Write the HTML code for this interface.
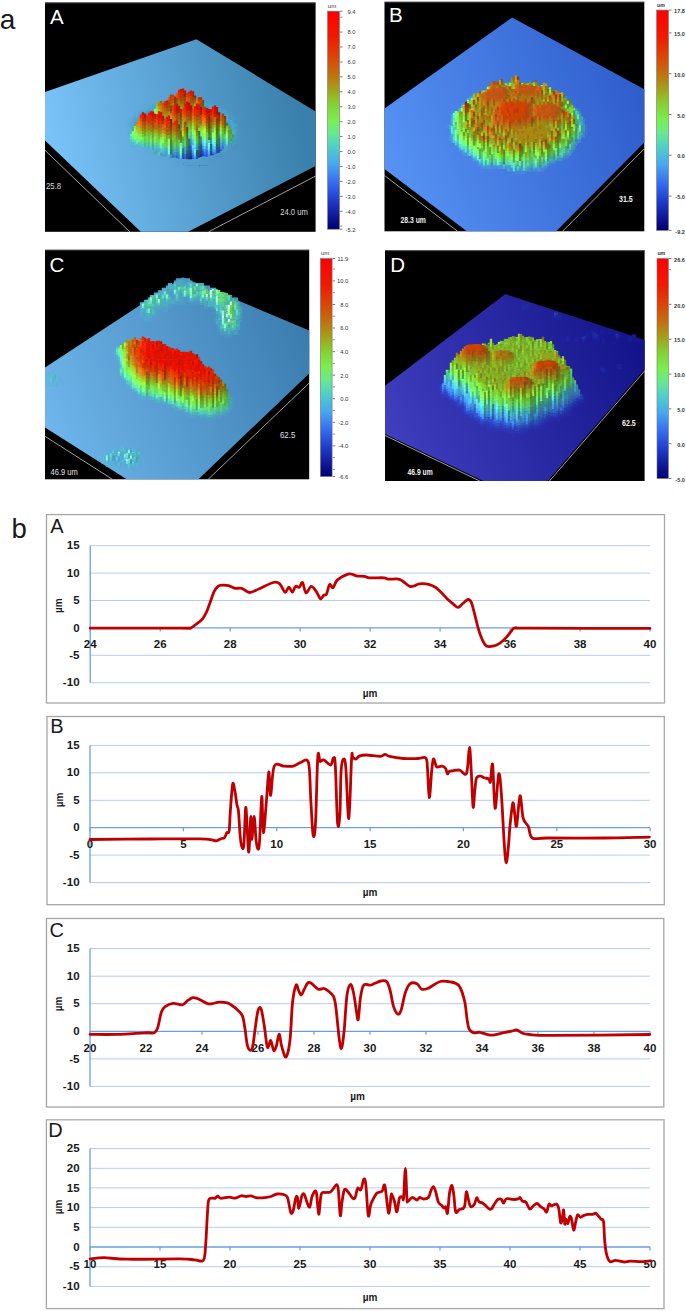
<!DOCTYPE html>
<html><head><meta charset="utf-8"><title>figure</title>
<style>
html,body{margin:0;padding:0;background:#fff;width:686px;height:1311px;overflow:hidden;}
svg{display:block;}
text{font-family:"Liberation Sans",sans-serif;}
</style></head><body>
<svg width="686" height="1311" viewBox="0 0 686 1311">
<defs><linearGradient id="cbg" x1="0" y1="0" x2="0" y2="1"><stop offset="0.00" stop-color="#ff0000"/><stop offset="0.12" stop-color="#f01a00"/><stop offset="0.22" stop-color="#d84a08"/><stop offset="0.29" stop-color="#c07010"/><stop offset="0.35" stop-color="#a89a18"/><stop offset="0.42" stop-color="#88cc30"/><stop offset="0.50" stop-color="#78f050"/><stop offset="0.56" stop-color="#68e890"/><stop offset="0.62" stop-color="#50d0c8"/><stop offset="0.70" stop-color="#48a8f0"/><stop offset="0.78" stop-color="#3870f0"/><stop offset="0.86" stop-color="#2040d0"/><stop offset="0.94" stop-color="#101898"/><stop offset="1.00" stop-color="#000070"/></linearGradient></defs>
<text x="-0.2" y="28.8" font-size="28" fill="#1a1a1a">a</text>
<text x="11.4" y="537.6" font-size="27.5" fill="#1a1a1a">b</text>
<linearGradient id="pgA" gradientUnits="userSpaceOnUse" x1="60" y1="170" x2="300" y2="120"><stop offset="0" stop-color="#78c2f8"/><stop offset="1" stop-color="#3a80ac"/></linearGradient>
<rect x="45.0" y="2.5" width="270.6" height="229.3" fill="#000"/>
<line x1="45.0" y1="2.9" x2="315.6" y2="2.9" stroke="#555" stroke-width="0.8"/>
<polygon points="45.0,92.0 196.4,39.3 315.6,111.4 315.6,165.9 188.2,231.8 140.8,231.8 45.0,140.5" fill="url(#pgA)"/>
<clipPath id="cA"><rect x="45.0" y="2.5" width="270.6" height="229.3"/></clipPath>
<g clip-path="url(#cA)"><g stroke-width="2.35" fill="none">
<path d="M171 97v2.7" stroke="#57a1d1"/>
<path d="M173 97v2.7" stroke="#57a1d0"/>
<path d="M175 97v2.5" stroke="#56a1cf"/>
<path d="M177 97v2.3" stroke="#55a1ce"/>
<path d="M179 97v2.5" stroke="#55a0cd"/>
<path d="M181 97v2.5" stroke="#559fce"/>
<path d="M183 97v2.5" stroke="#549fcd"/>
<path d="M185 97v2.5" stroke="#549ecc"/>
<path d="M187 97v2.6" stroke="#539dcc"/>
<path d="M191 97v2.7" stroke="#539ccb"/>
<path d="M193 97v2.7" stroke="#529cca"/>
<path d="M159 99.2v2.7" stroke="#5aa5d4"/>
<path d="M161 99.2v2.8" stroke="#5aa4d3"/>
<path d="M163 99.2v2.7" stroke="#59a4d3"/>
<path d="M165 99.2v2.9" stroke="#56a4d0"/>
<path d="M167 99.3v3.2" stroke="#54a5cf"/>
<path d="M169 99.2v3.5" stroke="#52a5ce"/>
<path d="M171 99.3v3.2" stroke="#53a6cf"/>
<path d="M173 99.3v3.3" stroke="#50a4cb"/>
<path d="M175 99.1v3.7" stroke="#51a7ce"/>
<path d="M177 98.9v3.4" stroke="#53a4cd"/>
<path d="M179 99.1v2.9" stroke="#55a1cd"/>
<path d="M181 99.1v3.4" stroke="#4da3c6"/>
<path d="M183 99.1v3.5" stroke="#4fa9cd"/>
<path d="M185 99.1v3.5" stroke="#4ca3c6"/>
<path d="M187 99.2v3.7" stroke="#4ea6cb"/>
<path d="M189 99.3v2.7" stroke="#52a1cb"/>
<path d="M191 99.3v2.3" stroke="#529dca"/>
<path d="M193 99.3v2.7" stroke="#519ec9"/>
<path d="M195 99.2v2.2" stroke="#50a9ca"/>
<path d="M197 99.3v2.3" stroke="#4ca0c2"/>
<path d="M199 99.3v2.4" stroke="#4fa8cb"/>
<path d="M201 99.2v2.2" stroke="#4ca0c2"/>
<path d="M203 99.2v2.9" stroke="#4f9cc7"/>
<path d="M205 99.2v2.7" stroke="#4f9ac7"/>
<path d="M155 101.4v2.2" stroke="#57abd2"/>
<path d="M157 101.4v2" stroke="#56a9cf"/>
<path d="M159 101.5v2.3" stroke="#59a5d3"/>
<path d="M161 101.6v3" stroke="#52a5cc"/>
<path d="M163 101.6v3.6" stroke="#52a6d0"/>
<path d="M165 101.8v3.7" stroke="#4ba2c9"/>
<path d="M167 102.1v3.8" stroke="#4ca3cf"/>
<path d="M169 102.3v3.3" stroke="#4ca5d1"/>
<path d="M171 102.1v3.6" stroke="#4ca5d0"/>
<path d="M173 102.2v3.9" stroke="#479eca"/>
<path d="M175 102.3v3.9" stroke="#49a3d3"/>
<path d="M177 101.9v2.4" stroke="#4ea4ce"/>
<path d="M179 101.6v2.5" stroke="#4fa4cc"/>
<path d="M181 102.2v2.3" stroke="#499ec7"/>
<path d="M183 102.2v2.2" stroke="#4ca7d2"/>
<path d="M185 102.2v2.2" stroke="#489ec8"/>
<path d="M187 102.4v3.4" stroke="#4ba9d9"/>
<path d="M189 101.6v2.3" stroke="#4fa1ca"/>
<path d="M191 101.2v2.7" stroke="#4ea1c8"/>
<path d="M193 101.6v2.5" stroke="#4da1c9"/>
<path d="M195 101v2.7" stroke="#4fa6ca"/>
<path d="M197 101.2v2.4" stroke="#4ca0c4"/>
<path d="M199 101.2v2.3" stroke="#4ea5ca"/>
<path d="M201 101v2.5" stroke="#4c9ec2"/>
<path d="M203 101.7v3.8" stroke="#4ba1ca"/>
<path d="M205 101.5v3.1" stroke="#4da8cc"/>
<path d="M207 101.5v2.7" stroke="#4e9bc5"/>
<path d="M209 101.5v2.6" stroke="#4e9dc7"/>
<path d="M211 101.4v2.4" stroke="#4e9ac5"/>
<path d="M213 101.4v2.7" stroke="#4e97c5"/>
<path d="M215 101.4v2.7" stroke="#4d96c4"/>
<path d="M177 103.9v2.4" stroke="#48a1d4"/>
<path d="M179 103.7v2.5" stroke="#48a0d2"/>
<path d="M181 104v2.3" stroke="#4599cb"/>
<path d="M183 104.1v2.2" stroke="#49a3d9"/>
<path d="M185 104.1v2.2" stroke="#4599cc"/>
<path d="M189 103.5v2.3" stroke="#48a2ce"/>
<path d="M191 103.5v2.7" stroke="#469ecd"/>
<path d="M193 103.6v2.5" stroke="#479ece"/>
<path d="M195 103.3v2.7" stroke="#4aa5d4"/>
<path d="M197 103.2v2.4" stroke="#469ec6"/>
<path d="M199 103.1v2.3" stroke="#4ca5cf"/>
<path d="M201 103.1v2.5" stroke="#489cc5"/>
<path d="M147 103.6v2.5" stroke="#5da8d7"/>
<path d="M149 103.6v2.4" stroke="#5ca7d7"/>
<path d="M151 103.7v1.9" stroke="#56afd1"/>
<path d="M153 103.6v2.6" stroke="#51a5c8"/>
<path d="M155 103.2v2.5" stroke="#56a9d1"/>
<path d="M157 103v2.7" stroke="#55a7ce"/>
<path d="M159 103.4v2.6" stroke="#54a6ce"/>
<path d="M161 104.2v2.3" stroke="#4ca2ca"/>
<path d="M163 104.8v3.7" stroke="#49a2d3"/>
<path d="M165 105.1v3.3" stroke="#489ed1"/>
<path d="M167 105.5v3" stroke="#479ed5"/>
<path d="M169 105.2v3.3" stroke="#48a1d8"/>
<path d="M171 105.2v3.2" stroke="#479fd4"/>
<path d="M173 105.6v2.7" stroke="#479dd3"/>
<path d="M175 105.8v2.7" stroke="#479dd7"/>
<path d="M177 105.9v1.7" stroke="#4caadf"/>
<path d="M179 105.8v1.2" stroke="#48a0ce"/>
<path d="M181 105.9v2.1" stroke="#469cd1"/>
<path d="M183 105.9v2.6" stroke="#479dd7"/>
<path d="M185 105.9v2.6" stroke="#479cd7"/>
<path d="M187 105.5v3" stroke="#48a1d9"/>
<path d="M189 105.4v3.1" stroke="#459bd1"/>
<path d="M191 105.8v2.7" stroke="#469cd6"/>
<path d="M193 105.7v2.5" stroke="#48a2db"/>
<path d="M195 105.6v2.6" stroke="#459ad0"/>
<path d="M197 105.3v3.2" stroke="#48a3da"/>
<path d="M199 105v3.4" stroke="#469dce"/>
<path d="M201 105.1v3.3" stroke="#469dd2"/>
<path d="M203 105.1v3.1" stroke="#48a3d5"/>
<path d="M205 104.2v3.2" stroke="#4da8d1"/>
<path d="M207 103.8v3.4" stroke="#4b9dc5"/>
<path d="M209 103.7v2.1" stroke="#4d9ec7"/>
<path d="M211 103.4v1.7" stroke="#4e9ec7"/>
<path d="M213 103.7v1.6" stroke="#4ca1c2"/>
<path d="M215 103.7v2.2" stroke="#4c9cc3"/>
<path d="M217 103.7v2.7" stroke="#4d96c4"/>
<path d="M219 103.6v2.7" stroke="#4c96c3"/>
<path d="M155 105.3v2.5" stroke="#4fa7d1"/>
<path d="M157 105.3v2.7" stroke="#4ba2cc"/>
<path d="M159 105.6v2.6" stroke="#4aa1cf"/>
<path d="M161 106.1v2.3" stroke="#479ccc"/>
<path d="M209 105.4v2.1" stroke="#4aa1cb"/>
<path d="M211 104.7v1.7" stroke="#4dabcc"/>
<path d="M143 105.8v2.7" stroke="#5ea9d9"/>
<path d="M145 105.8v3" stroke="#59a9d4"/>
<path d="M147 105.7v2.8" stroke="#5aacd6"/>
<path d="M149 105.7v3" stroke="#55a7cd"/>
<path d="M151 105.2v2.5" stroke="#55accf"/>
<path d="M153 105.9v2.2" stroke="#51a5ca"/>
<path d="M155 107.3v2.7" stroke="#489ecc"/>
<path d="M157 107.7v3" stroke="#499fd5"/>
<path d="M159 107.8v2.9" stroke="#489ed7"/>
<path d="M161 107.9v2.6" stroke="#49a0d9"/>
<path d="M163 108v2.5" stroke="#479cd5"/>
<path d="M165 108v2.8" stroke="#479dd9"/>
<path d="M167 108.1v2.7" stroke="#479cd8"/>
<path d="M169 108.2v2.6" stroke="#479dda"/>
<path d="M171 108v2.6" stroke="#48a0db"/>
<path d="M173 108v2.4" stroke="#48a0d7"/>
<path d="M175 108.1v1.6" stroke="#4aa5d9"/>
<path d="M177 107.1v1.8" stroke="#4eb4dc"/>
<path d="M179 106.6v1.6" stroke="#50a6cb"/>
<path d="M187 108.1v.9" stroke="#47a0cd"/>
<path d="M189 108.1v1.6" stroke="#479fd2"/>
<path d="M191 108.2v1.9" stroke="#469ed4"/>
<path d="M193 107.8v2.3" stroke="#48a2d7"/>
<path d="M195 107.8v2.5" stroke="#459bcf"/>
<path d="M197 108v2.3" stroke="#47a1d8"/>
<path d="M199 107.9v2.5" stroke="#459ad1"/>
<path d="M201 108.1v1.9" stroke="#49a6dc"/>
<path d="M203 107.8v2.2" stroke="#459ccd"/>
<path d="M205 107v3.5" stroke="#48a5d7"/>
<path d="M207 106.8v3.7" stroke="#459dca"/>
<path d="M209 107.2v3.6" stroke="#459dcf"/>
<path d="M211 106.1v2.4" stroke="#4dadd3"/>
<path d="M213 104.9v2.7" stroke="#4ca0c2"/>
<path d="M215 105.5v2.4" stroke="#4b9bc2"/>
<path d="M217 106v3.6" stroke="#4aa3c9"/>
<path d="M219 105.9v3.1" stroke="#4c9bc4"/>
<path d="M221 105.8v2.6" stroke="#4c99c4"/>
<path d="M223 105.8v2.5" stroke="#4b97c2"/>
<path d="M151 107.3v2.5" stroke="#50a9d1"/>
<path d="M153 107.6v2.2" stroke="#4da1ca"/>
<path d="M211 108v2.4" stroke="#4baadc"/>
<path d="M213 107.2v2.7" stroke="#48a1c8"/>
<path d="M215 107.5v2.4" stroke="#489bc4"/>
<path d="M139 108v2.7" stroke="#5faada"/>
<path d="M141 108.1v2.9" stroke="#5baad6"/>
<path d="M143 108.1v3.4" stroke="#55a9d1"/>
<path d="M145 108.4v3" stroke="#56aad4"/>
<path d="M147 108.1v2.1" stroke="#59a9d4"/>
<path d="M149 108.3v2.4" stroke="#4ea3c9"/>
<path d="M151 109.4v3.3" stroke="#4aa1d3"/>
<path d="M153 109.4v3.4" stroke="#49a3d6"/>
<path d="M155 109.7v3.2" stroke="#479dd1"/>
<path d="M157 110.3v2.6" stroke="#489ed8"/>
<path d="M159 110.3v2.4" stroke="#49a1da"/>
<path d="M161 110.1v2.5" stroke="#49a0d7"/>
<path d="M163 110.2v2.2" stroke="#49a2d9"/>
<path d="M165 110.4v1.9" stroke="#479dd4"/>
<path d="M167 110.4v2.1" stroke="#48a0d9"/>
<path d="M169 110.4v2" stroke="#48a1d9"/>
<path d="M171 110.2v1.7" stroke="#4aa5d9"/>
<path d="M199 110v1.4" stroke="#469fca"/>
<path d="M201 109.5v2.3" stroke="#4aaad7"/>
<path d="M203 109.5v2.5" stroke="#4399c5"/>
<path d="M205 110.1v2.6" stroke="#459dd4"/>
<path d="M207 110.1v3" stroke="#4499d2"/>
<path d="M209 110.3v2.7" stroke="#459bd7"/>
<path d="M211 110v2.3" stroke="#49a5db"/>
<path d="M213 109.5v2.1" stroke="#4aa3cf"/>
<path d="M215 109.4v2.8" stroke="#449ac6"/>
<path d="M217 109.1v3.6" stroke="#48a3d4"/>
<path d="M219 108.6v3.8" stroke="#48a3cd"/>
<path d="M221 108.1v3.8" stroke="#4aa2c9"/>
<path d="M223 107.9v3.4" stroke="#4a9ec4"/>
<path d="M225 108.1v2.8" stroke="#4b96c2"/>
<path d="M227 108v2.7" stroke="#4b95c1"/>
<path d="M147 109.8v2.1" stroke="#4da7cf"/>
<path d="M149 110.3v2.4" stroke="#489cca"/>
<path d="M139 110.3v2.9" stroke="#59aad4"/>
<path d="M141 110.6v3.4" stroke="#52a7cf"/>
<path d="M143 111.1v3.5" stroke="#4ca3ce"/>
<path d="M145 111.1v3.8" stroke="#4da7d6"/>
<path d="M147 111.5v3.5" stroke="#489dcd"/>
<path d="M149 112.3v2.8" stroke="#489ed7"/>
<path d="M151 112.3v2.9" stroke="#49a1da"/>
<path d="M153 112.4v2.6" stroke="#489fd7"/>
<path d="M155 112.5v2.1" stroke="#4aa4dc"/>
<path d="M157 112.5v1.5" stroke="#4ba6d8"/>
<path d="M159 112.3v1.3" stroke="#4ba8d6"/>
<path d="M161 112.3v1.5" stroke="#49a2d0"/>
<path d="M163 112v2.1" stroke="#4ba7d7"/>
<path d="M165 111.9v1.1" stroke="#4fafd8"/>
<path d="M201 111.4v2.8" stroke="#469cc6"/>
<path d="M203 111.7v3.3" stroke="#479dce"/>
<path d="M205 112.3v2.8" stroke="#4498cf"/>
<path d="M207 112.6v2.6" stroke="#459bd7"/>
<path d="M209 112.6v2.7" stroke="#459ad7"/>
<path d="M211 111.9v3" stroke="#49a6dd"/>
<path d="M213 111.2v3.4" stroke="#489fcc"/>
<path d="M215 111.8v3.2" stroke="#4296c7"/>
<path d="M217 112.3v2.8" stroke="#459cd6"/>
<path d="M219 111.9v2.5" stroke="#49a7da"/>
<path d="M221 111.5v2.7" stroke="#469dc8"/>
<path d="M223 110.9v3.5" stroke="#49a5cf"/>
<path d="M225 110.5v3" stroke="#4aa1c7"/>
<path d="M227 110.4v2.5" stroke="#4b95c2"/>
<path d="M135 112.5v2.8" stroke="#5dabd8"/>
<path d="M137 112.5v2.9" stroke="#5dacd9"/>
<path d="M139 112.8v2.9" stroke="#55a7d0"/>
<path d="M141 113.6v3" stroke="#4ca1cd"/>
<path d="M143 114.2v3" stroke="#499fd3"/>
<path d="M145 114.5v2.9" stroke="#489fd8"/>
<path d="M147 114.6v2.8" stroke="#489ed9"/>
<path d="M149 114.7v2.6" stroke="#499fda"/>
<path d="M151 114.8v2.2" stroke="#4aa3dc"/>
<path d="M153 114.6v1.4" stroke="#4dacdd"/>
<path d="M185 90.6v.7" stroke="#920"/>
<path d="M207 114.8v1.5" stroke="#469dd0"/>
<path d="M209 114.8v2.2" stroke="#4499d1"/>
<path d="M211 114.5v3" stroke="#469ed9"/>
<path d="M213 114.2v3.2" stroke="#459dd4"/>
<path d="M215 114.6v2.9" stroke="#4498d1"/>
<path d="M217 114.8v2.7" stroke="#459ad7"/>
<path d="M219 114v3.4" stroke="#48a4db"/>
<path d="M221 113.8v3.5" stroke="#4398ca"/>
<path d="M223 114v2.8" stroke="#48a5d8"/>
<path d="M225 113.1v3.4" stroke="#49a1cb"/>
<path d="M227 112.5v3.6" stroke="#4aa5c9"/>
<path d="M229 112.5v3M231 112.5v2.9" stroke="#4a97c1"/>
<path d="M233 112.4v2.7" stroke="#4a93c0"/>
<path d="M135 114.9v2.8" stroke="#57a9d2"/>
<path d="M137 115v3.3" stroke="#58acd7"/>
<path d="M139 115.3v3.3" stroke="#4fa4cd"/>
<path d="M141 116.2v3.1" stroke="#489dcf"/>
<path d="M143 116.8v2.8" stroke="#489ed8"/>
<path d="M145 117v2.7" stroke="#489eda"/>
<path d="M147 117v2.6" stroke="#489edb"/>
<path d="M149 117v2.5" stroke="#4aa1dc"/>
<path d="M151 116.6v1" stroke="#52b7e4"/>
<path d="M177 93.3v2.7" stroke="#f40"/>
<path d="M179 89.7v3.4" stroke="#e20"/>
<path d="M181 89.1v2.9" stroke="#d10"/>
<path d="M183 88.6v3.5" stroke="#c10"/>
<path d="M185 90.9v3.5" stroke="#a20"/>
<path d="M187 93.1v2.3" stroke="#d30"/>
<path d="M189 91.6v2.9" stroke="#e20"/>
<path d="M191 90.5v2.8" stroke="#d10"/>
<path d="M193 91.3v3.3" stroke="#b20"/>
<path d="M195 95.5v2.6" stroke="#830"/>
<path d="M209 116.6v2.2" stroke="#4398c9"/>
<path d="M211 117.1v2.5" stroke="#4499d4"/>
<path d="M213 117v2.4" stroke="#469fda"/>
<path d="M215 117v2.3" stroke="#4499d2"/>
<path d="M217 117.1v2.5" stroke="#459bd7"/>
<path d="M219 117v2.7" stroke="#459bd6"/>
<path d="M221 116.9v2.7" stroke="#449ad5"/>
<path d="M223 116.5v3.1" stroke="#46a0d8"/>
<path d="M225 116.1v3.3" stroke="#459dd0"/>
<path d="M227 115.7v2.6" stroke="#4bacd7"/>
<path d="M229 115.1v1.7" stroke="#4a9ec4"/>
<path d="M231 114.9v2" stroke="#499abf"/>
<path d="M233 114.7v2.8" stroke="#4a96c1"/>
<path d="M235 114.6v2.7" stroke="#4993bf"/>
<path d="M177 95.5v2.7" stroke="#e50"/>
<path d="M179 92.7v3.4" stroke="#d30"/>
<path d="M181 91.6v2.9" stroke="#d20"/>
<path d="M183 91.7v3.5" stroke="#c20"/>
<path d="M185 94v3.5" stroke="#920"/>
<path d="M187 95v2.3" stroke="#d40"/>
<path d="M131 116.8v2.3" stroke="#5dafd9"/>
<path d="M133 116.8v2.8" stroke="#59abd2"/>
<path d="M135 117.3v3.4" stroke="#50a5cd"/>
<path d="M137 117.8v3.4" stroke="#50a7d5"/>
<path d="M139 118.2v3.4" stroke="#489ece"/>
<path d="M141 118.9v3" stroke="#489ed6"/>
<path d="M143 119.2v2.5" stroke="#499fdb"/>
<path d="M145 119.3v2.1" stroke="#4aa2dd"/>
<path d="M147 119.3v2.1" stroke="#489fd7"/>
<path d="M149 119v2.5" stroke="#4aa2db"/>
<path d="M151 117.2v2" stroke="#54bae0"/>
<path d="M153 114.2v1.5" stroke="#6fc"/>
<path d="M155 108.7v2" stroke="#9f5"/>
<path d="M157 103.7v2.6" stroke="#aa2"/>
<path d="M159 101.2v2.3" stroke="#c81"/>
<path d="M161 101.1v2.3" stroke="#961"/>
<path d="M163 104.3v2.3" stroke="#771"/>
<path d="M165 105.6v2.8" stroke="#8b2"/>
<path d="M167 102.1v2.4" stroke="#da1"/>
<path d="M169 96.9v3.2" stroke="#e50"/>
<path d="M171 94.8v4" stroke="#c30"/>
<path d="M173 94.7v2.9" stroke="#d30"/>
<path d="M175 96.6v2.6" stroke="#930"/>
<path d="M177 97.8v2.6" stroke="#940"/>
<path d="M179 95.6v3.3" stroke="#c40"/>
<path d="M181 94.1v3.6M183 94.8v3.4" stroke="#b30"/>
<path d="M185 97v3.9" stroke="#940"/>
<path d="M187 96.9v3.5" stroke="#d51"/>
<path d="M189 94.2v3.6" stroke="#d30"/>
<path d="M191 92.9v3.7" stroke="#c20"/>
<path d="M193 94.2v3.4" stroke="#a20"/>
<path d="M195 97.7v2.4" stroke="#a40"/>
<path d="M197 99.5v1.2" stroke="#d61"/>
<path d="M203 100.3v.7" stroke="#840"/>
<path d="M207 114.5v.8" stroke="#386"/>
<path d="M209 118.5v2.3" stroke="#4397c2"/>
<path d="M211 119.1v2.7" stroke="#4499d3"/>
<path d="M213 119v2.9" stroke="#469dd9"/>
<path d="M215 118.9v2.9" stroke="#449ad3"/>
<path d="M217 119.2v2.6" stroke="#459bd6"/>
<path d="M219 119.2v2.6" stroke="#4499d4"/>
<path d="M221 119.3v2.6" stroke="#459bd7"/>
<path d="M223 119.2v2.4" stroke="#469dd7"/>
<path d="M225 119v2.5" stroke="#459bd3"/>
<path d="M227 117.9v3.2" stroke="#4baddc"/>
<path d="M229 116.4v2.2" stroke="#4a9ec3"/>
<path d="M231 116.6v2.1" stroke="#4899be"/>
<path d="M233 117.1v2.9" stroke="#499cc4"/>
<path d="M235 116.9v2.6" stroke="#4995c0"/>
<path d="M151 118.8v2" stroke="#53b7e4"/>
<path d="M153 115.3v1.5" stroke="#6fc"/>
<path d="M177 100v2.6" stroke="#951"/>
<path d="M179 98.5v3.3" stroke="#b51"/>
<path d="M181 97.3v3.6" stroke="#a40"/>
<path d="M183 97.8v3.4" stroke="#a41"/>
<path d="M185 100.6v3.9" stroke="#851"/>
<path d="M187 100.1v3.5" stroke="#c71"/>
<path d="M189 97.4v3.6" stroke="#c51"/>
<path d="M191 96.2v3.7" stroke="#b40"/>
<path d="M193 97.2v3.4" stroke="#940"/>
<path d="M195 99.6v2.4" stroke="#951"/>
<path d="M229 118.2v2.2" stroke="#4a9dc5"/>
<path d="M231 118.3v2.1" stroke="#4897c0"/>
<path d="M177 102.2v2.6" stroke="#861"/>
<path d="M179 101.4v3.3" stroke="#a71"/>
<path d="M181 100.4v3.6M183 100.8v3.4" stroke="#961"/>
<path d="M185 104.1v3.9" stroke="#771"/>
<path d="M187 103.2v3.5" stroke="#ba1"/>
<path d="M189 100.6v3.6" stroke="#b61"/>
<path d="M191 99.6v3.7" stroke="#a51"/>
<path d="M193 100.3v3.4" stroke="#951"/>
<path d="M195 101.6v2.4" stroke="#961"/>
<path d="M179 104.2v3.3" stroke="#992"/>
<path d="M181 103.6v3.6M183 103.8v3.4" stroke="#881"/>
<path d="M131 118.7v3.2" stroke="#5daed8"/>
<path d="M133 119.2v3.5" stroke="#54a7ce"/>
<path d="M135 120.4v3" stroke="#4ba1cf"/>
<path d="M137 120.8v3" stroke="#4ca2d7"/>
<path d="M139 121.2v2.3" stroke="#4ba4da"/>
<path d="M141 121.4v2.1" stroke="#489dd4"/>
<path d="M143 121.4v2.4" stroke="#4ba3de"/>
<path d="M145 121v2.6" stroke="#4ba3d8"/>
<path d="M147 121v3" stroke="#489dd4"/>
<path d="M149 121.2v1.7" stroke="#4eafe3"/>
<path d="M151 120.4v2.1" stroke="#4da7d0"/>
<path d="M153 116.5v2.3" stroke="#6ec"/>
<path d="M155 110.4v3.4" stroke="#8f5"/>
<path d="M157 105.9v3.4" stroke="#ac2"/>
<path d="M159 103.1v3.3" stroke="#a81"/>
<path d="M161 103.1v2.3" stroke="#a71"/>
<path d="M167 104.2v1" stroke="#c91"/>
<path d="M169 99.7v2.5" stroke="#b51"/>
<path d="M171 98.4v3.2" stroke="#b40"/>
<path d="M173 97.2v3.4" stroke="#d40"/>
<path d="M175 98.8v3.4" stroke="#830"/>
<path d="M177 104.4v2.7" stroke="#761"/>
<path d="M179 107.1v2.8" stroke="#682"/>
<path d="M181 106.8v3.5" stroke="#8b2"/>
<path d="M183 106.8v3.5" stroke="#692"/>
<path d="M185 107.6v3.7" stroke="#7a2"/>
<path d="M187 106.4v3.5" stroke="#9c2"/>
<path d="M189 103.8v3.8" stroke="#981"/>
<path d="M191 102.9v3.8" stroke="#971"/>
<path d="M193 103.3v3.6" stroke="#871"/>
<path d="M195 103.5v2.7" stroke="#b91"/>
<path d="M197 100.2v3.6" stroke="#e71"/>
<path d="M199 96.9v4" stroke="#c30"/>
<path d="M201 97v3.6" stroke="#b30"/>
<path d="M203 100.5v3.2" stroke="#840"/>
<path d="M205 106.8v3.3" stroke="#571"/>
<path d="M207 114.9v2.5" stroke="#485"/>
<path d="M209 120.4v2.8" stroke="#4295bf"/>
<path d="M211 121.4v2.7" stroke="#4499d4"/>
<path d="M213 121.5v2.6" stroke="#449ad7"/>
<path d="M215 121.5v2.7" stroke="#459bd8"/>
<path d="M217 121.4v2.8" stroke="#449ad6"/>
<path d="M219 121.4v2.7" stroke="#4499d6"/>
<path d="M221 121.5v2.6" stroke="#449ad7"/>
<path d="M223 121.2v2.8" stroke="#469dd7"/>
<path d="M225 121.2v2.2" stroke="#46a0d5"/>
<path d="M227 120.7v2.7" stroke="#469fd0"/>
<path d="M229 120v3.9" stroke="#46a0cf"/>
<path d="M231 120v2.6" stroke="#4aaad2"/>
<path d="M233 119.7v1.6" stroke="#4a9ec4"/>
<path d="M235 119.1v2.4" stroke="#4996bf"/>
<path d="M237 118.9v2.9" stroke="#4994bf"/>
<path d="M153 118.3v2.3" stroke="#5dd"/>
<path d="M155 113.4v3.4" stroke="#7f7"/>
<path d="M157 108.9v3.4" stroke="#9e4"/>
<path d="M159 106v3.3" stroke="#9a2"/>
<path d="M161 105v2.3" stroke="#a81"/>
<path d="M167 104.7v1" stroke="#c81"/>
<path d="M169 101.9v2.5" stroke="#b61"/>
<path d="M171 101.2v3.2" stroke="#a51"/>
<path d="M173 100.2v3.4" stroke="#c51"/>
<path d="M175 101.7v3.4" stroke="#841"/>
<path d="M177 106.7v2.7" stroke="#671"/>
<path d="M179 109.5v2.8" stroke="#592"/>
<path d="M181 109.9v3.5" stroke="#7c4"/>
<path d="M183 110v3.5" stroke="#6a3"/>
<path d="M185 110.9v3.7" stroke="#6b4"/>
<path d="M187 109.5v3.5" stroke="#8d4"/>
<path d="M189 107.2v3.8" stroke="#7a2"/>
<path d="M191 106.4v3.8" stroke="#8a2"/>
<path d="M193 106.6v3.6" stroke="#792"/>
<path d="M195 105.8v2.7" stroke="#ab2"/>
<path d="M197 103.5v3.6" stroke="#c81"/>
<path d="M199 100.5v4" stroke="#b51"/>
<path d="M201 100.3v3.6" stroke="#b41"/>
<path d="M203 103.4v3.2" stroke="#751"/>
<path d="M205 109.8v3.3" stroke="#582"/>
<path d="M207 117v2.5" stroke="#386"/>
<path d="M153 120.2v2.3" stroke="#59c3e6"/>
<path d="M155 116.4v3.4" stroke="#6fb"/>
<path d="M157 111.9v3.4" stroke="#8f5"/>
<path d="M159 108.9v3.3" stroke="#8c3"/>
<path d="M161 106.9v2.3" stroke="#992"/>
<path d="M169 104v2.5M171 104v3.2" stroke="#a71"/>
<path d="M173 103.2v3.4" stroke="#b71"/>
<path d="M175 104.7v3.4" stroke="#751"/>
<path d="M177 109v2.7" stroke="#582"/>
<path d="M179 112v2.8" stroke="#5a3"/>
<path d="M181 113v3.5" stroke="#6d5"/>
<path d="M183 113.1v3.5" stroke="#5b5"/>
<path d="M185 114.1v3.7" stroke="#5b6"/>
<path d="M187 112.7v3.5" stroke="#7e6"/>
<path d="M189 110.6v3.8" stroke="#7c4"/>
<path d="M191 109.8v3.8" stroke="#7c3"/>
<path d="M193 109.8v3.6" stroke="#6a3"/>
<path d="M195 108.1v2.7" stroke="#9c3"/>
<path d="M179 114.4v2.8" stroke="#5a5"/>
<path d="M181 116.1v3.5" stroke="#5c9"/>
<path d="M183 116.2v3.5" stroke="#4a7"/>
<path d="M185 117.4v3.7" stroke="#4b9"/>
<path d="M187 115.8v3.5" stroke="#6e9"/>
<path d="M189 114v3.8" stroke="#6c6"/>
<path d="M191 113.2v3.8" stroke="#6d5"/>
<path d="M193 113v3.6" stroke="#6b4"/>
<path d="M195 110.4v2.7" stroke="#8e4"/>
<path d="M127 121.3v2.7" stroke="#63addf"/>
<path d="M129 121.2v2.9" stroke="#61addd"/>
<path d="M131 121.5v3.1" stroke="#56a9d1"/>
<path d="M133 122.3v2.8" stroke="#55a9d6"/>
<path d="M135 123v2.4" stroke="#4ba1d0"/>
<path d="M137 123.4v2.6" stroke="#499fd6"/>
<path d="M139 123v3.3" stroke="#4aa4dc"/>
<path d="M141 123.1v3.2" stroke="#479bd3"/>
<path d="M143 123.4v3" stroke="#49a1dd"/>
<path d="M145 123.2v3.1" stroke="#489ed7"/>
<path d="M147 123.6v2.8" stroke="#489dd9"/>
<path d="M149 122.5v2.1" stroke="#4daedf"/>
<path d="M151 122.1v2.3" stroke="#4ba1cb"/>
<path d="M153 122.1v2.1" stroke="#50aeda"/>
<path d="M155 119.4v2.8" stroke="#5dc"/>
<path d="M157 115v2" stroke="#8f7"/>
<path d="M173 106.1v2" stroke="#861"/>
<path d="M175 107.7v3.1" stroke="#661"/>
<path d="M177 111.3v3.2" stroke="#6a3"/>
<path d="M179 116.8v2.8" stroke="#496"/>
<path d="M181 119.2v3.2" stroke="#5dc"/>
<path d="M183 119.4v3.2" stroke="#499"/>
<path d="M185 120.6v3" stroke="#51a7cc"/>
<path d="M187 119v3.6" stroke="#5cb"/>
<path d="M189 117.5v3" stroke="#5c9"/>
<path d="M191 116.7v3.3M193 116.3v3.3" stroke="#5c8"/>
<path d="M195 112.6v3.2" stroke="#8f5"/>
<path d="M197 106.7v3.4" stroke="#aa2"/>
<path d="M199 104v3.3" stroke="#b71"/>
<path d="M201 103.5v3.4" stroke="#851"/>
<path d="M203 106.2v3.4" stroke="#761"/>
<path d="M205 112.7v3.1" stroke="#593"/>
<path d="M207 119.2v2.4" stroke="#398"/>
<path d="M209 122.8v3.5" stroke="#4297c9"/>
<path d="M211 123.7v2.7" stroke="#459ad6"/>
<path d="M213 123.8v2.6" stroke="#449ad7"/>
<path d="M215 123.8v2.5" stroke="#459bd9"/>
<path d="M217 123.8v1.7" stroke="#48a4dd"/>
<path d="M219 123.8v1.8" stroke="#4297cc"/>
<path d="M221 123.7v2.7" stroke="#449ad7"/>
<path d="M223 123.6v2.8" stroke="#449bd7"/>
<path d="M225 123v3.4" stroke="#46a0d8"/>
<path d="M227 123v3.3" stroke="#4397cd"/>
<path d="M229 123.5v2.5" stroke="#469fd8"/>
<path d="M231 122.2v1.9" stroke="#4aa8d3"/>
<path d="M233 120.9v2.1" stroke="#4a9cc3"/>
<path d="M235 121.1v2.9" stroke="#4995bf"/>
<path d="M237 121.4v2.6" stroke="#4994c0"/>
<path d="M239 121.3v2.7" stroke="#4992bf"/>
<path d="M149 124.2v2.1" stroke="#4ca9e4"/>
<path d="M151 124v2.3" stroke="#469acd"/>
<path d="M153 123.8v2.1" stroke="#4daade"/>
<path d="M155 121.8v2.8" stroke="#56c0df"/>
<path d="M157 116.6v2" stroke="#8f8"/>
<path d="M173 107.7v2" stroke="#771"/>
<path d="M175 110.4v3.1" stroke="#572"/>
<path d="M177 114.1v3.2" stroke="#6b4"/>
<path d="M179 119.2v2.8" stroke="#387"/>
<path d="M181 122v3.2" stroke="#52b5d9"/>
<path d="M183 122.2v3.2" stroke="#4092b0"/>
<path d="M185 123.2v3" stroke="#49a5d5"/>
<path d="M187 122.2v3.6" stroke="#4daed4"/>
<path d="M189 120.1v3" stroke="#4caebd"/>
<path d="M191 119.6v3.3" stroke="#4bb6b7"/>
<path d="M193 119.2v3.3" stroke="#4cb9ae"/>
<path d="M195 115.4v3.2" stroke="#7f7"/>
<path d="M197 109.7v3.4" stroke="#8c3"/>
<path d="M199 106.9v3.3" stroke="#a91"/>
<path d="M201 106.5v3.4" stroke="#771"/>
<path d="M203 109.3v3.4" stroke="#682"/>
<path d="M205 115.4v3.1" stroke="#494"/>
<path d="M207 121.2v2.4" stroke="#3c90a0"/>
<path d="M231 123.7v1.9" stroke="#49a4d5"/>
<path d="M233 122.6v2.1" stroke="#4aa5ca"/>
<path d="M173 109.3v2" stroke="#771"/>
<path d="M175 113.1v3.1" stroke="#582"/>
<path d="M177 116.9v3.2" stroke="#5b6"/>
<path d="M179 121.5v2.8" stroke="#388"/>
<path d="M189 122.7v3" stroke="#4aa3c9"/>
<path d="M191 122.5v3.3" stroke="#4aa3ca"/>
<path d="M193 122.2v3.3" stroke="#4aa4c6"/>
<path d="M195 118.2v3.2" stroke="#6fb"/>
<path d="M197 112.7v3.4" stroke="#8e4"/>
<path d="M199 109.8v3.3" stroke="#8b3"/>
<path d="M201 109.5v3.4" stroke="#682"/>
<path d="M203 112.3v3.4" stroke="#593"/>
<path d="M205 118.1v3.1" stroke="#496"/>
<path d="M207 123.2v2.4" stroke="#3e8aae"/>
<path d="M175 115.9v3.1" stroke="#494"/>
<path d="M177 119.6v3.2" stroke="#4a8"/>
<path d="M195 120.9v3.2" stroke="#5dd"/>
<path d="M197 115.7v3.4" stroke="#7e6"/>
<path d="M199 112.7v3.3" stroke="#7d4"/>
<path d="M201 112.6v3.4" stroke="#6a3"/>
<path d="M203 115.4v3.4" stroke="#5a4"/>
<path d="M205 120.7v3.1" stroke="#388"/>
<path d="M197 118.7v3.4" stroke="#6da"/>
<path d="M199 115.6v3.3" stroke="#7e5"/>
<path d="M201 115.6v3.4" stroke="#5a4"/>
<path d="M203 118.4v3.4" stroke="#496"/>
<path d="M127 123.5v2.7" stroke="#62aede"/>
<path d="M129 123.6v2.7" stroke="#60addc"/>
<path d="M131 124.2v2.6" stroke="#56a9d2"/>
<path d="M133 124.7v2.4" stroke="#57abd8"/>
<path d="M135 124.9v2.8" stroke="#499ecc"/>
<path d="M137 125.6v2.9" stroke="#489dd6"/>
<path d="M139 125.9v2.1" stroke="#4ba5df"/>
<path d="M141 126v2" stroke="#479cd4"/>
<path d="M143 126v2.6" stroke="#489edc"/>
<path d="M145 126v2.3" stroke="#49a0dc"/>
<path d="M147 126v2.4" stroke="#479dd8"/>
<path d="M149 125.9v2.6" stroke="#489fdc"/>
<path d="M151 125.8v2.6" stroke="#499fdb"/>
<path d="M153 125.5v1.5" stroke="#50b2e4"/>
<path d="M155 124.2v1.2" stroke="#54b7d6"/>
<path d="M157 118.3v2" stroke="#8f8"/>
<path d="M159 111.5v1.7" stroke="#ac2"/>
<path d="M161 106.3v2.6" stroke="#d71"/>
<path d="M163 102.7v2.7" stroke="#d40"/>
<path d="M165 101v2.1" stroke="#e30"/>
<path d="M167 100.5v2.7" stroke="#b20"/>
<path d="M169 102.3v2.5" stroke="#b30"/>
<path d="M171 105.2v2" stroke="#840"/>
<path d="M173 111v1.7" stroke="#671"/>
<path d="M177 122.4v.7" stroke="#4b9"/>
<path d="M179 123.9v1" stroke="#48a0b8"/>
<path d="M181 124.8v1.5" stroke="#4da8cd"/>
<path d="M183 125v2" stroke="#469fc7"/>
<path d="M185 125.8v1" stroke="#4aa7d6"/>
<path d="M191 125.5v.9" stroke="#4ba6d0"/>
<path d="M193 125.1v1.9" stroke="#49a0cc"/>
<path d="M195 123.7v2.4" stroke="#4ea7ce"/>
<path d="M197 121.7v3.6" stroke="#4bbac2"/>
<path d="M199 118.5v3.6" stroke="#6e9"/>
<path d="M201 118.6v3.6" stroke="#4a7"/>
<path d="M203 121.5v3.7" stroke="#47abb4"/>
<path d="M205 123.4v2.8" stroke="#4499ba"/>
<path d="M207 125.3v3.7" stroke="#4197d1"/>
<path d="M209 125.8v3.1" stroke="#4298d8"/>
<path d="M211 125.9v2.8" stroke="#449cdd"/>
<path d="M213 126v2.7" stroke="#4398d7"/>
<path d="M215 125.9v2.9" stroke="#449ada"/>
<path d="M217 125v2.1" stroke="#47a4d9"/>
<path d="M219 125.1v2" stroke="#4297c9"/>
<path d="M221 126v2.7" stroke="#4499d8"/>
<path d="M223 126v2.7" stroke="#4499d9"/>
<path d="M225 126v2.7" stroke="#449ad8"/>
<path d="M227 125.9v2.2" stroke="#46a0db"/>
<path d="M229 125.6v2.4" stroke="#459cd1"/>
<path d="M231 125.2v2.9" stroke="#469fd3"/>
<path d="M233 124.4v2.9" stroke="#4aa7d2"/>
<path d="M235 123.6v2.1" stroke="#4ba5c6"/>
<path d="M237 123.6v1.8" stroke="#479dbc"/>
<path d="M239 123.5v2.6" stroke="#4993bf"/>
<path d="M171 106.8v2" stroke="#841"/>
<path d="M173 112.2v1.7" stroke="#671"/>
<path d="M195 125.7v2.4" stroke="#4aa6d6"/>
<path d="M197 124.9v3.6" stroke="#49a7d3"/>
<path d="M199 121.7v3.6" stroke="#5cc"/>
<path d="M201 121.7v3.6" stroke="#499"/>
<path d="M203 124.8v3.7" stroke="#449bc4"/>
<path d="M205 125.9v2.8" stroke="#3e8fbf"/>
<path d="M217 126.7v2.1" stroke="#46a0e0"/>
<path d="M219 126.7v2" stroke="#4093cd"/>
<path d="M199 124.9v3.6" stroke="#4cb1dd"/>
<path d="M201 124.9v3.6" stroke="#3e8eb1"/>
<path d="M127 125.8v2.3" stroke="#62aede"/>
<path d="M129 125.9v2.2" stroke="#60addc"/>
<path d="M131 126.4v2.1" stroke="#59acd5"/>
<path d="M133 126.7v2.8" stroke="#4ca3cc"/>
<path d="M135 127.4v3" stroke="#499fd1"/>
<path d="M137 128.1v2.4" stroke="#489ed8"/>
<path d="M139 127.6v3.2" stroke="#4ba4de"/>
<path d="M141 127.6v2.9" stroke="#489fd5"/>
<path d="M143 128.1v2.3" stroke="#489ed8"/>
<path d="M145 127.9v2.9" stroke="#49a0dc"/>
<path d="M147 128v2.8" stroke="#479cd8"/>
<path d="M149 128.1v2.5" stroke="#49a0dd"/>
<path d="M151 128v2.6" stroke="#489ed8"/>
<path d="M153 126.6v3.4" stroke="#50b5e5"/>
<path d="M155 125v4.1" stroke="#56acd2"/>
<path d="M157 119.9v2.4" stroke="#8f9"/>
<path d="M159 112.8v3" stroke="#ad3"/>
<path d="M161 108.5v3.8" stroke="#c81"/>
<path d="M163 104.9v4.1" stroke="#d51"/>
<path d="M165 102.8v3.2" stroke="#c30"/>
<path d="M167 102.8v3.1" stroke="#b30"/>
<path d="M169 104.4v3.9" stroke="#b40"/>
<path d="M171 108.4v3" stroke="#741"/>
<path d="M173 113.5v1.5" stroke="#792"/>
<path d="M205 128.3v1.4" stroke="#4197cc"/>
<path d="M207 128.5v2.5M209 128.5v2.9" stroke="#49d"/>
<path d="M211 128.3v2.9" stroke="#429ae0"/>
<path d="M213 128.3v2.7" stroke="#4399d9"/>
<path d="M215 128.4v2.6" stroke="#4398d9"/>
<path d="M217 128.4v2.6" stroke="#4398da"/>
<path d="M219 128.4v2.7" stroke="#4398d9"/>
<path d="M221 128.3v2" stroke="#47a2e1"/>
<path d="M223 128.3v1.5" stroke="#449cd3"/>
<path d="M225 128.3v1.3" stroke="#47a4da"/>
<path d="M227 127.7v2.3" stroke="#439bce"/>
<path d="M229 127.6v3.3" stroke="#4299d2"/>
<path d="M231 127.8v2.8" stroke="#469fd8"/>
<path d="M233 126.9v2.8" stroke="#4aa6d4"/>
<path d="M235 125.3v2.1" stroke="#4aa4c5"/>
<path d="M237 125v2" stroke="#489fbd"/>
<path d="M239 125.8v2.4" stroke="#4993bf"/>
<path d="M157 121.9v2.4" stroke="#7fb"/>
<path d="M159 115.4v3" stroke="#9e4"/>
<path d="M161 111.9v3.8" stroke="#ba2"/>
<path d="M163 108.6v4.1" stroke="#b71"/>
<path d="M165 105.5v3.2" stroke="#c40"/>
<path d="M167 105.5v3.1" stroke="#a40"/>
<path d="M169 107.8v3.9" stroke="#a51"/>
<path d="M171 111v3" stroke="#751"/>
<path d="M173 114.6v1.5" stroke="#792"/>
<path d="M235 127v2.1" stroke="#4a9cc5"/>
<path d="M237 126.6v2" stroke="#4899bf"/>
<path d="M157 124v2.4" stroke="#6fc"/>
<path d="M159 118v3" stroke="#8f5"/>
<path d="M165 108.3v3.2" stroke="#b61"/>
<path d="M167 108.3v3.1" stroke="#a51"/>
<path d="M127 127.7v2.7" stroke="#62afde"/>
<path d="M129 127.7v2.7" stroke="#61addd"/>
<path d="M131 128v2.3" stroke="#61addc"/>
<path d="M133 129.1v2.3" stroke="#499dc3"/>
<path d="M135 129.9v2.8" stroke="#4aa1d8"/>
<path d="M137 130.1v2.7" stroke="#499fd8"/>
<path d="M139 130.4v2.5" stroke="#489eda"/>
<path d="M141 130.1v2.9" stroke="#4aa1dd"/>
<path d="M143 130.1v2.9" stroke="#489dd7"/>
<path d="M145 130.4v2.1" stroke="#4aa4df"/>
<path d="M147 130.4v2.1" stroke="#479cd5"/>
<path d="M149 130.2v2.8" stroke="#489fdc"/>
<path d="M151 130.2v1.8" stroke="#4ca9e0"/>
<path d="M153 129.7v2.3" stroke="#49a3d2"/>
<path d="M155 128.7v4" stroke="#4ca8d7"/>
<path d="M157 126v3.1" stroke="#5dc"/>
<path d="M159 120.6v3.5" stroke="#7f6"/>
<path d="M161 115.3v3.5" stroke="#9c3"/>
<path d="M163 112.3v3.8" stroke="#981"/>
<path d="M165 111v3.7M167 111v3.2" stroke="#a71"/>
<path d="M169 111.3v3.1M171 113.6v1" stroke="#a81"/>
<path d="M223 129.4v2.8" stroke="#469ac9"/>
<path d="M225 129.1v3.3" stroke="#48a1d1"/>
<path d="M227 129.6v3.4" stroke="#3c8ec1"/>
<path d="M229 130.5v3" stroke="#4298df"/>
<path d="M231 130.1v2.5" stroke="#47a6e3"/>
<path d="M233 129.3v2" stroke="#4aa9d3"/>
<path d="M235 128.7v1.3" stroke="#4a9fc5"/>
<path d="M237 128.2v1.9" stroke="#499cc0"/>
<path d="M239 127.7v2.8" stroke="#4994bf"/>
<path d="M157 128.7v3.1" stroke="#55bae0"/>
<path d="M159 123.7v3.5" stroke="#6fa"/>
<path d="M161 118.4v3.5" stroke="#8e4"/>
<path d="M163 115.7v3.8" stroke="#8b2"/>
<path d="M165 114.3v3.7" stroke="#8a2"/>
<path d="M167 113.8v3.2" stroke="#991"/>
<path d="M169 114v3.1" stroke="#992"/>
<path d="M171 114.2v1" stroke="#a81"/>
<path d="M159 126.8v3.5" stroke="#5dd"/>
<path d="M161 121.6v3.5" stroke="#7e6"/>
<path d="M163 119.1v3.8" stroke="#7c4"/>
<path d="M165 117.6v3.7" stroke="#7c3"/>
<path d="M167 116.5v3.2" stroke="#7a2"/>
<path d="M169 116.8v3.1" stroke="#8b2"/>
<path d="M161 124.7v3.5" stroke="#6e9"/>
<path d="M163 122.5v3.8" stroke="#6d6"/>
<path d="M165 120.8v3.7" stroke="#7d4"/>
<path d="M167 119.3v3.2" stroke="#7c3"/>
<path d="M129 130v2.9" stroke="#5dadd9"/>
<path d="M131 130v1.9" stroke="#56bfd6"/>
<path d="M133 131v1.3" stroke="#499dba"/>
<path d="M135 132.3v2.1" stroke="#499fd3"/>
<path d="M137 132.4v2.5" stroke="#4aa1da"/>
<path d="M139 132.5v2.5" stroke="#499fd9"/>
<path d="M141 132.6v2.3" stroke="#49a0db"/>
<path d="M143 132.6v2.3" stroke="#499fda"/>
<path d="M145 132.1v2.9" stroke="#4ba4dd"/>
<path d="M147 132.1v2.7" stroke="#489ed4"/>
<path d="M149 132.6v2.1" stroke="#489fd9"/>
<path d="M151 131.6v3.3" stroke="#4ba9de"/>
<path d="M153 131.5v3.5" stroke="#489ccd"/>
<path d="M155 132.2v2.8" stroke="#4aa1da"/>
<path d="M157 131.4v3.6" stroke="#4ba6da"/>
<path d="M159 129.9v2.7" stroke="#53afd4"/>
<path d="M161 127.8v3.7" stroke="#4cb"/>
<path d="M163 125.9v3.2" stroke="#5c9"/>
<path d="M165 124.1v3.2" stroke="#7e8"/>
<path d="M167 122v2.7" stroke="#8f5"/>
<path d="M169 119.5v1.3" stroke="#9d3"/>
<path d="M175 104.6v.9" stroke="#f10"/>
<path d="M177 103.7v.8" stroke="#c10"/>
<path d="M191 105.5v.7" stroke="#a10"/>
<path d="M227 132.6v.5" stroke="#398aaf"/>
<path d="M229 133.1v2.8" stroke="#49d"/>
<path d="M231 132.3v3.5" stroke="#4ae"/>
<path d="M233 130.9v3.3" stroke="#4bb3dd"/>
<path d="M235 129.6v2.6" stroke="#4ba5c5"/>
<path d="M237 129.6v2.5" stroke="#4799b9"/>
<path d="M239 130.1v2.6" stroke="#4994c0"/>
<path d="M159 132.2v2.7" stroke="#4daadc"/>
<path d="M161 131.1v3.7" stroke="#4facd5"/>
<path d="M163 128.7v3.2" stroke="#4dbac0"/>
<path d="M165 126.9v3.2" stroke="#6da"/>
<path d="M167 124.3v2.7" stroke="#8f7"/>
<path d="M163 131.5v3.2" stroke="#4da9d1"/>
<path d="M165 129.7v3.2" stroke="#5cc"/>
<path d="M129 132.5v2.5" stroke="#5eadd9"/>
<path d="M131 131.5v2.1" stroke="#54bcd2"/>
<path d="M133 131.8v2" stroke="#4ca6be"/>
<path d="M135 134v1.4" stroke="#4da7d0"/>
<path d="M159 134.5v1.7" stroke="#49a1d3"/>
<path d="M161 134.4v1.6" stroke="#4eaada"/>
<path d="M163 134.3v1.9" stroke="#489ecd"/>
<path d="M165 132.5v2.3" stroke="#53b9dd"/>
<path d="M167 126.6v3.4" stroke="#8f9"/>
<path d="M169 120.3v3.1" stroke="#ae3"/>
<path d="M171 113.5v3" stroke="#e71"/>
<path d="M173 107.6v3" stroke="#f30"/>
<path d="M175 105v3.6" stroke="#f10"/>
<path d="M177 104.1v2.2" stroke="#c10"/>
<path d="M179 105.5v2.6" stroke="#b10"/>
<path d="M181 108.9v2.6" stroke="#920"/>
<path d="M183 108.8v2.9" stroke="#f30"/>
<path d="M185 104v3.5" stroke="#f10"/>
<path d="M187 101.6v3.4" stroke="#e00"/>
<path d="M189 102.5v2.9" stroke="#c00"/>
<path d="M191 105.8v2.3" stroke="#a10"/>
<path d="M193 108.8v.6" stroke="#e20"/>
<path d="M195 106.5v.5" stroke="#f10"/>
<path d="M197 103.5v2.8" stroke="#e10"/>
<path d="M199 104.3v1.2" stroke="#d10"/>
<path d="M231 135.4v1.2" stroke="#49d"/>
<path d="M233 133.8v2.8" stroke="#49acdd"/>
<path d="M235 131.8v4" stroke="#4ba7ca"/>
<path d="M237 131.7v3.4" stroke="#489bbd"/>
<path d="M239 132.3v2.6" stroke="#4993bf"/>
<path d="M131 133.2v2.1" stroke="#5eb1dc"/>
<path d="M133 133.4v2" stroke="#59a8d2"/>
<path d="M165 134.3v2.3" stroke="#51b4e4"/>
<path d="M167 129.7v3.4" stroke="#7fc"/>
<path d="M169 123v3.1" stroke="#9f4"/>
<path d="M171 116.1v3" stroke="#d91"/>
<path d="M173 110.2v3" stroke="#f40"/>
<path d="M177 105.9v2.2" stroke="#c10"/>
<path d="M179 107.7v2.6" stroke="#b10"/>
<path d="M181 111.1v2.6" stroke="#930"/>
<path d="M183 111.3v2.9" stroke="#e40"/>
<path d="M185 107v3.5" stroke="#f20"/>
<path d="M187 104.6v3.4" stroke="#d10"/>
<path d="M189 105v2.9" stroke="#c10"/>
<path d="M191 107.7v2.3" stroke="#a10"/>
<path d="M129 134.6v2" stroke="#5eb0da"/>
<path d="M167 132.7v2.3" stroke="#5cc"/>
<path d="M169 125.7v3.5" stroke="#8f5"/>
<path d="M171 118.6v4" stroke="#ba2"/>
<path d="M173 112.8v3.6" stroke="#d51"/>
<path d="M175 108.2v3.5" stroke="#d20"/>
<path d="M177 107.7v3.5" stroke="#b10"/>
<path d="M179 109.8v3.6" stroke="#b20"/>
<path d="M181 113.3v4" stroke="#830"/>
<path d="M183 113.9v3.9" stroke="#d61"/>
<path d="M185 110.1v3.2" stroke="#e30"/>
<path d="M187 107.6v3.6M189 107.6v3.6" stroke="#c10"/>
<path d="M191 109.6v3.4" stroke="#a20"/>
<path d="M193 109v4" stroke="#f30"/>
<path d="M195 106.6v3.4" stroke="#e10"/>
<path d="M197 105.8v4.1M199 105.1v3" stroke="#d10"/>
<path d="M201 106.8v3.2" stroke="#a10"/>
<path d="M203 108.8v2.1" stroke="#f20"/>
<path d="M205 108.6v.6" stroke="#f10"/>
<path d="M207 108v.7" stroke="#d10"/>
<path d="M209 109v1.3" stroke="#c10"/>
<path d="M211 109.2v.8M213 106.5v.8" stroke="#f10"/>
<path d="M219 112.1v.7" stroke="#820"/>
<path d="M235 135.4v2.2" stroke="#49a2c9"/>
<path d="M237 134.7v2.6" stroke="#4997c1"/>
<path d="M239 134.6v2.5" stroke="#4993c0"/>
<path d="M167 134.6v2.3" stroke="#55bad3"/>
<path d="M169 128.8v3.5" stroke="#8f8"/>
<path d="M171 122.3v4" stroke="#ad3"/>
<path d="M173 115.9v3.6" stroke="#c71"/>
<path d="M175 111.3v3.5" stroke="#d30"/>
<path d="M177 110.8v3.5" stroke="#a20"/>
<path d="M179 113v3.6" stroke="#b40"/>
<path d="M181 116.9v4" stroke="#751"/>
<path d="M183 117.4v3.9" stroke="#b81"/>
<path d="M185 112.9v3.2" stroke="#d40"/>
<path d="M187 110.7v3.6" stroke="#c30"/>
<path d="M189 110.8v3.6" stroke="#b30"/>
<path d="M191 112.6v3.4" stroke="#a30"/>
<path d="M193 112.7v4" stroke="#e50"/>
<path d="M195 109.6v3.4" stroke="#e20"/>
<path d="M197 109.5v4.1" stroke="#d20"/>
<path d="M199 107.7v3" stroke="#d10"/>
<path d="M201 109.5v3.2" stroke="#a10"/>
<path d="M203 110.5v2.1" stroke="#f20"/>
<path d="M169 131.9v3.5" stroke="#6fc"/>
<path d="M171 125.9v4" stroke="#9f5"/>
<path d="M173 119.1v3.6" stroke="#b91"/>
<path d="M175 114.4v3.5" stroke="#c51"/>
<path d="M177 113.9v3.5" stroke="#a40"/>
<path d="M179 116.2v3.6" stroke="#a51"/>
<path d="M181 120.4v4" stroke="#661"/>
<path d="M183 120.8v3.9" stroke="#aa2"/>
<path d="M185 115.8v3.2" stroke="#c61"/>
<path d="M187 113.9v3.6" stroke="#b40"/>
<path d="M189 114v3.6" stroke="#a40"/>
<path d="M191 115.6v3.4" stroke="#941"/>
<path d="M193 116.3v4" stroke="#d71"/>
<path d="M195 112.5v3.4" stroke="#d30"/>
<path d="M199 110.3v3" stroke="#c20"/>
<path d="M201 112.3v3.2" stroke="#920"/>
<path d="M203 112.1v2.1" stroke="#e30"/>
<path d="M173 122.2v3.6" stroke="#9b2"/>
<path d="M175 117.5v3.5" stroke="#b71"/>
<path d="M177 117v3.5" stroke="#951"/>
<path d="M179 119.4v3.6" stroke="#971"/>
<path d="M185 118.6v3.2" stroke="#b81"/>
<path d="M187 117.1v3.6" stroke="#a61"/>
<path d="M189 117.3v3.6" stroke="#951"/>
<path d="M191 118.5v3.4" stroke="#861"/>
<path d="M175 120.6v3.5" stroke="#991"/>
<path d="M177 120.1v3.5" stroke="#871"/>
<path d="M129 136.2v2.5" stroke="#5eb3d9"/>
<path d="M131 134.1v2.4" stroke="#6eb"/>
<path d="M133 131.2v1.2M171 129.5v3.6" stroke="#7f7"/>
<path d="M173 125.4v2.9" stroke="#692"/>
<path d="M175 123.7v3.8" stroke="#7b2"/>
<path d="M177 123.2v3.9M179 122.6v3.7" stroke="#792"/>
<path d="M181 124v3.7" stroke="#682"/>
<path d="M183 124.3v4.2" stroke="#8c3"/>
<path d="M185 121.4v3.8" stroke="#992"/>
<path d="M187 120.3v3.9" stroke="#871"/>
<path d="M189 120.5v3.5" stroke="#981"/>
<path d="M191 121.5v4" stroke="#881"/>
<path d="M193 119.9v3.4" stroke="#c91"/>
<path d="M195 115.5v3.6" stroke="#c51"/>
<path d="M197 113.2v4.1M199 112.9v4.1" stroke="#b30"/>
<path d="M201 115.1v3" stroke="#b40"/>
<path d="M203 113.8v3.7" stroke="#f40"/>
<path d="M205 108.9v3.7" stroke="#f10"/>
<path d="M207 108.3v3.4" stroke="#c10"/>
<path d="M209 109.9v3.6" stroke="#b10"/>
<path d="M211 109.5v3.5" stroke="#d10"/>
<path d="M213 106.9v4.2" stroke="#f10"/>
<path d="M215 105.6v4.2" stroke="#d00"/>
<path d="M217 106.9v4.2" stroke="#b10"/>
<path d="M219 112.4v3.6" stroke="#820"/>
<path d="M221 115.4v3.2" stroke="#e51"/>
<path d="M223 113.6v2.7" stroke="#c30"/>
<path d="M225 115.9v3.3" stroke="#830"/>
<path d="M227 123.2v1.7" stroke="#661"/>
<path d="M235 137.2v1.3" stroke="#479ebd"/>
<path d="M237 137v2.4" stroke="#4a98c1"/>
<path d="M171 132.7v3.6" stroke="#7fa"/>
<path d="M173 127.9v2.9" stroke="#5a3"/>
<path d="M175 127.1v3.8" stroke="#7c4"/>
<path d="M177 126.7v3.9M179 125.8v3.7" stroke="#6a3"/>
<path d="M181 127.3v3.7" stroke="#593"/>
<path d="M183 128.1v4.2" stroke="#7e4"/>
<path d="M185 124.8v3.8" stroke="#7b3"/>
<path d="M187 123.7v3.9" stroke="#792"/>
<path d="M189 123.5v3.5" stroke="#8a2"/>
<path d="M191 125.1v4" stroke="#7a3"/>
<path d="M193 122.9v3.4" stroke="#ac2"/>
<path d="M195 118.7v3.6" stroke="#b71"/>
<path d="M197 116.9v4.1M199 116.6v4.1M201 117.7v3" stroke="#a51"/>
<path d="M203 117.1v3.7" stroke="#e61"/>
<path d="M205 112.2v3.7" stroke="#e20"/>
<path d="M207 111.3v3.4" stroke="#c10"/>
<path d="M209 113.2v3.6" stroke="#a20"/>
<path d="M211 112.6v3.5" stroke="#c20"/>
<path d="M213 110.7v4.2" stroke="#e20"/>
<path d="M215 109.4v4.2" stroke="#c10"/>
<path d="M217 110.7v4.2" stroke="#a10"/>
<path d="M219 115.6v3.6" stroke="#830"/>
<path d="M221 118.1v3.2" stroke="#d61"/>
<path d="M223 116v2.7" stroke="#b40"/>
<path d="M225 118.8v3.3" stroke="#841"/>
<path d="M227 124.5v1.7" stroke="#671"/>
<path d="M173 130.5v2.9" stroke="#5a4"/>
<path d="M175 130.5v3.8" stroke="#6d6"/>
<path d="M177 130.1v3.9" stroke="#5b5"/>
<path d="M179 129.1v3.7" stroke="#6b4"/>
<path d="M181 130.6v3.7" stroke="#4a5"/>
<path d="M183 132v4.2" stroke="#6d8"/>
<path d="M185 128.2v3.8" stroke="#7d4"/>
<path d="M187 127.2v3.9" stroke="#6b3"/>
<path d="M189 126.6v3.5" stroke="#7c3"/>
<path d="M191 128.7v4" stroke="#6c4"/>
<path d="M193 125.9v3.4" stroke="#9e3"/>
<path d="M195 121.9v3.6" stroke="#a91"/>
<path d="M197 120.6v4.1M199 120.3v4.1" stroke="#971"/>
<path d="M201 120.3v3" stroke="#961"/>
<path d="M211 115.7v3.5" stroke="#b40"/>
<path d="M213 114.5v4.2" stroke="#d40"/>
<path d="M215 113.2v4.2" stroke="#b20"/>
<path d="M217 114.5v4.2" stroke="#a30"/>
<path d="M219 118.7v3.6" stroke="#740"/>
<path d="M173 133v2.9" stroke="#4a6"/>
<path d="M175 133.9v3.8" stroke="#5c9"/>
<path d="M177 133.6v3.9" stroke="#4a8"/>
<path d="M179 132.4v3.7" stroke="#5b7"/>
<path d="M181 133.9v3.7" stroke="#497"/>
<path d="M183 135.8v4.2" stroke="#4bc"/>
<path d="M185 131.6v3.8" stroke="#6c7"/>
<path d="M187 130.7v3.9" stroke="#5b5"/>
<path d="M189 129.6v3.5" stroke="#6d5"/>
<path d="M191 132.3v4" stroke="#5b7"/>
<path d="M193 128.9v3.4" stroke="#8f5"/>
<path d="M195 125v3.6" stroke="#8b2"/>
<path d="M197 124.3v4.1M199 124v4.1" stroke="#892"/>
<path d="M201 122.9v3" stroke="#881"/>
<path d="M173 135.6v2.9" stroke="#498"/>
<path d="M175 137.4v3.8" stroke="#48acc7"/>
<path d="M177 137.1v3.9" stroke="#459cb5"/>
<path d="M179 135.6v3.7" stroke="#43a5a9"/>
<path d="M181 137.2v3.7" stroke="#39879e"/>
<path d="M183 139.6v4.2" stroke="#49e"/>
<path d="M185 134.9v3.8" stroke="#4ba"/>
<path d="M187 134.1v3.9" stroke="#4a8"/>
<path d="M189 132.7v3.5" stroke="#6d8"/>
<path d="M179 138.9v3.7" stroke="#38b"/>
<path d="M181 140.5v3.7" stroke="#36a"/>
<path d="M185 138.3v3.8" stroke="#4ac"/>
<path d="M187 137.6v3.9" stroke="#459abb"/>
<path d="M189 135.7v3.5" stroke="#4cb"/>
<path d="M129 138.3v2.9" stroke="#5db2d9"/>
<path d="M131 136.1v2.2" stroke="#5db"/>
<path d="M133 132v2.7" stroke="#8f7"/>
<path d="M135 126.1v2.9" stroke="#ad3"/>
<path d="M137 122v2.5" stroke="#b81"/>
<path d="M139 118.8v2.5" stroke="#f61"/>
<path d="M145 113.4v1.4" stroke="#b10"/>
<path d="M177 140.5v2.6" stroke="#479dca"/>
<path d="M179 142.2v2.6" stroke="#37b"/>
<path d="M181 143.8v2.4" stroke="#36b"/>
<path d="M183 143.4v3.6" stroke="#37d"/>
<path d="M185 141.7v3.5" stroke="#37c"/>
<path d="M187 141.1v3.4" stroke="#38c"/>
<path d="M189 138.8v3.4" stroke="#4bd"/>
<path d="M191 135.9v3.8" stroke="#4ba"/>
<path d="M193 131.8v4" stroke="#7f8"/>
<path d="M195 128.2v3.9" stroke="#7c3"/>
<path d="M197 128v4.4" stroke="#6b3"/>
<path d="M199 127.7v3.6" stroke="#8d4"/>
<path d="M201 125.5v3.2" stroke="#9b2"/>
<path d="M203 120.4v3.6" stroke="#d81"/>
<path d="M205 115.5v2.9" stroke="#f40"/>
<path d="M207 114.3v3.3" stroke="#c20"/>
<path d="M209 116.4v2.6" stroke="#820"/>
<path d="M211 118.8v3.5" stroke="#941"/>
<path d="M213 118.4v3.9" stroke="#b51"/>
<path d="M215 117v3" stroke="#e51"/>
<path d="M217 118.4v2.6" stroke="#830"/>
<path d="M219 121.9v3.5" stroke="#751"/>
<path d="M221 120.9v3.7" stroke="#c81"/>
<path d="M223 118.3v3.7" stroke="#a51"/>
<path d="M225 121.8v3.5" stroke="#751"/>
<path d="M227 125.8v2.1" stroke="#9b2"/>
<path d="M229 126.8v1.8" stroke="#792"/>
<path d="M231 129.3v2.5" stroke="#593"/>
<path d="M233 134.6v2.2" stroke="#496"/>
<path d="M235 138.1v2.9" stroke="#479db8"/>
<path d="M237 139v2.4" stroke="#4a94c0"/>
<path d="M131 138v2.2" stroke="#57d8ca"/>
<path d="M133 134.3v2.7" stroke="#7f8"/>
<path d="M135 128.6v2.9" stroke="#9f4"/>
<path d="M137 124.1v2.5" stroke="#b91"/>
<path d="M181 145.8v2.4" stroke="#35b"/>
<path d="M183 146.7v3.6" stroke="#36d"/>
<path d="M185 144.8v3.5M187 144.1v3.4" stroke="#36c"/>
<path d="M189 141.8v3.4" stroke="#49e"/>
<path d="M191 139.3v3.8" stroke="#49c"/>
<path d="M193 135.5v4" stroke="#6ec"/>
<path d="M195 131.7v3.9" stroke="#6d6"/>
<path d="M197 132v4.4" stroke="#6c5"/>
<path d="M199 130.9v3.6" stroke="#7f5"/>
<path d="M201 128.3v3.2" stroke="#8d3"/>
<path d="M203 123.6v3.6" stroke="#ba2"/>
<path d="M205 118v2.9" stroke="#f61"/>
<path d="M207 117.2v3.3" stroke="#b30"/>
<path d="M209 118.6v2.6" stroke="#830"/>
<path d="M211 122v3.5" stroke="#861"/>
<path d="M213 121.9v3.9" stroke="#a71"/>
<path d="M215 119.6v3" stroke="#d61"/>
<path d="M217 120.6v2.6" stroke="#741"/>
<path d="M219 125v3.5" stroke="#671"/>
<path d="M221 124.2v3.7" stroke="#bb2"/>
<path d="M223 121.6v3.7" stroke="#961"/>
<path d="M225 124.9v3.5" stroke="#661"/>
<path d="M227 127.5v2.1" stroke="#9c3"/>
<path d="M229 128.2v1.8" stroke="#7a2"/>
<path d="M231 131.5v2.5" stroke="#593"/>
<path d="M233 136.4v2.2" stroke="#497"/>
<path d="M185 147.9v3.5M187 147.1v3.4" stroke="#24b"/>
<path d="M189 144.7v3.4" stroke="#37e"/>
<path d="M191 142.7v3.8" stroke="#38d"/>
<path d="M193 139.1v4" stroke="#5ce"/>
<path d="M195 135.2v3.9" stroke="#5c9"/>
<path d="M197 135.9v4.4" stroke="#4b9"/>
<path d="M199 134.2v3.6" stroke="#6e8"/>
<path d="M201 131v3.2" stroke="#7e4"/>
<path d="M203 126.8v3.6" stroke="#9d3"/>
<path d="M205 120.5v2.9" stroke="#e71"/>
<path d="M209 120.7v2.6" stroke="#740"/>
<path d="M211 125.1v3.5" stroke="#771"/>
<path d="M213 125.4v3.9" stroke="#8a2"/>
<path d="M215 122.2v3" stroke="#c81"/>
<path d="M217 122.8v2.6" stroke="#751"/>
<path d="M219 128.2v3.5" stroke="#582"/>
<path d="M221 127.5v3.7" stroke="#9e3"/>
<path d="M223 124.9v3.7" stroke="#881"/>
<path d="M225 128v3.5" stroke="#582"/>
<path d="M227 129.1v2.1" stroke="#8d3"/>
<path d="M187 150.1v3.4" stroke="#13a"/>
<path d="M189 147.7v3.4" stroke="#25d"/>
<path d="M191 146v3.8" stroke="#35c"/>
<path d="M193 142.7v4" stroke="#4af"/>
<path d="M195 138.7v3.9" stroke="#49b5c8"/>
<path d="M197 139.9v4.4" stroke="#429bbe"/>
<path d="M199 137.4v3.6" stroke="#5dc"/>
<path d="M201 133.8v3.2" stroke="#7e7"/>
<path d="M203 130v3.6" stroke="#9f4"/>
<path d="M205 122.9v2.9" stroke="#d91"/>
<path d="M209 122.9v2.6" stroke="#741"/>
<path d="M211 128.2v3.5" stroke="#692"/>
<path d="M213 129v3.9" stroke="#7c3"/>
<path d="M215 124.9v3" stroke="#ba2"/>
<path d="M217 125v2.6" stroke="#661"/>
<path d="M219 131.3v3.5" stroke="#593"/>
<path d="M221 130.9v3.7" stroke="#8f5"/>
<path d="M223 128.2v3.7" stroke="#7a2"/>
<path d="M225 131.1v3.5" stroke="#593"/>
<path d="M227 130.8v2.1" stroke="#8e4"/>
<path d="M189 150.7v3.4" stroke="#23b"/>
<path d="M191 149.4v3.8" stroke="#24b"/>
<path d="M193 146.3v4" stroke="#37f"/>
<path d="M195 142.2v3.9" stroke="#49d"/>
<path d="M129 140.8v2.8" stroke="#61afdd"/>
<path d="M131 139.8v3.5" stroke="#56bbd0"/>
<path d="M133 136.5v3.1" stroke="#6ea"/>
<path d="M135 131.1v3.3" stroke="#8f4"/>
<path d="M137 126.2v3.5" stroke="#ab2"/>
<path d="M139 120.9v3.5" stroke="#e71"/>
<path d="M141 114.5v3.9" stroke="#f20"/>
<path d="M143 112.2v3.6" stroke="#c10"/>
<path d="M145 114.4v3" stroke="#b10"/>
<path d="M147 115.3v3.3" stroke="#e20"/>
<path d="M149 112.8v2.5" stroke="#f10"/>
<path d="M151 111.2v2.7" stroke="#d10"/>
<path d="M153 111.5v3.8" stroke="#c10"/>
<path d="M155 113.7v3.2" stroke="#b10"/>
<path d="M157 114.1v3.5" stroke="#f20"/>
<path d="M159 111.3v2.3" stroke="#e10"/>
<path d="M161 112.1v1.2" stroke="#d10"/>
<path d="M191 152.7v2.5" stroke="#23b"/>
<path d="M201 136.6v2.3" stroke="#486"/>
<path d="M203 133.2v3.7" stroke="#7f6"/>
<path d="M205 125.4v3.3" stroke="#cc2"/>
<path d="M207 120.1v3.5" stroke="#a41"/>
<path d="M209 125.1v3.4" stroke="#551"/>
<path d="M211 131.4v3.6" stroke="#593"/>
<path d="M213 132.5v2.4" stroke="#9f5"/>
<path d="M215 127.5v2.2" stroke="#bd2"/>
<path d="M217 127.3v2.2" stroke="#561"/>
<path d="M219 134.4v2.3" stroke="#484"/>
<path d="M221 134.2v3.4" stroke="#6e7"/>
<path d="M223 131.6v3.9" stroke="#6b4"/>
<path d="M225 134.2v2.8" stroke="#6c6"/>
<path d="M227 132.5v3.9" stroke="#9f6"/>
<path d="M229 129.7v3.2" stroke="#692"/>
<path d="M231 133.6v2.9" stroke="#5a4"/>
<path d="M233 138.2v2.6" stroke="#4a8"/>
<path d="M235 140.6v3" stroke="#4a98c0"/>
<path d="M133 139.2v3.1" stroke="#5db"/>
<path d="M135 134v3.3" stroke="#8f6"/>
<path d="M137 129.3v3.5" stroke="#9d3"/>
<path d="M139 124v3.5" stroke="#c91"/>
<path d="M141 117.9v3.9" stroke="#f40"/>
<path d="M143 115.3v3.6" stroke="#c20"/>
<path d="M145 116.9v3" stroke="#a20"/>
<path d="M147 118.2v3.3" stroke="#d30"/>
<path d="M149 114.9v2.5" stroke="#e20"/>
<path d="M151 113.5v2.7" stroke="#d10"/>
<path d="M153 114.9v3.8" stroke="#c10"/>
<path d="M155 116.4v3.2" stroke="#b20"/>
<path d="M159 113.2v2.3" stroke="#e10"/>
<path d="M161 112.9v1.2" stroke="#d10"/>
<path d="M201 138.5v2.3" stroke="#387"/>
<path d="M203 136.5v3.7" stroke="#6ea"/>
<path d="M205 128.3v3.3" stroke="#bf3"/>
<path d="M207 123.2v3.5" stroke="#961"/>
<path d="M209 128v3.4" stroke="#561"/>
<path d="M211 134.5v3.6" stroke="#494"/>
<path d="M213 134.5v2.4" stroke="#8f7"/>
<path d="M215 129.3v2.2" stroke="#bd3"/>
<path d="M217 129.1v2.2" stroke="#561"/>
<path d="M219 136.3v2.3" stroke="#484"/>
<path d="M221 137.2v3.4" stroke="#5da"/>
<path d="M223 135.1v3.9" stroke="#5b6"/>
<path d="M225 136.7v2.8" stroke="#5c8"/>
<path d="M227 136v3.9" stroke="#8f9"/>
<path d="M229 132.4v3.2" stroke="#5a3"/>
<path d="M231 136.1v2.9" stroke="#5a6"/>
<path d="M233 140.4v2.6" stroke="#3e9e9e"/>
<path d="M135 136.8v3.3" stroke="#7f9"/>
<path d="M137 132.4v3.5" stroke="#8f4"/>
<path d="M139 127.2v3.5" stroke="#bb2"/>
<path d="M141 121.4v3.9" stroke="#e61"/>
<path d="M143 118.5v3.6" stroke="#b30"/>
<path d="M145 119.5v3" stroke="#a30"/>
<path d="M149 117.1v2.5" stroke="#e20"/>
<path d="M151 115.8v2.7" stroke="#d20"/>
<path d="M201 140.5v2.3" stroke="#387"/>
<path d="M203 139.8v3.7" stroke="#5dd"/>
<path d="M205 131.3v3.3" stroke="#af5"/>
<path d="M207 126.4v3.5" stroke="#881"/>
<path d="M209 131v3.4" stroke="#472"/>
<path d="M211 137.7v3.6" stroke="#386"/>
<path d="M213 136.4v2.4" stroke="#8fa"/>
<path d="M219 138.2v2.3" stroke="#375"/>
<path d="M221 140.2v3.4" stroke="#4dc5ce"/>
<path d="M223 138.7v3.9" stroke="#45ad9d"/>
<path d="M225 139.1v2.8" stroke="#4bb9a7"/>
<path d="M229 135.2v3.2" stroke="#5a4"/>
<path d="M231 138.6v2.9" stroke="#497"/>
<path d="M201 142.4v2.3" stroke="#378"/>
<path d="M203 143.1v3.7" stroke="#5bf"/>
<path d="M205 134.2v3.3" stroke="#9f6"/>
<path d="M207 129.5v3.5" stroke="#7a2"/>
<path d="M209 134v3.4" stroke="#483"/>
<path d="M211 140.8v3.6" stroke="#378"/>
<path d="M213 138.4v2.4" stroke="#7fc"/>
<path d="M219 140.1v2.3" stroke="#376"/>
<path d="M221 143.3v3.4" stroke="#4ae"/>
<path d="M223 142.2v3.9" stroke="#3f95ba"/>
<path d="M225 141.5v2.8" stroke="#45a9bd"/>
<path d="M203 146.3v3.7" stroke="#49f"/>
<path d="M205 137.1v3.3" stroke="#8fa"/>
<path d="M209 136.9v3.4" stroke="#374"/>
<path d="M211 144v3.6" stroke="#369"/>
<path d="M213 140.3v2.4" stroke="#6fe"/>
<path d="M221 146.3v3.4" stroke="#48e"/>
<path d="M223 145.7v3.9" stroke="#37c"/>
<path d="M225 143.9v2.8" stroke="#49c"/>
<path d="M211 147.1v3.6" stroke="#259"/>
<path d="M213 142.3v2.4" stroke="#6ef"/>
<path d="M131 142.9v2.9" stroke="#60afdc"/>
<path d="M133 141.9v3.7" stroke="#55bacf"/>
<path d="M135 139.7v2.9" stroke="#5da"/>
<path d="M137 135.6v3.2" stroke="#7f6"/>
<path d="M139 130.3v3.4" stroke="#9c3"/>
<path d="M141 124.9v3.4" stroke="#c81"/>
<path d="M143 121.7v3.5" stroke="#b51"/>
<path d="M145 122v3.9" stroke="#a41"/>
<path d="M147 121.2v4" stroke="#c51"/>
<path d="M149 119.2v4.1M151 118.1v3.9" stroke="#c30"/>
<path d="M153 118.2v3.6" stroke="#b20"/>
<path d="M155 119.2v3.8" stroke="#c30"/>
<path d="M157 117.2v3.3" stroke="#f20"/>
<path d="M159 115.1v3.5" stroke="#c10"/>
<path d="M161 113.7v4" stroke="#d10"/>
<path d="M163 115.7v3.2" stroke="#b10"/>
<path d="M165 118.5v1.3" stroke="#f30"/>
<path d="M193 145.2v3.5" stroke="#6df"/>
<path d="M195 130.4v2.4" stroke="#be3"/>
<path d="M197 124.7v2.5" stroke="#a61"/>
<path d="M199 131v2.5" stroke="#561"/>
<path d="M201 144.3v2.6" stroke="#267"/>
<path d="M203 149.6v2.5" stroke="#36c"/>
<path d="M205 140.1v3.3" stroke="#6fe"/>
<path d="M207 132.6v3.9" stroke="#7c3"/>
<path d="M209 139.9v1" stroke="#6d9"/>
<path d="M213 144.2v2.3" stroke="#5df"/>
<path d="M215 131v4.1" stroke="#9f4"/>
<path d="M217 130.9v3.7" stroke="#472"/>
<path d="M219 142v2.9" stroke="#377"/>
<path d="M221 149.3v4" stroke="#36d"/>
<path d="M223 149.3v1.3" stroke="#48f"/>
<path d="M225 146.3v.6" stroke="#5bf"/>
<path d="M227 139.5v2.4" stroke="#6fb"/>
<path d="M229 138v2.7" stroke="#5a6"/>
<path d="M231 141.2v2.5" stroke="#47afa9"/>
<path d="M233 142.6v3.2" stroke="#499cbf"/>
<path d="M135 142.2v2.9" stroke="#53cac8"/>
<path d="M137 138.3v3.2" stroke="#7e8"/>
<path d="M139 133.3v3.4" stroke="#8e4"/>
<path d="M141 127.9v3.4" stroke="#aa2"/>
<path d="M143 124.7v3.5" stroke="#a61"/>
<path d="M145 125.5v3.9" stroke="#961"/>
<path d="M147 124.7v4" stroke="#b71"/>
<path d="M149 122.9v4.1" stroke="#b51"/>
<path d="M151 121.6v3.9" stroke="#c40"/>
<path d="M153 121.4v3.6" stroke="#a40"/>
<path d="M155 122.5v3.8" stroke="#c51"/>
<path d="M157 120.1v3.3" stroke="#e40"/>
<path d="M159 118.2v3.5" stroke="#c20"/>
<path d="M161 117.3v4" stroke="#d20"/>
<path d="M163 118.5v3.2" stroke="#a20"/>
<path d="M165 119.4v1.3" stroke="#f20"/>
<path d="M195 132.4v2.4" stroke="#af4"/>
<path d="M197 126.8v2.5" stroke="#a61"/>
<path d="M199 133.1v2.5" stroke="#472"/>
<path d="M201 146.5v2.6" stroke="#258"/>
<path d="M203 151.7v2.5" stroke="#25c"/>
<path d="M205 143v3.3" stroke="#6ef"/>
<path d="M207 136.1v3.9" stroke="#6c6"/>
<path d="M209 140.5v1" stroke="#5da"/>
<path d="M213 146.2v2.3" stroke="#5cf"/>
<path d="M215 134.8v4.1" stroke="#9f6"/>
<path d="M217 134.1v3.7" stroke="#482"/>
<path d="M219 144.5v2.9" stroke="#368"/>
<path d="M221 152.9v4" stroke="#24c"/>
<path d="M223 150.2v1.3" stroke="#48f"/>
<path d="M227 141.6v2.4" stroke="#6ec"/>
<path d="M229 140.4v2.7" stroke="#4a8"/>
<path d="M231 143.3v2.5" stroke="#489eba"/>
<path d="M137 141.1v3.2" stroke="#6eb"/>
<path d="M139 136.3v3.4" stroke="#7f5"/>
<path d="M141 130.9v3.4" stroke="#9c3"/>
<path d="M143 127.8v3.5" stroke="#981"/>
<path d="M145 129v3.9" stroke="#881"/>
<path d="M147 128.3v4" stroke="#991"/>
<path d="M149 126.5v4.1" stroke="#a71"/>
<path d="M151 125v3.9" stroke="#b61"/>
<path d="M153 124.6v3.6" stroke="#951"/>
<path d="M155 125.9v3.8" stroke="#b61"/>
<path d="M157 123.1v3.3" stroke="#d51"/>
<path d="M159 121.3v3.5" stroke="#b30"/>
<path d="M161 120.9v4" stroke="#c40"/>
<path d="M163 121.2v3.2" stroke="#a30"/>
<path d="M203 153.9v2.5" stroke="#24b"/>
<path d="M205 145.9v3.3" stroke="#5cf"/>
<path d="M207 139.5v3.9" stroke="#5c9"/>
<path d="M209 141.2v1" stroke="#5da"/>
<path d="M213 148.1v2.3" stroke="#5af"/>
<path d="M215 138.5v4.1" stroke="#7fa"/>
<path d="M217 137.4v3.7" stroke="#484"/>
<path d="M219 146.9v2.9" stroke="#258"/>
<path d="M227 143.6v2.4" stroke="#56d4e2"/>
<path d="M229 142.7v2.7" stroke="#3f9ea0"/>
<path d="M139 139.3v3.4" stroke="#6e9"/>
<path d="M141 133.9v3.4" stroke="#8e4"/>
<path d="M143 130.9v3.5" stroke="#8a2"/>
<path d="M145 132.4v3.9" stroke="#6a2"/>
<path d="M147 131.9v4" stroke="#8b3"/>
<path d="M149 130.2v4.1" stroke="#8a2"/>
<path d="M151 128.5v3.9" stroke="#981"/>
<path d="M153 127.8v3.6" stroke="#871"/>
<path d="M203 156v2.5" stroke="#13a"/>
<path d="M205 148.8v3.3" stroke="#49f"/>
<path d="M207 143v3.9" stroke="#46aac1"/>
<path d="M209 141.8v1" stroke="#5da"/>
<path d="M213 150.1v2.3" stroke="#49f"/>
<path d="M215 142.2v4.1" stroke="#6ef"/>
<path d="M217 140.7v3.7" stroke="#376"/>
<path d="M219 149.4v2.9" stroke="#248"/>
<path d="M141 136.9v3.4" stroke="#7f6"/>
<path d="M143 134v3.5" stroke="#7c3"/>
<path d="M205 151.7v3.3" stroke="#37f"/>
<path d="M207 146.5v3.9" stroke="#48d"/>
<path d="M209 142.4v1" stroke="#5da"/>
<path d="M213 152v2.3" stroke="#47f"/>
<path d="M215 145.9v4.1" stroke="#5cf"/>
<path d="M217 144v3.7" stroke="#267"/>
<path d="M219 151.9v2.9" stroke="#238"/>
<path d="M205 154.7v3.3" stroke="#25f"/>
<path d="M207 150v3.9" stroke="#36d"/>
<path d="M217 147.2v3.7" stroke="#258"/>
<path d="M219 154.3v2.9" stroke="#127"/>
<path d="M133 145.2v2.8" stroke="#61aedd"/>
<path d="M135 144.8v3.2" stroke="#5db0d8"/>
<path d="M137 143.8v2.3" stroke="#54bbc9"/>
<path d="M139 142.2v3.1" stroke="#5ca"/>
<path d="M141 139.9v3" stroke="#6d8"/>
<path d="M143 137.1v3.8" stroke="#7e5"/>
<path d="M145 135.9v4.2" stroke="#6c4"/>
<path d="M147 135.5v4" stroke="#7d4"/>
<path d="M149 133.8v3.5" stroke="#7b3"/>
<path d="M151 132v3.8" stroke="#8b3"/>
<path d="M153 131v3.7" stroke="#792"/>
<path d="M155 129.3v3.9" stroke="#a91"/>
<path d="M157 126v4.1" stroke="#b61"/>
<path d="M159 124.4v4.1" stroke="#a51"/>
<path d="M161 124.5v3.6" stroke="#b51"/>
<path d="M163 124v3.5" stroke="#d51"/>
<path d="M165 120.3v2.9" stroke="#f30"/>
<path d="M167 116.7v3.1M169 115.4v3.4" stroke="#d10"/>
<path d="M171 118.9v3" stroke="#910"/>
<path d="M173 122.5v3" stroke="#d40"/>
<path d="M175 120.7v2.7" stroke="#d30"/>
<path d="M177 120.2v2.9" stroke="#c20"/>
<path d="M179 124.2v2.3" stroke="#830"/>
<path d="M181 130.6v2.5" stroke="#661"/>
<path d="M183 128.2v3.2" stroke="#da1"/>
<path d="M185 121.7v3.4" stroke="#c30"/>
<path d="M187 127v3.3" stroke="#641"/>
<path d="M189 138.8v3.4" stroke="#374"/>
<path d="M191 150.1v2.8" stroke="#258"/>
<path d="M193 148.2v2.8" stroke="#5bf"/>
<path d="M195 134.5v3.5" stroke="#9f4"/>
<path d="M197 128.9v3.9" stroke="#871"/>
<path d="M199 135.2v3.9" stroke="#472"/>
<path d="M201 148.7v2.7" stroke="#258"/>
<path d="M203 158.1v2.8" stroke="#128"/>
<path d="M205 157.6v3.3" stroke="#13b"/>
<path d="M207 153.5v3.7" stroke="#35e"/>
<path d="M209 143v3.2" stroke="#6ff"/>
<path d="M211 143.9v2.8" stroke="#266"/>
<path d="M213 154v2.6" stroke="#24a"/>
<path d="M215 149.6v3.4" stroke="#49f"/>
<path d="M217 150.5v2.7" stroke="#259"/>
<path d="M219 156.8v1.8" stroke="#24c"/>
<path d="M223 151.1v.9" stroke="#5af"/>
<path d="M225 146.5v2.5" stroke="#4b9cc7"/>
<path d="M227 145.6v3.1" stroke="#4ca1c9"/>
<path d="M229 145v3.2" stroke="#4b99c2"/>
<path d="M137 145.7v2.3" stroke="#5bb2d6"/>
<path d="M139 144.9v3.1" stroke="#54b9cd"/>
<path d="M141 142.5v3" stroke="#5ca"/>
<path d="M143 140.5v3.8" stroke="#6d8"/>
<path d="M145 139.6v4.2" stroke="#5c6"/>
<path d="M147 139.1v4" stroke="#6d6"/>
<path d="M149 137v3.5" stroke="#6c4"/>
<path d="M151 135.3v3.8" stroke="#8d4"/>
<path d="M153 134.3v3.7" stroke="#6a3"/>
<path d="M155 132.8v3.9" stroke="#8c3"/>
<path d="M157 129.6v4.1" stroke="#a91"/>
<path d="M159 128.1v4.1" stroke="#971"/>
<path d="M161 127.7v3.6" stroke="#a71"/>
<path d="M163 127v3.5" stroke="#c71"/>
<path d="M165 122.8v2.9" stroke="#f40"/>
<path d="M167 119.4v3.1" stroke="#d20"/>
<path d="M169 118.4v3.4" stroke="#d10"/>
<path d="M171 121.5v3" stroke="#820"/>
<path d="M173 125.1v3" stroke="#d51"/>
<path d="M175 123v2.7" stroke="#d30"/>
<path d="M177 122.7v2.9" stroke="#b30"/>
<path d="M179 126.1v2.3" stroke="#830"/>
<path d="M181 132.8v2.5" stroke="#661"/>
<path d="M183 131v3.2" stroke="#cc2"/>
<path d="M185 124.6v3.4" stroke="#b51"/>
<path d="M187 129.8v3.3" stroke="#551"/>
<path d="M189 141.8v3.4" stroke="#375"/>
<path d="M191 152.5v2.8" stroke="#248"/>
<path d="M193 150.6v2.8" stroke="#49f"/>
<path d="M195 137.6v3.5" stroke="#8f6"/>
<path d="M197 132.4v3.9" stroke="#792"/>
<path d="M199 138.7v3.9" stroke="#484"/>
<path d="M201 151.1v2.7" stroke="#248"/>
<path d="M203 160.5v2.8" stroke="#117"/>
<path d="M205 160.5v3.3" stroke="#12a"/>
<path d="M207 156.7v3.7" stroke="#24d"/>
<path d="M209 145.8v3.2" stroke="#6ff"/>
<path d="M211 146.3v2.8" stroke="#267"/>
<path d="M213 156.1v2.6" stroke="#139"/>
<path d="M215 152.6v3.4" stroke="#37f"/>
<path d="M217 152.8v2.7" stroke="#249"/>
<path d="M141 145v3" stroke="#53bbcc"/>
<path d="M143 143.9v3.8" stroke="#5cb"/>
<path d="M145 143.4v4.2" stroke="#4b9"/>
<path d="M147 142.7v4" stroke="#5ca"/>
<path d="M149 140.1v3.5" stroke="#5c6"/>
<path d="M151 138.7v3.8" stroke="#7e6"/>
<path d="M153 137.6v3.7" stroke="#6b4"/>
<path d="M155 136.3v3.9" stroke="#8e4"/>
<path d="M157 133.3v4.1" stroke="#8c3"/>
<path d="M159 131.8v4.1" stroke="#892"/>
<path d="M161 130.9v3.6" stroke="#991"/>
<path d="M163 130.1v3.5" stroke="#b91"/>
<path d="M165 125.3v2.9" stroke="#e61"/>
<path d="M167 122.2v3.1" stroke="#c30"/>
<path d="M169 121.4v3.4" stroke="#d30"/>
<path d="M171 124.1v3" stroke="#830"/>
<path d="M183 133.7v3.2" stroke="#ae3"/>
<path d="M185 127.6v3.4" stroke="#b61"/>
<path d="M187 132.7v3.3" stroke="#561"/>
<path d="M189 144.8v3.4" stroke="#267"/>
<path d="M191 154.9v2.8" stroke="#138"/>
<path d="M193 152.9v2.8" stroke="#47f"/>
<path d="M195 140.7v3.5" stroke="#7fa"/>
<path d="M197 135.9v3.9" stroke="#6b3"/>
<path d="M199 142.2v3.9" stroke="#376"/>
<path d="M201 153.4v2.7" stroke="#238"/>
<path d="M213 158.3v2.6" stroke="#128"/>
<path d="M215 155.6v3.4" stroke="#25e"/>
<path d="M217 155.1v2.7" stroke="#238"/>
<path d="M149 143.3v3.5" stroke="#5b9"/>
<path d="M151 142v3.8" stroke="#6d9"/>
<path d="M153 140.9v3.7" stroke="#5b6"/>
<path d="M155 139.8v3.9" stroke="#7e7"/>
<path d="M157 136.9v4.1" stroke="#7d4"/>
<path d="M159 135.5v4.1" stroke="#7b3"/>
<path d="M161 134.1v3.6" stroke="#8b2"/>
<path d="M185 130.5v3.4" stroke="#981"/>
<path d="M187 135.6v3.3" stroke="#472"/>
<path d="M189 147.8v3.4" stroke="#267"/>
<path d="M191 157.3v2.8" stroke="#127"/>
<path d="M193 155.3v2.8" stroke="#36f"/>
<path d="M195 143.8v3.5" stroke="#6ee"/>
<path d="M197 139.4v3.9" stroke="#5b6"/>
<path d="M199 145.7v3.9" stroke="#267"/>
<path d="M201 155.8v2.7" stroke="#137"/>
<path d="M215 158.6v3.4" stroke="#23c"/>
<path d="M217 157.5v2.7" stroke="#128"/>
<path d="M193 157.7v2.8" stroke="#24f"/>
<path d="M195 147v3.5" stroke="#5cf"/>
<path d="M197 142.9v3.9" stroke="#4a9"/>
<path d="M199 149.2v3.9" stroke="#258"/>
<path d="M201 158.1v2.7" stroke="#127"/>
<path d="M195 150.1v3.5" stroke="#5af"/>
<path d="M197 146.4v3.9" stroke="#3f97b6"/>
<path d="M199 152.8v3.9" stroke="#248"/>
<path d="M195 153.2v3.5" stroke="#47f"/>
<path d="M197 149.9v3.9" stroke="#37b"/>
<path d="M143 147.3v2.9" stroke="#5daed8"/>
<path d="M145 147.2v3.1" stroke="#5cabd6"/>
<path d="M147 146.4v2.3" stroke="#53bacb"/>
<path d="M149 146.4v2.2" stroke="#4eaebf"/>
<path d="M151 145.4v2.8" stroke="#5cb"/>
<path d="M153 144.2v3.9" stroke="#4a9"/>
<path d="M155 143.4v3.1" stroke="#5d9"/>
<path d="M157 140.6v3.2" stroke="#6d6"/>
<path d="M159 139.1v3.4" stroke="#6d4"/>
<path d="M161 137.3v3.1" stroke="#8e4"/>
<path d="M163 133.1v3.7" stroke="#ac2"/>
<path d="M165 127.8v3.4" stroke="#c61"/>
<path d="M167 124.9v3.9M169 124.4v4" stroke="#b40"/>
<path d="M171 126.8v3.5" stroke="#840"/>
<path d="M173 127.6v3.6" stroke="#b61"/>
<path d="M175 125.4v3.7" stroke="#c51"/>
<path d="M177 125.2v3.7" stroke="#a40"/>
<path d="M179 128v3.4" stroke="#851"/>
<path d="M181 134.9v3.1" stroke="#572"/>
<path d="M183 136.5v2.7" stroke="#6a3"/>
<path d="M185 133.5v3.8" stroke="#8a2"/>
<path d="M187 138.4v4.2" stroke="#483"/>
<path d="M189 150.8v2.7" stroke="#259"/>
<path d="M191 159.8v3.8" stroke="#128"/>
<path d="M193 160v1.9" stroke="#23d"/>
<path d="M199 156.3v3.6" stroke="#138"/>
<path d="M201 160.5v2.8" stroke="#129"/>
<path d="M203 162.9v3.2" stroke="#117"/>
<path d="M205 163.4v2.5" stroke="#119"/>
<path d="M207 160v2.3" stroke="#23d"/>
<path d="M209 148.6v2.4" stroke="#5df"/>
<path d="M211 148.7v2.6" stroke="#268"/>
<path d="M213 160.5v1.4" stroke="#128"/>
<path d="M225 148.7v2" stroke="#4b9ec7"/>
<path d="M227 148.3v2.1" stroke="#4ca0c7"/>
<path d="M229 147.8v2.5" stroke="#4c96c3"/>
<path d="M147 148.2v2.3" stroke="#5baed7"/>
<path d="M149 148.2v2.2" stroke="#59a9d2"/>
<path d="M151 147.8v2.8" stroke="#56b6d5"/>
<path d="M153 147.7v3.9" stroke="#50a4c5"/>
<path d="M155 146.1v3.1" stroke="#4ecbc3"/>
<path d="M157 143.4v3.2" stroke="#5c8"/>
<path d="M159 142.2v3.4" stroke="#6d7"/>
<path d="M161 140v3.1" stroke="#7f5"/>
<path d="M163 136.5v3.7" stroke="#9e4"/>
<path d="M165 130.8v3.4" stroke="#b81"/>
<path d="M167 128.4v3.9M169 128v4" stroke="#a51"/>
<path d="M171 129.9v3.5" stroke="#851"/>
<path d="M173 130.8v3.6" stroke="#a81"/>
<path d="M175 128.7v3.7" stroke="#b61"/>
<path d="M177 128.4v3.7" stroke="#951"/>
<path d="M179 131v3.4" stroke="#761"/>
<path d="M181 137.6v3.1" stroke="#582"/>
<path d="M183 138.8v2.7" stroke="#5a3"/>
<path d="M185 136.9v3.8" stroke="#7b3"/>
<path d="M187 142.2v4.2" stroke="#385"/>
<path d="M189 153v2.7" stroke="#249"/>
<path d="M199 159.4v3.6" stroke="#127"/>
<path d="M201 162.8v2.8" stroke="#118"/>
<path d="M209 150.5v2.4" stroke="#5bf"/>
<path d="M211 150.9v2.6" stroke="#258"/>
<path d="M213 161.5v1.4" stroke="#128"/>
<path d="M155 148.8v3.1" stroke="#54b0d8"/>
<path d="M157 146.2v3.2" stroke="#4dbab8"/>
<path d="M159 145.2v3.4" stroke="#5ca"/>
<path d="M161 142.7v3.1" stroke="#7f8"/>
<path d="M163 139.8v3.7" stroke="#8f5"/>
<path d="M165 133.8v3.4" stroke="#ab2"/>
<path d="M167 131.9v3.9M169 131.6v4" stroke="#971"/>
<path d="M171 133v3.5" stroke="#771"/>
<path d="M173 134v3.6" stroke="#9a2"/>
<path d="M175 132v3.7" stroke="#a81"/>
<path d="M177 131.7v3.7" stroke="#871"/>
<path d="M179 134v3.4" stroke="#771"/>
<path d="M181 140.3v3.1" stroke="#493"/>
<path d="M183 141.1v2.7" stroke="#5b4"/>
<path d="M185 140.3v3.8" stroke="#6c5"/>
<path d="M187 146.1v4.2" stroke="#377"/>
<path d="M189 155.3v2.7" stroke="#248"/>
<path d="M209 152.5v2.4" stroke="#5af"/>
<path d="M211 153.1v2.6" stroke="#248"/>
<path d="M157 149v3.2" stroke="#4fa9ce"/>
<path d="M159 148.3v3.4" stroke="#50adcd"/>
<path d="M161 145.4v3.1" stroke="#6eb"/>
<path d="M165 136.8v3.4" stroke="#8d3"/>
<path d="M167 135.4v3.9" stroke="#7a2"/>
<path d="M169 135.1v4" stroke="#8a2"/>
<path d="M171 136.2v3.5" stroke="#682"/>
<path d="M173 137.2v3.6" stroke="#7c3"/>
<path d="M175 135.3v3.7" stroke="#8b2"/>
<path d="M177 134.9v3.7" stroke="#782"/>
<path d="M179 137v3.4" stroke="#692"/>
<path d="M183 143.4v2.7" stroke="#5a6"/>
<path d="M185 143.7v3.8" stroke="#5c8"/>
<path d="M187 149.9v4.2" stroke="#268"/>
<path d="M189 157.6v2.7" stroke="#138"/>
<path d="M209 154.5v2.4" stroke="#48f"/>
<path d="M211 155.3v2.6" stroke="#238"/>
<path d="M183 145.6v2.7" stroke="#4a8"/>
<path d="M185 147.2v3.8" stroke="#49acbc"/>
<path d="M187 153.7v4.2" stroke="#248"/>
<path d="M189 159.8v2.7" stroke="#127"/>
<path d="M209 156.5v2.4" stroke="#37f"/>
<path d="M211 157.4v2.6" stroke="#137"/>
<path d="M183 147.9v2.7" stroke="#399"/>
<path d="M185 150.6v3.8" stroke="#49c"/>
<path d="M209 158.4v2.4" stroke="#36f"/>
<path d="M211 159.6v2.6" stroke="#127"/>
<path d="M147 150.1v2.4" stroke="#5daad8"/>
<path d="M149 150v2.1" stroke="#5cadd8"/>
<path d="M151 150.3v.8" stroke="#54b2cd"/>
<path d="M155 151.6v.9" stroke="#4ea2c8"/>
<path d="M157 151.8v2.4" stroke="#4ea3d4"/>
<path d="M159 151.3v2.7" stroke="#50abda"/>
<path d="M161 148v2.3" stroke="#5cc"/>
<path d="M163 143.2v3.2" stroke="#6d7"/>
<path d="M165 139.7v3.3" stroke="#7c4"/>
<path d="M167 138.9v3.4" stroke="#6b3"/>
<path d="M169 138.7v2.5" stroke="#9f4"/>
<path d="M171 139.3v2.5" stroke="#482"/>
<path d="M173 140.4v3.6" stroke="#6b3"/>
<path d="M175 138.7v3.7" stroke="#7b3"/>
<path d="M177 138.2v3.9" stroke="#6a3"/>
<path d="M179 139.9v4" stroke="#6c4"/>
<path d="M181 143v1.6" stroke="#8f7"/>
<path d="M185 154v2.6" stroke="#37b"/>
<path d="M187 157.5v2.7" stroke="#249"/>
<path d="M189 162.1v2.7" stroke="#23b"/>
<path d="M191 163.2v1.2" stroke="#129"/>
<path d="M193 161.5v1.6" stroke="#24d"/>
<path d="M195 149.4v2.7" stroke="#6ff"/>
<path d="M197 149.9v2.5" stroke="#267"/>
<path d="M199 162.6v2.6" stroke="#127"/>
<path d="M201 165.2v1.6" stroke="#119"/>
<path d="M207 161.9v2.2" stroke="#23c"/>
<path d="M209 160.4v1.1" stroke="#24d"/>
<path d="M221 151.4v1.4" stroke="#4aa2ca"/>
<path d="M223 151.1v1.5" stroke="#4ba6cc"/>
<path d="M225 150.3v2.2" stroke="#4c9cc5"/>
<path d="M227 150v2.5" stroke="#4d97c4"/>
<path d="M161 149.9v2.3" stroke="#54bdd7"/>
<path d="M163 145.9v3.2" stroke="#5d9"/>
<path d="M165 142.7v3.3" stroke="#6d5"/>
<path d="M167 141.9v3.4" stroke="#6c4"/>
<path d="M169 140.8v2.5" stroke="#9f5"/>
<path d="M171 141.4v2.5" stroke="#483"/>
<path d="M173 143.6v3.6" stroke="#5b6"/>
<path d="M175 142v3.7" stroke="#6c5"/>
<path d="M177 141.7v3.9" stroke="#5b4"/>
<path d="M179 143.5v4" stroke="#5c6"/>
<path d="M181 144.2v1.6" stroke="#8f8"/>
<path d="M185 156.2v2.6" stroke="#36b"/>
<path d="M187 159.9v2.7" stroke="#138"/>
<path d="M193 162.7v1.6" stroke="#24d"/>
<path d="M195 151.7v2.7" stroke="#6ef"/>
<path d="M197 152v2.5" stroke="#257"/>
<path d="M207 163.7v2.2" stroke="#13b"/>
<path d="M209 161.1v1.1" stroke="#25d"/>
<path d="M161 151.8v2.3" stroke="#54b3de"/>
<path d="M163 148.7v3.2" stroke="#4ec5c4"/>
<path d="M165 145.6v3.3" stroke="#5c8"/>
<path d="M167 145v3.4" stroke="#5c7"/>
<path d="M169 142.9v2.5" stroke="#8f6"/>
<path d="M171 143.5v2.5" stroke="#483"/>
<path d="M173 146.8v3.6" stroke="#4a8"/>
<path d="M175 145.3v3.7" stroke="#5c8"/>
<path d="M177 145.1v3.9" stroke="#5a7"/>
<path d="M179 147v4" stroke="#4b9"/>
<path d="M181 145.4v1.6" stroke="#7f9"/>
<path d="M185 158.5v2.6" stroke="#25b"/>
<path d="M187 162.2v2.7" stroke="#128"/>
<path d="M195 154v2.7" stroke="#5cf"/>
<path d="M197 154.1v2.5" stroke="#257"/>
<path d="M163 151.4v3.2" stroke="#4fafd7"/>
<path d="M165 148.6v3.3" stroke="#4cbbb9"/>
<path d="M167 148v3.4" stroke="#49b2a4"/>
<path d="M169 144.9v2.5" stroke="#8f8"/>
<path d="M171 145.5v2.5" stroke="#484"/>
<path d="M173 150.1v3.6" stroke="#4097ad"/>
<path d="M175 148.6v3.7" stroke="#49afb8"/>
<path d="M177 148.6v3.9" stroke="#429da7"/>
<path d="M179 150.6v4" stroke="#41a0bf"/>
<path d="M181 146.6v1.6" stroke="#7fa"/>
<path d="M165 151.5v3.3" stroke="#4ba7cf"/>
<path d="M167 151.1v3.4" stroke="#48a0c1"/>
<path d="M173 153.3v3.6" stroke="#37b"/>
<path d="M175 152v3.7" stroke="#49c"/>
<path d="M177 152.1v3.9" stroke="#38b"/>
<path d="M179 154.2v4" stroke="#38c"/>
<path d="M175 155.3v3.7" stroke="#37c"/>
<path d="M177 155.5v3.9" stroke="#36b"/>
<path d="M147 152.2v2.4" stroke="#60aadb"/>
<path d="M149 151.7v2.7" stroke="#5cadd7"/>
<path d="M151 150.7v2" stroke="#54b5ca"/>
<path d="M153 150.2v2.4" stroke="#53b3c5"/>
<path d="M155 152.1v2.8" stroke="#4fa4c4"/>
<path d="M157 153.8v.8" stroke="#52acd5"/>
<path d="M163 154.2v1.9" stroke="#499fcd"/>
<path d="M165 154.5v2.7" stroke="#469cd4"/>
<path d="M167 154.1v3.3" stroke="#49a3dd"/>
<path d="M169 147v2.7" stroke="#8fb"/>
<path d="M171 147.6v2.6" stroke="#385"/>
<path d="M173 156.5v2.6" stroke="#37b"/>
<path d="M175 158.6v1.1" stroke="#37d"/>
<path d="M177 159v1.7" stroke="#36c"/>
<path d="M179 157.7v2.6" stroke="#37e"/>
<path d="M181 147.9v2.6" stroke="#7fc"/>
<path d="M183 148.4v2.7" stroke="#376"/>
<path d="M185 160.7v2.3" stroke="#24a"/>
<path d="M187 164.5v1.2" stroke="#13a"/>
<path d="M189 164.3v1.6M191 164v2" stroke="#23b"/>
<path d="M193 163.8v2.9" stroke="#13a"/>
<path d="M195 156.3v2.8" stroke="#4af"/>
<path d="M197 156.2v2.5" stroke="#259"/>
<path d="M217 153.6v1.3" stroke="#4ba9cf"/>
<path d="M219 152.8v1.9" stroke="#4d9ec7"/>
<path d="M221 152.4v2.2" stroke="#4d9cc6"/>
<path d="M223 152.2v2.5" stroke="#4e98c5"/>
<path d="M151 152.3v2" stroke="#5aaed4"/>
<path d="M153 152.2v2.4" stroke="#59abd2"/>
<path d="M169 149.3v2.7" stroke="#7fd"/>
<path d="M171 149.8v2.6" stroke="#376"/>
<path d="M179 159.9v2.6" stroke="#36e"/>
<path d="M181 150.1v2.6" stroke="#6fe"/>
<path d="M183 150.7v2.7" stroke="#377"/>
<path d="M185 162.6v2.3" stroke="#239"/>
<path d="M195 158.7v2.8" stroke="#48f"/>
<path d="M197 158.3v2.5" stroke="#249"/>
<path d="M169 151.6v2.7" stroke="#6ff"/>
<path d="M171 152v2.6" stroke="#377"/>
<path d="M181 152.3v2.6" stroke="#6ef"/>
<path d="M183 153v2.7" stroke="#267"/>
<path d="M195 161.1v2.8" stroke="#36f"/>
<path d="M197 160.3v2.5" stroke="#249"/>
<path d="M181 154.5v2.6" stroke="#5df"/>
<path d="M183 155.2v2.7" stroke="#258"/>
<path d="M195 163.5v2.8" stroke="#25f"/>
<path d="M197 162.4v2.5" stroke="#238"/>
<path d="M181 156.7v2.6" stroke="#5bf"/>
<path d="M183 157.5v2.7" stroke="#258"/>
<path d="M181 158.9v2.6" stroke="#49f"/>
<path d="M183 159.8v2.7" stroke="#248"/>
<path d="M149 154v2.8" stroke="#5eabd9"/>
<path d="M151 154v2.8" stroke="#5daad8"/>
<path d="M155 154.4v2.4M157 154.2v2.6" stroke="#5ca9d7"/>
<path d="M159 152.4v2.2" stroke="#53cec7"/>
<path d="M161 153v1.9" stroke="#42a4a6"/>
<path d="M163 155.7v1.3" stroke="#4da6ca"/>
<path d="M169 153.9v1.7" stroke="#51c8d8"/>
<path d="M171 154.2v2.2" stroke="#3a8ea1"/>
<path d="M203 156.6v.6" stroke="#5ce"/>
<path d="M205 156.5v.7" stroke="#38a"/>
<path d="M209 155.7v1.4" stroke="#4da2cb"/>
<path d="M211 155.6v1.4" stroke="#4da2ca"/>
<path d="M213 155.2v1.7" stroke="#4da3ca"/>
<path d="M215 154.6v2.2" stroke="#4f9cc7"/>
<path d="M217 154.4v2.4" stroke="#4f9ac7"/>
<path d="M219 154.3v2.5" stroke="#4f98c6"/>
<path d="M221 154.2v2.6" stroke="#4f97c6"/>
<path d="M223 154.2v2.6" stroke="#4e96c5"/>
<path d="M159 154.2v2.2" stroke="#56bcd2"/>
<path d="M161 154.5v1.9" stroke="#4ca3ba"/>
<path d="M169 155.2v1.7" stroke="#58b1d7"/>
<path d="M171 156v2.2" stroke="#408eaf"/>
<path d="M159 156v3" stroke="#59abd4"/>
<path d="M161 156v3" stroke="#58a9d1"/>
<path d="M163 156.6v2.4" stroke="#5ba7d5"/>
<path d="M165 156.8v2.3" stroke="#5aa7d5"/>
<path d="M167 156.3v2.7" stroke="#5aa8d4"/>
<path d="M169 156.6v2.5" stroke="#56a6d0"/>
<path d="M171 157.9v1.2" stroke="#4ea7cb"/>
<path d="M173 157.9v1.2" stroke="#50acd2"/>
<path d="M175 157.5v1.7" stroke="#53a7cf"/>
<path d="M177 158.3v.9" stroke="#4aa5ca"/>
<path d="M199 157.7v1.6" stroke="#4eadd2"/>
<path d="M201 157v2.1" stroke="#50a0ca"/>
<path d="M203 156.9v2.3" stroke="#51a2cb"/>
<path d="M205 156.8v2.3" stroke="#509fc9"/>
<path d="M207 157v2.1" stroke="#509fca"/>
<path d="M209 156.7v2.3" stroke="#519cc9"/>
<path d="M211 156.6v2.4" stroke="#519bc9"/>
<path d="M213 156.5v2.5" stroke="#5199c8"/>
<path d="M215 156.4v2.6" stroke="#5099c8"/>
<path d="M217 156.4v2.6" stroke="#5098c7"/>
<path d="M219 156.4v2.6" stroke="#4f97c6"/>
<path d="M221 156.4v2.6" stroke="#4f96c6"/>
<path d="M173 158.7v2.5" stroke="#5aa4d3"/>
<path d="M175 158.8v2.4" stroke="#59a4d3"/>
<path d="M177 158.8v2.4" stroke="#59a3d2"/>
<path d="M179 159v2.2M181 159.2v2M183 159v2.2" stroke="#56a4d0"/>
<path d="M185 159v2.2" stroke="#55a3ce"/>
<path d="M187 159.2v2" stroke="#55a3cf"/>
<path d="M189 159.2v2M191 159.2v2" stroke="#54a2ce"/>
<path d="M193 159.1v2.1" stroke="#54a1cd"/>
<path d="M195 159.1v2.1" stroke="#53a1cd"/>
<path d="M197 159v2.2" stroke="#53a0cc"/>
<path d="M199 158.9v2.3" stroke="#539fcc"/>
<path d="M201 158.8v2.4" stroke="#539dcc"/>
<path d="M203 158.7v2.5" stroke="#539ccb"/>
<path d="M205 158.7v2.5" stroke="#539bcb"/>
<path d="M207 158.6v2.6" stroke="#529bca"/>
<path d="M209 158.6v2.6" stroke="#529aca"/>
<path d="M211 158.6v2.6" stroke="#5299c9"/>
<path d="M213 158.6v2.6" stroke="#5199c8"/>
<path d="M215 158.6v2.6" stroke="#5198c8"/>
<path d="M217 158.6v2.6" stroke="#5098c7"/>
<path d="M219 158.6v2.6" stroke="#5097c7"/>
<path d="M179 160.8v2.6" stroke="#59a2d3"/>
<path d="M181 160.8v2.6" stroke="#59a1d2"/>
<path d="M183 160.8v2.6" stroke="#58a1d2"/>
<path d="M185 160.8v2.6" stroke="#58a0d1"/>
<path d="M187 160.8v2.6" stroke="#57a0d0"/>
<path d="M189 160.8v2.6" stroke="#579fd0"/>
<path d="M191 160.8v2.6" stroke="#579fcf"/>
<path d="M193 160.8v2.6" stroke="#569ecf"/>
<path d="M195 160.8v2.6" stroke="#569ece"/>
<path d="M197 160.8v2.6M199 160.8v2.6" stroke="#559dcd"/>
<path d="M201 160.8v2.6" stroke="#549ccc"/>
<path d="M203 160.8v2.6" stroke="#549bcc"/>
<path d="M205 160.8v2.6" stroke="#539bcb"/>
<path d="M207 160.8v2.6" stroke="#539aca"/>
<path d="M209 160.8v2.6" stroke="#529aca"/>
<path d="M211 160.8v2.6" stroke="#5299c9"/>
<path d="M213 160.8v2.6" stroke="#5199c9"/>
<path d="M215 160.8v2.6" stroke="#5198c8"/>
<path d="M217 160.8v2.6" stroke="#5098c7"/>
<path d="M185 163v2.6M187 163v2.6" stroke="#58a0d1"/>
<path d="M189 163v2.6" stroke="#579fd0"/>
<path d="M191 163v2.6" stroke="#579fcf"/>
<path d="M193 163v2.6" stroke="#569ecf"/>
<path d="M195 163v2.6" stroke="#569ece"/>
<path d="M197 163v2.6" stroke="#559dce"/>
<path d="M199 163v2.6" stroke="#559dcd"/>
<path d="M201 163v2.6" stroke="#549ccc"/>
<path d="M203 163v2.6" stroke="#549bcc"/>
<path d="M205 163v2.6" stroke="#539bcb"/>
<path d="M207 163v2.6" stroke="#539acb"/>
<path d="M209 163v2.6" stroke="#529aca"/>
<path d="M215 163v2.6" stroke="#5198c8"/>
<path d="M187 165.2v2.6" stroke="#58a0d1"/>
<path d="M189 165.2v2.6M191 165.2v2.6" stroke="#579fd0"/>
<path d="M193 165.2v2.6" stroke="#569ecf"/>
<path d="M195 165.2v2.6" stroke="#569ece"/>
<path d="M201 165.2v2.6M203 165.2v2.6" stroke="#549ccc"/>
<path d="M205 165.2v2.6M207 165.2v2.6" stroke="#539bcb"/>
<path d="M209 165.2v2.6" stroke="#529aca"/>
<path d="M195 167.4v2.6" stroke="#569ece"/>
</g></g>
<line x1="45.0" y1="150.3" x2="129.8" y2="231.8" stroke="#c8c8c8" stroke-width="0.8"/>
<line x1="208.6" y1="231.8" x2="315.6" y2="176.0" stroke="#c8c8c8" stroke-width="0.8"/>
<text x="46.0" y="189.2" font-size="8.2" font-weight="normal" fill="#d8d8d8" textLength="15.2" lengthAdjust="spacingAndGlyphs">25.8</text>
<text x="280.3" y="215.3" font-size="8.2" font-weight="normal" fill="#d8d8d8" textLength="27.5" lengthAdjust="spacingAndGlyphs">24.0 um</text>
<text x="50.0" y="23.6" font-size="20.5" fill="#fff">A</text>
<rect x="327.6" y="11.2" width="11.9" height="218.0" fill="url(#cbg)" stroke="#777" stroke-width="0.6"/>
<text x="327.8" y="7.8" font-size="6.0" font-weight="normal" fill="#333">um</text>
<line x1="340.1" y1="11.2" x2="342.5" y2="11.2" stroke="#666" stroke-width="0.9"/>
<text x="355.6" y="13.5" font-size="5.8" font-weight="normal" fill="#333" text-anchor="end">9.4</text>
<line x1="340.1" y1="32.1" x2="342.5" y2="32.1" stroke="#666" stroke-width="0.9"/>
<text x="355.6" y="34.4" font-size="5.8" font-weight="normal" fill="#333" text-anchor="end">8.0</text>
<line x1="340.1" y1="47.0" x2="342.5" y2="47.0" stroke="#666" stroke-width="0.9"/>
<text x="355.6" y="49.3" font-size="5.8" font-weight="normal" fill="#333" text-anchor="end">7.0</text>
<line x1="340.1" y1="62.0" x2="342.5" y2="62.0" stroke="#666" stroke-width="0.9"/>
<text x="355.6" y="64.3" font-size="5.8" font-weight="normal" fill="#333" text-anchor="end">6.0</text>
<line x1="340.1" y1="76.9" x2="342.5" y2="76.9" stroke="#666" stroke-width="0.9"/>
<text x="355.6" y="79.2" font-size="5.8" font-weight="normal" fill="#333" text-anchor="end">5.0</text>
<line x1="340.1" y1="91.8" x2="342.5" y2="91.8" stroke="#666" stroke-width="0.9"/>
<text x="355.6" y="94.1" font-size="5.8" font-weight="normal" fill="#333" text-anchor="end">4.0</text>
<line x1="340.1" y1="106.8" x2="342.5" y2="106.8" stroke="#666" stroke-width="0.9"/>
<text x="355.6" y="109.1" font-size="5.8" font-weight="normal" fill="#333" text-anchor="end">3.0</text>
<line x1="340.1" y1="121.7" x2="342.5" y2="121.7" stroke="#666" stroke-width="0.9"/>
<text x="355.6" y="124.0" font-size="5.8" font-weight="normal" fill="#333" text-anchor="end">2.0</text>
<line x1="340.1" y1="136.6" x2="342.5" y2="136.6" stroke="#666" stroke-width="0.9"/>
<text x="355.6" y="138.9" font-size="5.8" font-weight="normal" fill="#333" text-anchor="end">1.0</text>
<line x1="340.1" y1="151.6" x2="342.5" y2="151.6" stroke="#666" stroke-width="0.9"/>
<text x="355.6" y="153.9" font-size="5.8" font-weight="normal" fill="#333" text-anchor="end">0.0</text>
<line x1="340.1" y1="166.5" x2="342.5" y2="166.5" stroke="#666" stroke-width="0.9"/>
<text x="355.6" y="168.8" font-size="5.8" font-weight="normal" fill="#333" text-anchor="end">-1.0</text>
<line x1="340.1" y1="181.4" x2="342.5" y2="181.4" stroke="#666" stroke-width="0.9"/>
<text x="355.6" y="183.7" font-size="5.8" font-weight="normal" fill="#333" text-anchor="end">-2.0</text>
<line x1="340.1" y1="196.4" x2="342.5" y2="196.4" stroke="#666" stroke-width="0.9"/>
<text x="355.6" y="198.7" font-size="5.8" font-weight="normal" fill="#333" text-anchor="end">-3.0</text>
<line x1="340.1" y1="211.3" x2="342.5" y2="211.3" stroke="#666" stroke-width="0.9"/>
<text x="355.6" y="213.6" font-size="5.8" font-weight="normal" fill="#333" text-anchor="end">-4.0</text>
<line x1="340.1" y1="229.2" x2="342.5" y2="229.2" stroke="#666" stroke-width="0.9"/>
<text x="355.6" y="231.5" font-size="5.8" font-weight="normal" fill="#333" text-anchor="end">-5.2</text>
<line x1="340.3" y1="17.2" x2="342.3" y2="17.2" stroke="#555" stroke-width="0.7"/>
<line x1="340.3" y1="226.2" x2="342.3" y2="226.2" stroke="#555" stroke-width="0.7"/>
<linearGradient id="pgB" gradientUnits="userSpaceOnUse" x1="385" y1="185" x2="644" y2="95"><stop offset="0" stop-color="#5794f5"/><stop offset="1" stop-color="#2f5dcc"/></linearGradient>
<rect x="384.5" y="1.8" width="259.8" height="229.5" fill="#000"/>
<line x1="384.5" y1="2.2" x2="644.3" y2="2.2" stroke="#555" stroke-width="0.8"/>
<polygon points="384.5,108.6 512.1,17.5 644.3,89.2 644.3,142.6 556.2,231.3 466.8,231.3 384.5,169.0" fill="url(#pgB)"/>
<clipPath id="cB"><rect x="384.5" y="1.8" width="259.8" height="229.5"/></clipPath>
<g clip-path="url(#cB)"><g stroke-width="2.35" fill="none">
<path d="M502 82.8v2.8" stroke="#4386dd"/>
<path d="M504 82.8v2.5" stroke="#4387db"/>
<path d="M506 82.8v2.3" stroke="#4697d8"/>
<path d="M508 82.8v2" stroke="#469ed5"/>
<path d="M510 82.8v1.5" stroke="#4cbbd2"/>
<path d="M512 82.8v1.5" stroke="#48b2c8"/>
<path d="M514 82.8v2.2" stroke="#449ace"/>
<path d="M516 82.8v2.7" stroke="#4184d8"/>
<path d="M524 82.8v2.7" stroke="#407fda"/>
<path d="M526 82.8v2.5" stroke="#428bd8"/>
<path d="M528 82.8v2.6" stroke="#4188d5"/>
<path d="M496 85.4v2.8" stroke="#4381de"/>
<path d="M498 85.4v2.8" stroke="#4380dd"/>
<path d="M500 85.4v2.8" stroke="#4382dd"/>
<path d="M502 85.2v2.2" stroke="#4ec0dc"/>
<path d="M504 84.9v2.3" stroke="#46abc2"/>
<path d="M534 85.3v1.1" stroke="#4aa"/>
<path d="M536 85.4v2.7" stroke="#3f7ed7"/>
<path d="M542 85.4v2.6" stroke="#4085d7"/>
<path d="M544 85.4v2.5" stroke="#3f83d5"/>
<path d="M546 85.4v2.8" stroke="#3d79d7"/>
<path d="M488 88v2.2" stroke="#4bb0dd"/>
<path d="M490 87.9v2.1" stroke="#46a2cb"/>
<path d="M492 87.9v2.7" stroke="#4488db"/>
<path d="M494 88v.9" stroke="#5de"/>
<path d="M496 87.8v.8" stroke="#4aa"/>
<path d="M498 87.8v1.5" stroke="#5cd"/>
<path d="M500 87.8v1.3" stroke="#4bb"/>
<path d="M502 86.9v1.5" stroke="#6ed"/>
<path d="M504 86.8v.9" stroke="#4b9"/>
<path d="M510 82.8v1.9" stroke="#9f6"/>
<path d="M526 84.1v1.9" stroke="#495"/>
<path d="M528 84.8v.5" stroke="#8f9"/>
<path d="M544 87.5v.8" stroke="#4aa"/>
<path d="M546 87.8v2" stroke="#44a2c5"/>
<path d="M548 87.9v1.9" stroke="#4ab4d5"/>
<path d="M550 87.9v2.2" stroke="#429ec1"/>
<path d="M478 90.6v2.7" stroke="#478ddf"/>
<path d="M480 90.6v2.6" stroke="#468bdc"/>
<path d="M482 90.6v2.5" stroke="#4796dd"/>
<path d="M484 90.6v2.3" stroke="#4693d8"/>
<path d="M486 90.5v1.4" stroke="#5dd"/>
<path d="M488 89.8v1.7" stroke="#5cb"/>
<path d="M490 89.6v1.2" stroke="#5dc"/>
<path d="M506 83.5v1.3" stroke="#9f5"/>
<path d="M508 83.3v1.8" stroke="#593"/>
<path d="M510 84.3v1.1" stroke="#9f5"/>
<path d="M512 77.6v2.2" stroke="#a81"/>
<path d="M514 76.9v2.6" stroke="#861"/>
<path d="M516 75.5v2.9" stroke="#e81"/>
<path d="M518 76.5v1.9" stroke="#741"/>
<path d="M520 83.4v1" stroke="#592"/>
<path d="M522 82.9v1.9" stroke="#9f4"/>
<path d="M524 82.1v2.4M530 81.4v2.3" stroke="#692"/>
<path d="M532 82.9v2.5" stroke="#6a3"/>
<path d="M540 86.6v.5" stroke="#7e6"/>
<path d="M554 90.6v2.3" stroke="#408cd2"/>
<path d="M556 90.6v2.7" stroke="#3e7ed4"/>
<path d="M506 84.5v1.3" stroke="#9f5"/>
<path d="M508 84.7v1.8" stroke="#593"/>
<path d="M512 79.4v2.2" stroke="#992"/>
<path d="M514 79.1v2.6" stroke="#871"/>
<path d="M516 78v2.9" stroke="#e91"/>
<path d="M518 78v1.9" stroke="#741"/>
<path d="M530 83.3v2.3" stroke="#6a3"/>
<path d="M532 85v2.5" stroke="#5b4"/>
<path d="M512 81.2v2.2" stroke="#8a2"/>
<path d="M514 81.4v2.6" stroke="#792"/>
<path d="M530 85.3v2.3" stroke="#5a3"/>
<path d="M532 87.2v2.5" stroke="#5b6"/>
<path d="M512 82.9v2.2" stroke="#8b3"/>
<path d="M514 83.6v2.6" stroke="#6a3"/>
<path d="M474 93.1v2.5" stroke="#499ede"/>
<path d="M476 93.1v2.4" stroke="#4696d4"/>
<path d="M478 92.9v2.4" stroke="#4caddc"/>
<path d="M480 92.8v1.1" stroke="#5dc"/>
<path d="M482 92.7v1.2" stroke="#4bb"/>
<path d="M484 92.5v2.3" stroke="#49afcb"/>
<path d="M486 91.5v2.1" stroke="#6ec"/>
<path d="M500 79.9v1.9" stroke="#c91"/>
<path d="M502 79v2.4" stroke="#851"/>
<path d="M504 84.2v2.1" stroke="#682"/>
<path d="M508 86.2v1" stroke="#592"/>
<path d="M510 84.9v2" stroke="#af4"/>
<path d="M516 80.5v1.4" stroke="#da1"/>
<path d="M518 79.4v.7" stroke="#a51"/>
<path d="M522 84.4v2.5" stroke="#9e3"/>
<path d="M524 84.1v1.1" stroke="#8a2"/>
<path d="M526 84.3v1" stroke="#7b2"/>
<path d="M528 83.5v1" stroke="#ac3"/>
<path d="M534 82.4v1.7" stroke="#ac2"/>
<path d="M536 79.8v2.5" stroke="#861"/>
<path d="M538 84.9v2.9" stroke="#692"/>
<path d="M540 86.7v3.1" stroke="#6c4"/>
<path d="M542 85v2.6" stroke="#9f4"/>
<path d="M544 82.4v2.6" stroke="#8a2"/>
<path d="M546 83.5v2" stroke="#7a2"/>
<path d="M548 87.9v2.5" stroke="#594"/>
<path d="M550 88.7v2.1" stroke="#7f9"/>
<path d="M552 89.7v1.2" stroke="#5a6"/>
<path d="M560 93.2v2.7" stroke="#3d7cd5"/>
<path d="M562 93.2v2.6" stroke="#3e80d6"/>
<path d="M564 93.2v2.7" stroke="#3d7ed3"/>
<path d="M500 81.5v1.9" stroke="#ca1"/>
<path d="M502 81.1v2.4" stroke="#761"/>
<path d="M516 81.5v1.4" stroke="#d91"/>
<path d="M518 79.7v.7" stroke="#a51"/>
<path d="M526 84.9v1" stroke="#8a2"/>
<path d="M528 84.1v1" stroke="#ab2"/>
<path d="M534 83.7v1.7" stroke="#ad3"/>
<path d="M536 81.9v2.5" stroke="#881"/>
<path d="M542 87.2v2.6" stroke="#8f5"/>
<path d="M544 84.6v2.6M546 85.1v2" stroke="#7b3"/>
<path d="M550 90.5v2.1" stroke="#7fa"/>
<path d="M552 90.5v1.2" stroke="#5a6"/>
<path d="M500 83v1.9" stroke="#bb2"/>
<path d="M502 83.1v2.4" stroke="#771"/>
<path d="M534 85v1.7" stroke="#9e3"/>
<path d="M536 84v2.5" stroke="#792"/>
<path d="M544 86.8v2.6" stroke="#7c4"/>
<path d="M546 86.6v2" stroke="#7b3"/>
<path d="M534 86.3v1.7" stroke="#9f4"/>
<path d="M536 86.2v2.5" stroke="#6a3"/>
<path d="M470 95.7v2.7" stroke="#4895df"/>
<path d="M472 95.7v2.4" stroke="#4793da"/>
<path d="M474 95.2v3" stroke="#499dda"/>
<path d="M476 95.1v3.2" stroke="#4798d4"/>
<path d="M478 94.9v1.6" stroke="#5ed"/>
<path d="M488 86.7v2" stroke="#af4"/>
<path d="M490 83.5v1.7" stroke="#971"/>
<path d="M498 82.2v2.1" stroke="#851"/>
<path d="M500 84.6v2.1" stroke="#881"/>
<path d="M502 85.2v2.2" stroke="#992"/>
<path d="M506 85.3v.8" stroke="#a91"/>
<path d="M512 84.1v3" stroke="#9a2"/>
<path d="M514 84.1v3" stroke="#ba2"/>
<path d="M516 82.5v3" stroke="#c81"/>
<path d="M518 80v2.7" stroke="#d61"/>
<path d="M520 82.8v1.3" stroke="#751"/>
<path d="M528 84.7v.7" stroke="#ca2"/>
<path d="M530 84.3v.5" stroke="#861"/>
<path d="M548 90v1.3" stroke="#6c4"/>
<path d="M554 92.4v.7" stroke="#6c6"/>
<path d="M556 90.8v1.6" stroke="#7e7"/>
<path d="M558 91.7v1.3" stroke="#5b6"/>
<path d="M562 95.4v.5" stroke="#4a9"/>
<path d="M564 95.5v2.4" stroke="#408dcf"/>
<path d="M566 95.8v2.6" stroke="#3f89ce"/>
<path d="M488 88.3v2" stroke="#af4"/>
<path d="M490 84.8v1.7" stroke="#871"/>
<path d="M512 86.7v3" stroke="#8b2"/>
<path d="M518 82.3v2.7" stroke="#c71"/>
<path d="M520 83.7v1.3" stroke="#851"/>
<path d="M548 90.9v1.3" stroke="#6b4"/>
<path d="M556 92v1.6" stroke="#7e7"/>
<path d="M558 92.5v1.3" stroke="#5b6"/>
<path d="M556 93.1v1.6" stroke="#6e8"/>
<path d="M558 93.4v1.3" stroke="#5b6"/>
<path d="M468 98.3v2.2" stroke="#4db4dc"/>
<path d="M470 98v2.5" stroke="#47a8cb"/>
<path d="M472 97.7v2.5" stroke="#50cad6"/>
<path d="M474 97.9v1.1" stroke="#5cc"/>
<path d="M480 93.1v3.2" stroke="#8f7"/>
<path d="M482 91.6v2.7M484 90.4v2.5" stroke="#8e4"/>
<path d="M486 91v1.2" stroke="#6a3"/>
<path d="M488 90v.8" stroke="#ae3"/>
<path d="M490 86.1v1.9" stroke="#c91"/>
<path d="M492 83.2v2.2" stroke="#d61"/>
<path d="M494 81.3v3.4" stroke="#b40"/>
<path d="M496 81.8v3" stroke="#b51"/>
<path d="M498 83.9v1.2" stroke="#a51"/>
<path d="M504 86v1.6" stroke="#b81"/>
<path d="M506 85.7v2.4" stroke="#971"/>
<path d="M508 84.4v2.3" stroke="#e81"/>
<path d="M510 86.4v.6" stroke="#751"/>
<path d="M512 89.3v.5" stroke="#9b2"/>
<path d="M514 86.7v2.7" stroke="#bb2"/>
<path d="M516 85v2.3" stroke="#b71"/>
<path d="M518 84.6v1.8" stroke="#c61"/>
<path d="M520 84.6v1.3M522 84.4v1.4M524 84.2v1.6" stroke="#b61"/>
<path d="M526 84.8v1.1" stroke="#a61"/>
<path d="M528 85v1" stroke="#c71"/>
<path d="M530 84.3v1.6" stroke="#b61"/>
<path d="M532 84.7v1.4" stroke="#a61"/>
<path d="M542 86.2v2.2" stroke="#981"/>
<path d="M544 83.7v3.4" stroke="#d81"/>
<path d="M550 87.2v3.3" stroke="#bd3"/>
<path d="M552 88.6v2.6" stroke="#582"/>
<path d="M560 92.9v2.9" stroke="#6b5"/>
<path d="M562 95.5v3" stroke="#497"/>
<path d="M564 97.5v2.4" stroke="#4bbdca"/>
<path d="M566 97.9v2.5" stroke="#409eb4"/>
<path d="M492 85v2.2" stroke="#c71"/>
<path d="M494 84.3v3.4" stroke="#a61"/>
<path d="M496 84.4v3" stroke="#b61"/>
<path d="M498 84.8v1.2" stroke="#a51"/>
<path d="M542 88v2.2" stroke="#881"/>
<path d="M544 86.7v3.4" stroke="#ca2"/>
<path d="M550 90.1v3.3" stroke="#af4"/>
<path d="M552 90.8v2.6" stroke="#582"/>
<path d="M466 100.9v2.1" stroke="#4fc3de"/>
<path d="M470 100.1v.6" stroke="#498"/>
<path d="M472 99.8v2.3" stroke="#5dd"/>
<path d="M490 87.6v1.7" stroke="#c81"/>
<path d="M492 86.7v1.9M494 87.3v1.1" stroke="#b61"/>
<path d="M496 86.9v1.4" stroke="#c61"/>
<path d="M498 85.6v2.7" stroke="#d61"/>
<path d="M500 85v3.1M502 86.2v1.9" stroke="#b51"/>
<path d="M504 87.2v1.4M506 87.6v1.7" stroke="#a61"/>
<path d="M508 86.3v2.2" stroke="#c71"/>
<path d="M510 86.6v2.2" stroke="#951"/>
<path d="M516 87v2.8" stroke="#c71"/>
<path d="M518 85.9v2.8" stroke="#c61"/>
<path d="M520 85.5v2.7M522 85.5v2.8" stroke="#b51"/>
<path d="M524 85.4v2.8" stroke="#c51"/>
<path d="M526 85.5v2.5" stroke="#b51"/>
<path d="M528 85.6v2.4M530 85.5v2.3" stroke="#c51"/>
<path d="M532 85.7v2.3M534 85.9v2.7M536 86.1v2.7" stroke="#b51"/>
<path d="M538 85.3v2.9" stroke="#d61"/>
<path d="M540 86.4v1.2" stroke="#941"/>
<path d="M542 89.9v.9" stroke="#761"/>
<path d="M544 89.8v3" stroke="#bb2"/>
<path d="M546 86.1v2.3" stroke="#a61"/>
<path d="M548 89.1v2" stroke="#661"/>
<path d="M550 92.9v1.8" stroke="#8d3"/>
<path d="M552 93v.5" stroke="#9e4"/>
<path d="M556 91.1v2.6" stroke="#582"/>
<path d="M558 94.1v2.1" stroke="#7d4"/>
<path d="M564 99.4v1.6" stroke="#4b9"/>
<path d="M566 100v3.2" stroke="#3f9db0"/>
<path d="M568 100.9v2.9" stroke="#3b75d5"/>
<path d="M508 88.2v2.2" stroke="#b71"/>
<path d="M510 88.4v2.2" stroke="#961"/>
<path d="M546 87.9v2.3" stroke="#971"/>
<path d="M548 90.6v2" stroke="#671"/>
<path d="M550 94.3v1.8" stroke="#8d4"/>
<path d="M552 93.2v.5" stroke="#9d3"/>
<path d="M556 93.3v2.6" stroke="#582"/>
<path d="M558 95.8v2.1" stroke="#7e4"/>
<path d="M546 89.8v2.3" stroke="#981"/>
<path d="M548 92.2v2" stroke="#682"/>
<path d="M546 91.7v2.3" stroke="#892"/>
<path d="M548 93.8v2" stroke="#582"/>
<path d="M462 103.6v2.6" stroke="#4993e0"/>
<path d="M464 103.5v2.2" stroke="#4aa2da"/>
<path d="M466 102.6v1.8" stroke="#4dbecf"/>
<path d="M468 99.9v2.1" stroke="#7fb"/>
<path d="M470 100.3v1.2" stroke="#5a6"/>
<path d="M480 90.8v2.2" stroke="#861"/>
<path d="M482 92.3v1.1" stroke="#aa2"/>
<path d="M486 90.4v1.7" stroke="#d81"/>
<path d="M488 89.2v1.8" stroke="#b61"/>
<path d="M490 88.9v1.8" stroke="#c61"/>
<path d="M492 88.2v2.3" stroke="#c51"/>
<path d="M494 88v2.6" stroke="#b51"/>
<path d="M496 88v2.5M498 87.9v2.3M500 87.7v2.5M502 87.7v2.7" stroke="#c51"/>
<path d="M504 88.1v2.8M506 89v2.8" stroke="#a51"/>
<path d="M508 90v2.5" stroke="#961"/>
<path d="M510 90.3v1.5" stroke="#c71"/>
<path d="M512 89.1v1.7" stroke="#a61"/>
<path d="M514 89.1v1.8M516 89.3v2.2" stroke="#b61"/>
<path d="M518 88.4v3.1" stroke="#c61"/>
<path d="M520 87.8v3.1" stroke="#c51"/>
<path d="M522 87.9v2.9" stroke="#b51"/>
<path d="M524 87.7v2.7" stroke="#c51"/>
<path d="M526 87.6v2.9" stroke="#b51"/>
<path d="M528 87.6v3" stroke="#c51"/>
<path d="M530 87.4v3.1M532 87.6v3.1M534 88.1v3" stroke="#b51"/>
<path d="M536 88.4v3.2" stroke="#b61"/>
<path d="M538 87.7v3.3" stroke="#d61"/>
<path d="M540 87.2v2.6" stroke="#c51"/>
<path d="M542 90.4v2.7" stroke="#751"/>
<path d="M544 92.3v3" stroke="#bb2"/>
<path d="M546 93.6v.6" stroke="#771"/>
<path d="M560 92.9v1" stroke="#bb2"/>
<path d="M570 103.5v.6" stroke="#4aa"/>
<path d="M572 103.6v2.7" stroke="#3c7cd3"/>
<path d="M466 104v1.8" stroke="#4aa4d9"/>
<path d="M468 101.6v2.1" stroke="#7fc"/>
<path d="M480 92.6v2.2" stroke="#771"/>
<path d="M482 93v1.1" stroke="#ba1"/>
<path d="M512 90.4v1.7" stroke="#a61"/>
<path d="M514 90.5v1.8" stroke="#b61"/>
<path d="M560 93.5v1" stroke="#bb2"/>
<path d="M458 106.2v2.9" stroke="#4988e4"/>
<path d="M460 106.1v2.9" stroke="#4887e3"/>
<path d="M462 105.8v2.5" stroke="#50bfe0"/>
<path d="M464 105.3v2.7" stroke="#48afc6"/>
<path d="M466 105.5v.8" stroke="#5ed"/>
<path d="M470 101.1v2.5" stroke="#6c5"/>
<path d="M472 98.6v2.1" stroke="#9f5"/>
<path d="M474 94.5v3" stroke="#ab2"/>
<path d="M476 93.5v3.3" stroke="#981"/>
<path d="M478 93.4v2.2" stroke="#ca1"/>
<path d="M482 93.8v.5" stroke="#c81"/>
<path d="M484 92.2v1.7" stroke="#b61"/>
<path d="M486 91.7v1.6" stroke="#c61"/>
<path d="M488 90.6v2.8M490 90.3v2.7M492 90.1v2.7" stroke="#c51"/>
<path d="M494 90.2v2.7" stroke="#b51"/>
<path d="M496 90.1v2.9M498 89.8v3.2" stroke="#c51"/>
<path d="M500 89.8v3.4" stroke="#b51"/>
<path d="M502 89.9v3.3" stroke="#c51"/>
<path d="M504 90.5v2.9M506 91.3v2.9" stroke="#a51"/>
<path d="M508 92.1v3" stroke="#a61"/>
<path d="M510 91.4v2.6M512 91.7v2" stroke="#b61"/>
<path d="M514 91.9v1.3" stroke="#d71"/>
<path d="M516 91.1v2.8" stroke="#a51"/>
<path d="M518 91.1v2.8" stroke="#d61"/>
<path d="M520 90.5v3.1M522 90.3v3.8M524 90.1v4M526 90.1v4M528 90.2v4M530 90.1v4.2M532 90.3v3.8M534 90.7v3.2" stroke="#b51"/>
<path d="M536 91.2v2.3" stroke="#c61"/>
<path d="M538 90.6v2.1" stroke="#a51"/>
<path d="M540 89.4v3" stroke="#d51"/>
<path d="M542 92.7v1.1" stroke="#851"/>
<path d="M544 95v.7" stroke="#a91"/>
<path d="M546 93.8v2.1" stroke="#871"/>
<path d="M548 94.4v2.3" stroke="#992"/>
<path d="M550 94.8v2.8" stroke="#aa2"/>
<path d="M552 92.3v2.3" stroke="#e81"/>
<path d="M554 90.9v2.2" stroke="#841"/>
<path d="M556 91v3.3" stroke="#b71"/>
<path d="M558 91.1v2" stroke="#c61"/>
<path d="M560 94v.8" stroke="#751"/>
<path d="M562 92.2v2.1" stroke="#d91"/>
<path d="M564 94.7v1.4" stroke="#661"/>
<path d="M572 105.9v1.2" stroke="#4aa"/>
<path d="M574 106.1v2.5" stroke="#3f8dcb"/>
<path d="M472 100.3v2.1" stroke="#9f5"/>
<path d="M474 97.1v3" stroke="#9c3"/>
<path d="M476 96.5v3.3" stroke="#8a2"/>
<path d="M478 95.2v2.2" stroke="#bb2"/>
<path d="M510 93.6v2.6" stroke="#a71"/>
<path d="M512 93.2v2" stroke="#b71"/>
<path d="M538 92.3v2.1" stroke="#a51"/>
<path d="M540 92.1v3" stroke="#c61"/>
<path d="M542 93.4v1.1" stroke="#851"/>
<path d="M546 95.5v2.1" stroke="#881"/>
<path d="M548 96.3v2.3" stroke="#892"/>
<path d="M554 92.7v2.2" stroke="#851"/>
<path d="M556 93.9v3.3" stroke="#a81"/>
<path d="M558 92.8v2" stroke="#c71"/>
<path d="M562 93.9v2.1" stroke="#ca1"/>
<path d="M564 95.7v1.4" stroke="#671"/>
<path d="M562 95.6v2.1" stroke="#bb2"/>
<path d="M564 96.7v1.4" stroke="#671"/>
<path d="M458 108.6v2.8" stroke="#4990e2"/>
<path d="M460 108.6v2.1" stroke="#4cb3d7"/>
<path d="M468 103.3v1" stroke="#5b3"/>
<path d="M470 103.2v1.2" stroke="#8f5"/>
<path d="M474 99.7v.5" stroke="#9c2"/>
<path d="M480 94v3.7" stroke="#c71"/>
<path d="M482 93.8v3.1" stroke="#b61"/>
<path d="M484 93.6v3" stroke="#c61"/>
<path d="M486 92.9v2.9" stroke="#c51"/>
<path d="M488 92.9v2.6" stroke="#b51"/>
<path d="M490 92.7v3" stroke="#c51"/>
<path d="M492 92.4v3.3M494 92.5v3.2M496 92.6v3.1" stroke="#b51"/>
<path d="M498 92.6v3.2" stroke="#c51"/>
<path d="M500 92.8v2.8M502 92.8v2.9M504 93v3.2M506 93.8v2.1" stroke="#b51"/>
<path d="M508 94.7v2.3" stroke="#951"/>
<path d="M510 95.8v2.6" stroke="#971"/>
<path d="M512 94.8v2.6" stroke="#b71"/>
<path d="M514 92.8v4" stroke="#b61"/>
<path d="M516 93.6v2.5" stroke="#c61"/>
<path d="M518 93.5v2.4" stroke="#a61"/>
<path d="M520 93.2v3.3" stroke="#a51"/>
<path d="M522 93.7v2.9M524 93.6v2.7" stroke="#b61"/>
<path d="M526 93.7v2.6M528 93.8v3.1M530 93.9v3.1" stroke="#a61"/>
<path d="M532 93.7v3" stroke="#b61"/>
<path d="M534 93.5v3.1" stroke="#a61"/>
<path d="M536 93.1v3.3" stroke="#b61"/>
<path d="M538 94v2.6" stroke="#961"/>
<path d="M540 94.7v2.4" stroke="#a71"/>
<path d="M542 94.2v3.3" stroke="#961"/>
<path d="M544 95.3v2.4" stroke="#a81"/>
<path d="M546 97.2v2" stroke="#871"/>
<path d="M552 94.2v2" stroke="#d71"/>
<path d="M554 94.5v.9" stroke="#a61"/>
<path d="M558 94.4v1.1" stroke="#e71"/>
<path d="M560 94.5v2.4" stroke="#751"/>
<path d="M562 97.4v2.1" stroke="#9a2"/>
<path d="M564 97.7v3.2" stroke="#892"/>
<path d="M566 100.2v4" stroke="#592"/>
<path d="M568 100.7v2.3" stroke="#af4"/>
<path d="M574 108.2v.7" stroke="#5dc"/>
<path d="M576 108.6v.9" stroke="#4aa"/>
<path d="M578 108.6v2.7" stroke="#3d80d2"/>
<path d="M580 108.7v2.8" stroke="#3a75d4"/>
<path d="M512 96.9v2.6M514 96.4v4" stroke="#a81"/>
<path d="M516 95.7v2.5" stroke="#b71"/>
<path d="M518 95.5v2.4" stroke="#a61"/>
<path d="M520 96v3.3" stroke="#971"/>
<path d="M522 96.2v2.9M524 95.9v2.7M526 95.9v2.6" stroke="#a71"/>
<path d="M528 96.5v3.1" stroke="#971"/>
<path d="M530 96.6v3.1M532 96.2v3" stroke="#a81"/>
<path d="M534 96.2v3.1" stroke="#971"/>
<path d="M536 96v3.3" stroke="#a81"/>
<path d="M538 96.2v2.6" stroke="#961"/>
<path d="M540 96.7v2.4" stroke="#a81"/>
<path d="M542 97.1v3.3" stroke="#871"/>
<path d="M544 97.3v2.4" stroke="#a81"/>
<path d="M552 95.8v2" stroke="#c81"/>
<path d="M554 95v.9" stroke="#b51"/>
<path d="M560 96.5v2.4" stroke="#751"/>
<path d="M562 99.1v2.1" stroke="#9b2"/>
<path d="M454 111.4v2.5" stroke="#4b9ee0"/>
<path d="M456 111.3v2.1" stroke="#4a9ddb"/>
<path d="M458 111v2" stroke="#4ebed5"/>
<path d="M460 110.3v2.5" stroke="#4dbecc"/>
<path d="M462 107.9v2.4" stroke="#6fb"/>
<path d="M464 105v1" stroke="#9f5"/>
<path d="M466 102.4v1.3" stroke="#6a2"/>
<path d="M468 103.9v1.9" stroke="#6a3"/>
<path d="M470 104v1.6" stroke="#8f5"/>
<path d="M474 99.8v.5" stroke="#761"/>
<path d="M476 97.6v2.7" stroke="#da1"/>
<path d="M478 97v2.2" stroke="#851"/>
<path d="M480 97.3v2.6" stroke="#c81"/>
<path d="M482 96.6v2.2" stroke="#b71"/>
<path d="M484 96.2v3.4" stroke="#b61"/>
<path d="M486 95.4v3.5" stroke="#c61"/>
<path d="M488 95.1v3.3" stroke="#b51"/>
<path d="M490 95.2v3.1" stroke="#c51"/>
<path d="M492 95.3v3.1" stroke="#b51"/>
<path d="M494 95.4v3.1" stroke="#c51"/>
<path d="M496 95.4v3" stroke="#b51"/>
<path d="M498 95.4v2.9" stroke="#c51"/>
<path d="M500 95.2v3.1M502 95.3v3.2M504 95.8v2.9M506 95.6v2.1" stroke="#b51"/>
<path d="M508 96.6v1.5" stroke="#a61"/>
<path d="M510 98v2" stroke="#961"/>
<path d="M512 99.1v.7" stroke="#b81"/>
<path d="M516 97.8v1.5" stroke="#c81"/>
<path d="M518 97.5v1.8" stroke="#961"/>
<path d="M520 98.9v1.2" stroke="#b81"/>
<path d="M522 98.7v.5M524 98.1v.5" stroke="#b71"/>
<path d="M526 98.2v1.9" stroke="#961"/>
<path d="M528 99.1v1.5" stroke="#a81"/>
<path d="M534 98.8v1" stroke="#961"/>
<path d="M536 98.9v3.3" stroke="#981"/>
<path d="M538 98.4v2.4" stroke="#a81"/>
<path d="M540 98.7v2.4" stroke="#981"/>
<path d="M542 99.9v3.4" stroke="#892"/>
<path d="M544 99.3v2.5" stroke="#ca2"/>
<path d="M546 98.8v3.3" stroke="#771"/>
<path d="M548 96.8v2.4" stroke="#d81"/>
<path d="M550 95.6v2.5" stroke="#951"/>
<path d="M552 97.4v2.4" stroke="#a71"/>
<path d="M554 95.5v2.7" stroke="#e71"/>
<path d="M556 94.6v2.7" stroke="#840"/>
<path d="M558 95.2v2.7" stroke="#d61"/>
<path d="M560 98.4v1.3" stroke="#761"/>
<path d="M562 100.8v1.2" stroke="#892"/>
<path d="M564 100.5v2.9" stroke="#792"/>
<path d="M566 103.9v1.1" stroke="#6b3"/>
<path d="M568 102.6v1.1" stroke="#9f4"/>
<path d="M570 99v3" stroke="#771"/>
<path d="M572 104.4v2.5" stroke="#593"/>
<path d="M574 108.5v2.9" stroke="#6eb"/>
<path d="M576 109.1v2.1" stroke="#4a8"/>
<path d="M578 110.9v1.8" stroke="#4aa"/>
<path d="M580 111.1v2.9" stroke="#3c7fd1"/>
<path d="M462 109.9v2.4" stroke="#6ec"/>
<path d="M464 105.6v1" stroke="#9f5"/>
<path d="M466 103.3v1.3" stroke="#7a2"/>
<path d="M468 105.4v1.9" stroke="#6a3"/>
<path d="M470 105.2v1.6" stroke="#9f5"/>
<path d="M474 99.9v.5" stroke="#751"/>
<path d="M476 99.9v2.7" stroke="#cb2"/>
<path d="M478 98.9v2.2" stroke="#851"/>
<path d="M480 99.6v2.6" stroke="#b91"/>
<path d="M482 98.3v2.2" stroke="#b71"/>
<path d="M506 97.3v2.1" stroke="#a51"/>
<path d="M508 97.7v1.5" stroke="#a61"/>
<path d="M516 98.9v1.5" stroke="#c81"/>
<path d="M518 98.9v1.8" stroke="#961"/>
<path d="M538 100.5v2.4" stroke="#991"/>
<path d="M540 100.7v2.4" stroke="#881"/>
<path d="M548 98.8v2.4" stroke="#ca1"/>
<path d="M550 97.7v2.5" stroke="#961"/>
<path d="M552 99.4v2.4" stroke="#a81"/>
<path d="M554 97.8v2.7" stroke="#d81"/>
<path d="M556 96.9v2.7" stroke="#841"/>
<path d="M558 97.5v2.7" stroke="#c81"/>
<path d="M560 99.3v1.3" stroke="#851"/>
<path d="M562 101.6v1.2" stroke="#892"/>
<path d="M564 103v2.9" stroke="#692"/>
<path d="M566 104.5v1.1" stroke="#7b3"/>
<path d="M568 103.3v1.1" stroke="#ae3"/>
<path d="M570 101.6v3" stroke="#682"/>
<path d="M572 106.4v2.5" stroke="#494"/>
<path d="M548 100.8v2.4" stroke="#bb2"/>
<path d="M550 99.7v2.5" stroke="#871"/>
<path d="M556 99.2v2.7" stroke="#761"/>
<path d="M558 99.8v2.7" stroke="#ba1"/>
<path d="M570 104.2v3" stroke="#593"/>
<path d="M572 108.5v2.5" stroke="#495"/>
<path d="M452 113.9v2.5" stroke="#4ba1e0"/>
<path d="M464 106.2v1.5" stroke="#8f4"/>
<path d="M466 104.2v2.5" stroke="#692"/>
<path d="M468 106.8v.7" stroke="#9f5"/>
<path d="M472 100.4v1.9" stroke="#da1"/>
<path d="M474 100v1.6" stroke="#851"/>
<path d="M476 102.2v1.2" stroke="#aa2"/>
<path d="M478 100.7v2.1" stroke="#971"/>
<path d="M480 101.8v2.3" stroke="#ba1"/>
<path d="M482 100.1v3" stroke="#b71"/>
<path d="M484 99.2v3.1" stroke="#c71"/>
<path d="M486 98.5v2.6" stroke="#c61"/>
<path d="M488 98v3.6" stroke="#a51"/>
<path d="M490 97.9v2.4" stroke="#b51"/>
<path d="M492 98v1.9" stroke="#c61"/>
<path d="M494 98v3.3" stroke="#a51"/>
<path d="M496 98v4.3" stroke="#b61"/>
<path d="M498 97.9v2.4M500 97.9v2.4" stroke="#b51"/>
<path d="M502 98.2v3.3" stroke="#c61"/>
<path d="M504 98.2v1.9" stroke="#a51"/>
<path d="M506 99v2" stroke="#a61"/>
<path d="M508 98.9v3.3" stroke="#c71"/>
<path d="M510 99.6v2.3" stroke="#951"/>
<path d="M512 99.4v2.3" stroke="#d71"/>
<path d="M514 98.6v2.6" stroke="#a51"/>
<path d="M516 100v.5" stroke="#c61"/>
<path d="M518 100.2v.6" stroke="#a61"/>
<path d="M520 99.7v2.5M522 98.7v3.6M524 98.3v3.8" stroke="#b61"/>
<path d="M526 99.7v2.3" stroke="#951"/>
<path d="M528 100.2v1.5" stroke="#c71"/>
<path d="M530 97.7v2.3" stroke="#c61"/>
<path d="M532 97v3.4" stroke="#940"/>
<path d="M534 99.4v2.7" stroke="#961"/>
<path d="M536 101.8v2.7" stroke="#981"/>
<path d="M538 102.5v.9" stroke="#b91"/>
<path d="M540 102.8v.9" stroke="#871"/>
<path d="M544 101.4v1M546 101.7v.7" stroke="#a81"/>
<path d="M550 101.8v.8" stroke="#c91"/>
<path d="M552 101.4v1.9" stroke="#871"/>
<path d="M554 100.1v2.4" stroke="#c81"/>
<path d="M556 101.5v1.1" stroke="#871"/>
<path d="M560 100.1v.5" stroke="#b61"/>
<path d="M562 102.4v1.8" stroke="#761"/>
<path d="M564 105.6v3.2" stroke="#6a3"/>
<path d="M566 105.2v2.9" stroke="#9f4"/>
<path d="M568 103.9v2.9" stroke="#692"/>
<path d="M570 106.8v1.5" stroke="#7d4"/>
<path d="M576 110.8v2.6" stroke="#5c9"/>
<path d="M578 112.3v2.8" stroke="#4ba"/>
<path d="M580 113.6v2.4" stroke="#409fb8"/>
<path d="M464 107.2v1.5" stroke="#8f5"/>
<path d="M466 106.3v2.5" stroke="#5a3"/>
<path d="M468 107.1v.7" stroke="#9f4"/>
<path d="M472 101.9v1.9" stroke="#cb2"/>
<path d="M474 101.2v1.6" stroke="#761"/>
<path d="M476 103v1.2" stroke="#aa2"/>
<path d="M478 102.4v2.1" stroke="#881"/>
<path d="M490 99.9v2.4" stroke="#b61"/>
<path d="M492 99.5v1.9" stroke="#c61"/>
<path d="M498 99.9v2.4" stroke="#b61"/>
<path d="M500 99.9v2.4" stroke="#a61"/>
<path d="M504 99.8v1.9" stroke="#a51"/>
<path d="M506 100.6v2" stroke="#a61"/>
<path d="M530 99.6v2.3" stroke="#c61"/>
<path d="M532 100v3.4" stroke="#951"/>
<path d="M534 101.7v2.7" stroke="#861"/>
<path d="M544 102v1" stroke="#a71"/>
<path d="M546 102v.7" stroke="#b71"/>
<path d="M554 102.1v2.4" stroke="#b91"/>
<path d="M556 102.2v1.1" stroke="#861"/>
<path d="M568 106.4v2.9" stroke="#593"/>
<path d="M570 107.8v1.5" stroke="#7d4"/>
<path d="M576 113v2.6" stroke="#4cb"/>
<path d="M464 108.3v1.5" stroke="#8f5"/>
<path d="M466 108.3v2.5" stroke="#5a3"/>
<path d="M472 103.3v1.9" stroke="#bc2"/>
<path d="M474 102.4v1.6" stroke="#761"/>
<path d="M476 103.9v1.2" stroke="#aa2"/>
<path d="M478 104.1v2.1" stroke="#882"/>
<path d="M464 109.4v1.5" stroke="#8f5"/>
<path d="M466 110.4v2.5" stroke="#5a5"/>
<path d="M472 104.8v1.9" stroke="#bd3"/>
<path d="M474 103.6v1.6" stroke="#771"/>
<path d="M452 116v3.1" stroke="#4da5e2"/>
<path d="M454 113.1v2.9" stroke="#6fb"/>
<path d="M456 111.1v2.7" stroke="#7f7"/>
<path d="M460 111.1v1.8" stroke="#7e6"/>
<path d="M462 108v2.8" stroke="#9f4"/>
<path d="M464 110.5v2.3" stroke="#593"/>
<path d="M470 104.3v2.2" stroke="#771"/>
<path d="M472 106.3v1.7" stroke="#9b2"/>
<path d="M474 104.8v1" stroke="#ca2"/>
<path d="M478 105.8v.9" stroke="#992"/>
<path d="M480 103.7v3.6" stroke="#b91"/>
<path d="M482 102.8v4" stroke="#a71"/>
<path d="M484 101.9v4.1" stroke="#c81"/>
<path d="M486 100.7v4" stroke="#c61"/>
<path d="M488 101.1v2.5" stroke="#951"/>
<path d="M490 101.9v2.9" stroke="#a71"/>
<path d="M492 101v3.1" stroke="#c71"/>
<path d="M494 100.9v2.8" stroke="#a51"/>
<path d="M496 101.9v3.7" stroke="#b71"/>
<path d="M498 101.9v2.7" stroke="#c71"/>
<path d="M500 101.9v1.4M502 101.1v2.1" stroke="#c61"/>
<path d="M504 101.3v1.7" stroke="#b51"/>
<path d="M506 102.2v.5" stroke="#b61"/>
<path d="M508 101.8v.9" stroke="#c61"/>
<path d="M512 101.2v.9" stroke="#b51"/>
<path d="M514 100.8v1.7M516 100.1v2.3" stroke="#c51"/>
<path d="M518 100.5v2" stroke="#b41"/>
<path d="M520 101.8v.5" stroke="#b51"/>
<path d="M522 102v.5" stroke="#c61"/>
<path d="M524 101.6v.9" stroke="#c51"/>
<path d="M526 101.6v1.6" stroke="#b51"/>
<path d="M528 101.4v1.9" stroke="#c61"/>
<path d="M530 101.5v2.2" stroke="#a51"/>
<path d="M532 103v2.1" stroke="#961"/>
<path d="M534 103.9v1.1" stroke="#b81"/>
<path d="M536 104.1v1.1" stroke="#a71"/>
<path d="M538 103v2.5" stroke="#c81"/>
<path d="M540 103.3v1.9" stroke="#961"/>
<path d="M542 103v2" stroke="#c81"/>
<path d="M544 102.6v2.3" stroke="#961"/>
<path d="M546 102.3v1.9" stroke="#d71"/>
<path d="M548 101.8v1.8" stroke="#a51"/>
<path d="M550 102.2v2" stroke="#b61"/>
<path d="M552 102.9v1.7" stroke="#961"/>
<path d="M554 104.1v.6" stroke="#b81"/>
<path d="M556 102.9v2.6" stroke="#a71"/>
<path d="M558 101.3v4" stroke="#c71"/>
<path d="M560 100.2v2.9" stroke="#a51"/>
<path d="M562 103.8v1.8" stroke="#761"/>
<path d="M566 107.7v1.2" stroke="#9d3"/>
<path d="M568 108.9v.5" stroke="#692"/>
<path d="M570 108.9v1.7" stroke="#7c4"/>
<path d="M572 105.3v3.8" stroke="#8b2"/>
<path d="M574 110.2v1.8" stroke="#5a3"/>
<path d="M576 115.3v1.1" stroke="#4a9"/>
<path d="M578 114.7v2" stroke="#6ec"/>
<path d="M582 116.6v1.8" stroke="#4ab"/>
<path d="M454 115.6v2.9" stroke="#5ed"/>
<path d="M456 113.4v2.7" stroke="#7f9"/>
<path d="M460 112.5v1.8" stroke="#6e6"/>
<path d="M462 110.5v2.8" stroke="#9f5"/>
<path d="M470 106.2v2.2" stroke="#671"/>
<path d="M472 107.7v1.7" stroke="#9c3"/>
<path d="M488 103.2v2.5" stroke="#851"/>
<path d="M490 104.4v2.9" stroke="#981"/>
<path d="M492 103.7v3.1" stroke="#b81"/>
<path d="M494 103.3v2.8M560 102.8v2.9" stroke="#961"/>
<path d="M562 105.2v1.8" stroke="#761"/>
<path d="M570 110.2v1.7M572 108.7v3.8" stroke="#7d4"/>
<path d="M574 111.6v1.8" stroke="#594"/>
<path d="M570 111.5v1.7" stroke="#7d4"/>
<path d="M572 112.1v3.8" stroke="#6d7"/>
<path d="M574 113v1.8" stroke="#495"/>
<path d="M452 118.7v2.8" stroke="#4da7e1"/>
<path d="M454 118.2v1.8" stroke="#5dc"/>
<path d="M456 115.7v1.7" stroke="#7fa"/>
<path d="M458 112.4v1.6" stroke="#9f5"/>
<path d="M468 103.2v2.1" stroke="#840"/>
<path d="M470 108v2.6" stroke="#682"/>
<path d="M472 109v2.3" stroke="#ae3"/>
<path d="M474 105.4v2.9" stroke="#b91"/>
<path d="M476 104.2v3.7" stroke="#961"/>
<path d="M478 106.2v2.6" stroke="#981"/>
<path d="M480 106.9v2.7" stroke="#aa1"/>
<path d="M482 106.4v1.2" stroke="#b81"/>
<path d="M484 105.6v1.5" stroke="#971"/>
<path d="M486 104.3v2.8" stroke="#b71"/>
<path d="M488 105.4v1.6" stroke="#961"/>
<path d="M490 106.9v.7M492 106.3v1.8M494 105.7v3" stroke="#a81"/>
<path d="M496 105.2v3" stroke="#b81"/>
<path d="M498 104.1v2.9" stroke="#c71"/>
<path d="M500 102.9v3" stroke="#c61"/>
<path d="M502 102.7v2.4" stroke="#c51"/>
<path d="M504 102.6v1.6" stroke="#d51"/>
<path d="M506 102.3v1.5M508 102.3v2" stroke="#c40"/>
<path d="M510 101.5v2.4" stroke="#d40"/>
<path d="M512 101.8v2.1" stroke="#b40"/>
<path d="M514 102.1v1.9" stroke="#d40"/>
<path d="M516 102v1.7M518 102v1.8M520 101.9v2.2M522 102v2M524 102.2v1.8" stroke="#c40"/>
<path d="M526 102.8v1.2" stroke="#b40"/>
<path d="M528 102.9v1.9" stroke="#c51"/>
<path d="M530 103.3v3.3" stroke="#951"/>
<path d="M532 104.7v3.6" stroke="#961"/>
<path d="M534 104.7v3" stroke="#c71"/>
<path d="M536 104.8v1.6" stroke="#a61"/>
<path d="M538 105.1v1.3" stroke="#b61"/>
<path d="M540 104.8v1.4" stroke="#c61"/>
<path d="M542 104.6v1.3M544 104.5v1.4" stroke="#b61"/>
<path d="M546 103.8v2" stroke="#c61"/>
<path d="M548 103.2v2.6M550 103.8v1.8" stroke="#b51"/>
<path d="M552 104.3v1.5" stroke="#b61"/>
<path d="M554 104.3v1.9" stroke="#b51"/>
<path d="M556 105.1v1.6" stroke="#a61"/>
<path d="M558 105v2.4" stroke="#b71"/>
<path d="M560 105.3v3.2" stroke="#961"/>
<path d="M562 106.6v3.1" stroke="#981"/>
<path d="M564 107.7v2.9" stroke="#882"/>
<path d="M566 108.6v2.2" stroke="#792"/>
<path d="M568 109v2" stroke="#8c3"/>
<path d="M570 112.8v.8" stroke="#593"/>
<path d="M576 116v2.1" stroke="#4a7"/>
<path d="M578 116.3v1.8" stroke="#6eb"/>
<path d="M580 115.4v3" stroke="#4a7"/>
<path d="M582 117.9v2" stroke="#4aa"/>
<path d="M584 119.2v2.6" stroke="#3d83d0"/>
<path d="M456 117v1.7" stroke="#7fa"/>
<path d="M458 113.6v1.6" stroke="#9f5"/>
<path d="M468 104.9v2.1" stroke="#741"/>
<path d="M470 110.2v2.6" stroke="#692"/>
<path d="M472 110.9v2.3" stroke="#9f4"/>
<path d="M474 107.9v2.9" stroke="#ba2"/>
<path d="M476 107.5v3.7" stroke="#881"/>
<path d="M478 108.5v2.6" stroke="#892"/>
<path d="M484 106.7v1.5" stroke="#961"/>
<path d="M486 106.7v2.8" stroke="#b81"/>
<path d="M488 106.6v1.6" stroke="#961"/>
<path d="M566 110.3v2.2" stroke="#7a2"/>
<path d="M568 110.6v2" stroke="#8c3"/>
<path d="M578 117.7v1.8" stroke="#6eb"/>
<path d="M580 118v3" stroke="#4a9"/>
<path d="M582 119.5v2" stroke="#3f95bc"/>
<path d="M468 106.5v2.1" stroke="#751"/>
<path d="M470 112.4v2.6" stroke="#593"/>
<path d="M452 121.1v3.2" stroke="#4ca6e0"/>
<path d="M454 119.5v3.4" stroke="#6ec"/>
<path d="M458 114.7v1" stroke="#8f5"/>
<path d="M460 111.2v3.7" stroke="#7a2"/>
<path d="M462 111.4v3" stroke="#6a2"/>
<path d="M464 105.9v3.1" stroke="#e81"/>
<path d="M466 101.3v3.4" stroke="#920"/>
<path d="M468 108.2v1.8" stroke="#751"/>
<path d="M474 110.4v2.2" stroke="#ab2"/>
<path d="M476 110.8v1.8" stroke="#9a2"/>
<path d="M478 110.7v1.5" stroke="#aa2"/>
<path d="M480 109.3v1.3" stroke="#c91"/>
<path d="M482 107.2v2" stroke="#a61"/>
<path d="M484 107.8v3.1" stroke="#861"/>
<path d="M486 109.1v1.5" stroke="#ca2"/>
<path d="M488 107.9v1.7" stroke="#961"/>
<path d="M490 107.2v2.7" stroke="#b71"/>
<path d="M492 107.7v2.4" stroke="#971"/>
<path d="M494 108.4v3.1" stroke="#b81"/>
<path d="M496 107.8v1" stroke="#d71"/>
<path d="M498 106.6v1.3" stroke="#b51"/>
<path d="M500 105.5v2.6" stroke="#d61"/>
<path d="M502 104.8v2.5" stroke="#d51"/>
<path d="M504 103.8v2.9" stroke="#d40"/>
<path d="M506 103.5v2.6M508 103.9v2.2" stroke="#c40"/>
<path d="M510 103.6v2.6" stroke="#d40"/>
<path d="M512 103.4v2.7" stroke="#c30"/>
<path d="M514 103.6v2.6M516 103.4v2.9M518 103.5v2.6M520 103.7v2.4M522 103.6v2.7M524 103.6v3.2M526 103.7v3.6" stroke="#c40"/>
<path d="M528 104.4v3.3" stroke="#b40"/>
<path d="M530 106.2v2.2" stroke="#a51"/>
<path d="M532 107.8v1.1" stroke="#a61"/>
<path d="M534 107.2v2" stroke="#c71"/>
<path d="M536 106v2.9" stroke="#c61"/>
<path d="M538 106.1v2.4" stroke="#b51"/>
<path d="M540 105.8v2.5" stroke="#c61"/>
<path d="M542 105.5v2.7" stroke="#b51"/>
<path d="M544 105.5v2.8" stroke="#c51"/>
<path d="M546 105.5v2.7" stroke="#b51"/>
<path d="M548 105.4v2.5M550 105.3v2.5" stroke="#c51"/>
<path d="M552 105.4v2.8M554 105.8v2.7M556 106.3v2.2" stroke="#b51"/>
<path d="M558 107v1.6" stroke="#a51"/>
<path d="M564 110.2v2.2" stroke="#671"/>
<path d="M566 112.1v2.7" stroke="#6a2"/>
<path d="M568 112.2v2.3" stroke="#ae3"/>
<path d="M570 113.2v1.3" stroke="#582"/>
<path d="M572 113.1v2.4" stroke="#9f4"/>
<path d="M574 113.9v3.5" stroke="#593"/>
<path d="M576 117.7v2.4" stroke="#5a7"/>
<path d="M578 119.1v2.6" stroke="#4b9"/>
<path d="M580 120.6v2.9" stroke="#46afc1"/>
<path d="M582 121.1v2.5" stroke="#44a5c5"/>
<path d="M584 121.4v3" stroke="#3c81cd"/>
<path d="M458 115.3v1" stroke="#9f4"/>
<path d="M460 114.5v3.7M462 114v3" stroke="#6b3"/>
<path d="M464 108.6v3.1" stroke="#da2"/>
<path d="M466 104.2v3.4" stroke="#930"/>
<path d="M468 109.6v1.8" stroke="#761"/>
<path d="M474 112.2v2.2" stroke="#9c2"/>
<path d="M482 108.9v2" stroke="#961"/>
<path d="M484 110.5v3.1" stroke="#771"/>
<path d="M486 110.2v1.5" stroke="#ca2"/>
<path d="M488 109.2v1.7" stroke="#961"/>
<path d="M490 109.5v2.7" stroke="#a81"/>
<path d="M492 109.7v2.4" stroke="#971"/>
<path d="M564 112v2.2" stroke="#682"/>
<path d="M566 114.4v2.7" stroke="#6a3"/>
<path d="M576 119.7v2.4" stroke="#4a7"/>
<path d="M578 121.2v2.6" stroke="#4aa"/>
<path d="M462 116.6v3" stroke="#6b4"/>
<path d="M464 111.3v3.1" stroke="#bd2"/>
<path d="M466 107.2v3.4" stroke="#841"/>
<path d="M468 111.1v1.8" stroke="#661"/>
<path d="M448 124.4v2.8" stroke="#4b8be5"/>
<path d="M450 124.3v2.4" stroke="#4b9edf"/>
<path d="M452 123.9v2.5" stroke="#4b9fdd"/>
<path d="M454 122.5v1.2" stroke="#6fc"/>
<path d="M456 118.1v1.7" stroke="#8f6"/>
<path d="M458 115.9v2" stroke="#8e4"/>
<path d="M466 110.2v2.9" stroke="#751"/>
<path d="M468 112.5v3.6" stroke="#9a2"/>
<path d="M470 108.8v3.5" stroke="#e81"/>
<path d="M476 112.2v2.5" stroke="#aa2"/>
<path d="M478 111.8v2.9" stroke="#981"/>
<path d="M480 110.2v2.7" stroke="#b81"/>
<path d="M482 110.5v2.8" stroke="#861"/>
<path d="M484 113.2v1.9" stroke="#9a2"/>
<path d="M486 111.3v2.3" stroke="#a91"/>
<path d="M488 110.5v2.7" stroke="#971"/>
<path d="M490 111.7v1.4" stroke="#b91"/>
<path d="M492 111.7v1.7" stroke="#971"/>
<path d="M494 111v1.1" stroke="#d91"/>
<path d="M496 108.4v1.5" stroke="#d61"/>
<path d="M498 107.5v3" stroke="#a40"/>
<path d="M500 107.8v2.6" stroke="#d51"/>
<path d="M502 106.9v2.4M504 106.2v2.7" stroke="#d40"/>
<path d="M506 105.7v3.1M508 105.6v3.3M510 105.8v3.1M512 105.8v3M514 105.8v3M516 105.8v3M518 105.7v3.1M520 105.7v3.3M522 106v2.9M524 106.4v2.4" stroke="#c40"/>
<path d="M526 106.9v2.6" stroke="#b40"/>
<path d="M528 107.3v3.1" stroke="#b41"/>
<path d="M530 107.9v3.4M532 108.6v2.2" stroke="#a51"/>
<path d="M534 108.8v1.9M536 108.5v2.8" stroke="#c61"/>
<path d="M538 108.1v2.9M540 107.9v2.6" stroke="#c51"/>
<path d="M542 107.8v2.6M544 107.9v2.7" stroke="#b51"/>
<path d="M546 107.8v2.9M548 107.5v3.1M550 107.4v3.1" stroke="#c51"/>
<path d="M552 107.7v2.9M554 108.1v2.8M556 108.1v3.1" stroke="#b51"/>
<path d="M558 108.2v3.8M560 108.1v2.8" stroke="#a51"/>
<path d="M562 109.2v3.1" stroke="#851"/>
<path d="M564 113.7v.8" stroke="#782"/>
<path d="M572 115.1v2.8" stroke="#8d4"/>
<path d="M574 117v1.7" stroke="#5a3"/>
<path d="M578 123.4v.5" stroke="#4a9"/>
<path d="M580 123.1v2.5" stroke="#4dc2ca"/>
<path d="M582 123.2v2.6" stroke="#44acb7"/>
<path d="M584 124v2.6" stroke="#3f91c6"/>
<path d="M586 124.3v2.8" stroke="#3b76d3"/>
<path d="M456 119.4v1.7" stroke="#7f7"/>
<path d="M458 117.5v2" stroke="#8e4"/>
<path d="M466 112.6v2.9" stroke="#661"/>
<path d="M468 115.6v3.6" stroke="#7c3"/>
<path d="M470 111.9v3.5" stroke="#cb2"/>
<path d="M480 112.5v2.7" stroke="#ba1"/>
<path d="M482 112.9v2.8" stroke="#771"/>
<path d="M486 113.2v2.3" stroke="#aa2"/>
<path d="M488 112.8v2.7" stroke="#981"/>
<path d="M532 110.4v2.2" stroke="#a61"/>
<path d="M534 110.3v1.9" stroke="#c61"/>
<path d="M560 110.5v2.8" stroke="#a61"/>
<path d="M562 111.9v3.1" stroke="#861"/>
<path d="M564 114.2v.8" stroke="#781"/>
<path d="M572 117.6v2.8" stroke="#8e4"/>
<path d="M574 118.3v1.7" stroke="#5a3"/>
<path d="M456 120.7v1.7" stroke="#7f7"/>
<path d="M458 119v2" stroke="#8f5"/>
<path d="M448 126.8v3.2" stroke="#4b8be5"/>
<path d="M450 126.3v3.5" stroke="#4b9edf"/>
<path d="M452 126v1.8" stroke="#5ed"/>
<path d="M454 123.3v1.9" stroke="#7fa"/>
<path d="M456 122.1v3.2" stroke="#5b6"/>
<path d="M458 120.6v2.8" stroke="#8f7"/>
<path d="M460 117.7v4" stroke="#7c3"/>
<path d="M462 117.4v2.9" stroke="#7b3"/>
<path d="M464 113.9v3.3" stroke="#cc2"/>
<path d="M466 115.1v2.4" stroke="#671"/>
<path d="M468 118.8v2.7" stroke="#8e4"/>
<path d="M470 115.1v2" stroke="#bc2"/>
<path d="M472 110.1v3.3" stroke="#d61"/>
<path d="M474 111.6v2.7" stroke="#851"/>
<path d="M476 114.4v2.1" stroke="#991"/>
<path d="M478 114.3v2.5" stroke="#881"/>
<path d="M480 114.7v1" stroke="#ca2"/>
<path d="M484 114.7v.6" stroke="#971"/>
<path d="M486 115.1v2.6" stroke="#881"/>
<path d="M488 115.2v1.2" stroke="#ca2"/>
<path d="M490 112.8v1.9M492 113v1.7" stroke="#a71"/>
<path d="M494 111.8v2.1" stroke="#c71"/>
<path d="M496 109.5v3.2" stroke="#c51"/>
<path d="M498 110.1v2.2" stroke="#b51"/>
<path d="M500 109.9v2.5" stroke="#e51"/>
<path d="M502 108.9v2.6" stroke="#c40"/>
<path d="M504 108.5v2.9" stroke="#d40"/>
<path d="M506 108.4v2.5" stroke="#c40"/>
<path d="M508 108.5v2.6" stroke="#c30"/>
<path d="M510 108.4v2.8M512 108.4v2.5" stroke="#d40"/>
<path d="M514 108.4v2.4M516 108.4v2.3" stroke="#d30"/>
<path d="M518 108.4v2.7" stroke="#c30"/>
<path d="M520 108.6v2.8" stroke="#c40"/>
<path d="M522 108.5v2.9" stroke="#d40"/>
<path d="M524 108.4v3" stroke="#c40"/>
<path d="M526 109.1v2.9M528 110v2.8" stroke="#b40"/>
<path d="M530 110.9v3" stroke="#a51"/>
<path d="M532 112.2v3.4" stroke="#961"/>
<path d="M534 111.9v3.7" stroke="#c71"/>
<path d="M536 110.9v3.3" stroke="#c61"/>
<path d="M538 110.6v3M540 110v3.5M542 109.9v3.4" stroke="#c51"/>
<path d="M544 110.2v3" stroke="#b51"/>
<path d="M546 110.2v2.9M548 110.2v2.7M550 110.1v2.8" stroke="#c51"/>
<path d="M552 110.2v2.9M554 110.4v2.8" stroke="#b51"/>
<path d="M556 110.8v3M558 111.6v3" stroke="#a51"/>
<path d="M560 113v2.3" stroke="#961"/>
<path d="M568 111v1.6" stroke="#e71"/>
<path d="M570 113.5v2.7" stroke="#761"/>
<path d="M572 120v2.6" stroke="#6b4"/>
<path d="M574 119.7v2.5" stroke="#8f5"/>
<path d="M576 120.7v2" stroke="#5a4"/>
<path d="M578 123.5v2.5" stroke="#4a7"/>
<path d="M580 125.2v.9" stroke="#6fc"/>
<path d="M582 125.4v.5" stroke="#4a8"/>
<path d="M584 126.1v2.9" stroke="#3f96bd"/>
<path d="M586 126.8v3.1" stroke="#3b76d3"/>
<path d="M458 123v2.8" stroke="#7f9"/>
<path d="M460 121.3v4" stroke="#6d5"/>
<path d="M462 119.9v2.9" stroke="#6c4"/>
<path d="M464 116.8v3.3" stroke="#ae3"/>
<path d="M466 117.1v2.4" stroke="#582"/>
<path d="M470 116.7v2" stroke="#bc2"/>
<path d="M472 113v3.3" stroke="#c81"/>
<path d="M474 113.9v2.7" stroke="#751"/>
<path d="M476 116.1v2.1" stroke="#992"/>
<path d="M478 116.4v2.5" stroke="#892"/>
<path d="M480 115.3v1" stroke="#ca1"/>
<path d="M490 114.2v1.9M492 114.3v1.7" stroke="#a71"/>
<path d="M494 113.4v2.1" stroke="#c81"/>
<path d="M496 112.2v3.2" stroke="#b61"/>
<path d="M498 111.9v2.2" stroke="#b51"/>
<path d="M568 112.2v1.6" stroke="#e71"/>
<path d="M570 115.8v2.7" stroke="#661"/>
<path d="M572 122.2v2.6" stroke="#5b5"/>
<path d="M574 121.8v2.5" stroke="#8f6"/>
<path d="M576 122.3v2" stroke="#5a4"/>
<path d="M578 125.6v2.5" stroke="#498"/>
<path d="M462 122.4v2.9" stroke="#6c6"/>
<path d="M464 119.7v3.3" stroke="#9f5"/>
<path d="M466 119.1v2.4" stroke="#582"/>
<path d="M450 129.4v3.2" stroke="#4b8be5"/>
<path d="M452 127.4v2.2" stroke="#6ed"/>
<path d="M454 124.8v3.1M456 124.8v2.8" stroke="#6d8"/>
<path d="M464 122.6v1.7" stroke="#9f5"/>
<path d="M466 121.1v.7" stroke="#8d3"/>
<path d="M470 118.3v2" stroke="#bb2"/>
<path d="M472 115.9v2" stroke="#b81"/>
<path d="M474 116.2v2.1" stroke="#871"/>
<path d="M480 115.9v1.5" stroke="#c91"/>
<path d="M482 112.8v3.8" stroke="#a51"/>
<path d="M484 114.9v2.2" stroke="#a61"/>
<path d="M488 116v.7" stroke="#c71"/>
<path d="M490 115.7v2.7" stroke="#861"/>
<path d="M492 115.6v2.5" stroke="#d91"/>
<path d="M498 113.7v2" stroke="#c61"/>
<path d="M500 112.1v3.4" stroke="#d51"/>
<path d="M502 111.2v3.6M504 111v3.4" stroke="#c40"/>
<path d="M506 110.6v3.6" stroke="#d40"/>
<path d="M508 110.7v3" stroke="#c30"/>
<path d="M510 110.8v2.9" stroke="#c40"/>
<path d="M512 110.5v3.2" stroke="#d40"/>
<path d="M514 110.4v3.2M516 110.3v3.4M518 110.7v3.1" stroke="#c30"/>
<path d="M520 111.1v2.7M522 110.9v2.9M524 111v3.2" stroke="#c40"/>
<path d="M526 111.6v3.1" stroke="#b40"/>
<path d="M528 112.4v3.2" stroke="#b41"/>
<path d="M530 113.5v3" stroke="#a51"/>
<path d="M532 115.1v2.2" stroke="#961"/>
<path d="M534 115.2v1.6" stroke="#c71"/>
<path d="M536 113.7v2.3" stroke="#c61"/>
<path d="M538 113.2v2.9M540 113.1v3.2" stroke="#b51"/>
<path d="M542 112.9v3.3M544 112.8v2.8" stroke="#c51"/>
<path d="M546 112.8v3" stroke="#b51"/>
<path d="M548 112.5v3.7" stroke="#c51"/>
<path d="M550 112.5v3.8M552 112.7v3.7M554 112.8v3.8" stroke="#b51"/>
<path d="M556 113.4v3.6" stroke="#a51"/>
<path d="M558 114.3v3.4" stroke="#a61"/>
<path d="M560 114.9v2.4" stroke="#961"/>
<path d="M562 113.3v3.6" stroke="#d71"/>
<path d="M564 111.6v3.3" stroke="#a40"/>
<path d="M566 112.1v3.3" stroke="#b51"/>
<path d="M568 113.3v2.3" stroke="#d61"/>
<path d="M576 123.9v2.3" stroke="#494"/>
<path d="M578 127.6v3" stroke="#4ba"/>
<path d="M580 125.7v1.9" stroke="#7fb"/>
<path d="M582 125.5v2.5" stroke="#496"/>
<path d="M584 128.7v3.6" stroke="#4199c4"/>
<path d="M586 129.5v2.9" stroke="#3b76d3"/>
<path d="M452 129.2v2.2" stroke="#5ee"/>
<path d="M454 127.6v3.1" stroke="#5ca"/>
<path d="M456 127.3v2.8" stroke="#5c9"/>
<path d="M464 123.9v1.7" stroke="#9f5"/>
<path d="M466 121.4v.7" stroke="#8c3"/>
<path d="M472 117.5v2" stroke="#a91"/>
<path d="M474 117.9v2.1" stroke="#871"/>
<path d="M480 117v1.5" stroke="#c91"/>
<path d="M482 116.1v3.8M484 116.7v2.2" stroke="#971"/>
<path d="M560 116.9v2.4" stroke="#871"/>
<path d="M562 116.6v3.6" stroke="#b91"/>
<path d="M564 114.5v3.3" stroke="#951"/>
<path d="M566 115v3.3" stroke="#a71"/>
<path d="M568 115.3v2.3" stroke="#d71"/>
<path d="M576 125.8v2.3" stroke="#495"/>
<path d="M580 127.3v1.9" stroke="#7fb"/>
<path d="M582 127.6v2.5" stroke="#497"/>
<path d="M564 117.4v3.3" stroke="#871"/>
<path d="M566 117.9v3.3" stroke="#981"/>
<path d="M452 131v3.5" stroke="#5dd"/>
<path d="M454 130.3v2.6" stroke="#5db"/>
<path d="M456 129.7v.6" stroke="#7fa"/>
<path d="M458 124.7v1.9" stroke="#8f5"/>
<path d="M460 120.6v3.2" stroke="#9b2"/>
<path d="M462 123.5v1.2" stroke="#7b3"/>
<path d="M466 121.7v.9" stroke="#ac2"/>
<path d="M468 120.1v3" stroke="#671"/>
<path d="M470 119.9v2.2" stroke="#cc2"/>
<path d="M474 119.7v.6" stroke="#861"/>
<path d="M476 117.5v2.9" stroke="#c91"/>
<path d="M478 116.1v3.5" stroke="#951"/>
<path d="M480 118.1v1.8" stroke="#a81"/>
<path d="M484 118.5v1.3" stroke="#971"/>
<path d="M486 116.5v3.5" stroke="#b71"/>
<path d="M488 116.3v3.5" stroke="#a61"/>
<path d="M490 118v2.6" stroke="#971"/>
<path d="M492 117.7v2.1" stroke="#c91"/>
<path d="M494 114.7v2.9" stroke="#d61"/>
<path d="M496 114.3v2.8" stroke="#a40"/>
<path d="M498 115.3v1.9M500 115.1v2.4" stroke="#c51"/>
<path d="M502 114.4v2.5" stroke="#d50"/>
<path d="M504 114v2.4M506 113.8v2.7" stroke="#c40"/>
<path d="M508 113.3v3" stroke="#d40"/>
<path d="M510 113.3v3" stroke="#c30"/>
<path d="M512 113.3v3.1" stroke="#d40"/>
<path d="M514 113.1v3.4M516 113.3v3M518 113.4v2.8M520 113.3v3.1M522 113.5v3.2M524 113.8v2.9" stroke="#c40"/>
<path d="M526 114.3v2.9" stroke="#b40"/>
<path d="M528 115.2v2.9" stroke="#a41"/>
<path d="M530 116.1v2.5" stroke="#b51"/>
<path d="M532 116.9v.8" stroke="#c61"/>
<path d="M534 116.4v1.5M536 115.7v3" stroke="#a51"/>
<path d="M538 115.7v2.6" stroke="#c61"/>
<path d="M540 115.9v2.5" stroke="#a51"/>
<path d="M542 115.8v2.8" stroke="#c61"/>
<path d="M544 115.2v2.9M546 115.4v2.6" stroke="#b51"/>
<path d="M548 115.8v2.5" stroke="#a51"/>
<path d="M550 115.9v2" stroke="#c61"/>
<path d="M552 116v2.8" stroke="#b51"/>
<path d="M554 116.2v2.2" stroke="#a51"/>
<path d="M556 116.6v2.6" stroke="#a61"/>
<path d="M558 117.2v1.7" stroke="#b71"/>
<path d="M560 119v1.6" stroke="#861"/>
<path d="M562 119.8v2.3" stroke="#a91"/>
<path d="M564 120.4v3.2" stroke="#781"/>
<path d="M566 120.8v3.6" stroke="#9b2"/>
<path d="M568 117.2v2.7" stroke="#961"/>
<path d="M570 117.6v3.1" stroke="#861"/>
<path d="M572 116.5v3" stroke="#d81"/>
<path d="M574 118.7v1.8" stroke="#761"/>
<path d="M578 130.2v1.8" stroke="#5ca"/>
<path d="M580 128.8v1.9" stroke="#6ea"/>
<path d="M582 129.6v2.1" stroke="#498"/>
<path d="M584 131.8v3" stroke="#3d7fd2"/>
<path d="M586 132v3.2" stroke="#3b76d3"/>
<path d="M458 126.3v1.9" stroke="#8f6"/>
<path d="M460 123.4v3.2" stroke="#8d4"/>
<path d="M462 124.2v1.2" stroke="#7b3"/>
<path d="M468 122.7v3" stroke="#682"/>
<path d="M470 121.7v2.2" stroke="#bd2"/>
<path d="M476 120v2.9" stroke="#ba2"/>
<path d="M478 119.2v3.5" stroke="#971"/>
<path d="M480 119.5v1.8" stroke="#a81"/>
<path d="M484 119.4v1.3" stroke="#961"/>
<path d="M486 119.6v3.5" stroke="#a91"/>
<path d="M488 119.5v3.5" stroke="#981"/>
<path d="M490 120.2v2.6" stroke="#881"/>
<path d="M492 119.5v2.1" stroke="#c91"/>
<path d="M494 117.2v2.9" stroke="#c71"/>
<path d="M496 116.8v2.8" stroke="#a51"/>
<path d="M498 116.7v1.9" stroke="#c61"/>
<path d="M534 117.6v1.5" stroke="#a51"/>
<path d="M536 118.2v3" stroke="#a61"/>
<path d="M538 117.8v2.6" stroke="#c71"/>
<path d="M540 118v2.5" stroke="#951"/>
<path d="M542 118.3v2.8" stroke="#b71"/>
<path d="M544 117.7v2.9" stroke="#b61"/>
<path d="M546 117.6v2.6M548 117.9v2.5" stroke="#a61"/>
<path d="M550 117.5v2" stroke="#c61"/>
<path d="M554 118v2.2" stroke="#a61"/>
<path d="M556 118.8v2.6" stroke="#a71"/>
<path d="M558 118.5v1.7" stroke="#b71"/>
<path d="M568 119.5v2.7" stroke="#881"/>
<path d="M570 120.3v3.1" stroke="#781"/>
<path d="M572 119.1v3" stroke="#cb2"/>
<path d="M574 120.1v1.8" stroke="#761"/>
<path d="M580 130.3v1.9" stroke="#6ea"/>
<path d="M582 131.3v2.1" stroke="#398"/>
<path d="M458 127.8v1.9" stroke="#8f7"/>
<path d="M460 126.2v3.2" stroke="#7e5"/>
<path d="M568 121.8v2.7" stroke="#792"/>
<path d="M570 123v3.1" stroke="#692"/>
<path d="M572 121.6v3" stroke="#ad3"/>
<path d="M574 121.4v1.8" stroke="#671"/>
<path d="M568 124.1v2.7" stroke="#7b3"/>
<path d="M570 125.6v3.1" stroke="#5a3"/>
<path d="M572 124.2v3" stroke="#9f4"/>
<path d="M574 122.8v1.8" stroke="#672"/>
<path d="M450 134.7v2.8" stroke="#4b92e4"/>
<path d="M452 134.1v2.9" stroke="#4da7de"/>
<path d="M454 132.5v2.4" stroke="#5dc"/>
<path d="M456 129.9v3.1" stroke="#7f9"/>
<path d="M458 129.4v1.7" stroke="#7e7"/>
<path d="M462 125v2.2" stroke="#7b3"/>
<path d="M464 122.3v3.3" stroke="#ab2"/>
<path d="M466 122.2v1.7" stroke="#cb2"/>
<path d="M470 123.6v.7" stroke="#cc2"/>
<path d="M472 118.3v2.1" stroke="#a51"/>
<path d="M474 119.9v2.6" stroke="#851"/>
<path d="M476 122.4v1.8" stroke="#a91"/>
<path d="M478 122.3v1.6M480 120.9v2.8" stroke="#981"/>
<path d="M482 118.7v3.9" stroke="#c71"/>
<path d="M484 120.3v2.8" stroke="#861"/>
<path d="M486 122.7v3.6" stroke="#9a2"/>
<path d="M488 122.6v3.9" stroke="#892"/>
<path d="M490 122.5v3.2" stroke="#aa2"/>
<path d="M492 121.2v3" stroke="#b91"/>
<path d="M494 119.7v2.2" stroke="#d71"/>
<path d="M496 119.2v1.9" stroke="#a51"/>
<path d="M498 118.2v3.4" stroke="#d61"/>
<path d="M500 117.1v4.1" stroke="#b51"/>
<path d="M502 116.5v3.7" stroke="#e51"/>
<path d="M504 116v3.7" stroke="#b40"/>
<path d="M506 116.1v4.1M508 115.9v4M510 115.9v3.8M512 116v3.6M514 116.1v3.7M516 116v3.9M518 115.7v4" stroke="#c40"/>
<path d="M520 116v3.8" stroke="#b40"/>
<path d="M522 116.2v3.4" stroke="#d40"/>
<path d="M524 116.3v3.5M526 116.8v4.1" stroke="#b40"/>
<path d="M528 117.7v2.9" stroke="#b51"/>
<path d="M530 118.2v1.4" stroke="#d51"/>
<path d="M532 117.3v2.4" stroke="#a40"/>
<path d="M534 118.7v2.8" stroke="#951"/>
<path d="M536 120.8v3.6" stroke="#971"/>
<path d="M538 120v2.9" stroke="#b81"/>
<path d="M540 120.1v2.7" stroke="#971"/>
<path d="M542 120.7v2.2" stroke="#a81"/>
<path d="M544 120.1v2.7M546 119.8v3" stroke="#a71"/>
<path d="M548 120v3.1" stroke="#971"/>
<path d="M550 119.1v2.7" stroke="#b71"/>
<path d="M552 118.4v2.4" stroke="#c61"/>
<path d="M554 119.8v2.6" stroke="#851"/>
<path d="M556 121v1.5" stroke="#c91"/>
<path d="M558 119.9v1.7" stroke="#961"/>
<path d="M560 120.2v2.6" stroke="#861"/>
<path d="M562 121.7v2.8" stroke="#991"/>
<path d="M564 123.2v3" stroke="#682"/>
<path d="M566 123.9v2.6" stroke="#ad3"/>
<path d="M572 126.8v.5" stroke="#592"/>
<path d="M574 124.2v2.8" stroke="#9d3"/>
<path d="M576 126.7v2.7" stroke="#593"/>
<path d="M578 131.6v2.4" stroke="#5ca"/>
<path d="M580 131.8v2.6" stroke="#4b9"/>
<path d="M582 133v2.5" stroke="#4aa"/>
<path d="M584 134.4v3.4" stroke="#3d7ed2"/>
<path d="M454 134.5v2.4" stroke="#50cbd3"/>
<path d="M456 132.6v3.1" stroke="#6fb"/>
<path d="M458 130.7v1.7" stroke="#7e7"/>
<path d="M462 126.8v2.2" stroke="#7c3"/>
<path d="M464 125.2v3.3" stroke="#8d3"/>
<path d="M466 123.5v1.7" stroke="#cb2"/>
<path d="M472 120v2.1" stroke="#a51"/>
<path d="M474 122.1v2.6" stroke="#761"/>
<path d="M480 123.2v2.8" stroke="#991"/>
<path d="M482 122.2v3.9" stroke="#ba2"/>
<path d="M484 122.8v2.8" stroke="#771"/>
<path d="M532 119.3v2.4" stroke="#941"/>
<path d="M534 121v2.8" stroke="#961"/>
<path d="M538 122.5v2.9" stroke="#a91"/>
<path d="M540 122.4v2.7" stroke="#981"/>
<path d="M542 122.5v2.2" stroke="#a81"/>
<path d="M544 122.4v2.7M546 122.4v3" stroke="#981"/>
<path d="M548 122.7v3.1" stroke="#881"/>
<path d="M550 121.4v2.7" stroke="#a81"/>
<path d="M552 120.4v2.4" stroke="#b71"/>
<path d="M554 122.1v2.6" stroke="#861"/>
<path d="M556 122.1v1.5" stroke="#c91"/>
<path d="M558 121.1v1.7" stroke="#961"/>
<path d="M560 122.4v2.6" stroke="#871"/>
<path d="M562 124.2v2.8" stroke="#9a2"/>
<path d="M564 125.8v3" stroke="#682"/>
<path d="M566 126.1v2.6" stroke="#9e3"/>
<path d="M572 126.9v.5" stroke="#682"/>
<path d="M574 126.6v2.8" stroke="#8e4"/>
<path d="M576 129v2.7" stroke="#494"/>
<path d="M578 133.6v2.4" stroke="#5cb"/>
<path d="M580 134v2.6" stroke="#4aa"/>
<path d="M582 135.1v2.5" stroke="#3e91bc"/>
<path d="M462 128.5v2.2" stroke="#7c4"/>
<path d="M464 128.1v3.3" stroke="#8f5"/>
<path d="M550 123.7v2.7" stroke="#aa2"/>
<path d="M552 122.3v2.4" stroke="#b81"/>
<path d="M558 122.4v1.7" stroke="#861"/>
<path d="M560 124.6v2.6" stroke="#782"/>
<path d="M574 129v2.8" stroke="#8f5"/>
<path d="M576 131.3v2.7" stroke="#495"/>
<path d="M450 137.1v3.3" stroke="#4b91e4"/>
<path d="M452 136.6v3.3" stroke="#4c9ee0"/>
<path d="M454 136.5v1.7" stroke="#5dd"/>
<path d="M458 132v1.7" stroke="#7e7"/>
<path d="M460 128.8v3.5" stroke="#8e4"/>
<path d="M462 130.3v2.6" stroke="#5a3"/>
<path d="M466 124.7v1.9" stroke="#aa2"/>
<path d="M468 124.2v2.3" stroke="#871"/>
<path d="M470 123.9v2" stroke="#ca2"/>
<path d="M472 121.7v2.9" stroke="#851"/>
<path d="M474 124.3v3.7" stroke="#881"/>
<path d="M476 123.8v2.2" stroke="#b91"/>
<path d="M478 123.5v1.7" stroke="#971"/>
<path d="M486 125.8v1.4" stroke="#881"/>
<path d="M488 126.1v2.9" stroke="#8a2"/>
<path d="M490 125.2v2.2" stroke="#aa2"/>
<path d="M492 123.8v1.8" stroke="#b91"/>
<path d="M494 121.6v2.4" stroke="#c71"/>
<path d="M496 120.7v2.2" stroke="#c61"/>
<path d="M498 121.2v1.9" stroke="#a51"/>
<path d="M500 120.9v2.8" stroke="#b61"/>
<path d="M502 119.8v3" stroke="#d61"/>
<path d="M504 119.3v3" stroke="#b40"/>
<path d="M506 119.7v2.7" stroke="#b51"/>
<path d="M508 119.5v2.1" stroke="#d51"/>
<path d="M510 119.3v3" stroke="#c40"/>
<path d="M512 119.2v2.3" stroke="#b40"/>
<path d="M514 119.5v2.6" stroke="#b41"/>
<path d="M516 119.5v2.5" stroke="#c51"/>
<path d="M518 119.3v2.7" stroke="#b40"/>
<path d="M520 119.5v3.2" stroke="#a41"/>
<path d="M522 119.2v3.8M524 119.5v3.5" stroke="#b51"/>
<path d="M526 120.5v3" stroke="#a51"/>
<path d="M528 120.2v3.6" stroke="#b61"/>
<path d="M530 119.2v4" stroke="#b51"/>
<path d="M532 121.3v3" stroke="#851"/>
<path d="M534 123.4v3.4" stroke="#a81"/>
<path d="M536 124v2.8" stroke="#971"/>
<path d="M538 125v1.3" stroke="#a91"/>
<path d="M540 124.7v1.3" stroke="#a81"/>
<path d="M542 124.4v2.5M544 124.7v3.2" stroke="#981"/>
<path d="M546 125v3M548 125.5v2.4M550 125.9v2.4" stroke="#992"/>
<path d="M552 124.3v2.5" stroke="#aa2"/>
<path d="M554 124.3v2.9" stroke="#771"/>
<path d="M556 123.3v2.4" stroke="#ca1"/>
<path d="M558 123.6v1.8" stroke="#871"/>
<path d="M560 126.9v1.6" stroke="#682"/>
<path d="M562 126.6v3.1" stroke="#8b3"/>
<path d="M564 128.4v2.5" stroke="#693"/>
<path d="M566 128.2v1.5" stroke="#af3"/>
<path d="M568 122.4v2.2" stroke="#961"/>
<path d="M570 120.8v3.9" stroke="#851"/>
<path d="M572 127v1.9" stroke="#692"/>
<path d="M576 133.7v2.1" stroke="#496"/>
<path d="M578 135.7v3.8" stroke="#4dc5c8"/>
<path d="M580 136.2v3.7" stroke="#40a3af"/>
<path d="M458 133.3v1.7" stroke="#7e7"/>
<path d="M460 131.9v3.5" stroke="#7f6"/>
<path d="M462 132.5v2.6" stroke="#5a4"/>
<path d="M466 126.2v1.9" stroke="#ab2"/>
<path d="M468 126.1v2.3" stroke="#782"/>
<path d="M470 125.5v2" stroke="#cb2"/>
<path d="M472 124.2v2.9" stroke="#861"/>
<path d="M476 125.6v2.2" stroke="#ba2"/>
<path d="M478 124.9v1.7" stroke="#971"/>
<path d="M490 127v2.2" stroke="#9b2"/>
<path d="M492 125.3v1.8" stroke="#ba1"/>
<path d="M494 123.6v2.4" stroke="#b71"/>
<path d="M496 122.5v2.2" stroke="#c61"/>
<path d="M498 122.7v1.9" stroke="#a51"/>
<path d="M500 123.2v2.8" stroke="#b71"/>
<path d="M502 122.4v3" stroke="#c71"/>
<path d="M504 121.9v3" stroke="#a51"/>
<path d="M506 122v2.7" stroke="#b61"/>
<path d="M508 121.2v2.1" stroke="#d51"/>
<path d="M512 121.1v2.3" stroke="#b41"/>
<path d="M514 121.6v2.6M516 121.6v2.5M518 121.6v2.7" stroke="#b51"/>
<path d="M520 122.2v3.2" stroke="#a51"/>
<path d="M522 122.6v3.8M524 122.6v3.5" stroke="#a61"/>
<path d="M526 123.1v3" stroke="#961"/>
<path d="M528 123.4v3.6M530 122.8v4" stroke="#a71"/>
<path d="M532 123.9v3" stroke="#861"/>
<path d="M552 126.4v2.5" stroke="#aa2"/>
<path d="M554 126.8v2.9" stroke="#782"/>
<path d="M556 125.3v2.4" stroke="#bb2"/>
<path d="M558 125v1.8" stroke="#871"/>
<path d="M560 128.1v1.6" stroke="#682"/>
<path d="M562 129.3v3.1" stroke="#7c3"/>
<path d="M564 130.5v2.5" stroke="#5a3"/>
<path d="M568 124.3v2.2" stroke="#871"/>
<path d="M570 124.3v3.9" stroke="#771"/>
<path d="M572 128.5v1.9" stroke="#6a3"/>
<path d="M466 127.7v1.9" stroke="#9b2"/>
<path d="M468 128v2.3" stroke="#792"/>
<path d="M556 127.3v2.4" stroke="#ac2"/>
<path d="M558 126.4v1.8" stroke="#771"/>
<path d="M568 126.1v2.2" stroke="#881"/>
<path d="M570 127.9v3.9" stroke="#692"/>
<path d="M572 129.9v1.9" stroke="#6a3"/>
<path d="M568 128v2.2" stroke="#792"/>
<path d="M570 131.4v3.9" stroke="#5a3"/>
<path d="M572 131.4v1.9" stroke="#6b3"/>
<path d="M452 139.5v3.5" stroke="#4b9be1"/>
<path d="M454 137.7v2.8" stroke="#5dc"/>
<path d="M456 134.9v3.3" stroke="#7f9"/>
<path d="M458 134.6v2.7" stroke="#5b6"/>
<path d="M460 135.1v.8" stroke="#8f7"/>
<path d="M464 130.5v1.1" stroke="#9f4"/>
<path d="M466 129.1v2" stroke="#682"/>
<path d="M468 130v1.8" stroke="#9d3"/>
<path d="M470 127.1v3.8" stroke="#992"/>
<path d="M472 126.8v4.1" stroke="#892"/>
<path d="M474 127.6v1.4" stroke="#bb2"/>
<path d="M478 126.2v1.2" stroke="#b81"/>
<path d="M480 123.3v2.2" stroke="#b61"/>
<path d="M482 122.4v3.3" stroke="#941"/>
<path d="M484 124.6v3" stroke="#b71"/>
<path d="M492 126.7v1.5" stroke="#c91"/>
<path d="M494 125.6v1.8" stroke="#861"/>
<path d="M496 124.3v3.2" stroke="#d81"/>
<path d="M498 124.2v3.1" stroke="#851"/>
<path d="M500 125.6v1.6" stroke="#c91"/>
<path d="M502 124.9v1.8" stroke="#961"/>
<path d="M504 124.5v2.9" stroke="#a71"/>
<path d="M506 124.4v2.7" stroke="#b71"/>
<path d="M508 122.9v2.7" stroke="#d61"/>
<path d="M510 121.9v3.4" stroke="#a40"/>
<path d="M512 122.9v3.3" stroke="#b51"/>
<path d="M514 123.8v2.5" stroke="#b61"/>
<path d="M516 123.8v2.8M518 124v2.9" stroke="#a61"/>
<path d="M520 125v4.1M522 125.9v3.4" stroke="#971"/>
<path d="M524 125.7v3.7" stroke="#b81"/>
<path d="M526 125.8v3.5" stroke="#971"/>
<path d="M528 126.6v2.6M530 126.5v2.6M532 126.6v2.4M534 126.4v2.4" stroke="#a81"/>
<path d="M536 126.3v2.8" stroke="#981"/>
<path d="M538 125.9v3.3" stroke="#a81"/>
<path d="M540 125.6v3.7" stroke="#971"/>
<path d="M542 126.5v3M544 127.5v2.3" stroke="#981"/>
<path d="M546 127.5v2.5" stroke="#991"/>
<path d="M548 127.5v3.3" stroke="#881"/>
<path d="M550 127.9v3.8" stroke="#892"/>
<path d="M552 128.4v2.9" stroke="#9a2"/>
<path d="M558 127.8v4" stroke="#ab2"/>
<path d="M560 129.4v3" stroke="#682"/>
<path d="M566 129.4v1" stroke="#ad3"/>
<path d="M568 129.8v.7" stroke="#682"/>
<path d="M572 132.9v1.9" stroke="#6b4"/>
<path d="M574 130.8v4" stroke="#6b3"/>
<path d="M576 135.3v2.6" stroke="#496"/>
<path d="M578 139.1v3.7" stroke="#408bd0"/>
<path d="M580 139.5v3.4" stroke="#3e85cf"/>
<path d="M454 140.1v2.8" stroke="#50bfe0"/>
<path d="M456 137.7v3.3" stroke="#6fc"/>
<path d="M458 136.8v2.7" stroke="#5b7"/>
<path d="M464 131.3v1.1" stroke="#ae3"/>
<path d="M466 130.7v2" stroke="#692"/>
<path d="M468 131.4v1.8" stroke="#9d3"/>
<path d="M470 130.4v3.8M472 130.5v4.1" stroke="#7b3"/>
<path d="M474 128.7v1.4" stroke="#cb2"/>
<path d="M480 125.2v2.2" stroke="#b61"/>
<path d="M482 125.3v3.3" stroke="#861"/>
<path d="M484 127.2v3" stroke="#a91"/>
<path d="M494 127.1v1.8" stroke="#861"/>
<path d="M496 127.1v3.2" stroke="#ca1"/>
<path d="M498 126.9v3.1" stroke="#861"/>
<path d="M500 126.8v1.6" stroke="#c91"/>
<path d="M502 126.3v1.8" stroke="#961"/>
<path d="M504 127v2.9M506 126.6v2.7" stroke="#a81"/>
<path d="M508 125.3v2.7" stroke="#c71"/>
<path d="M510 124.9v3.4" stroke="#951"/>
<path d="M512 125.8v3.3M514 125.9v2.5M516 126.2v2.8M518 126.4v2.9" stroke="#a71"/>
<path d="M566 130v1" stroke="#bc2"/>
<path d="M568 130.1v.7" stroke="#671"/>
<path d="M572 134.4v1.9" stroke="#5b4"/>
<path d="M574 134.4v4" stroke="#5c6"/>
<path d="M576 137.5v2.6" stroke="#497"/>
<path d="M480 127v2.2" stroke="#a71"/>
<path d="M482 128.3v3.3" stroke="#771"/>
<path d="M572 135.9v1.9" stroke="#5b5"/>
<path d="M574 138v4" stroke="#4b9"/>
<path d="M576 139.6v2.6" stroke="#388"/>
<path d="M456 140.6v2.6" stroke="#5dd"/>
<path d="M458 139.1v3.2" stroke="#5ca"/>
<path d="M460 135.5v2.5" stroke="#8f6"/>
<path d="M462 131.6v2.2" stroke="#ae3"/>
<path d="M464 132v2.3" stroke="#692"/>
<path d="M466 132.3v2.4" stroke="#8d3"/>
<path d="M468 132.8v2.1" stroke="#6a2"/>
<path d="M470 133.8v2.1" stroke="#7c3"/>
<path d="M474 129.7v1.3" stroke="#cb2"/>
<path d="M476 126.3v2.2" stroke="#d71"/>
<path d="M478 127.1v1.7" stroke="#851"/>
<path d="M480 128.9v2.3" stroke="#871"/>
<path d="M482 131.2v2.2" stroke="#9a2"/>
<path d="M484 129.8v1.9" stroke="#aa2"/>
<path d="M486 126.6v2.2" stroke="#e81"/>
<path d="M488 125.7v1.7" stroke="#b41"/>
<path d="M492 127.8v1" stroke="#a61"/>
<path d="M494 128.5v2.3" stroke="#761"/>
<path d="M496 129.9v2.7" stroke="#ba2"/>
<path d="M498 129.7v2.9" stroke="#871"/>
<path d="M500 128v2.9" stroke="#c91"/>
<path d="M502 127.7v3.1" stroke="#861"/>
<path d="M504 129.6v.7" stroke="#ca2"/>
<path d="M506 128.9v.7" stroke="#861"/>
<path d="M508 127.6v2.1" stroke="#c81"/>
<path d="M510 128v3.7" stroke="#861"/>
<path d="M512 128.7v3.3" stroke="#b91"/>
<path d="M514 128v1.9M516 128.5v1.6" stroke="#a71"/>
<path d="M518 128.9v2.4M520 128.7v2.8M522 129v2.2M524 128.9v2.6M526 128.9v3M528 128.7v3.2M530 128.7v3.2M532 128.5v3.1" stroke="#a81"/>
<path d="M534 128.4v2.8" stroke="#a71"/>
<path d="M536 128.7v2.9" stroke="#971"/>
<path d="M538 128.8v3.1" stroke="#a81"/>
<path d="M540 128.9v3" stroke="#981"/>
<path d="M542 129.1v2.8" stroke="#a81"/>
<path d="M544 129.4v2.4M546 129.6v2.6" stroke="#981"/>
<path d="M548 130.4v1.8" stroke="#991"/>
<path d="M554 127.5v2.8" stroke="#c91"/>
<path d="M556 128.6v1.7" stroke="#861"/>
<path d="M560 132v2.4" stroke="#682"/>
<path d="M562 130.8v2.4" stroke="#9b2"/>
<path d="M564 129.2v2.4" stroke="#aa2"/>
<path d="M566 130.5v2.3" stroke="#671"/>
<path d="M568 130.5v2" stroke="#bd2"/>
<path d="M570 131.8v2" stroke="#582"/>
<path d="M572 137.4v2" stroke="#495"/>
<path d="M574 141.6v2.4" stroke="#4aa"/>
<path d="M576 141.8v3.7" stroke="#4091ca"/>
<path d="M456 142.8v2.6" stroke="#52c6e6"/>
<path d="M458 141.9v3.2" stroke="#49b6c2"/>
<path d="M460 137.6v2.5" stroke="#8f9"/>
<path d="M462 133.4v2.2" stroke="#9f4"/>
<path d="M464 134v2.3" stroke="#692"/>
<path d="M466 134.3v2.4" stroke="#8d3"/>
<path d="M468 134.5v2.1" stroke="#6a3"/>
<path d="M470 135.5v2.1" stroke="#7c4"/>
<path d="M474 130.6v1.3" stroke="#ca2"/>
<path d="M476 128v2.2" stroke="#c71"/>
<path d="M478 128.4v1.7" stroke="#851"/>
<path d="M480 130.8v2.3" stroke="#781"/>
<path d="M484 131.3v1.9" stroke="#aa2"/>
<path d="M486 128.4v2.2" stroke="#e81"/>
<path d="M492 128.4v1" stroke="#a61"/>
<path d="M494 130.5v2.3" stroke="#761"/>
<path d="M500 130.5v2.9" stroke="#bb2"/>
<path d="M502 130.4v3.1" stroke="#771"/>
<path d="M504 129.9v.7" stroke="#d91"/>
<path d="M506 129.1v.7" stroke="#951"/>
<path d="M508 129.3v2.1" stroke="#c91"/>
<path d="M514 129.5v1.9M516 129.8v1.6" stroke="#a71"/>
<path d="M554 129.8v2.8" stroke="#ca1"/>
<path d="M556 129.9v1.7" stroke="#861"/>
<path d="M562 132.8v2.4" stroke="#8c3"/>
<path d="M564 131.2v2.4" stroke="#9b2"/>
<path d="M566 132.4v2.3" stroke="#682"/>
<path d="M568 132v2" stroke="#ae3"/>
<path d="M570 133.4v2" stroke="#582"/>
<path d="M572 139v2" stroke="#496"/>
<path d="M460 139.7v2.5" stroke="#7fb"/>
<path d="M462 135.2v2.2" stroke="#9f5"/>
<path d="M478 129.7v1.7" stroke="#751"/>
<path d="M480 132.7v2.3" stroke="#792"/>
<path d="M562 134.8v2.4" stroke="#8d4"/>
<path d="M564 133.2v2.4" stroke="#8d3"/>
<path d="M566 134.3v2.3" stroke="#592"/>
<path d="M568 133.6v2" stroke="#af4"/>
<path d="M570 135v2" stroke="#582"/>
<path d="M572 140.6v2" stroke="#497"/>
<path d="M460 141.8v2.5" stroke="#6fd"/>
<path d="M462 137v2.2" stroke="#9f5"/>
<path d="M562 136.8v2.4" stroke="#7e5"/>
<path d="M564 135.1v2.4" stroke="#8d4"/>
<path d="M566 136.2v2.3" stroke="#593"/>
<path d="M568 135.2v2" stroke="#9f4"/>
<path d="M458 144.7v3.4" stroke="#4b9ae0"/>
<path d="M460 143.9v3" stroke="#5dd"/>
<path d="M462 138.8v2.1" stroke="#8f7"/>
<path d="M464 135.9v2" stroke="#7c3"/>
<path d="M466 136.3v2" stroke="#9e4"/>
<path d="M468 136.2v2.5" stroke="#592"/>
<path d="M470 137.2v1" stroke="#9f5"/>
<path d="M472 133.6v.7" stroke="#bb2"/>
<path d="M474 131.5v2.2" stroke="#871"/>
<path d="M476 129.8v2.3" stroke="#961"/>
<path d="M478 131v2.4" stroke="#871"/>
<path d="M480 134.6v3.1" stroke="#7a2"/>
<path d="M482 133v2.4" stroke="#bd2"/>
<path d="M484 132.8v2.4" stroke="#771"/>
<path d="M486 130.1v2.5" stroke="#d91"/>
<path d="M488 127v3.5" stroke="#a41"/>
<path d="M490 127.2v2.8" stroke="#d61"/>
<path d="M492 129v1.5" stroke="#a51"/>
<path d="M496 132.2v1.4" stroke="#a91"/>
<path d="M498 132.2v1.6" stroke="#881"/>
<path d="M500 132.9v1.9M502 133v2.5" stroke="#892"/>
<path d="M504 130.1v2.6" stroke="#d91"/>
<path d="M506 129.4v1.7" stroke="#a61"/>
<path d="M508 131.1v1.3" stroke="#971"/>
<path d="M510 131.3v2.5" stroke="#871"/>
<path d="M512 131.6v3.4" stroke="#ba2"/>
<path d="M514 131v3.7" stroke="#871"/>
<path d="M516 131v2.3" stroke="#b81"/>
<path d="M518 131v2" stroke="#971"/>
<path d="M520 131.2v2.9" stroke="#b81"/>
<path d="M522 130.8v3M524 131.2v2.9" stroke="#a71"/>
<path d="M526 131.5v2.5M528 131.5v2.6M530 131.5v2.9M532 131.2v3.1" stroke="#a81"/>
<path d="M534 130.8v3.5" stroke="#a71"/>
<path d="M536 131.2v2.9M538 131.5v2.5M540 131.6v2.6M542 131.5v2.8M544 131.3v3.4" stroke="#a81"/>
<path d="M546 131.9v3.1" stroke="#981"/>
<path d="M548 131.8v3.3" stroke="#a91"/>
<path d="M550 130.3v2.7" stroke="#a71"/>
<path d="M552 130.9v3.1" stroke="#761"/>
<path d="M554 132.2v2.8" stroke="#aa2"/>
<path d="M556 131.2v2.2" stroke="#b91"/>
<path d="M558 130.6v.6" stroke="#d71"/>
<path d="M564 137.1v1.3" stroke="#9f4"/>
<path d="M568 136.7v1.1" stroke="#7d4"/>
<path d="M570 136.7v2.3" stroke="#593"/>
<path d="M572 142.2v2.7" stroke="#5b8"/>
<path d="M574 143.6v3.6" stroke="#499"/>
<path d="M462 140.5v2.1" stroke="#8f9"/>
<path d="M464 137.5v2" stroke="#7c4"/>
<path d="M468 138.2v2.5" stroke="#593"/>
<path d="M470 137.9v1" stroke="#9f4"/>
<path d="M472 133.9v.7" stroke="#ba2"/>
<path d="M474 133.3v2.2" stroke="#881"/>
<path d="M476 131.7v2.3" stroke="#871"/>
<path d="M478 133v2.4" stroke="#781"/>
<path d="M480 137.3v3.1" stroke="#6b3"/>
<path d="M482 135v2.4" stroke="#bd3"/>
<path d="M486 132.2v2.5" stroke="#ca2"/>
<path d="M488 130.1v3.5" stroke="#961"/>
<path d="M490 129.6v2.8" stroke="#d71"/>
<path d="M492 130.1v1.5" stroke="#a51"/>
<path d="M496 133.2v1.4" stroke="#a91"/>
<path d="M498 133.4v1.6" stroke="#881"/>
<path d="M500 134.4v1.9" stroke="#892"/>
<path d="M502 135.1v2.5" stroke="#792"/>
<path d="M504 132.3v2.6" stroke="#cb2"/>
<path d="M506 130.7v1.7" stroke="#a61"/>
<path d="M508 132v1.3" stroke="#961"/>
<path d="M510 133.5v2.5" stroke="#881"/>
<path d="M516 132.9v2.3" stroke="#a91"/>
<path d="M518 132.6v2" stroke="#971"/>
<path d="M550 132.6v2.7" stroke="#a81"/>
<path d="M552 133.7v3.1" stroke="#771"/>
<path d="M554 134.5v2.8" stroke="#9b2"/>
<path d="M556 133v2.2" stroke="#ba1"/>
<path d="M564 137.9v1.3" stroke="#9f4"/>
<path d="M568 137.5v1.1" stroke="#7d4"/>
<path d="M570 138.6v2.3" stroke="#5a3"/>
<path d="M462 142.2v2.1" stroke="#8fa"/>
<path d="M464 139v2" stroke="#7d4"/>
<path d="M476 133.6v2.3" stroke="#782"/>
<path d="M478 134.9v2.4" stroke="#692"/>
<path d="M486 134.3v2.5" stroke="#bc2"/>
<path d="M488 133.2v3.5" stroke="#881"/>
<path d="M490 132v2.8" stroke="#c91"/>
<path d="M504 134.6v2.6" stroke="#bc2"/>
<path d="M506 132v1.7" stroke="#a71"/>
<path d="M568 138.2v1.1" stroke="#7d4"/>
<path d="M570 140.4v2.3" stroke="#494"/>
<path d="M476 135.4v2.3" stroke="#792"/>
<path d="M478 136.9v2.4" stroke="#6a3"/>
<path d="M568 138.9v1.1" stroke="#7d4"/>
<path d="M570 142.3v2.3" stroke="#496"/>
<path d="M476 137.3v2.3M478 138.8v2.4" stroke="#6a3"/>
<path d="M460 146.5v2.2" stroke="#5cd"/>
<path d="M462 143.8v3.4" stroke="#6eb"/>
<path d="M464 140.6v3.3" stroke="#7f6"/>
<path d="M466 137.9v3.2" stroke="#9f4"/>
<path d="M468 140.3v2.9" stroke="#593"/>
<path d="M470 138.5v3" stroke="#9f5"/>
<path d="M472 134.1v2.7" stroke="#a91"/>
<path d="M474 135v2.7" stroke="#771"/>
<path d="M476 139.2v1.6" stroke="#693"/>
<path d="M482 137v1.1" stroke="#ad3"/>
<path d="M484 134.7v2.2" stroke="#771"/>
<path d="M486 136.4v2" stroke="#8a2"/>
<path d="M488 136.3v1.8" stroke="#9b2"/>
<path d="M490 134.5v2.4" stroke="#a91"/>
<path d="M492 131.2v3.9" stroke="#c71"/>
<path d="M494 131.9v2.2" stroke="#a61"/>
<path d="M496 134.2v1.7" stroke="#761"/>
<path d="M498 134.7v2.2" stroke="#aa2"/>
<path d="M500 135.9v1.3" stroke="#981"/>
<path d="M502 137.2v.5" stroke="#892"/>
<path d="M506 133.3v1.4" stroke="#b81"/>
<path d="M508 132.9v2.8" stroke="#861"/>
<path d="M510 135.6v2.7" stroke="#992"/>
<path d="M512 134.7v2" stroke="#a91"/>
<path d="M514 134.4v2.2" stroke="#981"/>
<path d="M516 134.7v3.1" stroke="#a91"/>
<path d="M518 134.2v2.7M520 133.7v3.2M522 133.4v3.5M524 133.6v3M526 133.6v2.9" stroke="#a81"/>
<path d="M528 133.7v2.6" stroke="#a71"/>
<path d="M530 134.1v2.4M532 133.9v2.7M534 133.9v2.9M536 133.7v3.1" stroke="#a81"/>
<path d="M538 133.6v3.3" stroke="#a71"/>
<path d="M540 133.7v3.2" stroke="#a81"/>
<path d="M542 133.9v3.2" stroke="#971"/>
<path d="M544 134.4v2.8" stroke="#a81"/>
<path d="M546 134.6v3.4" stroke="#881"/>
<path d="M548 134.6v3.3" stroke="#aa2"/>
<path d="M554 136.9v2.3" stroke="#792"/>
<path d="M556 134.8v1.9" stroke="#cb2"/>
<path d="M558 130.8v2.1" stroke="#841"/>
<path d="M560 133v2.5" stroke="#861"/>
<path d="M562 138.2v1.6" stroke="#8c3"/>
<path d="M564 138.8v1.8" stroke="#693"/>
<path d="M566 136.5v2.8" stroke="#8b3"/>
<path d="M568 139.6v2.7" stroke="#593"/>
<path d="M570 144.1v3.2" stroke="#5da"/>
<path d="M572 144.6v3" stroke="#4a8"/>
<path d="M574 146.8v2.1" stroke="#419dbd"/>
<path d="M460 148.3v2.2" stroke="#4daae2"/>
<path d="M462 146.9v3.4" stroke="#5dd"/>
<path d="M464 143.5v3.3" stroke="#6f9"/>
<path d="M466 140.7v3.2" stroke="#8f5"/>
<path d="M468 142.8v2.9" stroke="#594"/>
<path d="M470 141.1v3" stroke="#9f5"/>
<path d="M472 136.4v2.7" stroke="#9a2"/>
<path d="M474 137.3v2.7" stroke="#682"/>
<path d="M476 140.4v1.6" stroke="#693"/>
<path d="M482 137.7v1.1" stroke="#bd3"/>
<path d="M484 136.5v2.2" stroke="#781"/>
<path d="M486 138.1v2" stroke="#7a2"/>
<path d="M488 137.7v1.8" stroke="#9b2"/>
<path d="M490 136.5v2.4" stroke="#9a2"/>
<path d="M492 134.7v3.9" stroke="#ba2"/>
<path d="M494 133.7v2.2" stroke="#a61"/>
<path d="M496 135.5v1.7" stroke="#761"/>
<path d="M498 136.5v2.2" stroke="#aa2"/>
<path d="M506 134.4v1.4" stroke="#b81"/>
<path d="M508 135.3v2.8" stroke="#771"/>
<path d="M512 136.3v2" stroke="#aa2"/>
<path d="M514 136.2v2.2" stroke="#881"/>
<path d="M554 138.8v2.3" stroke="#6a2"/>
<path d="M556 136.2v1.9" stroke="#cc2"/>
<path d="M558 132.5v2.1" stroke="#851"/>
<path d="M560 135.1v2.5" stroke="#771"/>
<path d="M564 140.2v1.8" stroke="#693"/>
<path d="M566 138.9v2.8" stroke="#7c3"/>
<path d="M568 141.9v2.7" stroke="#494"/>
<path d="M570 146.9v3.2" stroke="#5cc"/>
<path d="M572 147.2v3" stroke="#49a"/>
<path d="M574 148.5v2.1" stroke="#3e87ca"/>
<path d="M464 146.3v3.3" stroke="#5dc"/>
<path d="M466 143.5v3.2" stroke="#7f8"/>
<path d="M558 134.2v2.1" stroke="#751"/>
<path d="M560 137.1v2.5" stroke="#682"/>
<path d="M566 141.3v2.8" stroke="#7d4"/>
<path d="M568 144.1v2.7" stroke="#496"/>
<path d="M558 135.9v2.1" stroke="#761"/>
<path d="M560 139.2v2.5" stroke="#692"/>
<path d="M566 143.7v2.8" stroke="#6d7"/>
<path d="M568 146.4v2.7" stroke="#387"/>
<path d="M558 137.6v2.1" stroke="#671"/>
<path d="M560 141.2v2.5" stroke="#6a3"/>
<path d="M462 149.9v3.5" stroke="#4a97e0"/>
<path d="M464 149.2v3.7" stroke="#4dafda"/>
<path d="M466 146.3v2.5" stroke="#6ea"/>
<path d="M468 145.3v2.7" stroke="#5b7"/>
<path d="M470 143.6v3.1" stroke="#8f7"/>
<path d="M472 138.7v2.8" stroke="#9c3"/>
<path d="M474 139.6v2.3" stroke="#692"/>
<path d="M476 141.6v2.7" stroke="#7d4"/>
<path d="M478 135v2.8" stroke="#d91"/>
<path d="M480 133.8v2.3" stroke="#a61"/>
<path d="M490 138.5v.9" stroke="#871"/>
<path d="M492 138.2v1.7" stroke="#9a2"/>
<path d="M494 135.4v1.7" stroke="#d91"/>
<path d="M500 136.8v1.1" stroke="#871"/>
<path d="M502 137.3v1.3" stroke="#a91"/>
<path d="M504 135.7v1.2" stroke="#c81"/>
<path d="M506 135.4v2.8" stroke="#751"/>
<path d="M508 137.8v2.4" stroke="#9a2"/>
<path d="M510 137.9v.8" stroke="#ca2"/>
<path d="M512 137.8v.5" stroke="#871"/>
<path d="M514 138v2.6" stroke="#992"/>
<path d="M516 137.4v3" stroke="#aa2"/>
<path d="M518 136.5v3.5" stroke="#a81"/>
<path d="M520 136.5v3.4" stroke="#981"/>
<path d="M522 136.5v3.2M524 136.3v3.2M526 136.1v3" stroke="#a81"/>
<path d="M528 136v3.3" stroke="#971"/>
<path d="M530 136.1v3.3M532 136.2v2.7M534 136.3v2.7M536 136.4v2.9" stroke="#a81"/>
<path d="M538 136.5v3.2" stroke="#981"/>
<path d="M540 136.5v3.3" stroke="#a81"/>
<path d="M542 136.8v1.8" stroke="#b81"/>
<path d="M544 136.8v1.7" stroke="#a71"/>
<path d="M546 137.5v1.7M548 137.5v1.9" stroke="#981"/>
<path d="M550 134.9v3.5" stroke="#c91"/>
<path d="M552 135.8v2.2" stroke="#861"/>
<path d="M558 139.2v2" stroke="#672"/>
<path d="M560 143.3v1.9" stroke="#8f5"/>
<path d="M562 139.5v3" stroke="#7a2"/>
<path d="M564 141.6v2.2" stroke="#6b3"/>
<path d="M566 146v3" stroke="#4a6"/>
<path d="M568 148.7v2.7" stroke="#4aa"/>
<path d="M570 149.7v2.9" stroke="#429bc4"/>
<path d="M572 149.9v3.5" stroke="#3f84d3"/>
<path d="M466 148.4v2.5" stroke="#5ec"/>
<path d="M468 147.6v2.7" stroke="#5b8"/>
<path d="M470 146.4v3.1" stroke="#8fa"/>
<path d="M472 141.1v2.8" stroke="#9e4"/>
<path d="M474 141.6v2.3" stroke="#692"/>
<path d="M476 143.9v2.7" stroke="#7d4"/>
<path d="M478 137.4v2.8" stroke="#bc2"/>
<path d="M480 135.7v2.3" stroke="#971"/>
<path d="M492 139.6v1.7" stroke="#9a2"/>
<path d="M494 136.8v1.7" stroke="#d91"/>
<path d="M500 137.5v1.1" stroke="#861"/>
<path d="M502 138.2v1.3" stroke="#a91"/>
<path d="M504 136.6v1.2" stroke="#d81"/>
<path d="M506 137.8v2.8" stroke="#761"/>
<path d="M508 139.8v2.4" stroke="#9b2"/>
<path d="M548 139v1.9" stroke="#891"/>
<path d="M550 138v3.5" stroke="#bb2"/>
<path d="M552 137.5v2.2" stroke="#871"/>
<path d="M558 140.8v2" stroke="#572"/>
<path d="M560 144.8v1.9" stroke="#7f6"/>
<path d="M562 142v3" stroke="#6b3"/>
<path d="M564 143.4v2.2" stroke="#6c4"/>
<path d="M466 150.4v2.5" stroke="#55dae1"/>
<path d="M468 149.9v2.7" stroke="#42aca9"/>
<path d="M472 143.5v2.8" stroke="#8f5"/>
<path d="M474 143.5v2.3" stroke="#5a3"/>
<path d="M478 139.8v2.8" stroke="#ae3"/>
<path d="M480 137.6v2.3" stroke="#881"/>
<path d="M560 146.2v1.9" stroke="#7f7"/>
<path d="M562 144.6v3M564 145.2v2.2" stroke="#6c5"/>
<path d="M478 142.3v2.8" stroke="#9f4"/>
<path d="M480 139.5v2.3" stroke="#892"/>
<path d="M562 147.1v3" stroke="#5c7"/>
<path d="M564 147v2.2" stroke="#5b6"/>
<path d="M478 144.7v2.8" stroke="#8f6"/>
<path d="M480 141.3v2.3" stroke="#7a2"/>
<path d="M464 152.5v3.5" stroke="#4a97e1"/>
<path d="M466 152.5v3.5" stroke="#4893db"/>
<path d="M468 152.2v3.7" stroke="#4ba9dd"/>
<path d="M470 149.1v2.5" stroke="#6eb"/>
<path d="M472 145.9v3.5" stroke="#7e6"/>
<path d="M474 145.4v2.7M476 146.2v2.1" stroke="#8f5"/>
<path d="M478 147.2v2.1" stroke="#5a4"/>
<path d="M480 143.2v3.3" stroke="#9f4"/>
<path d="M482 136v2.8" stroke="#b61"/>
<path d="M484 135.8v3.3" stroke="#841"/>
<path d="M486 136.1v3.7" stroke="#d81"/>
<path d="M488 135.9v3.7" stroke="#851"/>
<path d="M490 139v2.6" stroke="#a91"/>
<path d="M492 140.9v1.6" stroke="#9a2"/>
<path d="M494 138.1v2.1" stroke="#a81"/>
<path d="M496 135.2v3.5" stroke="#951"/>
<path d="M498 135.9v3" stroke="#d71"/>
<path d="M500 138.2v1.3" stroke="#861"/>
<path d="M502 139.1v1.7" stroke="#871"/>
<path d="M504 137.4v2.9" stroke="#b71"/>
<path d="M506 140.1v2.3" stroke="#771"/>
<path d="M508 141.8v1.7" stroke="#ac2"/>
<path d="M510 138.3v2.1" stroke="#c91"/>
<path d="M512 137.9v2.5" stroke="#861"/>
<path d="M514 140.2v2.4" stroke="#a91"/>
<path d="M516 140v1.9" stroke="#a81"/>
<path d="M518 139.7v2.8" stroke="#981"/>
<path d="M520 139.5v2.8" stroke="#a91"/>
<path d="M522 139.3v2.5" stroke="#a81"/>
<path d="M524 139.1v2" stroke="#971"/>
<path d="M526 138.7v2.5" stroke="#a81"/>
<path d="M528 138.8v4" stroke="#981"/>
<path d="M530 138.9v3.7M532 138.5v3.9" stroke="#a81"/>
<path d="M534 138.6v3.8" stroke="#981"/>
<path d="M536 138.9v2.6" stroke="#871"/>
<path d="M538 139.3v3.2" stroke="#981"/>
<path d="M540 139.4v1.8" stroke="#ca2"/>
<path d="M542 138.1v1.7" stroke="#a71"/>
<path d="M544 138.1v2.4" stroke="#971"/>
<path d="M546 138.8v3.1" stroke="#871"/>
<path d="M548 140.5v3.1" stroke="#892"/>
<path d="M550 141.1v2.3" stroke="#8a2"/>
<path d="M552 139.3v3" stroke="#881"/>
<path d="M554 136.8v3.7" stroke="#c81"/>
<path d="M556 136.4v3.3" stroke="#951"/>
<path d="M558 142.4v3.1" stroke="#582"/>
<path d="M560 147.7v3.1" stroke="#5c7"/>
<path d="M562 149.7v1.7" stroke="#5c9"/>
<path d="M564 148.8v1.8" stroke="#5d8"/>
<path d="M566 148.7v2.5" stroke="#5a7"/>
<path d="M568 150.9v2.5" stroke="#4ba"/>
<path d="M570 152.1v3.7" stroke="#4198c4"/>
<path d="M470 151.2v2.5" stroke="#5ed"/>
<path d="M472 149v3.5" stroke="#6d9"/>
<path d="M474 147.7v2.7" stroke="#7f7"/>
<path d="M480 146.1v3.3" stroke="#9f5"/>
<path d="M482 138.4v2.8" stroke="#a81"/>
<path d="M484 138.7v3.3" stroke="#761"/>
<path d="M486 139.4v3.7" stroke="#bb2"/>
<path d="M488 139.2v3.7" stroke="#761"/>
<path d="M490 141.2v2.6" stroke="#9b2"/>
<path d="M492 142.2v1.6" stroke="#9a2"/>
<path d="M494 139.7v2.1" stroke="#a91"/>
<path d="M496 138.3v3.5" stroke="#871"/>
<path d="M498 138.5v3" stroke="#c91"/>
<path d="M500 139.1v1.3" stroke="#851"/>
<path d="M502 140.4v1.7" stroke="#871"/>
<path d="M504 139.9v2.9" stroke="#a91"/>
<path d="M506 142.1v2.3" stroke="#782"/>
<path d="M510 140v2.1" stroke="#ca1"/>
<path d="M512 140.1v2.5" stroke="#761"/>
<path d="M524 140.7v2" stroke="#981"/>
<path d="M526 140.8v2.5" stroke="#a91"/>
<path d="M536 141.1v2.6" stroke="#881"/>
<path d="M538 142v3.2" stroke="#892"/>
<path d="M540 140.8v1.8" stroke="#ba2"/>
<path d="M542 139.5v1.7" stroke="#a71"/>
<path d="M544 140v2.4" stroke="#971"/>
<path d="M546 141.5v3.1" stroke="#781"/>
<path d="M548 143.1v3.1M550 142.9v2.3" stroke="#7a2"/>
<path d="M552 141.9v3" stroke="#792"/>
<path d="M554 140.1v3.7" stroke="#ab2"/>
<path d="M556 139.3v3.3" stroke="#871"/>
<path d="M558 145v3.1" stroke="#593"/>
<path d="M560 150.4v3.1" stroke="#5b8"/>
<path d="M562 150.9v1.7M564 150.3v1.8" stroke="#5c9"/>
<path d="M566 150.8v2.5" stroke="#4a8"/>
<path d="M568 153v2.5" stroke="#4199c3"/>
<path d="M470 153.4v2.5" stroke="#54d2e8"/>
<path d="M472 152.1v3.5" stroke="#5cc"/>
<path d="M474 149.9v2.7" stroke="#7fa"/>
<path d="M482 140.8v2.8" stroke="#9a2"/>
<path d="M484 141.6v3.3" stroke="#682"/>
<path d="M486 142.7v3.7" stroke="#9e3"/>
<path d="M488 142.4v3.7" stroke="#682"/>
<path d="M490 143.4v2.6" stroke="#8d3"/>
<path d="M494 141.4v2.1" stroke="#9a2"/>
<path d="M496 141.4v3.5" stroke="#782"/>
<path d="M498 141.1v3" stroke="#bb2"/>
<path d="M502 141.7v1.7" stroke="#881"/>
<path d="M504 142.4v2.9" stroke="#9b2"/>
<path d="M550 144.8v2.3" stroke="#7b3"/>
<path d="M552 144.6v3" stroke="#6a3"/>
<path d="M554 143.4v3.7" stroke="#9e4"/>
<path d="M556 142.2v3.3" stroke="#792"/>
<path d="M558 147.7v3.1" stroke="#494"/>
<path d="M564 151.7v1.8" stroke="#5ca"/>
<path d="M566 152.9v2.5" stroke="#3e9ea2"/>
<path d="M482 143.1v2.8" stroke="#8b3"/>
<path d="M484 144.5v3.3" stroke="#592"/>
<path d="M486 146v3.7" stroke="#8f5"/>
<path d="M488 145.7v3.7" stroke="#593"/>
<path d="M490 145.5v2.6" stroke="#8e4"/>
<path d="M494 143.1v2.1" stroke="#9b2"/>
<path d="M496 144.4v3.5" stroke="#6a3"/>
<path d="M552 147.2v3" stroke="#6b4"/>
<path d="M554 146.6v3.7" stroke="#8f5"/>
<path d="M556 145.1v3.3" stroke="#6a3"/>
<path d="M482 145.5v2.8" stroke="#7d4"/>
<path d="M484 147.4v3.3" stroke="#5a4"/>
<path d="M472 155.2v3.3" stroke="#4a93e1"/>
<path d="M474 152.2v2.9" stroke="#6fc"/>
<path d="M476 147.8v3.1M478 148.9v.9" stroke="#8f5"/>
<path d="M482 147.9v2.4" stroke="#6b3"/>
<path d="M484 150.3v1.8" stroke="#6d6"/>
<path d="M486 149.3v.7" stroke="#8f5"/>
<path d="M492 143.4v2.8" stroke="#ac2"/>
<path d="M494 144.8v1.2" stroke="#792"/>
<path d="M498 143.7v1.4" stroke="#ac2"/>
<path d="M500 139.9v3.7" stroke="#a71"/>
<path d="M502 143v3.2" stroke="#671"/>
<path d="M504 145v2" stroke="#ae3"/>
<path d="M506 144v2" stroke="#792"/>
<path d="M508 143.1v2.7" stroke="#ab2"/>
<path d="M510 141.7v2.3" stroke="#b91"/>
<path d="M512 142.2v2.4" stroke="#771"/>
<path d="M514 142.2v2.2" stroke="#bb2"/>
<path d="M516 141.6v2.1" stroke="#871"/>
<path d="M518 142v2.9" stroke="#881"/>
<path d="M520 141.9v2.7" stroke="#aa2"/>
<path d="M522 141.4v2.7" stroke="#981"/>
<path d="M524 142.2v3" stroke="#881"/>
<path d="M526 142.8v1.8" stroke="#bb2"/>
<path d="M528 142.4v1.6" stroke="#871"/>
<path d="M530 142.2v2.8" stroke="#991"/>
<path d="M532 142.1v2" stroke="#ba2"/>
<path d="M534 142.1v2.5" stroke="#771"/>
<path d="M536 143.3v2" stroke="#ab2"/>
<path d="M538 144.8v1" stroke="#792"/>
<path d="M540 142.3v2.7" stroke="#bb2"/>
<path d="M542 140.8v4" stroke="#761"/>
<path d="M544 142v.7" stroke="#da2"/>
<path d="M554 149.9v1.7" stroke="#5b5"/>
<path d="M556 148v3.7" stroke="#7e5"/>
<path d="M558 150.3v3.2" stroke="#495"/>
<path d="M560 153.1v2.6" stroke="#5cb"/>
<path d="M562 152.2v3.1" stroke="#5da"/>
<path d="M564 153.2v2.8" stroke="#4a9"/>
<path d="M566 155v3.5" stroke="#4083d6"/>
<path d="M568 155.1v3.4" stroke="#3f81d5"/>
<path d="M474 154.7v2.9" stroke="#5ee"/>
<path d="M476 150.5v3.1" stroke="#7f8"/>
<path d="M478 149.4v.9" stroke="#8f5"/>
<path d="M482 149.9v2.4" stroke="#5b4"/>
<path d="M492 145.8v2.8" stroke="#9d3"/>
<path d="M494 145.6v1.2" stroke="#792"/>
<path d="M498 144.7v1.4" stroke="#bb2"/>
<path d="M500 143.2v3.7" stroke="#992"/>
<path d="M502 145.8v3.2" stroke="#582"/>
<path d="M504 146.5v2" stroke="#9e3"/>
<path d="M506 145.5v2" stroke="#792"/>
<path d="M508 145.4v2.7" stroke="#9c3"/>
<path d="M510 143.7v2.3" stroke="#aa2"/>
<path d="M512 144.2v2.4" stroke="#781"/>
<path d="M514 144v2.2" stroke="#bb2"/>
<path d="M516 143.3v2.1" stroke="#871"/>
<path d="M518 144.5v2.9" stroke="#892"/>
<path d="M520 144.2v2.7" stroke="#ab2"/>
<path d="M522 143.7v2.7" stroke="#881"/>
<path d="M524 144.8v3" stroke="#792"/>
<path d="M526 144.2v1.8" stroke="#bb2"/>
<path d="M528 143.6v1.6" stroke="#871"/>
<path d="M530 144.6v2.8" stroke="#8a2"/>
<path d="M532 143.7v2" stroke="#ba2"/>
<path d="M534 144.1v2.5" stroke="#771"/>
<path d="M536 144.9v2" stroke="#ab2"/>
<path d="M540 144.6v2.7" stroke="#ac2"/>
<path d="M542 144.4v4" stroke="#682"/>
<path d="M544 142.3v.7" stroke="#d91"/>
<path d="M554 151.2v1.7" stroke="#5b5"/>
<path d="M556 151.4v3.7" stroke="#6e8"/>
<path d="M558 153.1v3.2" stroke="#497"/>
<path d="M560 155.4v2.6" stroke="#47a8cc"/>
<path d="M562 154.9v3.1" stroke="#4dc7c8"/>
<path d="M564 155.5v2.8" stroke="#3c99a4"/>
<path d="M476 153.1v3.1" stroke="#6ea"/>
<path d="M478 149.9v.9" stroke="#8f5"/>
<path d="M474 157.1v2.2" stroke="#4ebbd8"/>
<path d="M476 155.8v2.8" stroke="#5cb"/>
<path d="M478 150.4v2.9" stroke="#8f6"/>
<path d="M480 148.4v3.1" stroke="#6a3"/>
<path d="M482 151.9v3.2" stroke="#6c6"/>
<path d="M484 151.7v2.5" stroke="#7f6"/>
<path d="M486 149.6v3" stroke="#9f4"/>
<path d="M488 146.6v2.3" stroke="#7a2"/>
<path d="M490 147.2v3" stroke="#692"/>
<path d="M492 148.3v3.4" stroke="#8e4"/>
<path d="M494 146.5v2.9" stroke="#8b2"/>
<path d="M496 145.2v2.9" stroke="#ab2"/>
<path d="M498 145.7v2.9" stroke="#682"/>
<path d="M500 146.6v2.1" stroke="#ad3"/>
<path d="M502 148.6v1.1" stroke="#692"/>
<path d="M504 148.1v1.8" stroke="#ae3"/>
<path d="M506 147.1v1.6" stroke="#792"/>
<path d="M512 146.1v.8" stroke="#771"/>
<path d="M514 145.8v2.3" stroke="#ab2"/>
<path d="M516 145v2.4" stroke="#992"/>
<path d="M522 146v.8" stroke="#661"/>
<path d="M524 147.4v3.7" stroke="#6a2"/>
<path d="M526 145.6v4.3" stroke="#ad3"/>
<path d="M528 144.8v3" stroke="#891"/>
<path d="M530 147v3.6" stroke="#792"/>
<path d="M532 145.3v2.4" stroke="#ab2"/>
<path d="M534 146.2v2.9" stroke="#672"/>
<path d="M536 146.5v3.5" stroke="#9d3"/>
<path d="M538 145.4v2.6" stroke="#9a2"/>
<path d="M540 146.9v1.1" stroke="#ab2"/>
<path d="M542 147.9v1.5" stroke="#682"/>
<path d="M544 142.6v2.7" stroke="#d91"/>
<path d="M546 139.8v2.8" stroke="#940"/>
<path d="M548 143.4v2.7" stroke="#761"/>
<path d="M550 144.8v3.8" stroke="#771"/>
<path d="M552 148v3.2" stroke="#6a3"/>
<path d="M554 152.5v2.8" stroke="#4a5"/>
<path d="M556 154.7v3.3" stroke="#5ca"/>
<path d="M558 156v2.8" stroke="#4a9"/>
<path d="M560 157.6v3.6" stroke="#438fd7"/>
<path d="M562 157.6v3.6" stroke="#418ad2"/>
<path d="M564 157.9v3.2" stroke="#3e79d8"/>
<path d="M474 159v2.2" stroke="#4b9ce2"/>
<path d="M476 158.2v2.8" stroke="#4bacd6"/>
<path d="M478 152.9v2.9" stroke="#8f9"/>
<path d="M480 151v3.1" stroke="#5b4"/>
<path d="M482 154.7v3.2" stroke="#5c8"/>
<path d="M484 153.8v2.5" stroke="#7f8"/>
<path d="M488 148.5v2.3" stroke="#7b3"/>
<path d="M490 149.8v3" stroke="#5a3"/>
<path d="M492 151.3v3.4" stroke="#8f5"/>
<path d="M494 148.9v2.9" stroke="#7c3"/>
<path d="M496 147.7v2.9" stroke="#9d3"/>
<path d="M498 148.1v2.9" stroke="#692"/>
<path d="M500 148.3v2.1" stroke="#9e3"/>
<path d="M514 147.7v2.3" stroke="#9b2"/>
<path d="M516 147v2.4" stroke="#8a2"/>
<path d="M522 146.4v.8" stroke="#761"/>
<path d="M524 150.8v3.7" stroke="#6a3"/>
<path d="M526 149.5v4.3" stroke="#9f4"/>
<path d="M528 147.4v3" stroke="#8a2"/>
<path d="M532 147.4v2.4" stroke="#9c3"/>
<path d="M534 148.8v2.9" stroke="#582"/>
<path d="M536 149.5v3.5" stroke="#9f4"/>
<path d="M538 147.6v2.6" stroke="#8c3"/>
<path d="M544 144.9v2.7" stroke="#cb2"/>
<path d="M546 142.2v2.8" stroke="#851"/>
<path d="M548 145.8v2.7" stroke="#671"/>
<path d="M550 148.2v3.8" stroke="#692"/>
<path d="M552 150.8v3.2" stroke="#5b4"/>
<path d="M554 154.9v2.8" stroke="#497"/>
<path d="M556 157.6v3.3" stroke="#4ab9cb"/>
<path d="M558 158.4v2.8" stroke="#3c94ab"/>
<path d="M478 155.4v2.9" stroke="#7fc"/>
<path d="M480 153.7v3.1" stroke="#5b6"/>
<path d="M488 150.4v2.3" stroke="#7b3"/>
<path d="M490 152.3v3" stroke="#5a4"/>
<path d="M494 151.4v2.9" stroke="#7d4"/>
<path d="M496 150.2v2.9" stroke="#8e4"/>
<path d="M498 150.6v2.9" stroke="#593"/>
<path d="M500 150v2.1" stroke="#9f4"/>
<path d="M532 149.4v2.4" stroke="#9d3"/>
<path d="M534 151.3v2.9" stroke="#593"/>
<path d="M536 152.6v3.5" stroke="#8f6"/>
<path d="M538 149.9v2.6" stroke="#8d3"/>
<path d="M544 147.2v2.7" stroke="#bd3"/>
<path d="M546 144.6v2.8" stroke="#861"/>
<path d="M548 148.1v2.7" stroke="#582"/>
<path d="M550 151.6v3.8" stroke="#5a4"/>
<path d="M552 153.5v3.2" stroke="#5b6"/>
<path d="M554 157.4v2.8" stroke="#398"/>
<path d="M478 157.9v2.9" stroke="#6ee"/>
<path d="M480 156.4v3.1" stroke="#4a8"/>
<path d="M544 149.5v2.7" stroke="#af4"/>
<path d="M546 147v2.8" stroke="#781"/>
<path d="M548 150.4v2.7" stroke="#592"/>
<path d="M550 155v3.8" stroke="#4a7"/>
<path d="M552 156.3v3.2" stroke="#4a8"/>
<path d="M476 160.6v3.2" stroke="#498ae3"/>
<path d="M478 160.4v3.2" stroke="#498ae2"/>
<path d="M480 159v3.7" stroke="#5dd"/>
<path d="M482 157.5v2.7" stroke="#5c9"/>
<path d="M484 155.9v2.9" stroke="#7fa"/>
<path d="M486 152.2v3" stroke="#8e4"/>
<path d="M488 152.3v2.5" stroke="#6c4"/>
<path d="M490 154.9v1.7" stroke="#7e5"/>
<path d="M492 154.3v2.3" stroke="#5b5"/>
<path d="M494 153.8v3.5" stroke="#6d6"/>
<path d="M496 152.7v3.6" stroke="#7f5"/>
<path d="M498 153.1v1.7" stroke="#8e4"/>
<path d="M504 149.5v1.5" stroke="#682"/>
<path d="M506 148.3v3.1" stroke="#9b2"/>
<path d="M508 145.3v3.2" stroke="#c91"/>
<path d="M510 143.3v3" stroke="#b61"/>
<path d="M512 146.5v1.7" stroke="#971"/>
<path d="M514 149.6v1.4" stroke="#782"/>
<path d="M516 149v2" stroke="#9b2"/>
<path d="M520 143.4v1.5" stroke="#840"/>
<path d="M522 146.8v2.4" stroke="#761"/>
<path d="M528 150v1.8" stroke="#7b2"/>
<path d="M530 150.2v3.1" stroke="#692"/>
<path d="M532 151.4v3.3" stroke="#7c3"/>
<path d="M534 153.8v2" stroke="#6b4"/>
<path d="M536 155.7v1.8" stroke="#5b6"/>
<path d="M538 152.1v3.4" stroke="#9f5"/>
<path d="M540 147.6v3.3" stroke="#9a2"/>
<path d="M542 149.1v3" stroke="#682"/>
<path d="M544 151.8v3" stroke="#6a3"/>
<path d="M546 149.4v4.2" stroke="#9e3"/>
<path d="M548 152.7v3.2" stroke="#593"/>
<path d="M550 158.4v2.8" stroke="#4ba"/>
<path d="M552 159.1v2.5" stroke="#47acc4"/>
<path d="M554 159.8v3.9" stroke="#4298c5"/>
<path d="M556 160.6v3.2" stroke="#3f7cd9"/>
<path d="M482 159.7v2.7" stroke="#4bb"/>
<path d="M484 158.4v2.9" stroke="#6fb"/>
<path d="M486 154.8v3" stroke="#7f6"/>
<path d="M488 154.4v2.5" stroke="#6c4"/>
<path d="M492 156.2v2.3" stroke="#5b5"/>
<path d="M494 156.9v3.5" stroke="#6d8"/>
<path d="M496 155.9v3.6" stroke="#7e7"/>
<path d="M498 154.3v1.7" stroke="#8e4"/>
<path d="M504 150.6v1.5" stroke="#582"/>
<path d="M506 151v3.1" stroke="#8d3"/>
<path d="M508 148.1v3.2" stroke="#bc2"/>
<path d="M510 145.9v3" stroke="#a81"/>
<path d="M512 147.9v1.7" stroke="#981"/>
<path d="M516 150.7v2" stroke="#9b2"/>
<path d="M520 144.5v1.5" stroke="#841"/>
<path d="M522 148.7v2.4" stroke="#671"/>
<path d="M528 151.4v1.8" stroke="#7b2"/>
<path d="M530 152.9v3.1" stroke="#6a3"/>
<path d="M532 154.4v3.3" stroke="#6d4"/>
<path d="M534 155.4v2" stroke="#6b4"/>
<path d="M536 157.1v1.8" stroke="#5b6"/>
<path d="M538 155.2v3.4" stroke="#8f7"/>
<path d="M540 150.5v3.3" stroke="#8c3"/>
<path d="M542 151.7v3" stroke="#592"/>
<path d="M544 154.4v3" stroke="#5b4"/>
<path d="M546 153.2v4.2" stroke="#8f5"/>
<path d="M548 155.5v3.2" stroke="#495"/>
<path d="M550 160.8v2.8" stroke="#429bc4"/>
<path d="M552 161.1v2.5" stroke="#428fd2"/>
<path d="M486 157.4v3" stroke="#6e9"/>
<path d="M488 156.5v2.5" stroke="#6c6"/>
<path d="M504 151.7v1.5" stroke="#582"/>
<path d="M506 153.7v3.1" stroke="#7e5"/>
<path d="M508 150.8v3.2" stroke="#9e3"/>
<path d="M510 148.5v3" stroke="#992"/>
<path d="M512 149.2v1.7" stroke="#881"/>
<path d="M520 145.6v1.5" stroke="#741"/>
<path d="M522 150.7v2.4" stroke="#582"/>
<path d="M540 153.4v3.3" stroke="#7d4"/>
<path d="M542 154.3v3" stroke="#5a3"/>
<path d="M544 157v3" stroke="#5a6"/>
<path d="M546 157v4.2" stroke="#7fa"/>
<path d="M548 158.4v3.2" stroke="#496"/>
<path d="M504 152.8v1.5" stroke="#582"/>
<path d="M506 156.4v3.1" stroke="#7e7"/>
<path d="M508 153.6v3.2" stroke="#8f5"/>
<path d="M510 151.1v3" stroke="#8b3"/>
<path d="M520 146.8v1.5" stroke="#751"/>
<path d="M522 152.6v2.4" stroke="#592"/>
<path d="M520 147.9v1.5" stroke="#751"/>
<path d="M522 154.6v2.4" stroke="#593"/>
<path d="M478 163.2v3.2" stroke="#4989e3"/>
<path d="M480 162.3v2.2" stroke="#4cb3d7"/>
<path d="M482 162v2.2" stroke="#48abca"/>
<path d="M484 161v2.4" stroke="#5ec"/>
<path d="M486 160v2.9" stroke="#4b9"/>
<path d="M488 158.6v2.6" stroke="#6f9"/>
<path d="M490 156.2v3.5" stroke="#6d5"/>
<path d="M492 158.1v2.9" stroke="#5a6"/>
<path d="M494 160v3.1" stroke="#5da"/>
<path d="M496 159.1v3.6" stroke="#5c9"/>
<path d="M498 155.6v2.9" stroke="#8f5"/>
<path d="M500 150.6v3.3" stroke="#9b2"/>
<path d="M502 148v3.9" stroke="#971"/>
<path d="M504 153.9v2.5" stroke="#592"/>
<path d="M506 159.1v2.9" stroke="#6d9"/>
<path d="M508 156.4v3.3" stroke="#6d6"/>
<path d="M510 153.7v3.3" stroke="#8d4"/>
<path d="M512 150.5v3.7" stroke="#9c2"/>
<path d="M514 150.5v3.5" stroke="#682"/>
<path d="M516 152.3v3.2" stroke="#8d3"/>
<path d="M518 146.2v2.8" stroke="#d71"/>
<path d="M520 149v2.4" stroke="#761"/>
<path d="M522 156.6v2.5" stroke="#6c5"/>
<path d="M524 154v3.3" stroke="#8d4"/>
<path d="M526 152.1v3.2" stroke="#7a2"/>
<path d="M528 152.8v2.9" stroke="#7b3"/>
<path d="M530 155.6v3.3" stroke="#5b4"/>
<path d="M532 157.3v3.4" stroke="#5b6"/>
<path d="M534 157v4" stroke="#6d7"/>
<path d="M536 158.5v1.6" stroke="#7e8"/>
<path d="M538 158.2v.8" stroke="#7f7"/>
<path d="M540 156.3v2.5" stroke="#5a4"/>
<path d="M542 156.9v3" stroke="#6d6"/>
<path d="M544 159.7v2.7" stroke="#4a8"/>
<path d="M546 160.8v2.4" stroke="#5cb"/>
<path d="M548 161.2v2.7" stroke="#4a9"/>
<path d="M550 163.1v3.2" stroke="#407cda"/>
<path d="M480 164.1v2.2" stroke="#4a98e0"/>
<path d="M482 163.8v2.2" stroke="#4894d9"/>
<path d="M484 162.9v2.4" stroke="#5dd"/>
<path d="M486 162.5v2.9" stroke="#4aa"/>
<path d="M488 160.9v2.6" stroke="#6eb"/>
<path d="M490 159.2v3.5" stroke="#5c8"/>
<path d="M492 160.6v2.9" stroke="#4a8"/>
<path d="M494 162.7v3.1" stroke="#5cc"/>
<path d="M496 162.2v3.6" stroke="#4bb"/>
<path d="M498 158.1v2.9" stroke="#7f8"/>
<path d="M500 153.5v3.3" stroke="#8d3"/>
<path d="M502 151.4v3.9" stroke="#7a2"/>
<path d="M504 156v2.5" stroke="#593"/>
<path d="M506 161.5v2.9" stroke="#5db"/>
<path d="M508 159.3v3.3" stroke="#6d8"/>
<path d="M510 156.6v3.3" stroke="#7e6"/>
<path d="M512 153.8v3.7" stroke="#8e4"/>
<path d="M514 153.6v3.5" stroke="#693"/>
<path d="M516 155.1v3.2" stroke="#8e4"/>
<path d="M518 148.7v2.8" stroke="#b91"/>
<path d="M520 151v2.4" stroke="#671"/>
<path d="M522 158.7v2.5" stroke="#6c6"/>
<path d="M524 156.9v3.3" stroke="#7e6"/>
<path d="M526 154.9v3.2" stroke="#6b3"/>
<path d="M528 155.3v2.9" stroke="#7c4"/>
<path d="M530 158.6v3.3" stroke="#5b6"/>
<path d="M532 160.3v3.4" stroke="#5b8"/>
<path d="M534 160.6v4" stroke="#5ca"/>
<path d="M536 159.7v1.6" stroke="#7e8"/>
<path d="M538 158.6v.8" stroke="#7f6"/>
<path d="M540 158.4v2.5" stroke="#5a5"/>
<path d="M542 159.6v3" stroke="#5c8"/>
<path d="M544 161.9v2.7" stroke="#4a8"/>
<path d="M546 162.8v2.4" stroke="#4bbcc8"/>
<path d="M548 163.6v2.7" stroke="#3d95af"/>
<path d="M488 163.1v2.6" stroke="#5dd"/>
<path d="M490 162.3v3.5" stroke="#4bb"/>
<path d="M492 163.1v2.9" stroke="#399"/>
<path d="M498 160.5v2.9" stroke="#6fb"/>
<path d="M500 156.4v3.3" stroke="#7e5"/>
<path d="M502 154.9v3.9" stroke="#6c3"/>
<path d="M504 158.1v2.5" stroke="#494"/>
<path d="M508 162.1v3.3" stroke="#5cb"/>
<path d="M510 159.5v3.3" stroke="#6e9"/>
<path d="M512 157.1v3.7" stroke="#7f6"/>
<path d="M514 156.7v3.5" stroke="#5a4"/>
<path d="M516 157.9v3.2" stroke="#7f6"/>
<path d="M518 151.1v2.8" stroke="#ac2"/>
<path d="M520 153v2.4" stroke="#582"/>
<path d="M524 159.8v3.3" stroke="#6e9"/>
<path d="M526 157.7v3.2" stroke="#6c5"/>
<path d="M528 157.7v2.9" stroke="#6d5"/>
<path d="M540 160.6v2.5" stroke="#4a7"/>
<path d="M542 162.2v3" stroke="#4ba"/>
<path d="M498 163v2.9" stroke="#5ee"/>
<path d="M500 159.3v3.3" stroke="#6e8"/>
<path d="M502 158.3v3.9" stroke="#5c6"/>
<path d="M504 160.2v2.5" stroke="#496"/>
<path d="M510 162.3v3.3" stroke="#5dc"/>
<path d="M512 160.4v3.7" stroke="#6ea"/>
<path d="M514 159.7v3.5" stroke="#5a6"/>
<path d="M518 153.6v2.8" stroke="#9e3"/>
<path d="M520 155v2.4" stroke="#582"/>
<path d="M526 160.5v3.2" stroke="#5b8"/>
<path d="M528 160.2v2.9" stroke="#5c8"/>
<path d="M500 162.2v3.3" stroke="#5cb"/>
<path d="M502 161.8v3.9" stroke="#4ba"/>
<path d="M504 162.3v2.5" stroke="#387"/>
<path d="M518 156v2.8" stroke="#8f5"/>
<path d="M520 157v2.4" stroke="#593"/>
<path d="M518 158.4v2.8" stroke="#8f7"/>
<path d="M520 159.1v2.4" stroke="#494"/>
<path d="M482 165.7v3.3" stroke="#498de1"/>
<path d="M484 164.9v2.2" stroke="#4bacd6"/>
<path d="M486 165v2.2" stroke="#46a0ca"/>
<path d="M488 165.3v3.6" stroke="#4897dc"/>
<path d="M490 165.4v3.5" stroke="#4793d8"/>
<path d="M492 165.6v3.3" stroke="#478ae0"/>
<path d="M494 165.4v3.5" stroke="#4890dd"/>
<path d="M496 165.4v3.4" stroke="#468edb"/>
<path d="M498 165.4v3.5" stroke="#478fdd"/>
<path d="M500 165.1v3.8" stroke="#4797d9"/>
<path d="M502 165.2v3.7" stroke="#4693d6"/>
<path d="M504 164.5v2.5" stroke="#5cc"/>
<path d="M506 164v2.7" stroke="#4ba"/>
<path d="M508 165v3.3" stroke="#48a1d6"/>
<path d="M510 165.2v2.6" stroke="#479fd2"/>
<path d="M512 163.7v2.4" stroke="#5dc"/>
<path d="M514 162.8v1.8" stroke="#6eb"/>
<path d="M516 160.7v2" stroke="#6d7"/>
<path d="M518 160.9v2.3" stroke="#5b7"/>
<path d="M520 161.1v2.2" stroke="#6e9"/>
<path d="M522 160.9v2.7" stroke="#5a6"/>
<path d="M524 162.7v2" stroke="#6eb"/>
<path d="M526 163.4v1.7" stroke="#5b8"/>
<path d="M528 162.6v2.2" stroke="#5da"/>
<path d="M530 161.5v3.5" stroke="#5b8"/>
<path d="M532 163.2v2.9" stroke="#4a9"/>
<path d="M534 164.3v3.7" stroke="#4bb6d0"/>
<path d="M536 160.9v2.6" stroke="#7f9"/>
<path d="M538 158.9v3.4" stroke="#6c5"/>
<path d="M540 162.7v2.9" stroke="#498"/>
<path d="M542 164.9v3.5" stroke="#47a2d3"/>
<path d="M544 164.2v2.4" stroke="#49b7c5"/>
<path d="M546 164.9v2.2" stroke="#42a1b8"/>
<path d="M484 166.7v2.2" stroke="#4994e0"/>
<path d="M486 166.8v2.2" stroke="#478ed9"/>
<path d="M504 166.5v2.5" stroke="#4aa5df"/>
<path d="M506 166.3v2.7" stroke="#4495cd"/>
<path d="M512 165.7v2.4" stroke="#51cbd6"/>
<path d="M514 164.2v1.8" stroke="#6eb"/>
<path d="M516 162.3v2" stroke="#6d8"/>
<path d="M518 162.8v2.3" stroke="#5b8"/>
<path d="M520 162.9v2.2" stroke="#6ea"/>
<path d="M522 163.1v2.7" stroke="#4a8"/>
<path d="M524 164.3v2" stroke="#6eb"/>
<path d="M528 164.5v2.2" stroke="#5db"/>
<path d="M530 164.7v3.5" stroke="#4aa"/>
<path d="M532 165.7v2.9" stroke="#41a1b5"/>
<path d="M536 163.2v2.6" stroke="#6eb"/>
<path d="M538 161.9v3.4" stroke="#5b7"/>
<path d="M540 165.2v2.9" stroke="#399"/>
<path d="M544 166.2v2.4" stroke="#4497d3"/>
<path d="M546 166.7v2.2" stroke="#408bcb"/>
<path d="M516 164v2" stroke="#5c9"/>
<path d="M518 164.7v2.3" stroke="#4a9"/>
<path d="M520 164.7v2.2" stroke="#5db"/>
<path d="M522 165.4v2.7" stroke="#499"/>
<path d="M536 165.4v2.6" stroke="#5dd"/>
<path d="M538 164.9v3.4" stroke="#4aa"/>
<path d="M508 167.9v3.7" stroke="#49a1dc"/>
<path d="M510 167.5v4.1" stroke="#469ad2"/>
<path d="M512 167.7v3.8" stroke="#4692d9"/>
<path d="M514 165.6v3.1" stroke="#5ec"/>
<path d="M516 165.6v3" stroke="#4a9"/>
<path d="M518 166.6v2.5" stroke="#5dc"/>
<path d="M520 166.5v2.6" stroke="#4aa"/>
<path d="M522 167.7v3.5" stroke="#4693d9"/>
<path d="M524 165.9v2.9" stroke="#5dc"/>
<path d="M526 164.6v3.6" stroke="#5b9"/>
<path d="M528 166.3v2.8" stroke="#4aa"/>
<path d="M530 167.8v3.8" stroke="#4494d0"/>
<path d="M532 168.2v3.3" stroke="#4381dc"/>
<path d="M534 167.6v2.2" stroke="#49a8d5"/>
<path d="M536 167.6v2.2" stroke="#439bc7"/>
<path d="M538 167.9v3.7" stroke="#4597d8"/>
<path d="M540 167.7v3.9" stroke="#4391d2"/>
<path d="M542 168v3.6" stroke="#4285d9"/>
<path d="M544 168.2v3.4" stroke="#4284d8"/>
<path d="M514 168.3v3.1" stroke="#5dd"/>
<path d="M516 168.2v3" stroke="#49a"/>
<path d="M518 168.6v2.5" stroke="#4db7da"/>
<path d="M520 168.7v2.6" stroke="#4198bc"/>
<path d="M524 168.3v2.9" stroke="#52d1dc"/>
<path d="M526 167.9v3.6" stroke="#43aab2"/>
<path d="M528 168.7v2.8" stroke="#4296c3"/>
<path d="M534 169.4v2.2" stroke="#458edc"/>
<path d="M536 169.4v2.2" stroke="#4287d4"/>
<path d="M516 170.9v3.3" stroke="#4586de"/>
<path d="M518 170.7v3.5" stroke="#4486dd"/>
<path d="M520 170.9v3.3" stroke="#4484dc"/>
<path d="M522 170.8v3.4" stroke="#458bdd"/>
<path d="M524 170.8v3.4" stroke="#4488d9"/>
</g></g>
<line x1="384.5" y1="175.5" x2="457.6" y2="231.3" stroke="#c8c8c8" stroke-width="0.8"/>
<line x1="562.6" y1="231.3" x2="644.3" y2="148.7" stroke="#c8c8c8" stroke-width="0.8"/>
<text x="400.6" y="223.0" font-size="8.6" font-weight="bold" fill="#f0f0f0" textLength="25.2" lengthAdjust="spacingAndGlyphs">28.3 um</text>
<text x="619.0" y="202.3" font-size="8.6" font-weight="bold" fill="#f0f0f0" textLength="13.8" lengthAdjust="spacingAndGlyphs">31.5</text>
<text x="389.0" y="21.9" font-size="20.5" fill="#fff">B</text>
<rect x="656.6" y="10.1" width="11.9" height="220.3" fill="url(#cbg)" stroke="#777" stroke-width="0.6"/>
<text x="657.0" y="7.0" font-size="5.2" font-weight="bold" fill="#333">um</text>
<line x1="669.1" y1="10.1" x2="671.5" y2="10.1" stroke="#666" stroke-width="0.9"/>
<text x="684.8" y="13.2" font-size="5.5" font-weight="bold" fill="#333" text-anchor="end">17.8</text>
<line x1="669.1" y1="32.9" x2="671.5" y2="32.9" stroke="#666" stroke-width="0.9"/>
<text x="684.8" y="36.0" font-size="5.5" font-weight="bold" fill="#333" text-anchor="end">15.0</text>
<line x1="669.1" y1="73.7" x2="671.5" y2="73.7" stroke="#666" stroke-width="0.9"/>
<text x="684.8" y="76.8" font-size="5.5" font-weight="bold" fill="#333" text-anchor="end">10.0</text>
<line x1="669.1" y1="114.5" x2="671.5" y2="114.5" stroke="#666" stroke-width="0.9"/>
<text x="684.8" y="117.6" font-size="5.5" font-weight="bold" fill="#333" text-anchor="end">5.0</text>
<line x1="669.1" y1="155.3" x2="671.5" y2="155.3" stroke="#666" stroke-width="0.9"/>
<text x="684.8" y="158.4" font-size="5.5" font-weight="bold" fill="#333" text-anchor="end">0.0</text>
<line x1="669.1" y1="196.1" x2="671.5" y2="196.1" stroke="#666" stroke-width="0.9"/>
<text x="684.8" y="199.2" font-size="5.5" font-weight="bold" fill="#333" text-anchor="end">-5.0</text>
<line x1="669.1" y1="230.4" x2="671.5" y2="230.4" stroke="#666" stroke-width="0.9"/>
<text x="684.8" y="233.5" font-size="5.5" font-weight="bold" fill="#333" text-anchor="end">-9.2</text>
<linearGradient id="pgC" gradientUnits="userSpaceOnUse" x1="45" y1="430" x2="309" y2="330"><stop offset="0" stop-color="#6eb6ec"/><stop offset="1" stop-color="#3b7cae"/></linearGradient>
<rect x="45.0" y="249.8" width="264.2" height="229.5" fill="#000"/>
<line x1="45.0" y1="250.2" x2="309.2" y2="250.2" stroke="#555" stroke-width="0.8"/>
<polygon points="45.0,367.6 182.7,277.2 309.2,330.5 309.2,373.5 198.4,479.3 126.7,479.3 45.0,427.6" fill="url(#pgC)"/>
<clipPath id="cC"><rect x="45.0" y="249.8" width="264.2" height="229.5"/></clipPath>
<g clip-path="url(#cC)"><g stroke-width="2.35" fill="none">
<path d="M177 278.2v2.5" stroke="#4d9ac6"/>
<path d="M179 278.2v2.4" stroke="#4c99c4"/>
<path d="M181 278.2v2.5" stroke="#4d99c5"/>
<path d="M183 278.1v2.5" stroke="#4c98c4"/>
<path d="M185 278.2v2.5" stroke="#4c97c4"/>
<path d="M187 278.2v2.3" stroke="#4c99c4"/>
<path d="M189 278.2v2.4" stroke="#4b98c3"/>
<path d="M175 280.6v2.3" stroke="#4e9ec7"/>
<path d="M177 280.3v2.4" stroke="#4d9ec6"/>
<path d="M179 280.2v2" stroke="#4eb0c6"/>
<path d="M181 280.2v1.9" stroke="#4cacc1"/>
<path d="M183 280.2v2.2" stroke="#4ca3c3"/>
<path d="M185 280.3v2.5" stroke="#4ba0c2"/>
<path d="M187 280.1v3.1" stroke="#4c9ac4"/>
<path d="M189 280.2v2.4" stroke="#4ca2c3"/>
<path d="M191 280.5v2.2" stroke="#4a9ec1"/>
<path d="M169 283v2.3" stroke="#50a5ca"/>
<path d="M171 283v2.2" stroke="#4da0c5"/>
<path d="M175 282.5v2.6" stroke="#54b3ce"/>
<path d="M177 282.3v2.1" stroke="#4daac2"/>
<path d="M179 281.9v2.7" stroke="#4fb2c2"/>
<path d="M181 281.8v3.3" stroke="#4aa8bb"/>
<path d="M183 282v3.3" stroke="#4da5c4"/>
<path d="M185 282.4v2.6" stroke="#4ba1c1"/>
<path d="M187 282.8v2.1" stroke="#4da3c4"/>
<path d="M189 282.3v2.2" stroke="#51b6c8"/>
<path d="M191 282.4v1.7" stroke="#4cb3bc"/>
<path d="M193 282.8v1.6" stroke="#4aafbe"/>
<path d="M195 282.8v2" stroke="#4ba0c2"/>
<path d="M197 282.9v1.4" stroke="#4fb6c7"/>
<path d="M199 283v1.7" stroke="#48a9bd"/>
<path d="M201 283v2" stroke="#4da8c7"/>
<path d="M203 283v2.2" stroke="#489fbf"/>
<path d="M167 285.4v2.5" stroke="#4f9cc8"/>
<path d="M169 284.9v2.4" stroke="#54afce"/>
<path d="M171 284.8v1.9" stroke="#4db3c1"/>
<path d="M173 285.2v1.5" stroke="#4cafc0"/>
<path d="M175 284.6v1.9" stroke="#5fd0d5"/>
<path d="M177 284v2.9" stroke="#4bb0b4"/>
<path d="M179 284.2v3.5" stroke="#4ca7c1"/>
<path d="M181 284.7v2.5" stroke="#4dabc3"/>
<path d="M183 284.9v2.2" stroke="#4ca9c1"/>
<path d="M185 284.6v2.4" stroke="#50b4c7"/>
<path d="M187 284.4v2.4" stroke="#4cacbd"/>
<path d="M189 284.1v3.2" stroke="#4dafc0"/>
<path d="M191 283.6v2.9" stroke="#61dac8"/>
<path d="M193 283.9v2.4" stroke="#4bb5a8"/>
<path d="M195 284.4v2.7" stroke="#4ba4c0"/>
<path d="M197 284v2.2" stroke="#7fd"/>
<path d="M199 284.3v1.9" stroke="#4b9"/>
<path d="M201 284.6v2.5" stroke="#4daac3"/>
<path d="M203 284.8v1.9" stroke="#4bb3bc"/>
<path d="M205 285.4v1.5" stroke="#48abbc"/>
<path d="M207 285.4v2.3" stroke="#4996c0"/>
<path d="M209 285.4v2.6" stroke="#4993c0"/>
<path d="M163 287.8v2.1" stroke="#54b3d0"/>
<path d="M165 287.8v1.5" stroke="#4daac5"/>
<path d="M167 287.5v2" stroke="#4fa8c7"/>
<path d="M169 286.9v2.7" stroke="#4faac6"/>
<path d="M171 286.3v3.2" stroke="#51b9c2"/>
<path d="M173 286.3v3.5" stroke="#4bacb9"/>
<path d="M175 286.2v3.9" stroke="#50bdc5"/>
<path d="M177 286.5v3.4" stroke="#49adb8"/>
<path d="M179 287.3v1.3" stroke="#7fe"/>
<path d="M181 286.8v.5" stroke="#5da"/>
<path d="M183 286.6v1.5" stroke="#5ba"/>
<path d="M185 286.6v1.8" stroke="#5ed8c4"/>
<path d="M187 286.5v2.5" stroke="#49b4aa"/>
<path d="M189 286.9v2.3" stroke="#55c6c9"/>
<path d="M191 286.1v2.3" stroke="#5ed6c0"/>
<path d="M193 286v2.7" stroke="#4db9a7"/>
<path d="M195 286.7v.9" stroke="#7fd"/>
<path d="M197 285.8v1.6" stroke="#5c9"/>
<path d="M199 285.8v2.6" stroke="#5b9"/>
<path d="M201 286.6v1.2" stroke="#5db"/>
<path d="M203 286.2v.8" stroke="#6eb"/>
<path d="M205 286.5v1.7" stroke="#4a9"/>
<path d="M207 287.3v2.7" stroke="#499cbe"/>
<path d="M209 287.6v2.7" stroke="#4993bf"/>
<path d="M211 287.8v2.2" stroke="#4a9bc2"/>
<path d="M213 287.8v1.6" stroke="#4dafc6"/>
<path d="M215 287.8v2" stroke="#47a2bc"/>
<path d="M159 290.2v2.6" stroke="#519bca"/>
<path d="M161 290.2v2" stroke="#50a9cb"/>
<path d="M163 289.5v2.6" stroke="#51b1ca"/>
<path d="M165 288.9v3.1" stroke="#4faec2"/>
<path d="M167 289.1v2.9" stroke="#4da7c1"/>
<path d="M169 289.2v3.1" stroke="#4ea3c4"/>
<path d="M171 289.1v3.5" stroke="#4da7c4"/>
<path d="M173 289.4v3.2" stroke="#4ca4c2"/>
<path d="M175 289.7v1.4" stroke="#7fe"/>
<path d="M177 289.6v.5" stroke="#5ca"/>
<path d="M179 288.1v1.6" stroke="#6eb"/>
<path d="M181 286.9v2.7" stroke="#5c9"/>
<path d="M183 287.7v2.2" stroke="#5ca"/>
<path d="M185 288v3.1" stroke="#59d0b6"/>
<path d="M187 288.6v2.4" stroke="#4dbaa7"/>
<path d="M189 288.7v2" stroke="#60d5c5"/>
<path d="M191 288v1.1" stroke="#8fc"/>
<path d="M195 287.2v1.8" stroke="#6da"/>
<path d="M197 287v2.4" stroke="#5b8"/>
<path d="M199 288v2.3" stroke="#4eb7ad"/>
<path d="M201 287.5v2.8" stroke="#5ca"/>
<path d="M203 286.6v3" stroke="#6da"/>
<path d="M205 287.8v2.1" stroke="#5b9"/>
<path d="M207 289.6v2.2" stroke="#48a7ba"/>
<path d="M209 289.9v2.3" stroke="#499cc0"/>
<path d="M211 289.6v2.9" stroke="#499ac0"/>
<path d="M213 289v1.8" stroke="#aff"/>
<path d="M219 290.2v1.3" stroke="#4aa"/>
<path d="M179 289.4v1.6" stroke="#61d9c3"/>
<path d="M181 289.2v2.7" stroke="#4cb8ac"/>
<path d="M183 289.6v2.2" stroke="#4eb3b7"/>
<path d="M195 288.6v1.8" stroke="#6da"/>
<path d="M197 289v2.4" stroke="#4b9"/>
<path d="M199 289.9v2.3" stroke="#4aabb8"/>
<path d="M201 289.9v2.8" stroke="#4cb0c1"/>
<path d="M203 289.3v3" stroke="#53c9bf"/>
<path d="M205 289.5v2.1" stroke="#4ab3a6"/>
<path d="M155 292.6v2.2" stroke="#53adcf"/>
<path d="M157 292.6v2" stroke="#4ea5c6"/>
<path d="M159 292.4v2" stroke="#55b6d1"/>
<path d="M161 291.8v2.6" stroke="#4eacc3"/>
<path d="M163 291.7v3.3" stroke="#4ea5c4"/>
<path d="M165 291.6v2.2" stroke="#70f0e5"/>
<path d="M167 291.6v2.3" stroke="#46b0aa"/>
<path d="M169 292v3.2M171 292.2v2.8" stroke="#4e9dc7"/>
<path d="M173 292.2v2.8" stroke="#4e9cc6"/>
<path d="M175 290.7v2.4" stroke="#7fd"/>
<path d="M177 289.7v2.4" stroke="#5ca"/>
<path d="M179 290.6v3.1" stroke="#4db8aa"/>
<path d="M181 291.5v3.2" stroke="#4aa4bc"/>
<path d="M183 291.4v3.3" stroke="#55bcce"/>
<path d="M185 290.7v1.9" stroke="#8fd"/>
<path d="M187 290.5v1.2M189 290.4v2.1" stroke="#5c9"/>
<path d="M191 288.8v3.3" stroke="#9fc"/>
<path d="M193 288.3v4.3" stroke="#5b7"/>
<path d="M195 290v2.4" stroke="#5b9"/>
<path d="M197 291v1.7" stroke="#56c2c3"/>
<path d="M199 291.7v.8" stroke="#5ca"/>
<path d="M213 290.4v1" stroke="#5c9"/>
<path d="M215 288.8v2.9" stroke="#5c8"/>
<path d="M217 289.5v1.2" stroke="#bff"/>
<path d="M225 292.6v1.2" stroke="#4aa"/>
<path d="M175 292.6v2.4" stroke="#65d4e3"/>
<path d="M177 291.7v2.4" stroke="#50bdb7"/>
<path d="M195 292v2.4" stroke="#47aea9"/>
<path d="M197 292.3v1.7" stroke="#59d1c5"/>
<path d="M213 291v1" stroke="#5d9"/>
<path d="M215 291.3v2.9" stroke="#4dbda8"/>
<path d="M217 290.3v1.2" stroke="#bfe"/>
<path d="M151 295v2.3" stroke="#52a7cd"/>
<path d="M153 295v1.5" stroke="#51b2cb"/>
<path d="M155 294.4v1.7" stroke="#56bccc"/>
<path d="M157 294.2v.9" stroke="#5db"/>
<path d="M159 294.1v1.2" stroke="#5ca"/>
<path d="M161 294v2.6" stroke="#4ca8bd"/>
<path d="M163 294.5v1.6" stroke="#5dd7d6"/>
<path d="M165 293.4v2.1" stroke="#61dec2"/>
<path d="M167 293.5v1.7" stroke="#5ca"/>
<path d="M169 294.8v1.1" stroke="#4ba"/>
<path d="M171 294.6v2.7" stroke="#4f9ec7"/>
<path d="M173 294.6v2.7" stroke="#4e9cc5"/>
<path d="M175 294.6v2.6" stroke="#4fa1c8"/>
<path d="M177 293.7v2.7" stroke="#60ced5"/>
<path d="M179 293.4v3" stroke="#4cafb3"/>
<path d="M181 294.3v3" stroke="#4aa1be"/>
<path d="M183 294.3v3.2" stroke="#50aaca"/>
<path d="M185 292.2v2.7" stroke="#7fc"/>
<path d="M187 291.3v3.1" stroke="#5c8"/>
<path d="M189 292v2.7" stroke="#5c9"/>
<path d="M191 291.7v2.3" stroke="#8fb"/>
<path d="M193 292.2v3.1" stroke="#5b8"/>
<path d="M195 294v1.3" stroke="#5ca"/>
<path d="M197 293.5v1.9" stroke="#5cb"/>
<path d="M199 292.1v2.4" stroke="#5c9"/>
<path d="M201 291.4v2.8" stroke="#5d9"/>
<path d="M203 291.1v2.3" stroke="#7ea"/>
<path d="M205 289.5v2.9" stroke="#7e7"/>
<path d="M207 289.6v2.6" stroke="#6c6"/>
<path d="M209 291.2v2.2" stroke="#5b7"/>
<path d="M211 290v2.5" stroke="#dfe"/>
<path d="M213 291.6v1.9" stroke="#5a6"/>
<path d="M215 293.8v1.3" stroke="#5ca"/>
<path d="M217 291.1v2.1" stroke="#7fa"/>
<path d="M219 290.1v2M221 291.9v.5" stroke="#6e8"/>
<path d="M223 292v1.3" stroke="#5b8"/>
<path d="M225 293.4v.6" stroke="#6db"/>
<path d="M231 295v1.8" stroke="#46a6b9"/>
<path d="M185 294.5v2.7" stroke="#6ae5e4"/>
<path d="M187 294v3.1" stroke="#4ab5ae"/>
<path d="M189 294.3v2.7" stroke="#4cb1ba"/>
<path d="M191 293.5v2.3" stroke="#7fc"/>
<path d="M199 294.1v2.4" stroke="#4fb9b5"/>
<path d="M201 293.8v2.8" stroke="#52c7b4"/>
<path d="M203 293v2.3" stroke="#6eb"/>
<path d="M205 292v2.9" stroke="#6e9"/>
<path d="M207 291.8v2.6" stroke="#6c8"/>
<path d="M209 292.9v2.2" stroke="#5b8"/>
<path d="M211 292.2v2.5" stroke="#cff"/>
<path d="M217 292.8v2.1" stroke="#7fb"/>
<path d="M219 291.7v2" stroke="#6e9"/>
<path d="M223 292.9v1.3" stroke="#5b7"/>
<path d="M225 293.6v.6" stroke="#6ea"/>
<path d="M217 294.5v2.1" stroke="#63d8cf"/>
<path d="M219 293.3v2" stroke="#6da"/>
<path d="M149 297.4v2.3" stroke="#52a6cd"/>
<path d="M151 296.9v1.3" stroke="#7fe"/>
<path d="M153 296.1v1.2" stroke="#5ca"/>
<path d="M155 295.7v2.8" stroke="#4cbaab"/>
<path d="M157 294.7v3.8" stroke="#8fd"/>
<path d="M159 294.8v3.9" stroke="#4a9"/>
<path d="M161 296.2v3.3" stroke="#4eadc4"/>
<path d="M163 295.7v3.2" stroke="#62dcd1"/>
<path d="M165 295.1v3.9" stroke="#4dbaab"/>
<path d="M167 294.8v3.6" stroke="#7fd"/>
<path d="M169 295.5v2.5" stroke="#4b9"/>
<path d="M171 296.9v2.2" stroke="#4caac1"/>
<path d="M173 296.9v2.9" stroke="#4e9dc5"/>
<path d="M175 296.8v3" stroke="#4fa1c8"/>
<path d="M177 296v2.9" stroke="#5bc8cf"/>
<path d="M179 295.9v2.8" stroke="#4caeb5"/>
<path d="M181 296.8v2.3" stroke="#4ca2c2"/>
<path d="M183 297.1v2.5" stroke="#4c9fc3"/>
<path d="M185 296.8v3.3" stroke="#4d9dc5"/>
<path d="M187 296.7v3.3" stroke="#4c9dc4"/>
<path d="M189 296.6v2.9" stroke="#4ea3c6"/>
<path d="M191 295.4v3.3" stroke="#7fd"/>
<path d="M193 294.9v3.4" stroke="#5c9"/>
<path d="M195 294.8v2.3" stroke="#5ca"/>
<path d="M197 295v2.4" stroke="#5ba"/>
<path d="M199 296.1v3.2" stroke="#4ba9bd"/>
<path d="M201 296.2v2.5" stroke="#54c1c6"/>
<path d="M203 294.9v3.1" stroke="#7fc"/>
<path d="M205 294.4v3.6" stroke="#5b9"/>
<path d="M207 294v3.2" stroke="#afe"/>
<path d="M209 294.7v2.7" stroke="#4a7"/>
<path d="M211 294.3v2.1" stroke="#bff"/>
<path d="M213 293.1v2.2" stroke="#6c7"/>
<path d="M215 294.7v2.7" stroke="#5b8"/>
<path d="M221 292.1v3.3" stroke="#6d7"/>
<path d="M223 293.8v1.1" stroke="#6c7"/>
<path d="M225 293.8v.6" stroke="#afb"/>
<path d="M227 292.9v3" stroke="#5b6"/>
<path d="M229 294.8v1" stroke="#7ea"/>
<path d="M231 296.4v.7" stroke="#4a8"/>
<path d="M233 297.4v1.7" stroke="#4cacc6"/>
<path d="M235 297.4v1.3" stroke="#48a7be"/>
<path d="M237 297.4v2.1" stroke="#469dbb"/>
<path d="M195 296.8v2.3" stroke="#4db1b9"/>
<path d="M197 297.1v2.4" stroke="#49aab9"/>
<path d="M211 296v2.1" stroke="#bff"/>
<path d="M213 294.8v2.2" stroke="#5c8"/>
<path d="M145 299.8v2.4" stroke="#53a3cd"/>
<path d="M147 299.8v1.3" stroke="#5ccfd8"/>
<path d="M149 299.3v.9" stroke="#56c8c5"/>
<path d="M151 297.8v2" stroke="#8fd"/>
<path d="M153 296.9v2.7" stroke="#5c9"/>
<path d="M155 298.1v2.5" stroke="#4bb4a2"/>
<path d="M157 298.2v2.6" stroke="#66dfd1"/>
<path d="M159 298.4v1" stroke="#5ca"/>
<path d="M161 299.1v.7" stroke="#4ba"/>
<path d="M163 298.5v2.7" stroke="#52b3c4"/>
<path d="M165 298.6v3" stroke="#4ca8bd"/>
<path d="M167 298v2.2" stroke="#5dd9cc"/>
<path d="M169 297.6v2.1" stroke="#51c4ae"/>
<path d="M171 298.6v2.6" stroke="#4caabc"/>
<path d="M173 299.4v2" stroke="#4da7c4"/>
<path d="M175 299.4v2.2" stroke="#4ea9c5"/>
<path d="M177 298.5v3.3" stroke="#4fb3c5"/>
<path d="M179 298.4v3.6" stroke="#4bacbe"/>
<path d="M181 298.7v3.2" stroke="#4da4c3"/>
<path d="M183 299.2v2.8" stroke="#4c9fc2"/>
<path d="M185 299.7v2.5" stroke="#4d98c5"/>
<path d="M187 299.6v2.8" stroke="#4d97c5"/>
<path d="M189 299.1v3.1" stroke="#4da1c5"/>
<path d="M191 298.3v3.8" stroke="#4fb7c5"/>
<path d="M193 297.9v4.2" stroke="#4bb1bc"/>
<path d="M195 298.7v3.6" stroke="#49a7bb"/>
<path d="M197 299.1v3.1" stroke="#4c9fc4"/>
<path d="M199 298.9v3.3" stroke="#4b9dc2"/>
<path d="M201 298.3v3.2" stroke="#5fcfd4"/>
<path d="M203 297.6v2.1" stroke="#4eb8ac"/>
<path d="M205 297.6v2.2" stroke="#50bdb3"/>
<path d="M207 296.8v2.6" stroke="#6da"/>
<path d="M209 297v2.5" stroke="#5b9"/>
<path d="M211 297.7v3.4" stroke="#57cdbe"/>
<path d="M213 296.6v2.5M215 296.9v2.4" stroke="#5c9"/>
<path d="M217 295.8v2.6" stroke="#afd"/>
<path d="M219 294.2v3" stroke="#6d6"/>
<path d="M221 295v2.3M223 294.4v3" stroke="#6d7"/>
<path d="M225 294v3.8" stroke="#6c6"/>
<path d="M227 295.6v2.8" stroke="#5c8"/>
<path d="M229 295.5v2.9" stroke="#6d9"/>
<path d="M231 296.7v2.6" stroke="#4a8"/>
<path d="M233 298.7v2.6" stroke="#51b5c6"/>
<path d="M235 298.3v3.3" stroke="#47a5b5"/>
<path d="M237 299.1v3.2" stroke="#459cb9"/>
<path d="M167 299.8v2.2" stroke="#56bcd0"/>
<path d="M169 299.3v2.1" stroke="#4eb0bd"/>
<path d="M203 299.3v2.1" stroke="#4bafb6"/>
<path d="M205 299.4v2.2" stroke="#4cacbd"/>
<path d="M207 299v2.6" stroke="#54c6c0"/>
<path d="M209 299.1v2.5" stroke="#49b0ad"/>
<path d="M213 298.7v2.5" stroke="#50c0b4"/>
<path d="M215 298.9v2.4" stroke="#4bb5ac"/>
<path d="M217 298v2.6" stroke="#aff"/>
<path d="M219 296.8v3" stroke="#5c8"/>
<path d="M221 296.9v2.3" stroke="#6d8"/>
<path d="M223 297.1v3" stroke="#5c8"/>
<path d="M225 297.4v3.8" stroke="#5c9"/>
<path d="M227 298v2.8" stroke="#5b9"/>
<path d="M229 298v2.9" stroke="#5da"/>
<path d="M231 298.9v2.6" stroke="#4a9"/>
<path d="M141 302.2v2.6" stroke="#549fce"/>
<path d="M143 302.2v1.7" stroke="#56bad2"/>
<path d="M145 301.8v2.1" stroke="#4eaec4"/>
<path d="M147 300.6v2.3" stroke="#54c6c7"/>
<path d="M149 299.8v2.2" stroke="#5ed2c0"/>
<path d="M151 299.3v2.5" stroke="#8fc"/>
<path d="M153 299.2v3" stroke="#5b8"/>
<path d="M155 300.1v3.9" stroke="#4ab4ab"/>
<path d="M157 300.4v3.8" stroke="#53bfc6"/>
<path d="M159 299v4" stroke="#9fd"/>
<path d="M161 299.4v3.2" stroke="#4b8"/>
<path d="M163 300.8v2.8" stroke="#4fb0c0"/>
<path d="M165 301.2v2.6" stroke="#4dabc0"/>
<path d="M167 301.6v2" stroke="#4fadc6"/>
<path d="M169 301.1v3.2" stroke="#4dacc2"/>
<path d="M171 300.9v4.1" stroke="#4ca9c2"/>
<path d="M173 301v3.8" stroke="#4ea9c6"/>
<path d="M175 301.1v3.5" stroke="#4da5c2"/>
<path d="M177 301.5v3.3" stroke="#4d9ec5"/>
<path d="M179 301.6v3.3" stroke="#4e9cc6"/>
<path d="M181 301.6v3.3" stroke="#4d9dc6"/>
<path d="M183 301.6v3.3" stroke="#4d9cc5"/>
<path d="M185 301.9v2.9" stroke="#4d98c5"/>
<path d="M189 301.8v3" stroke="#4d97c4"/>
<path d="M191 301.7v3.1" stroke="#4c98c4"/>
<path d="M193 301.7v3" stroke="#4c97c3"/>
<path d="M195 301.8v3" stroke="#4c96c3"/>
<path d="M197 301.9v3" stroke="#4b95c3"/>
<path d="M199 301.8v3.1" stroke="#4b95c2"/>
<path d="M201 301.1v2.1" stroke="#4fb4c8"/>
<path d="M203 301v2.1" stroke="#49a9bc"/>
<path d="M205 301.3v3" stroke="#4fa9c7"/>
<path d="M207 301.2v3" stroke="#49a0bd"/>
<path d="M209 301.2v2.7" stroke="#51b6c9"/>
<path d="M211 300.8v2.4" stroke="#50b8bc"/>
<path d="M213 300.9v2.1" stroke="#4eb7b5"/>
<path d="M215 300.9v2.7" stroke="#4bb2b6"/>
<path d="M217 300.1v2.3" stroke="#9ff"/>
<path d="M219 299.3v.9" stroke="#7f9"/>
<path d="M221 298.8v.7" stroke="#6e8"/>
<path d="M227 300.4v2.5" stroke="#5ba"/>
<path d="M229 300.5v4" stroke="#47adb4"/>
<path d="M231 301.1v2.7" stroke="#53bfc9"/>
<path d="M233 300.9v1.5" stroke="#6ec"/>
<path d="M235 301.1v1" stroke="#5ba"/>
<path d="M237 301.9v.9" stroke="#4bb8b9"/>
<path d="M239 302v1.9" stroke="#46a6b9"/>
<path d="M147 302.5v2.3" stroke="#53adcd"/>
<path d="M149 301.7v2.2" stroke="#5acacb"/>
<path d="M201 302.8v2.1" stroke="#4da0c6"/>
<path d="M203 302.7v2.1" stroke="#4a9bc0"/>
<path d="M141 304.4v2" stroke="#53a8cc"/>
<path d="M143 303.5v1.6" stroke="#8ff"/>
<path d="M149 303.5v.8" stroke="#7fd"/>
<path d="M151 301.5v2.7" stroke="#6ea"/>
<path d="M153 301.8v2.6" stroke="#5b8"/>
<path d="M155 303.6v1.8" stroke="#4ab5ad"/>
<path d="M157 303.9v2.2" stroke="#52b1c9"/>
<path d="M159 302.5v2" stroke="#5db"/>
<path d="M161 302.2v2.5" stroke="#4b9"/>
<path d="M163 303.2v4" stroke="#4dabc2"/>
<path d="M165 303.4v3.8" stroke="#4ea8c5"/>
<path d="M167 303.2v3.6" stroke="#4fadc6"/>
<path d="M169 303.9v3.1" stroke="#4ba3bf"/>
<path d="M171 304.5v2.6" stroke="#509ac8"/>
<path d="M173 304.4v2.8" stroke="#4f9ac7"/>
<path d="M175 304.2v3.1" stroke="#4f99c7"/>
<path d="M205 303.8v3.2" stroke="#4da6c6"/>
<path d="M207 303.7v3.3" stroke="#499fbe"/>
<path d="M209 303.5v3.7" stroke="#4eafc7"/>
<path d="M211 302.8v4.2" stroke="#4cb3c0"/>
<path d="M213 302.5v4.2" stroke="#4cb6ba"/>
<path d="M215 303.2v2.8" stroke="#4cb6b9"/>
<path d="M217 302.1v1.9" stroke="#7fc"/>
<path d="M219 299.8v3.2" stroke="#6d8"/>
<path d="M221 299.1v3.5M223 298.6v3.6" stroke="#6d7"/>
<path d="M225 299.7v3" stroke="#5c7"/>
<path d="M227 302.5v2.9" stroke="#4b9"/>
<path d="M229 304.1v1" stroke="#4ebfbb"/>
<path d="M235 301.8v2.4" stroke="#5c9"/>
<path d="M237 302.4v2.7" stroke="#50c0a3"/>
<path d="M239 303.5v2.9" stroke="#43a1ae"/>
<path d="M159 304.1v2" stroke="#56c2c7"/>
<path d="M161 304.3v2.5" stroke="#49abb7"/>
<path d="M217 303.6v1.9" stroke="#73f6d6"/>
<path d="M219 302.6v3.2" stroke="#5ca"/>
<path d="M221 302.2v3.5M223 301.8v3.6" stroke="#5c9"/>
<path d="M225 302.4v3" stroke="#5b8"/>
<path d="M141 306v3.1" stroke="#53a9cb"/>
<path d="M143 304.7v2" stroke="#7fd"/>
<path d="M145 303v3.1" stroke="#5c8"/>
<path d="M147 303.3v3.1M149 303.9v2.8M151 303.7v3" stroke="#5c9"/>
<path d="M153 304v2.7" stroke="#5ca"/>
<path d="M155 305v2.1" stroke="#4cb9aa"/>
<path d="M157 305.7v3.5" stroke="#4fabc4"/>
<path d="M159 305.7v3.7" stroke="#4ea9c4"/>
<path d="M161 306.3v3.3" stroke="#4ea2c6"/>
<path d="M163 306.7v2.8" stroke="#519bca"/>
<path d="M165 306.8v2.5" stroke="#509ec9"/>
<path d="M167 306.5v2.9" stroke="#4fa1c8"/>
<path d="M169 306.5v3" stroke="#4e9fc6"/>
<path d="M171 306.7v2.9" stroke="#509ac8"/>
<path d="M173 306.8v2.9" stroke="#4f99c7"/>
<path d="M205 306.6v3" stroke="#4b96c2"/>
<path d="M207 306.7v3" stroke="#4a95c1"/>
<path d="M211 306.6v3" stroke="#4a99c2"/>
<path d="M213 306.3v3.3" stroke="#4998c0"/>
<path d="M215 305.6v2.1" stroke="#52bfc7"/>
<path d="M217 305.2v1.8" stroke="#54c1be"/>
<path d="M219 305.4v2.3" stroke="#4ebab1"/>
<path d="M221 305.2v2.6" stroke="#55c7ba"/>
<path d="M223 305v2.2" stroke="#56cbad"/>
<path d="M225 305v2.4" stroke="#52c4a8"/>
<path d="M227 305v1.7" stroke="#6eb"/>
<path d="M229 304.7v.8" stroke="#6d9"/>
<path d="M231 301.8v2" stroke="#cfc"/>
<path d="M233 301.2v2.6" stroke="#5b5"/>
<path d="M235 303.8v2.4" stroke="#6d9"/>
<path d="M237 304.6v2.2" stroke="#5b9"/>
<path d="M239 306v2.1" stroke="#47a8b3"/>
<path d="M241 306.8v2" stroke="#46a1bb"/>
<path d="M143 306.4v2" stroke="#72efe2"/>
<path d="M145 305.7v3.1" stroke="#4ebcae"/>
<path d="M147 306v3.1" stroke="#4db6b7"/>
<path d="M149 306.2v2.8" stroke="#4fb5bc"/>
<path d="M151 306.4v3" stroke="#4db0bf"/>
<path d="M153 306.4v2.7" stroke="#4fb5c1"/>
<path d="M155 306.7v2.1" stroke="#4cadba"/>
<path d="M215 307.3v2.1" stroke="#4da8c7"/>
<path d="M217 306.6v1.8" stroke="#54c6c1"/>
<path d="M231 303.3v2" stroke="#cfd"/>
<path d="M233 303.4v2.6" stroke="#5b6"/>
<path d="M141 308.7v3.1" stroke="#53a8cd"/>
<path d="M143 308v3.7" stroke="#51b7c9"/>
<path d="M145 308.4v3.4" stroke="#4caabf"/>
<path d="M147 308.7v2.5" stroke="#5bbfd7"/>
<path d="M153 308.7v2" stroke="#4fb5c5"/>
<path d="M155 308.4v2.9" stroke="#4fa6c5"/>
<path d="M157 308.8v2.9" stroke="#50a2c8"/>
<path d="M159 309v2.9" stroke="#519cc9"/>
<path d="M163 309.2v2.9" stroke="#519cca"/>
<path d="M165 308.9v3.2" stroke="#509ec9"/>
<path d="M167 309v3.1" stroke="#509dc8"/>
<path d="M213 309.2v2.8" stroke="#4a93c1"/>
<path d="M215 309.1v2.8" stroke="#4993c0"/>
<path d="M217 308v3.3" stroke="#66dde0"/>
<path d="M219 307.4v3.6" stroke="#4bb5b0"/>
<path d="M221 307.4v3.3" stroke="#58cbc2"/>
<path d="M223 306.8v2.3" stroke="#4fbda3"/>
<path d="M225 306.9v2.5" stroke="#50c2ac"/>
<path d="M227 306.3v2.8" stroke="#6da"/>
<path d="M229 305.1v1.4" stroke="#fff"/>
<path d="M231 304.9v.5" stroke="#6c5"/>
<path d="M233 305.6v2" stroke="#5b7"/>
<path d="M235 305.8v2.6" stroke="#6ea"/>
<path d="M237 306.5v1.9" stroke="#5c9"/>
<path d="M239 307.7v3" stroke="#48b0ab"/>
<path d="M241 308.5v3.4" stroke="#46a0b9"/>
<path d="M223 308.7v2.3" stroke="#4aafb1"/>
<path d="M225 309.1v2.5" stroke="#49a5bc"/>
<path d="M227 308.6v2.8" stroke="#56cac7"/>
<path d="M229 306.1v1.4" stroke="#fff"/>
<path d="M233 307.1v2" stroke="#5a7"/>
<path d="M235 308v2.6" stroke="#6db"/>
<path d="M237 307.9v1.9" stroke="#5b9"/>
<path d="M141 311.4v2.3" stroke="#54aece"/>
<path d="M143 311.3v2.4" stroke="#51a9c8"/>
<path d="M145 311.4v2.5" stroke="#52a7cb"/>
<path d="M147 310.8v2.5" stroke="#59bdd1"/>
<path d="M149 308.4v2.7" stroke="#7eb"/>
<path d="M151 308.3v2.8" stroke="#5b8"/>
<path d="M153 310.3v2.6" stroke="#51babc"/>
<path d="M155 310.9v2.3" stroke="#4baeba"/>
<path d="M157 311.3v3" stroke="#519eca"/>
<path d="M159 311.5v2.9" stroke="#519dca"/>
<path d="M213 311.5v3" stroke="#4a93c1"/>
<path d="M215 311.4v3.1" stroke="#4993c0"/>
<path d="M217 310.9v3.5" stroke="#4da9c6"/>
<path d="M219 310.6v3.3" stroke="#4aa7c0"/>
<path d="M221 310.3v2.4" stroke="#64ddd0"/>
<path d="M227 311v1.2" stroke="#4a9"/>
<path d="M229 307.2v2.3" stroke="#fff"/>
<path d="M231 305v2.2" stroke="#6d5"/>
<path d="M233 308.7v2.5" stroke="#4a7"/>
<path d="M235 310.2v1.8" stroke="#4bb2b6"/>
<path d="M237 309.4v2" stroke="#64dcc6"/>
<path d="M239 310.3v2.1" stroke="#49b0a5"/>
<path d="M241 311.5v2.1" stroke="#46a2ba"/>
<path d="M149 310.6v2.7" stroke="#6aecd1"/>
<path d="M151 310.6v2.8" stroke="#48b49f"/>
<path d="M229 309v2.3" stroke="#fff"/>
<path d="M231 306.9v2.2" stroke="#6c6"/>
<path d="M235 311.6v1.8" stroke="#49acb9"/>
<path d="M237 311.1v2" stroke="#61d9cd"/>
<path d="M229 310.9v2.3" stroke="#fff"/>
<path d="M231 308.7v2.2" stroke="#6c7"/>
<path d="M141 313.3v3.4" stroke="#53aecd"/>
<path d="M143 313.3v3.1" stroke="#51a9c8"/>
<path d="M145 313.4v3.1" stroke="#52a6ca"/>
<path d="M147 312.9v3.8" stroke="#51b0c9"/>
<path d="M149 312.9v3.2" stroke="#51b1c7"/>
<path d="M151 313v3" stroke="#50abc4"/>
<path d="M153 312.5v2.3" stroke="#4fb8bf"/>
<path d="M155 312.9v2.2" stroke="#4bafbc"/>
<path d="M157 313.9v3" stroke="#519eca"/>
<path d="M217 314v2.5" stroke="#4a96c1"/>
<path d="M219 313.5v2.9" stroke="#4ba3c3"/>
<path d="M221 312.3v2.2" stroke="#55cac0"/>
<path d="M223 310.6v2.5" stroke="#8fc"/>
<path d="M225 309.6v3.1" stroke="#5c7"/>
<path d="M227 311.8v1.4" stroke="#5ca"/>
<path d="M233 310.8v1.3" stroke="#5b6"/>
<path d="M235 313.1v1.9" stroke="#47b3a5"/>
<path d="M237 312.7v3.1" stroke="#5cd3d0"/>
<path d="M239 312.1v3.5" stroke="#4dbcb0"/>
<path d="M241 313.2v2.9" stroke="#459fb4"/>
<path d="M153 314.4v2.3" stroke="#51a6c9"/>
<path d="M155 314.7v2.2" stroke="#4fa2c6"/>
<path d="M221 314.1v2.2" stroke="#4eafc5"/>
<path d="M223 312.7v2.5" stroke="#8fd"/>
<path d="M225 312.2v3.1" stroke="#5b9"/>
<path d="M227 312.8v1.4" stroke="#5c9"/>
<path d="M141 316.2v2.9" stroke="#54a1ce"/>
<path d="M143 315.9v3.3M145 316.1v2.8" stroke="#53a4cc"/>
<path d="M147 316.3v2.1" stroke="#52a7cb"/>
<path d="M149 315.7v2.9" stroke="#52aeca"/>
<path d="M151 315.6v3.4" stroke="#4ea7c4"/>
<path d="M153 316.3v2.9" stroke="#529ecb"/>
<path d="M215 316.4v2.6" stroke="#4a96c2"/>
<path d="M217 316.1v2.5" stroke="#4b9fc2"/>
<path d="M219 316v2.3" stroke="#4a9fc0"/>
<path d="M221 316v2.2" stroke="#4aa3c0"/>
<path d="M223 314.9v1.8" stroke="#aff"/>
<path d="M225 314.9v2" stroke="#4a9"/>
<path d="M227 313.9v3.2" stroke="#dff"/>
<path d="M229 309.1v2.3" stroke="#bf9"/>
<path d="M231 308.2v2.4" stroke="#6c4"/>
<path d="M233 311.7v3.5" stroke="#5b6"/>
<path d="M235 314.5v2.7" stroke="#4bb69d"/>
<path d="M237 315.4v2.2" stroke="#4db3bc"/>
<path d="M239 315.1v2.8" stroke="#4aadb7"/>
<path d="M241 315.7v3.3" stroke="#459eb6"/>
<path d="M229 311v2.3" stroke="#bfb"/>
<path d="M231 310.2v2.4" stroke="#6c4"/>
<path d="M229 313v2.3" stroke="#bfc"/>
<path d="M231 312.1v2.4" stroke="#6c6"/>
<path d="M145 318.5v3.2" stroke="#53a5ce"/>
<path d="M147 318.1v3.6" stroke="#52a6cb"/>
<path d="M149 318.2v3.5" stroke="#51a4c9"/>
<path d="M151 318.6v3" stroke="#52a0cb"/>
<path d="M215 318.6v3" stroke="#4a96c2"/>
<path d="M217 318.2v3" stroke="#4b9fc3"/>
<path d="M219 317.9v2.5" stroke="#50b7c5"/>
<path d="M221 317.8v2.3" stroke="#4cb0ba"/>
<path d="M223 316.3v2.5" stroke="#bff"/>
<path d="M225 316.5v.8" stroke="#5b8"/>
<path d="M227 316.7v1.3" stroke="#5ca"/>
<path d="M229 314.9v3.2" stroke="#5c9"/>
<path d="M231 314.1v3.1" stroke="#8fa"/>
<path d="M233 314.9v2.5" stroke="#5b7"/>
<path d="M235 316.8v2.9" stroke="#50c2ab"/>
<path d="M237 317.3v2.4" stroke="#4fbbb1"/>
<path d="M239 317.6v3.3" stroke="#46a4b2"/>
<path d="M241 318.5v3.1" stroke="#4696bc"/>
<path d="M227 317.6v1.3" stroke="#5ca"/>
<path d="M229 317.7v3.2" stroke="#4cb9af"/>
<path d="M231 316.9v3.1" stroke="#7fc"/>
<path d="M233 316.9v2.5" stroke="#5b8"/>
<path d="M217 321.1v3.5" stroke="#4eabc8"/>
<path d="M219 320.7v3.7" stroke="#49a3be"/>
<path d="M221 320.7v3.9" stroke="#4aa7c0"/>
<path d="M223 319.1v2.8" stroke="#8fd"/>
<path d="M225 318.5v2.8" stroke="#5c8"/>
<path d="M227 320.4v3.3" stroke="#48b6a9"/>
<path d="M229 319.1v3" stroke="#fff"/>
<path d="M231 318.6v1.8" stroke="#5b7"/>
<path d="M233 320.4v.6M235 320v2.6" stroke="#5c9"/>
<path d="M237 320.4v3.7" stroke="#45aaab"/>
<path d="M239 321.1v3.1" stroke="#4ba4c2"/>
<path d="M223 321.5v2.8" stroke="#7afff4"/>
<path d="M225 321v2.8" stroke="#4bbaa4"/>
<path d="M217 324.2v3.1" stroke="#4a95c2"/>
<path d="M219 324.1v2.8" stroke="#4a9ec2"/>
<path d="M221 324.2v2.1" stroke="#4dafc4"/>
<path d="M223 323.8v1.7" stroke="#60dad1"/>
<path d="M225 323.4v.8" stroke="#7fc"/>
<path d="M229 321.7v1.7" stroke="#5c9"/>
<path d="M231 320.1v3.6" stroke="#6c8"/>
<path d="M233 320.6v3" stroke="#6d8"/>
<path d="M235 322.2v2.4" stroke="#5c9"/>
<path d="M237 323.7v1.2" stroke="#4b9"/>
<path d="M239 323.8v2.7" stroke="#49a8be"/>
<path d="M229 323v1.7" stroke="#5c9"/>
<path d="M231 323.2v3.6" stroke="#4dc0a8"/>
<path d="M233 323.2v3" stroke="#53caaa"/>
<path d="M217 326.8v2.9" stroke="#4a95c2"/>
<path d="M219 326.4v3.2" stroke="#4b9fc2"/>
<path d="M221 325.8v3.4" stroke="#4fb4c6"/>
<path d="M223 325.1v3.9" stroke="#52c7b8"/>
<path d="M225 323.7v2.5" stroke="#8fc"/>
<path d="M227 322.8v2.7" stroke="#6d7"/>
<path d="M229 324.4v2.1" stroke="#4a8"/>
<path d="M231 326.4v2" stroke="#4cb6bc"/>
<path d="M233 325.8v2.1" stroke="#63d9cd"/>
<path d="M235 324.1v2.6" stroke="#5c9"/>
<path d="M237 324.5v2.9" stroke="#4b9"/>
<path d="M239 326.1v3.8" stroke="#47a3bb"/>
<path d="M225 325.9v2.5" stroke="#8fd"/>
<path d="M227 325v2.7" stroke="#5c9"/>
<path d="M229 326.1v2.1" stroke="#4a8"/>
<path d="M235 326.3v2.6" stroke="#4db8af"/>
<path d="M237 327v2.9" stroke="#44a3b2"/>
<path d="M217 329.3v3.2" stroke="#4a94c2"/>
<path d="M219 329.2v3.3" stroke="#4a95c1"/>
<path d="M221 328.9v3.3" stroke="#4ba4c3"/>
<path d="M223 328.6v3.2" stroke="#4aa2bf"/>
<path d="M225 328v3.7" stroke="#59d1c8"/>
<path d="M227 327.3v2.5" stroke="#51c1a7"/>
<path d="M229 327.8v2" stroke="#4fc0b0"/>
<path d="M231 328v2" stroke="#4cb4b3"/>
<path d="M233 327.6v2.5" stroke="#4fbeb2"/>
<path d="M235 328.5v1.8" stroke="#47b0b4"/>
<path d="M237 329.5v2.4" stroke="#479dbe"/>
<path d="M227 329.3v2.5" stroke="#4aadb8"/>
<path d="M229 329.5v2" stroke="#4badb9"/>
<path d="M231 329.6v2" stroke="#49aab9"/>
<path d="M233 329.7v2.5" stroke="#49a6be"/>
<path d="M235 330v1.8" stroke="#47a1b8"/>
<path d="M221 331.8v3.3" stroke="#4a9bc3"/>
<path d="M223 331.5v3.5" stroke="#4a9bc0"/>
<path d="M225 331.3v3.6" stroke="#4aa0c0"/>
<path d="M227 331.4v3.4" stroke="#499fbf"/>
<path d="M229 331.1v3.6" stroke="#4baec2"/>
<path d="M231 331.3v3.6" stroke="#47a3ba"/>
<path d="M233 331.8v3.3" stroke="#4894bf"/>
<path d="M235 331.4v3.7" stroke="#49a1c1"/>
<path d="M237 331.6v3.5" stroke="#479cbd"/>
<path d="M225 334.5v3.2" stroke="#4993c0"/>
<path d="M227 334.4v3.3" stroke="#4995c0"/>
<path d="M229 334.4v3.2" stroke="#4994bf"/>
<path d="M231 334.5v3.1" stroke="#4892bf"/>
<path d="M125 340v2.7" stroke="#57a6d2"/>
<path d="M127 340v2.4" stroke="#56a7d1"/>
<path d="M129 339.9v2.5" stroke="#56a6d0"/>
<path d="M131 339.9v2.8" stroke="#56a3d0"/>
<path d="M123 342.5v2.6" stroke="#57a8d2"/>
<path d="M125 342.3v2.3" stroke="#54b6cf"/>
<path d="M127 342v1.6" stroke="#53d2c2"/>
<path d="M129 342v1.3" stroke="#4ec3b2"/>
<path d="M131 342.3v1.4" stroke="#51bec2"/>
<path d="M133 342.5v1.8" stroke="#4cb2be"/>
<path d="M135 342.6v2.6" stroke="#56a4d0"/>
<path d="M137 342.6v2.8" stroke="#56a1d0"/>
<path d="M117 345.2v2.7" stroke="#59a8d4"/>
<path d="M119 345.1v2.5" stroke="#58a7d2"/>
<path d="M121 345.1v2.3" stroke="#55b0d1"/>
<path d="M123 344.7v1.9" stroke="#53c2cc"/>
<path d="M125 344.2v1.1" stroke="#5db"/>
<path d="M127 343.2v.8" stroke="#6e9"/>
<path d="M129 342.9v1.1" stroke="#5c8"/>
<path d="M131 343.2v1.7" stroke="#5c9"/>
<path d="M133 343.9v2.5" stroke="#47b29e"/>
<path d="M135 344.7v2.7" stroke="#54a8cd"/>
<path d="M137 344.9v2.6" stroke="#55a6ce"/>
<path d="M139 345v2.6" stroke="#55a5ce"/>
<path d="M141 345v2.9" stroke="#55a1cf"/>
<path d="M115 347.7v2.7" stroke="#59a8d4"/>
<path d="M117 347.5v2.2" stroke="#5cc5d8"/>
<path d="M119 347.3v1.1" stroke="#5db"/>
<path d="M121 347v.6" stroke="#5da"/>
<path d="M123 346.3v1.6" stroke="#5ca"/>
<path d="M125 344.9v.5" stroke="#7f9"/>
<path d="M129 343.6v.6" stroke="#7e6"/>
<path d="M137 347.1v.7" stroke="#5ca"/>
<path d="M139 347.2v1.6" stroke="#4ebdb7"/>
<path d="M141 347.5v2.2" stroke="#4fadc4"/>
<path d="M143 347.7v2.6" stroke="#55a3cf"/>
<path d="M145 347.8v2.7" stroke="#55a1cf"/>
<path d="M115 350v3.1" stroke="#5aa9d5"/>
<path d="M117 349.2v2.9" stroke="#68d9e0"/>
<path d="M119 347.9v2.4" stroke="#6ea"/>
<path d="M147 350.2v1.2" stroke="#50bdc1"/>
<path d="M149 350.1v1.8" stroke="#4eb3c2"/>
<path d="M151 350.2v2.5" stroke="#52a7ca"/>
<path d="M153 350.3v2.7" stroke="#54a1cd"/>
<path d="M115 352.7v2.9" stroke="#5aacd5"/>
<path d="M117 351.8v3.3" stroke="#5dccd5"/>
<path d="M119 350v3.2" stroke="#6fa"/>
<path d="M121 345v2.1" stroke="#9f5"/>
<path d="M123 343.6v2.2" stroke="#6a3"/>
<path d="M125 342.6v2.1" stroke="#ae3"/>
<path d="M127 340.1v1.6" stroke="#991"/>
<path d="M129 340v1.7" stroke="#b91"/>
<path d="M131 340.3v.5" stroke="#a71"/>
<path d="M133 339.1v1.1" stroke="#b81"/>
<path d="M135 337.2v2.5" stroke="#a61"/>
<path d="M141 345.2v1.2" stroke="#8d4"/>
<path d="M155 352.8v1.9" stroke="#51aec8"/>
<path d="M157 352.9v1.7" stroke="#51aec9"/>
<path d="M159 352.9v2.2" stroke="#4fa9c6"/>
<path d="M121 346.7v2.1" stroke="#9f5"/>
<path d="M123 345.4v2.2" stroke="#6a3"/>
<path d="M125 344.3v2.1" stroke="#af3"/>
<path d="M127 341.3v1.6" stroke="#981"/>
<path d="M133 339.8v1.1" stroke="#c81"/>
<path d="M135 339.3v2.5" stroke="#971"/>
<path d="M121 348.5v2.1" stroke="#8f6"/>
<path d="M123 347.1v2.2" stroke="#6b3"/>
<path d="M115 355.2v3.3" stroke="#59abd5"/>
<path d="M117 354.7v3.7" stroke="#56b0d0"/>
<path d="M119 352.8v2.6" stroke="#6eb"/>
<path d="M121 350.2v2.4" stroke="#7f7"/>
<path d="M123 348.9v3.3" stroke="#7e4"/>
<path d="M125 346v2.3" stroke="#9f4"/>
<path d="M127 342.5v1.9" stroke="#ba2"/>
<path d="M129 341.3v2.5" stroke="#a71"/>
<path d="M131 340.3v1.9" stroke="#d71"/>
<path d="M165 355.5v1.8" stroke="#4bb0bf"/>
<path d="M167 355.5v2.4" stroke="#52a4cb"/>
<path d="M169 355.6v2.4" stroke="#51a2ca"/>
<path d="M171 355.6v2.7" stroke="#529dcb"/>
<path d="M119 355v2.6" stroke="#5dc"/>
<path d="M121 352.2v2.4" stroke="#7f9"/>
<path d="M125 347.9v2.3" stroke="#9f4"/>
<path d="M127 344v1.9" stroke="#bb2"/>
<path d="M119 357.3v3.4" stroke="#55b9d1"/>
<path d="M121 354.2v2.8" stroke="#7fa"/>
<path d="M123 351.8v1.7" stroke="#8f5"/>
<path d="M129 343.4v3.3" stroke="#a71"/>
<path d="M131 341.9v2.2" stroke="#c71"/>
<path d="M133 339.4v3.2" stroke="#c51"/>
<path d="M135 339.2v1.9" stroke="#e50"/>
<path d="M137 339.8v.6" stroke="#c40"/>
<path d="M141 338.4v1.8" stroke="#f40"/>
<path d="M143 336.6v1.3" stroke="#d20"/>
<path d="M157 345.2v2.4" stroke="#871"/>
<path d="M169 357.6v1.8" stroke="#48b8ae"/>
<path d="M171 357.9v2.2" stroke="#50abc8"/>
<path d="M173 358.1v2.1" stroke="#4fa8c7"/>
<path d="M175 358.1v2.6" stroke="#51a0c9"/>
<path d="M121 356.6v2.8" stroke="#6fc"/>
<path d="M123 353.1v1.7" stroke="#8f5"/>
<path d="M131 343.7v2.2" stroke="#c71"/>
<path d="M133 342.2v3.2" stroke="#b61"/>
<path d="M135 340.7v1.9" stroke="#e51"/>
<path d="M141 339.8v1.8" stroke="#f50"/>
<path d="M143 337.5v1.3" stroke="#d20"/>
<path d="M119 360.3v3.2" stroke="#58abd3"/>
<path d="M121 358.9v2.8" stroke="#6ec"/>
<path d="M123 354.3v2.4" stroke="#8f6"/>
<path d="M125 347.2v2.7" stroke="#bb2"/>
<path d="M127 345.2v2.1" stroke="#c81"/>
<path d="M129 346.3v2.3" stroke="#a71"/>
<path d="M131 345.5v1.4" stroke="#c71"/>
<path d="M133 345v1.3" stroke="#a51"/>
<path d="M135 342.3v2.7" stroke="#f61"/>
<path d="M137 340v2.2" stroke="#b30"/>
<path d="M139 341v2.3" stroke="#c40"/>
<path d="M141 341.2v2" stroke="#e40"/>
<path d="M143 338.4v1.8" stroke="#f20"/>
<path d="M145 337.7v2" stroke="#c20"/>
<path d="M147 338.9v1.6M149 338v1.7" stroke="#e20"/>
<path d="M151 341.5v.7" stroke="#920"/>
<path d="M153 341.9v1.3" stroke="#f51"/>
<path d="M165 353v.5" stroke="#592"/>
<path d="M171 359.7v.7" stroke="#5ca"/>
<path d="M173 359.8v.8" stroke="#5da"/>
<path d="M175 360.3v1.4" stroke="#4aa"/>
<path d="M177 360.6v2.7" stroke="#519eca"/>
<path d="M179 360.7v2.5" stroke="#519fca"/>
<path d="M181 360.8v2.6" stroke="#509ec9"/>
<path d="M123 356.4v2.4" stroke="#8f7"/>
<path d="M125 349.6v2.7" stroke="#ad3"/>
<path d="M127 346.9v2.1" stroke="#b91"/>
<path d="M137 341.8v2.2" stroke="#a30"/>
<path d="M139 342.9v2.3" stroke="#c40"/>
<path d="M143 339.8v1.8" stroke="#f30"/>
<path d="M145 339.3v2" stroke="#c20"/>
<path d="M153 342.8v1.3" stroke="#f50"/>
<path d="M125 351.9v2.7" stroke="#9e4"/>
<path d="M127 348.6v2.1" stroke="#aa2"/>
<path d="M125 354.2v2.7" stroke="#8f5"/>
<path d="M127 350.3v2.1" stroke="#ab2"/>
<path d="M119 363v2.9" stroke="#59aad4"/>
<path d="M121 361.4v2.1" stroke="#5ec"/>
<path d="M123 358.4v1" stroke="#8f8"/>
<path d="M127 352v2.7" stroke="#bd3"/>
<path d="M129 348.2v2.5" stroke="#b71"/>
<path d="M131 346.5v1.9" stroke="#c61"/>
<path d="M133 345.9v1.3" stroke="#c51"/>
<path d="M135 344.5v1.7" stroke="#d50"/>
<path d="M137 343.7v2.6" stroke="#b40"/>
<path d="M139 344.9v2.1" stroke="#d50"/>
<path d="M141 342.8v2.3" stroke="#f40"/>
<path d="M143 341.2v2.3M145 341v2.2" stroke="#d20"/>
<path d="M147 340v2.8" stroke="#e20"/>
<path d="M149 339.3v3" stroke="#e10"/>
<path d="M157 340.7v1.4" stroke="#d20"/>
<path d="M161 341.2v2" stroke="#a20"/>
<path d="M183 363.2v1" stroke="#4ba"/>
<path d="M185 363.2v2.5" stroke="#4fa2c7"/>
<path d="M187 363.3v2.9" stroke="#509ac9"/>
<path d="M121 363.1v2.1" stroke="#59ddcf"/>
<path d="M123 359v1" stroke="#8f7"/>
<path d="M131 348v1.9" stroke="#c61"/>
<path d="M133 346.8v1.3" stroke="#c51"/>
<path d="M135 345.8v1.7" stroke="#d50"/>
<path d="M137 345.8v2.6" stroke="#b40"/>
<path d="M119 365.6v3.1" stroke="#59aad4"/>
<path d="M121 364.8v3.3" stroke="#55bdce"/>
<path d="M123 359.6v2.3" stroke="#8f7"/>
<path d="M125 356v1.1" stroke="#9e3"/>
<path d="M129 350.4v2" stroke="#c71"/>
<path d="M131 349.5v2.1" stroke="#b61"/>
<path d="M133 347.7v3.6" stroke="#e61"/>
<path d="M135 347.1v3" stroke="#a40"/>
<path d="M137 348v2" stroke="#d51"/>
<path d="M139 346.6v2.4" stroke="#d40"/>
<path d="M141 344.7v2.5" stroke="#f30"/>
<path d="M143 343.2v2.6" stroke="#d20"/>
<path d="M145 342.8v2" stroke="#f20"/>
<path d="M147 342.4v1" stroke="#e10"/>
<path d="M149 342v1.8" stroke="#d10"/>
<path d="M151 341.5v2.7M153 340.9v2.9M155 341.4v1.2" stroke="#e10"/>
<path d="M157 341.7v1.1" stroke="#d10"/>
<path d="M159 340.7v3.5" stroke="#e10"/>
<path d="M161 342.8v1.5" stroke="#b10"/>
<path d="M163 343.7v.9" stroke="#f20"/>
<path d="M165 344.3v1.5" stroke="#a20"/>
<path d="M167 346v1.2" stroke="#d30"/>
<path d="M187 365.7v1.5" stroke="#4ba"/>
<path d="M189 365.9v2.7" stroke="#509bc9"/>
<path d="M191 365.9v2.8" stroke="#509ac8"/>
<path d="M193 365.9v2.8" stroke="#5099c8"/>
<path d="M123 361.5v2.3" stroke="#8f9"/>
<path d="M125 356.7v1.1" stroke="#9e3"/>
<path d="M129 351.9v2" stroke="#b81"/>
<path d="M131 351.2v2.1" stroke="#a61"/>
<path d="M123 363.3v2.3" stroke="#8fa"/>
<path d="M125 357.5v1.1" stroke="#9e3"/>
<path d="M119 368.2v3.1" stroke="#5aa8d5"/>
<path d="M121 367.7v2.3" stroke="#56d6ce"/>
<path d="M123 365.2v1.8" stroke="#7fa"/>
<path d="M125 358.2v2.6" stroke="#af4"/>
<path d="M127 353.6v2.2" stroke="#c91"/>
<path d="M129 353.5v3.3" stroke="#a71"/>
<path d="M131 352.9v3.2" stroke="#c71"/>
<path d="M133 350.9v2.2" stroke="#e61"/>
<path d="M135 349.7v1.7" stroke="#c40"/>
<path d="M137 349.5v1.3" stroke="#d40"/>
<path d="M139 348.6v.8M141 346.8v2.1" stroke="#e30"/>
<path d="M143 345.4v3.3" stroke="#e20"/>
<path d="M145 344.4v3.2" stroke="#f20"/>
<path d="M147 343v3.8" stroke="#e10"/>
<path d="M149 343.4v3.2" stroke="#d10"/>
<path d="M151 343.8v1.5" stroke="#f10"/>
<path d="M153 343.5v1.3" stroke="#d10"/>
<path d="M155 342.2v2.6" stroke="#f10"/>
<path d="M157 342.4v2.9" stroke="#b10"/>
<path d="M159 343.8v1.7" stroke="#f10"/>
<path d="M163 344.2v1.7" stroke="#c10"/>
<path d="M165 345.5v1.1" stroke="#e10"/>
<path d="M169 346.7v1.5" stroke="#d20"/>
<path d="M197 368.4v1.3" stroke="#4ba"/>
<path d="M123 366.6v1.8" stroke="#6fa"/>
<path d="M125 360.4v2.6" stroke="#9f5"/>
<path d="M127 355.4v2.2" stroke="#ba2"/>
<path d="M125 362.7v2.6" stroke="#9f6"/>
<path d="M127 357.3v2.2" stroke="#ab2"/>
<path d="M119 370.9v3" stroke="#5ba7d6"/>
<path d="M121 369.6v2.6" stroke="#6ec"/>
<path d="M123 367.9v2.8" stroke="#6d9"/>
<path d="M125 364.9v2.8" stroke="#8f6"/>
<path d="M127 359.1v2.8" stroke="#bd2"/>
<path d="M129 356.3v2.3" stroke="#871"/>
<path d="M131 355.6v2.3" stroke="#c91"/>
<path d="M133 352.7v3.5" stroke="#e61"/>
<path d="M135 351v2.2" stroke="#c40"/>
<path d="M137 350.4v2.5" stroke="#d40"/>
<path d="M139 349v2" stroke="#f30"/>
<path d="M141 348.5v2.6" stroke="#c20"/>
<path d="M143 348.2v3" stroke="#e20"/>
<path d="M145 347.2v2.5" stroke="#f20"/>
<path d="M147 346.4v1.8" stroke="#e10"/>
<path d="M149 346.2v2.4" stroke="#d10"/>
<path d="M151 344.8v3.4" stroke="#f10"/>
<path d="M153 344.3v3.7" stroke="#c10"/>
<path d="M155 344.4v2.2" stroke="#f10"/>
<path d="M157 345v1.3" stroke="#d10"/>
<path d="M159 345.1v1.6" stroke="#f10"/>
<path d="M161 343.9v2.2" stroke="#d10"/>
<path d="M163 345.6v2" stroke="#c10"/>
<path d="M165 346.1v2.8" stroke="#f10"/>
<path d="M167 346.3v3" stroke="#c10"/>
<path d="M169 347.8v2.4M171 347.7v2.8M173 348.1v2.9M175 349.7v.5" stroke="#d20"/>
<path d="M201 371v2.5" stroke="#4e9ec6"/>
<path d="M203 371.1v2.4" stroke="#4e9ec7"/>
<path d="M205 371.1v2.5" stroke="#4d9dc5"/>
<path d="M129 358.2v2.3" stroke="#871"/>
<path d="M131 357.6v2.3" stroke="#c91"/>
<path d="M135 352.8v2.2" stroke="#c40"/>
<path d="M137 352.5v2.5" stroke="#d40"/>
<path d="M139 350.6v2" stroke="#f30"/>
<path d="M155 346.2v2.2" stroke="#f10"/>
<path d="M157 345.9v1.3M161 345.7v2.2" stroke="#d10"/>
<path d="M163 347.2v2" stroke="#c10"/>
<path d="M45 372.1v2.6" stroke="#65b3e3"/>
<path d="M47 372.1v2.3" stroke="#62b5df"/>
<path d="M49 372.2v2.5" stroke="#61b3dd"/>
<path d="M51 372.2v2.5" stroke="#63b4e0"/>
<path d="M53 372.2v2.4" stroke="#62b2de"/>
<path d="M121 371.9v2.4" stroke="#5dc"/>
<path d="M123 370.3v2.8" stroke="#5d9"/>
<path d="M125 367.3v2.4" stroke="#8f7"/>
<path d="M127 361.5v2.7" stroke="#9b2"/>
<path d="M129 360.2v2.8" stroke="#992"/>
<path d="M131 359.5v3" stroke="#ba2"/>
<path d="M133 355.8v3.5" stroke="#d71"/>
<path d="M135 354.6v2.6" stroke="#c51"/>
<path d="M137 354.6v3" stroke="#d51"/>
<path d="M139 352.2v2.3" stroke="#e40"/>
<path d="M141 350.7v2.2M143 350.9v2.6" stroke="#d20"/>
<path d="M145 349.3v2.1" stroke="#f20"/>
<path d="M147 347.8v2.4" stroke="#e10"/>
<path d="M149 348.2v3.2" stroke="#d10"/>
<path d="M151 347.8v2.8" stroke="#f10"/>
<path d="M153 347.6v2.6" stroke="#d10"/>
<path d="M155 348v1.5" stroke="#f10"/>
<path d="M157 346.8v2.8" stroke="#e10"/>
<path d="M159 346.3v2.5" stroke="#d10"/>
<path d="M161 347.5v2.4" stroke="#c10"/>
<path d="M163 348.8v3.5" stroke="#d10"/>
<path d="M165 348.5v3.3" stroke="#e10"/>
<path d="M167 349v2.4" stroke="#d10"/>
<path d="M169 349.8v1.9" stroke="#e10"/>
<path d="M171 350.2v2.1" stroke="#d10"/>
<path d="M173 350.6v1.6" stroke="#e20"/>
<path d="M175 349.8v2.4" stroke="#e10"/>
<path d="M177 348.4v3.5" stroke="#f10"/>
<path d="M179 350.2v1.6" stroke="#b10"/>
<path d="M205 373.3v1" stroke="#4dc2b1"/>
<path d="M207 373.6v1.6" stroke="#4ab1bd"/>
<path d="M209 373.7v2.5" stroke="#4c9fc3"/>
<path d="M121 373.9v2.4" stroke="#56c8d5"/>
<path d="M123 372.8v2.8" stroke="#53c5b8"/>
<path d="M125 369.3v2.4" stroke="#8f8"/>
<path d="M127 363.8v2.7" stroke="#8d3"/>
<path d="M129 362.5v2.8" stroke="#8a2"/>
<path d="M131 362.1v3" stroke="#ab2"/>
<path d="M133 358.9v3.5" stroke="#c81"/>
<path d="M135 356.8v2.6" stroke="#c61"/>
<path d="M139 354.1v2.3" stroke="#e40"/>
<path d="M141 352.5v2.2" stroke="#d30"/>
<path d="M145 350.9v2.1" stroke="#f20"/>
<path d="M147 349.8v2.4" stroke="#e10"/>
<path d="M159 348.4v2.5" stroke="#d10"/>
<path d="M161 349.5v2.4" stroke="#c10"/>
<path d="M127 366.1v2.7" stroke="#8e4"/>
<path d="M129 364.9v2.8" stroke="#7b3"/>
<path d="M43 374.5v2.6" stroke="#66b4e3"/>
<path d="M45 374.3v2.7" stroke="#65b4e2"/>
<path d="M47 374v3.1" stroke="#62b5df"/>
<path d="M49 374.2v2.9" stroke="#61b3dd"/>
<path d="M51 374.3v2.9" stroke="#63b4e0"/>
<path d="M53 374.1v2.3" stroke="#5cc1d8"/>
<path d="M55 374.5v2.1" stroke="#55b2cc"/>
<path d="M121 375.9v3.4" stroke="#59aad4"/>
<path d="M123 375.2v3.9" stroke="#54b6ce"/>
<path d="M125 371.3v2.6" stroke="#7f9"/>
<path d="M127 368.4v2.7" stroke="#7e4"/>
<path d="M129 367.3v2.9" stroke="#8e4"/>
<path d="M131 364.7v2.1" stroke="#ad3"/>
<path d="M133 362v1.1" stroke="#d91"/>
<path d="M135 359v1" stroke="#d61"/>
<path d="M137 357.2v2.4" stroke="#c40"/>
<path d="M139 356v2.1" stroke="#e40"/>
<path d="M141 354.3v2.3" stroke="#e30"/>
<path d="M143 353.1v2.7M145 352.6v2.1" stroke="#e20"/>
<path d="M147 351.9v2.6M149 351v3.4M151 350.2v2.4M153 349.8v2.4M155 349.1v2.8" stroke="#e10"/>
<path d="M157 349.2v2.9M159 350.6v2.3" stroke="#d10"/>
<path d="M161 351.5v3" stroke="#e10"/>
<path d="M163 351.9v2.7" stroke="#d10"/>
<path d="M165 351.4v3.5" stroke="#e10"/>
<path d="M167 351v3.9M169 351.3v3.6M171 351.8v3" stroke="#d10"/>
<path d="M173 351.8v2.4" stroke="#f10"/>
<path d="M175 351.8v2.5" stroke="#c10"/>
<path d="M177 351.6v3.4" stroke="#e10"/>
<path d="M179 351.5v3.4" stroke="#d10"/>
<path d="M181 351.8v2.8" stroke="#e10"/>
<path d="M183 351.8v2.9" stroke="#d10"/>
<path d="M185 351.7v3" stroke="#e10"/>
<path d="M187 352.1v2.1" stroke="#d10"/>
<path d="M189 351.4v2.5" stroke="#f10"/>
<path d="M191 350.7v3.7" stroke="#d10"/>
<path d="M193 353.2v1.9" stroke="#b20"/>
<path d="M207 374.8v2.6" stroke="#4bb7a4"/>
<path d="M209 375.8v2.8" stroke="#4ba1c0"/>
<path d="M211 376.3v2.8" stroke="#4d98c5"/>
<path d="M125 373.5v2.6" stroke="#7fb"/>
<path d="M127 370.7v2.7" stroke="#7e6"/>
<path d="M129 369.8v2.9" stroke="#8f5"/>
<path d="M131 366.4v2.1" stroke="#ad3"/>
<path d="M151 352.2v2.4M153 351.8v2.4" stroke="#e10"/>
<path d="M155 351.5v2.8M157 351.8v2.9M159 352.5v2.3" stroke="#d10"/>
<path d="M125 375.6v2.6" stroke="#6fd"/>
<path d="M127 373v2.7" stroke="#6e8"/>
<path d="M43 376.8v2.8" stroke="#66b5e4"/>
<path d="M45 376.6v2.9" stroke="#65b3e2"/>
<path d="M47 376.8v2.7" stroke="#65b4e2"/>
<path d="M49 376.7v2.8" stroke="#64b3e1"/>
<path d="M51 376.7v2.3" stroke="#5fc0dd"/>
<path d="M53 376.1v2.7" stroke="#5abed2"/>
<path d="M55 376.1v3.4" stroke="#54b1ca"/>
<path d="M57 376.9v2.2" stroke="#5fbadd"/>
<path d="M59 376.9v1.9" stroke="#5cb5d7"/>
<path d="M61 377v2.4" stroke="#5fb1db"/>
<path d="M123 378.7v3.2" stroke="#5ba6d6"/>
<path d="M125 377.8v2.2" stroke="#54c1ce"/>
<path d="M127 375.3v2.9" stroke="#6ea"/>
<path d="M129 372.3v3.5" stroke="#7f6"/>
<path d="M131 368.1v3.2" stroke="#9e3"/>
<path d="M133 362.7v3.6" stroke="#c91"/>
<path d="M135 359.7v3" stroke="#d61"/>
<path d="M137 359.2v2.5" stroke="#d51"/>
<path d="M139 357.6v2.3" stroke="#d40"/>
<path d="M141 356.1v3.1" stroke="#c30"/>
<path d="M143 355.4v2.7" stroke="#f30"/>
<path d="M145 354.3v2.3" stroke="#e20"/>
<path d="M147 354v3.4" stroke="#e10"/>
<path d="M149 354v3" stroke="#d10"/>
<path d="M151 354.2v2.8M153 353.8v2.6" stroke="#e10"/>
<path d="M155 353.9v2.7M157 354.3v2.5M159 354.4v2.8" stroke="#d10"/>
<path d="M161 354.1v3.3M163 354.2v2.2M165 354.5v.7" stroke="#e10"/>
<path d="M167 354.4v1.1M169 354.4v2.3M171 354.4v2.9" stroke="#d10"/>
<path d="M173 353.9v3.2" stroke="#e10"/>
<path d="M175 354v3M177 354.6v2.7M179 354.4v2.9" stroke="#d10"/>
<path d="M181 354.2v2" stroke="#f10"/>
<path d="M183 354.2v2M185 354.3v2.9" stroke="#d10"/>
<path d="M187 353.8v3.4" stroke="#e10"/>
<path d="M189 353.5v3.6M191 354v2.8M193 354.7v2.2" stroke="#d10"/>
<path d="M195 354.4v2.5" stroke="#e10"/>
<path d="M197 354.2v3" stroke="#a10"/>
<path d="M199 356.9v1.9" stroke="#d30"/>
<path d="M201 361.5v.5" stroke="#830"/>
<path d="M203 364v2.5" stroke="#871"/>
<path d="M205 370.3v.6" stroke="#592"/>
<path d="M209 378.1v.7" stroke="#5ba"/>
<path d="M211 378.7v2" stroke="#48adb7"/>
<path d="M125 379.5v2.2" stroke="#57b4d4"/>
<path d="M127 377.8v2.9" stroke="#5ec"/>
<path d="M129 375.4v3.5" stroke="#6f9"/>
<path d="M131 370.9v3.2" stroke="#8f5"/>
<path d="M133 366v3.6" stroke="#bc2"/>
<path d="M135 362.3v3" stroke="#c71"/>
<path d="M137 361.3v2.5" stroke="#d61"/>
<path d="M139 359.5v2.3" stroke="#d40"/>
<path d="M141 358.8v3.1" stroke="#c40"/>
<path d="M143 357.7v2.7" stroke="#e30"/>
<path d="M145 356.2v2.3" stroke="#d20"/>
<path d="M197 356.7v3" stroke="#a20"/>
<path d="M199 358.4v1.9" stroke="#d30"/>
<path d="M203 366v2.5" stroke="#871"/>
<path d="M205 370.4v.6" stroke="#582"/>
<path d="M131 373.7v3.2" stroke="#8f6"/>
<path d="M133 369.2v3.6" stroke="#9e3"/>
<path d="M135 364.9v3" stroke="#b91"/>
<path d="M43 379.1v2.8" stroke="#66b4e3"/>
<path d="M45 379.1v2.7" stroke="#63b6e0"/>
<path d="M47 379v2.8" stroke="#62b4de"/>
<path d="M49 379.1v2.9" stroke="#64b3e1"/>
<path d="M51 378.7v2.8" stroke="#67cae5"/>
<path d="M53 378.4v3.1" stroke="#58b3cd"/>
<path d="M55 379.1v2.9" stroke="#63b2df"/>
<path d="M57 378.8v3.4" stroke="#5eb9dc"/>
<path d="M59 378.4v3.7" stroke="#5cb4d6"/>
<path d="M61 379v2.9" stroke="#5fb2db"/>
<path d="M63 379.4v2.5" stroke="#63b0df"/>
<path d="M125 381.3v3.2" stroke="#5aa7d5"/>
<path d="M127 380.3v3.8" stroke="#54c0d0"/>
<path d="M129 378.6v2.4" stroke="#6ea"/>
<path d="M131 376.5v3.1" stroke="#6e8"/>
<path d="M133 372.5v3.4" stroke="#9f5"/>
<path d="M135 367.5v2.3" stroke="#cb2"/>
<path d="M137 363.3v2.1" stroke="#c61"/>
<path d="M139 361.4v2.1" stroke="#e51"/>
<path d="M141 361.5v3.1" stroke="#c40"/>
<path d="M143 359.9v3.4" stroke="#f40"/>
<path d="M145 358.2v3M147 357.1v2.9" stroke="#e20"/>
<path d="M149 356.7v3.1" stroke="#d10"/>
<path d="M151 356.6v3.6" stroke="#e10"/>
<path d="M153 356v2.8" stroke="#f10"/>
<path d="M155 356.1v2.4M157 356.4v3.1M159 356.8v2.8M161 357v2.6" stroke="#d10"/>
<path d="M163 356v3.5" stroke="#e10"/>
<path d="M165 354.8v2.6M167 355.2v2.4M169 356.4v3.3M171 356.9v2.9" stroke="#d10"/>
<path d="M173 356.7v3.2" stroke="#e10"/>
<path d="M175 356.6v3.2M177 356.9v2.9" stroke="#d10"/>
<path d="M179 356.9v1.8" stroke="#f10"/>
<path d="M181 355.9v1.6M183 355.9v2.2M185 356.8v2.8" stroke="#d10"/>
<path d="M187 356.8v2.3M189 356.7v1.9M191 356.4v1.9" stroke="#e10"/>
<path d="M193 356.5v1.7M195 356.5v2.8" stroke="#d10"/>
<path d="M197 359.3v.8" stroke="#b20"/>
<path d="M199 359.9v1.1" stroke="#d30"/>
<path d="M201 361.6v1.2" stroke="#930"/>
<path d="M205 370.6v1.4" stroke="#792"/>
<path d="M207 374.3v1.7" stroke="#5a3"/>
<path d="M209 378.5v1.3" stroke="#5c7"/>
<path d="M211 380.3v.9" stroke="#5b9"/>
<path d="M213 381.3v1.3" stroke="#49b9b6"/>
<path d="M215 381.4v2.5" stroke="#4ba0c2"/>
<path d="M129 380.6v2.4" stroke="#5db"/>
<path d="M131 379.1v3.1" stroke="#6da"/>
<path d="M133 375.4v3.4" stroke="#9f6"/>
<path d="M135 369.4v2.3" stroke="#cc2"/>
<path d="M137 365v2.1" stroke="#b61"/>
<path d="M139 363.2v2.1" stroke="#d61"/>
<path d="M165 357v2.6M167 357.2v2.4M181 357.1v1.6M183 357.6v2.2" stroke="#d10"/>
<path d="M199 360.5v1.1" stroke="#d30"/>
<path d="M201 362.4v1.2" stroke="#930"/>
<path d="M205 371.7v1.4" stroke="#792"/>
<path d="M207 375.6v1.7" stroke="#5a3"/>
<path d="M137 366.7v2.1" stroke="#b71"/>
<path d="M139 364.9v2.1" stroke="#d61"/>
<path d="M43 381.5v2.9" stroke="#66b3e3"/>
<path d="M45 381.4v2.9" stroke="#64b7e2"/>
<path d="M47 381.4v2.5" stroke="#61b5dd"/>
<path d="M49 381.7v2.4" stroke="#61b4dd"/>
<path d="M51 381.1v2.9" stroke="#62bedf"/>
<path d="M53 381.1v3" stroke="#5bb2d4"/>
<path d="M55 381.6v2.5" stroke="#61b6de"/>
<path d="M57 381.7v2.4" stroke="#5fb2da"/>
<path d="M61 381.5v2.9" stroke="#63b1e0"/>
<path d="M63 381.5v3.1" stroke="#63b0e0"/>
<path d="M45 383.9v3" stroke="#65b5e3"/>
<path d="M47 383.5v3.3" stroke="#62b6de"/>
<path d="M49 383.6v3.3" stroke="#61b4dd"/>
<path d="M51 383.6v3.4" stroke="#61b6de"/>
<path d="M53 383.7v3.1" stroke="#5fb3db"/>
<path d="M55 383.7v3" stroke="#61b6de"/>
<path d="M57 383.7v3.1" stroke="#5fb2da"/>
<path d="M127 383.7v3.3" stroke="#58abd4"/>
<path d="M129 382.7v2.3" stroke="#53c3c9"/>
<path d="M131 381.8v2.3" stroke="#58cdba"/>
<path d="M133 378.4v2.5" stroke="#8f8"/>
<path d="M135 371.3v3.5" stroke="#bd3"/>
<path d="M137 368.4v2.7" stroke="#a81"/>
<path d="M139 366.6v2" stroke="#e71"/>
<path d="M141 364.2v1.2" stroke="#e50"/>
<path d="M143 362.9v1.2" stroke="#e30"/>
<path d="M145 360.7v1.9" stroke="#f20"/>
<path d="M147 359.6v1.7" stroke="#c10"/>
<path d="M149 359.4v1.9" stroke="#e20"/>
<path d="M151 359.7v2" stroke="#d10"/>
<path d="M153 358.4v2.1" stroke="#e10"/>
<path d="M155 358.2v2.1M157 359.2v2.4M159 359.2v2.8M161 359.3v2.9" stroke="#d10"/>
<path d="M163 359.2v3M165 359.2v2.3" stroke="#e10"/>
<path d="M167 359.3v1.9M169 359.3v2.3M171 359.4v2.5M173 359.4v2.7M175 359.4v2.9" stroke="#d10"/>
<path d="M177 359.4v1.8" stroke="#e10"/>
<path d="M179 358.3v1.6M181 358.3v2.1M183 359.4v2.5" stroke="#d10"/>
<path d="M185 359.2v2.9M187 358.7v2.6" stroke="#e10"/>
<path d="M189 358.2v2.8M191 357.9v3.7M193 357.8v4.1" stroke="#d10"/>
<path d="M195 358.9v1.6" stroke="#e10"/>
<path d="M217 384.1v2.1" stroke="#4ba7c0"/>
<path d="M219 384.1v2.7" stroke="#4d97c4"/>
<path d="M129 384.6v2.3" stroke="#56b3d1"/>
<path d="M131 383.7v2.3" stroke="#55c4c5"/>
<path d="M133 380.5v2.5" stroke="#8f9"/>
<path d="M135 374.4v3.5" stroke="#af4"/>
<path d="M137 370.7v2.7" stroke="#a81"/>
<path d="M139 368.2v2" stroke="#d81"/>
<path d="M141 365v1.2" stroke="#e40"/>
<path d="M147 360.8v1.7" stroke="#c20"/>
<path d="M149 360.9v1.9" stroke="#e20"/>
<path d="M153 360.1v2.1" stroke="#e10"/>
<path d="M155 359.8v2.1M179 359.5v1.6M181 359.9v2.1" stroke="#d10"/>
<path d="M129 386.4v3.2" stroke="#5aa7d5"/>
<path d="M131 385.6v2.2" stroke="#53bbcd"/>
<path d="M133 382.6v2.5" stroke="#6ea"/>
<path d="M135 377.4v3" stroke="#8f4"/>
<path d="M137 373v3.4" stroke="#ab2"/>
<path d="M139 369.8v3.9" stroke="#c91"/>
<path d="M141 365.9v2.8" stroke="#f51"/>
<path d="M143 363.8v2.5" stroke="#d30"/>
<path d="M145 362.2v2.8" stroke="#c20"/>
<path d="M147 362.1v2.9" stroke="#d20"/>
<path d="M149 362.4v3.2" stroke="#f20"/>
<path d="M151 361.4v2.3" stroke="#b10"/>
<path d="M153 361.8v2.6M155 361.5v3.6" stroke="#e20"/>
<path d="M157 361.2v3.1" stroke="#d10"/>
<path d="M159 361.6v1.7" stroke="#e10"/>
<path d="M161 361.7v1.8" stroke="#d10"/>
<path d="M163 361.8v1.4" stroke="#f10"/>
<path d="M165 361.1v1.3M167 360.7v2.2M169 361.2v3.5M171 361.5v3.4" stroke="#d10"/>
<path d="M173 361.7v2.6M175 361.9v1.4M177 360.7v1.7" stroke="#e10"/>
<path d="M179 360.7v2.3" stroke="#c10"/>
<path d="M181 361.6v2.6" stroke="#e10"/>
<path d="M183 361.5v2.7" stroke="#d10"/>
<path d="M185 361.7v2.6M187 361v1.8" stroke="#e10"/>
<path d="M189 360.6v2.1" stroke="#d10"/>
<path d="M191 361.2v1.5" stroke="#e10"/>
<path d="M193 361.6v1.4" stroke="#c10"/>
<path d="M195 360.1v2.3" stroke="#f10"/>
<path d="M197 359.2v2.2" stroke="#e10"/>
<path d="M199 360v3M201 361.7v2.5" stroke="#c10"/>
<path d="M207 368.7v1" stroke="#940"/>
<path d="M219 386.4v1.2" stroke="#4bbab8"/>
<path d="M221 386.6v2.2" stroke="#4aa5bf"/>
<path d="M131 387.4v2.2" stroke="#57aed3"/>
<path d="M133 384.7v2.5" stroke="#6eb"/>
<path d="M135 380v3" stroke="#8f6"/>
<path d="M137 376v3.4" stroke="#8d3"/>
<path d="M139 373.3v3.9" stroke="#bb2"/>
<path d="M141 368.2v2.8" stroke="#f71"/>
<path d="M143 365.9v2.5" stroke="#d30"/>
<path d="M145 364.6v2.8M147 364.6v2.9" stroke="#c30"/>
<path d="M151 363.3v2.3" stroke="#b10"/>
<path d="M153 364.1v2.6" stroke="#e20"/>
<path d="M165 362.1v1.3M167 362.5v2.2" stroke="#d10"/>
<path d="M177 362.1v1.7" stroke="#e10"/>
<path d="M179 362.6v2.3" stroke="#c10"/>
<path d="M187 362.4v1.8" stroke="#e10"/>
<path d="M189 362.3v2.1" stroke="#d10"/>
<path d="M195 362v2.3" stroke="#f10"/>
<path d="M197 361v2.2" stroke="#e10"/>
<path d="M133 386.8v2.5" stroke="#56d8d7"/>
<path d="M135 382.6v3" stroke="#7f9"/>
<path d="M137 379v3.4" stroke="#8f5"/>
<path d="M139 376.8v3.9" stroke="#9e3"/>
<path d="M141 370.6v2.8" stroke="#e81"/>
<path d="M145 367.1v2.8" stroke="#b40"/>
<path d="M147 367.1v2.9" stroke="#c40"/>
<path d="M135 385.1v3" stroke="#6eb"/>
<path d="M137 382.1v3.4" stroke="#7f7"/>
<path d="M133 388.9v3.4" stroke="#58abd3"/>
<path d="M135 387.7v2.3" stroke="#54c8c7"/>
<path d="M137 385.1v3.4" stroke="#6ea"/>
<path d="M139 380.3v3.1" stroke="#9f5"/>
<path d="M141 372.9v2.9" stroke="#c91"/>
<path d="M143 368v3.2" stroke="#e51"/>
<path d="M145 369.5v2.4" stroke="#c51"/>
<path d="M147 369.6v2.4" stroke="#e51"/>
<path d="M149 365.2v2.8" stroke="#d20"/>
<path d="M151 365.2v2.7" stroke="#c20"/>
<path d="M153 366.3v3.4" stroke="#e30"/>
<path d="M155 364.7v2.6" stroke="#d20"/>
<path d="M157 363.9v3.3" stroke="#b20"/>
<path d="M159 362.9v4.1" stroke="#e20"/>
<path d="M161 363.1v3" stroke="#e10"/>
<path d="M163 362.8v2.4" stroke="#f10"/>
<path d="M165 363v3.1" stroke="#c10"/>
<path d="M167 364.2v2.8" stroke="#d10"/>
<path d="M169 364.3v2.8" stroke="#e10"/>
<path d="M171 364.5v2.3" stroke="#d10"/>
<path d="M173 364v2.1" stroke="#f10"/>
<path d="M175 362.9v2" stroke="#e10"/>
<path d="M177 363.4v2.1" stroke="#c10"/>
<path d="M179 364.5v1.7" stroke="#e10"/>
<path d="M181 363.8v2.8M183 363.8v3.6" stroke="#d10"/>
<path d="M185 363.9v2.6" stroke="#f10"/>
<path d="M187 363.9v1.3M189 364v1.2M191 362.3v2.1" stroke="#e10"/>
<path d="M193 362.5v2.2" stroke="#c10"/>
<path d="M195 364v1.5M197 362.8v1.4" stroke="#f10"/>
<path d="M199 362.6v2.8" stroke="#c10"/>
<path d="M201 363.8v2.4" stroke="#e10"/>
<path d="M203 364.3v2.1" stroke="#d10"/>
<path d="M205 366.4v1.4" stroke="#b20"/>
<path d="M221 388.5v.6" stroke="#4a8"/>
<path d="M223 389.2v2.6" stroke="#4c9bc3"/>
<path d="M135 389.7v2.3" stroke="#55b7d1"/>
<path d="M137 388.1v3.4" stroke="#5dc"/>
<path d="M139 382.9v3.1" stroke="#8f6"/>
<path d="M141 375.4v2.9" stroke="#bb2"/>
<path d="M143 370.8v3.2" stroke="#d71"/>
<path d="M145 371.5v2.4" stroke="#c61"/>
<path d="M149 367.6v2.8" stroke="#d30"/>
<path d="M151 367.5v2.7" stroke="#c30"/>
<path d="M155 366.9v2.6" stroke="#c20"/>
<path d="M157 366.7v3.3" stroke="#b20"/>
<path d="M159 366.6v4.1" stroke="#d30"/>
<path d="M161 365.7v3" stroke="#e20"/>
<path d="M163 364.8v2.4" stroke="#f20"/>
<path d="M191 364.1v2.1" stroke="#e10"/>
<path d="M193 364.4v2.2" stroke="#c10"/>
<path d="M139 385.6v3.1" stroke="#8f9"/>
<path d="M141 377.9v2.9" stroke="#ad3"/>
<path d="M143 373.6v3.2" stroke="#c81"/>
<path d="M145 373.5v2.4" stroke="#b71"/>
<path d="M149 370v2.8" stroke="#c40"/>
<path d="M151 369.9v2.7" stroke="#b40"/>
<path d="M157 369.6v3.3" stroke="#a30"/>
<path d="M159 370.4v4.1" stroke="#c51"/>
<path d="M161 368.2v3" stroke="#d30"/>
<path d="M141 380.4v2.9" stroke="#9e4"/>
<path d="M143 376.4v3.2" stroke="#ab2"/>
<path d="M141 382.9v2.9" stroke="#8f5"/>
<path d="M143 379.2v3.2" stroke="#9d3"/>
<path d="M135 391.6v3.4" stroke="#58a7d3"/>
<path d="M137 391.2v3.8" stroke="#56abd1"/>
<path d="M139 388.3v2.4" stroke="#6ea"/>
<path d="M141 385.4v3.1" stroke="#6d6"/>
<path d="M143 382v2.9" stroke="#9f4"/>
<path d="M145 375.5v3.6" stroke="#ca1"/>
<path d="M147 371.6v3.6" stroke="#a41"/>
<path d="M149 372.3v3.8" stroke="#951"/>
<path d="M151 372.2v3.5" stroke="#c61"/>
<path d="M153 369.4v3.7" stroke="#d40"/>
<path d="M155 369.1v3.3" stroke="#c30"/>
<path d="M157 372.5v4" stroke="#941"/>
<path d="M159 374.1v2" stroke="#e81"/>
<path d="M161 370.8v1" stroke="#f40"/>
<path d="M163 366.8v2.7" stroke="#f20"/>
<path d="M165 365.7v2.9" stroke="#b10"/>
<path d="M167 366.6v3.3M169 366.7v3.2" stroke="#d20"/>
<path d="M171 366.4v2.8" stroke="#e20"/>
<path d="M173 365.6v3.8M175 364.5v4" stroke="#e10"/>
<path d="M177 365.2v2.7M179 365.8v2.8" stroke="#d10"/>
<path d="M181 366.2v2.2" stroke="#e10"/>
<path d="M183 367v1.4" stroke="#d10"/>
<path d="M185 366.1v1.9M187 364.7v2.7M189 364.8v2.4" stroke="#e10"/>
<path d="M191 365.8v3.2" stroke="#d10"/>
<path d="M193 366.2v2.2M195 365v2.5" stroke="#e10"/>
<path d="M197 363.8v4.1" stroke="#d10"/>
<path d="M199 365v3.9" stroke="#c10"/>
<path d="M201 365.8v3.7" stroke="#e10"/>
<path d="M203 365.9v3.3" stroke="#d10"/>
<path d="M205 367.3v2.1M207 367.5v2.5M209 366.6v2.4" stroke="#d20"/>
<path d="M211 368.3v1.8" stroke="#b20"/>
<path d="M213 369.5v2.1" stroke="#d30"/>
<path d="M215 373.7v1.4" stroke="#830"/>
<path d="M217 377.8v1.3" stroke="#981"/>
<path d="M219 381.5v.5" stroke="#682"/>
<path d="M225 391.8v1" stroke="#4ba"/>
<path d="M227 391.9v2.7" stroke="#4c97c3"/>
<path d="M139 390.2v2.4" stroke="#6ec"/>
<path d="M141 388.1v3.1" stroke="#6d8"/>
<path d="M143 384.5v2.9" stroke="#8f5"/>
<path d="M145 378.7v3.6" stroke="#bc2"/>
<path d="M147 374.8v3.6" stroke="#961"/>
<path d="M149 375.7v3.8" stroke="#861"/>
<path d="M151 375.3v3.5" stroke="#b81"/>
<path d="M153 372.7v3.7" stroke="#c61"/>
<path d="M155 372v3.3" stroke="#b51"/>
<path d="M157 376v4" stroke="#861"/>
<path d="M159 375.6v2" stroke="#e81"/>
<path d="M165 368.2v2.9" stroke="#b20"/>
<path d="M167 369.4v3.3" stroke="#d30"/>
<path d="M169 369.5v3.2" stroke="#c30"/>
<path d="M171 368.8v2.8" stroke="#e30"/>
<path d="M185 367.6v1.9M187 367.1v2.7M189 366.7v2.4" stroke="#e10"/>
<path d="M209 368.5v2.4" stroke="#d20"/>
<path d="M211 369.7v1.8" stroke="#b20"/>
<path d="M217 378.7v1.3" stroke="#a81"/>
<path d="M219 381.6v.5" stroke="#672"/>
<path d="M139 392.2v2.4" stroke="#58d6dc"/>
<path d="M141 390.9v3.1" stroke="#51c9ad"/>
<path d="M143 387v2.9" stroke="#7f8"/>
<path d="M145 381.9v3.6" stroke="#9f4"/>
<path d="M147 378.1v3.6" stroke="#881"/>
<path d="M149 379.1v3.8" stroke="#782"/>
<path d="M151 378.5v3.5" stroke="#9a2"/>
<path d="M153 375.9v3.7" stroke="#b81"/>
<path d="M155 374.8v3.3" stroke="#a61"/>
<path d="M157 379.6v4" stroke="#771"/>
<path d="M159 377.2v2" stroke="#d91"/>
<path d="M143 389.6v2.9" stroke="#7fa"/>
<path d="M145 385.1v3.6" stroke="#8f5"/>
<path d="M147 381.3v3.6" stroke="#692"/>
<path d="M149 382.5v3.8" stroke="#6a3"/>
<path d="M151 381.6v3.5" stroke="#8c3"/>
<path d="M153 379.2v3.7" stroke="#9a2"/>
<path d="M155 377.7v3.3" stroke="#981"/>
<path d="M147 384.6v3.6" stroke="#6b3"/>
<path d="M149 386v3.8" stroke="#6b4"/>
<path d="M151 384.8v3.5" stroke="#7e4"/>
<path d="M153 382.5v3.7" stroke="#8c3"/>
<path d="M155 380.5v3.3" stroke="#8a2"/>
<path d="M139 394.2v3" stroke="#58a8d3"/>
<path d="M141 393.6v3.3" stroke="#55b2cf"/>
<path d="M143 392.1v2.4" stroke="#5db"/>
<path d="M145 388.4v3" stroke="#7f7"/>
<path d="M147 387.8v3.2" stroke="#5b5"/>
<path d="M149 389.4v3.8" stroke="#6d8"/>
<path d="M151 387.9v3" stroke="#7e6"/>
<path d="M153 385.8v3.3" stroke="#7e4"/>
<path d="M155 383.4v3" stroke="#7c3"/>
<path d="M157 383.1v2.7" stroke="#8b3"/>
<path d="M159 378.7v3" stroke="#ca2"/>
<path d="M161 371.4v3.5" stroke="#f40"/>
<path d="M163 369v3.4" stroke="#e20"/>
<path d="M165 370.8v3.6" stroke="#920"/>
<path d="M167 372.3v3.5" stroke="#b40"/>
<path d="M169 372.3v3.1" stroke="#d40"/>
<path d="M171 371.3v3.3" stroke="#e40"/>
<path d="M173 369.1v3" stroke="#f20"/>
<path d="M175 368v3.9" stroke="#d10"/>
<path d="M177 367.5v3.1" stroke="#f10"/>
<path d="M179 368.2v3.7" stroke="#c10"/>
<path d="M181 367.9v2.4" stroke="#e10"/>
<path d="M183 368v2.1M185 369.2v2.9" stroke="#d10"/>
<path d="M187 369.4v3.1" stroke="#d20"/>
<path d="M189 368.7v2.1" stroke="#e10"/>
<path d="M191 368.6v2.1" stroke="#d10"/>
<path d="M193 368v2.3" stroke="#e10"/>
<path d="M195 367.1v2.8M197 367.5v2.7M199 368.5v1.7" stroke="#d10"/>
<path d="M201 369v1.5M203 368.8v1.3" stroke="#e10"/>
<path d="M205 369v2.3" stroke="#c10"/>
<path d="M207 369.6v2.3" stroke="#e20"/>
<path d="M209 370.5v1.6" stroke="#c20"/>
<path d="M211 371v2.6" stroke="#d20"/>
<path d="M213 371.2v2.3" stroke="#d30"/>
<path d="M227 394.2v.8" stroke="#4ba"/>
<path d="M229 394.5v2.2" stroke="#4aa3bf"/>
<path d="M143 394.1v2.4" stroke="#55c8c9"/>
<path d="M145 390.9v3" stroke="#6e9"/>
<path d="M147 390.6v3.2" stroke="#5b7"/>
<path d="M149 392.8v3.8" stroke="#5ca"/>
<path d="M151 390.5v3" stroke="#6d8"/>
<path d="M153 388.8v3.3" stroke="#7e7"/>
<path d="M155 386v3" stroke="#7d4"/>
<path d="M157 385.4v2.7" stroke="#7c4"/>
<path d="M159 381.4v3" stroke="#bd2"/>
<path d="M161 374.5v3.5" stroke="#e61"/>
<path d="M163 372.1v3.4" stroke="#e40"/>
<path d="M165 374v3.6" stroke="#830"/>
<path d="M167 375.4v3.5" stroke="#b51"/>
<path d="M169 375v3.1" stroke="#c51"/>
<path d="M171 374.2v3.3" stroke="#d51"/>
<path d="M173 371.7v3" stroke="#e30"/>
<path d="M175 371.5v3.9" stroke="#d30"/>
<path d="M177 370.1v3.1" stroke="#f20"/>
<path d="M181 370v2.4" stroke="#e20"/>
<path d="M183 369.7v2.1" stroke="#d10"/>
<path d="M189 370.4v2.1" stroke="#e20"/>
<path d="M191 370.3v2.1" stroke="#d20"/>
<path d="M193 370v2.3" stroke="#e20"/>
<path d="M195 369.5v2.8M197 369.8v2.7M199 369.8v1.7" stroke="#d10"/>
<path d="M145 393.5v3" stroke="#5db"/>
<path d="M147 393.4v3.2" stroke="#4a9"/>
<path d="M151 393.2v3" stroke="#5da"/>
<path d="M153 391.7v3.3" stroke="#6e9"/>
<path d="M155 388.6v3" stroke="#7d5"/>
<path d="M157 387.8v2.7" stroke="#7d4"/>
<path d="M159 384v3" stroke="#af3"/>
<path d="M161 377.6v3.5" stroke="#d81"/>
<path d="M163 375.1v3.4" stroke="#d51"/>
<path d="M165 377.2v3.6" stroke="#841"/>
<path d="M167 378.6v3.5" stroke="#a71"/>
<path d="M169 377.7v3.1" stroke="#b71"/>
<path d="M171 377.1v3.3" stroke="#c61"/>
<path d="M173 374.4v3" stroke="#e40"/>
<path d="M155 391.3v3" stroke="#6d8"/>
<path d="M157 390.1v2.7" stroke="#6d6"/>
<path d="M159 386.6v3" stroke="#9f5"/>
<path d="M161 380.7v3.5" stroke="#ca2"/>
<path d="M167 381.7v3.5" stroke="#892"/>
<path d="M169 380.5v3.1" stroke="#a81"/>
<path d="M139 396.9v3.3" stroke="#59a6d4"/>
<path d="M141 396.5v3.7" stroke="#56aad1"/>
<path d="M143 396.1v4" stroke="#55acce"/>
<path d="M145 396v4.1" stroke="#55abce"/>
<path d="M147 396.2v3.9" stroke="#54aacd"/>
<path d="M149 396.2v3.8" stroke="#55abce"/>
<path d="M151 395.8v4.1" stroke="#52b2cb"/>
<path d="M153 394.6v2.9" stroke="#5db"/>
<path d="M155 393.9v3" stroke="#5c9"/>
<path d="M157 392.4v3.3" stroke="#6e9"/>
<path d="M159 389.2v3" stroke="#7f5"/>
<path d="M161 383.8v3.1" stroke="#9b2"/>
<path d="M163 378.1v3.6" stroke="#b61"/>
<path d="M165 380.4v2.4" stroke="#a71"/>
<path d="M167 384.8v2.6" stroke="#792"/>
<path d="M169 383.2v2.3" stroke="#bc2"/>
<path d="M171 380.1v1.4" stroke="#d71"/>
<path d="M173 377v1.4" stroke="#d51"/>
<path d="M175 375v1.5" stroke="#d40"/>
<path d="M177 372.8v2" stroke="#f20"/>
<path d="M179 371.4v2.5" stroke="#c10"/>
<path d="M181 372v2M183 371.4v2.7" stroke="#c20"/>
<path d="M185 371.7v2.4" stroke="#e20"/>
<path d="M187 372.1v3.7" stroke="#d20"/>
<path d="M189 372.1v3M191 372v2.1" stroke="#e20"/>
<path d="M193 371.9v2.4" stroke="#d10"/>
<path d="M195 371.9v2.6" stroke="#e20"/>
<path d="M197 372v2.4" stroke="#d20"/>
<path d="M199 371.2v2.9" stroke="#f20"/>
<path d="M201 370.1v2.2" stroke="#d10"/>
<path d="M203 369.7v2.6" stroke="#e10"/>
<path d="M205 370.9v3.6" stroke="#c10"/>
<path d="M207 371.5v3.1" stroke="#f20"/>
<path d="M209 371.7v3.2" stroke="#b10"/>
<path d="M211 373.2v2.3M213 373v2.4" stroke="#d20"/>
<path d="M215 374.3v2.4" stroke="#b20"/>
<path d="M217 375.8v2.5" stroke="#c40"/>
<path d="M219 377.1v3.1" stroke="#a40"/>
<path d="M221 379.4v2.9" stroke="#851"/>
<path d="M223 382.4v1.8" stroke="#a81"/>
<path d="M231 397v2.1" stroke="#4aa5bf"/>
<path d="M233 397.1v2.8" stroke="#4b95c3"/>
<path d="M153 397.1v2.9" stroke="#53b9cd"/>
<path d="M155 396.6v3" stroke="#51b5c2"/>
<path d="M157 395.3v3.3" stroke="#6eb"/>
<path d="M159 391.8v3" stroke="#7e7"/>
<path d="M161 386.4v3.1" stroke="#8d3"/>
<path d="M163 381.3v3.6" stroke="#a81"/>
<path d="M165 382.3v2.4" stroke="#981"/>
<path d="M167 387v2.6" stroke="#7a2"/>
<path d="M169 385v2.3" stroke="#bc2"/>
<path d="M173 378v1.4" stroke="#e51"/>
<path d="M175 376.1v1.5" stroke="#e40"/>
<path d="M181 373.6v2M183 373.6v2.7" stroke="#c20"/>
<path d="M185 373.7v2.4" stroke="#e30"/>
<path d="M201 371.9v2.2" stroke="#d10"/>
<path d="M203 371.9v2.6" stroke="#e10"/>
<path d="M221 381.8v2.9" stroke="#861"/>
<path d="M223 383.7v1.8" stroke="#a81"/>
<path d="M159 394.3v3" stroke="#6e9"/>
<path d="M161 389.1v3.1" stroke="#8e4"/>
<path d="M163 384.6v3.6" stroke="#8b2"/>
<path d="M165 384.3v2.4" stroke="#8a2"/>
<path d="M183 375.9v2.7" stroke="#b30"/>
<path d="M185 375.6v2.4" stroke="#d30"/>
<path d="M161 391.8v3.1" stroke="#7f6"/>
<path d="M163 387.8v3.6" stroke="#7c3"/>
<path d="M165 386.3v2.4" stroke="#8b2"/>
<path d="M161 394.4v3.1" stroke="#6e9"/>
<path d="M163 391v3.6" stroke="#7e5"/>
<path d="M165 388.3v2.4" stroke="#7c3"/>
<path d="M163 394.2v3.6" stroke="#6d9"/>
<path d="M165 390.3v2.4" stroke="#7c4"/>
<path d="M155 399.2v3.6" stroke="#55a8d0"/>
<path d="M157 398.3v2.4" stroke="#52bbc8"/>
<path d="M159 396.9v3.1" stroke="#5ca"/>
<path d="M161 397.1v2.8" stroke="#5b9"/>
<path d="M163 397.5v2.5" stroke="#54ccb7"/>
<path d="M165 392.3v2.7" stroke="#8f6"/>
<path d="M167 389.1v3.4" stroke="#6b3"/>
<path d="M169 386.9v3.4" stroke="#ae3"/>
<path d="M171 381.1v3.9" stroke="#c71"/>
<path d="M173 378.9v3.3" stroke="#d61"/>
<path d="M175 377.3v2.8" stroke="#b30"/>
<path d="M177 374.5v2.6" stroke="#f30"/>
<path d="M179 373.5v3.1" stroke="#d20"/>
<path d="M181 375.3v3.2" stroke="#920"/>
<path d="M183 378.1v3.7" stroke="#b40"/>
<path d="M185 377.6v1.8" stroke="#f50"/>
<path d="M187 375.4v2.1" stroke="#c20"/>
<path d="M189 374.7v2.4" stroke="#d20"/>
<path d="M191 373.7v2.9" stroke="#e20"/>
<path d="M193 373.9v2.4" stroke="#d20"/>
<path d="M195 374.1v3.5" stroke="#e20"/>
<path d="M197 374.1v3" stroke="#d20"/>
<path d="M199 373.7v3" stroke="#e10"/>
<path d="M201 373.7v3.8" stroke="#c10"/>
<path d="M203 374v3.8" stroke="#e20"/>
<path d="M205 374.1v3.7" stroke="#c20"/>
<path d="M207 374.1v2.2" stroke="#e20"/>
<path d="M209 374.5v2.1" stroke="#c20"/>
<path d="M211 375.1v3.2" stroke="#e20"/>
<path d="M213 375v3.9" stroke="#c20"/>
<path d="M215 376.3v3.8M217 377.9v1.7" stroke="#c30"/>
<path d="M219 379.8v1" stroke="#a30"/>
<path d="M223 385.1v1" stroke="#b91"/>
<path d="M225 383.8v2.6" stroke="#761"/>
<path d="M227 389.2v2.8" stroke="#582"/>
<path d="M229 395.8v2.3" stroke="#4a7"/>
<path d="M231 398.8v3" stroke="#49a3ba"/>
<path d="M233 399.5v3" stroke="#4b95c2"/>
<path d="M157 400.3v2.4" stroke="#54abcf"/>
<path d="M159 399.6v3.1" stroke="#52b8cb"/>
<path d="M161 399.5v2.8" stroke="#4dadbf"/>
<path d="M163 399.6v2.5" stroke="#52b6c9"/>
<path d="M165 394.6v2.7" stroke="#7f8"/>
<path d="M167 392.2v3.4" stroke="#6c4"/>
<path d="M169 389.8v3.4" stroke="#9f4"/>
<path d="M171 384.6v3.9" stroke="#aa2"/>
<path d="M173 381.9v3.3" stroke="#c71"/>
<path d="M175 379.7v2.8" stroke="#a41"/>
<path d="M177 376.6v2.6" stroke="#f40"/>
<path d="M179 376.3v3.1" stroke="#c20"/>
<path d="M181 378.1v3.2" stroke="#930"/>
<path d="M183 381.4v3.7" stroke="#a51"/>
<path d="M185 379v1.8" stroke="#f51"/>
<path d="M189 376.6v2.4M191 376.2v2.9M193 375.9v2.4" stroke="#d20"/>
<path d="M207 375.9v2.2" stroke="#e20"/>
<path d="M209 376.2v2.1" stroke="#c20"/>
<path d="M225 385.9v2.6" stroke="#761"/>
<path d="M227 391.6v2.8" stroke="#593"/>
<path d="M229 397.7v2.3" stroke="#4a7"/>
<path d="M165 396.9v2.7" stroke="#7fb"/>
<path d="M167 395.2v3.4" stroke="#5b6"/>
<path d="M169 392.8v3.4" stroke="#8f6"/>
<path d="M171 388.2v3.9" stroke="#9c3"/>
<path d="M173 384.8v3.3" stroke="#b91"/>
<path d="M175 382.1v2.8" stroke="#a51"/>
<path d="M177 378.8v2.6" stroke="#f51"/>
<path d="M181 380.9v3.2" stroke="#830"/>
<path d="M183 384.7v3.7" stroke="#971"/>
<path d="M185 380.3v1.8" stroke="#f51"/>
<path d="M225 388.1v2.6" stroke="#671"/>
<path d="M227 394.1v2.8" stroke="#594"/>
<path d="M165 399.3v2.7" stroke="#6ed"/>
<path d="M167 398.3v3.4" stroke="#4a9"/>
<path d="M169 395.7v3.4" stroke="#8f9"/>
<path d="M171 391.7v3.9" stroke="#8e4"/>
<path d="M173 387.7v3.3" stroke="#ab2"/>
<path d="M175 384.6v2.8" stroke="#971"/>
<path d="M177 381v2.6" stroke="#f61"/>
<path d="M175 387v2.8" stroke="#881"/>
<path d="M177 383.1v2.6" stroke="#e81"/>
<path d="M161 402v3.3" stroke="#55a4d0"/>
<path d="M163 401.7v3.6" stroke="#55a4ce"/>
<path d="M165 401.6v3.6" stroke="#54a6ce"/>
<path d="M167 401.3v3.7" stroke="#52accb"/>
<path d="M169 398.7v2.4" stroke="#6ea"/>
<path d="M171 395.2v3.5" stroke="#7e6"/>
<path d="M173 390.7v3" stroke="#9d3"/>
<path d="M175 389.5v3.1" stroke="#792"/>
<path d="M177 385.3v3" stroke="#da1"/>
<path d="M179 379v3.6" stroke="#c40"/>
<path d="M181 383.7v3" stroke="#841"/>
<path d="M183 387.9v1.6" stroke="#bb2"/>
<path d="M185 381.7v1.6" stroke="#f61"/>
<path d="M187 377.1v3.7" stroke="#a20"/>
<path d="M189 378.6v4" stroke="#c30"/>
<path d="M191 378.7v2.7" stroke="#e40"/>
<path d="M193 377.8v2.7" stroke="#c20"/>
<path d="M195 377.2v2.5" stroke="#f30"/>
<path d="M197 376.7v2.6" stroke="#b20"/>
<path d="M199 376.3v3" stroke="#e20"/>
<path d="M201 377.1v3.1" stroke="#c20"/>
<path d="M203 377.5v2.6" stroke="#e20"/>
<path d="M205 377.4v3.5" stroke="#d20"/>
<path d="M207 377.7v2.3" stroke="#e20"/>
<path d="M209 377.9v2.4" stroke="#c20"/>
<path d="M211 377.9v3" stroke="#e20"/>
<path d="M213 378.5v2.1" stroke="#b20"/>
<path d="M215 379.6v2.6" stroke="#c30"/>
<path d="M217 379.3v2.8" stroke="#b30"/>
<path d="M219 380.5v3.5" stroke="#a30"/>
<path d="M221 384.1v2.5" stroke="#951"/>
<path d="M223 385.8v2.6" stroke="#861"/>
<path d="M225 390.2v1.8" stroke="#682"/>
<path d="M227 396.5v1.5" stroke="#5a4"/>
<path d="M229 399.6v3.3" stroke="#4a8"/>
<path d="M231 401.4v3.3" stroke="#4aa4bd"/>
<path d="M233 402.1v3" stroke="#4b96c2"/>
<path d="M169 400.6v2.4" stroke="#5db"/>
<path d="M171 398.3v3.5" stroke="#6d9"/>
<path d="M173 393.3v3" stroke="#8f4"/>
<path d="M175 392.1v3.1" stroke="#6a3"/>
<path d="M177 387.9v3" stroke="#cc2"/>
<path d="M179 382.2v3.6" stroke="#b51"/>
<path d="M181 386.2v3" stroke="#761"/>
<path d="M183 389.2v1.6" stroke="#bb2"/>
<path d="M185 382.9v1.6" stroke="#f61"/>
<path d="M187 380.4v3.7" stroke="#930"/>
<path d="M189 382.2v4" stroke="#b51"/>
<path d="M191 381v2.7" stroke="#e50"/>
<path d="M193 380.1v2.7" stroke="#b30"/>
<path d="M195 379.3v2.5" stroke="#e30"/>
<path d="M197 378.8v2.6" stroke="#b20"/>
<path d="M199 378.9v3" stroke="#d30"/>
<path d="M201 379.9v3.1" stroke="#c30"/>
<path d="M203 379.7v2.6" stroke="#d30"/>
<path d="M213 380.2v2.1" stroke="#a20"/>
<path d="M215 381.8v2.6" stroke="#c40"/>
<path d="M217 381.7v2.8" stroke="#a40"/>
<path d="M219 383.6v3.5" stroke="#951"/>
<path d="M221 386.2v2.5" stroke="#961"/>
<path d="M223 388v2.6" stroke="#871"/>
<path d="M225 391.6v1.8" stroke="#692"/>
<path d="M169 402.6v2.4" stroke="#55c9d4"/>
<path d="M171 401.4v3.5" stroke="#51ccbb"/>
<path d="M173 395.9v3" stroke="#8f6"/>
<path d="M175 394.8v3.1" stroke="#6b4"/>
<path d="M177 390.6v3" stroke="#ae3"/>
<path d="M179 385.4v3.6" stroke="#a71"/>
<path d="M181 388.8v3" stroke="#671"/>
<path d="M183 390.4v1.6" stroke="#bc2"/>
<path d="M185 384.2v1.6" stroke="#f61"/>
<path d="M187 383.6v3.7" stroke="#840"/>
<path d="M189 385.7v4" stroke="#a61"/>
<path d="M191 383.4v2.7" stroke="#d61"/>
<path d="M193 382.4v2.7" stroke="#b40"/>
<path d="M195 381.4v2.5" stroke="#e40"/>
<path d="M197 381v2.6" stroke="#b30"/>
<path d="M199 381.5v3" stroke="#d40"/>
<path d="M217 384.1v2.8" stroke="#a51"/>
<path d="M219 386.7v3.5" stroke="#861"/>
<path d="M221 388.3v2.5" stroke="#871"/>
<path d="M223 390.2v2.6" stroke="#782"/>
<path d="M225 393v1.8" stroke="#692"/>
<path d="M173 398.6v3" stroke="#7f9"/>
<path d="M175 397.5v3.1" stroke="#5b5"/>
<path d="M177 393.2v3" stroke="#9f4"/>
<path d="M179 388.6v3.6" stroke="#992"/>
<path d="M181 391.3v3" stroke="#682"/>
<path d="M173 401.2v3" stroke="#6ec"/>
<path d="M175 400.1v3.1" stroke="#4a7"/>
<path d="M177 395.8v3" stroke="#9f6"/>
<path d="M179 391.8v3.6" stroke="#7b3"/>
<path d="M181 393.9v3" stroke="#592"/>
<path d="M177 398.4v3" stroke="#8f9"/>
<path d="M179 395v3.6" stroke="#7d4"/>
<path d="M167 404.6v3.2" stroke="#56a1cf"/>
<path d="M169 404.6v3.3" stroke="#55a1cf"/>
<path d="M171 404.5v3.3" stroke="#54a1ce"/>
<path d="M173 403.9v3.9" stroke="#52b3cc"/>
<path d="M175 402.8v2.5" stroke="#53c6bc"/>
<path d="M177 401v3.3" stroke="#6da"/>
<path d="M179 398.2v2.9" stroke="#7f7"/>
<path d="M181 396.5v2.8" stroke="#7e4"/>
<path d="M183 391.6v2.6" stroke="#ac3"/>
<path d="M185 385.4v3.8" stroke="#b61"/>
<path d="M187 386.9v3" stroke="#a61"/>
<path d="M189 389.3v3.4" stroke="#881"/>
<path d="M191 385.7v3.8" stroke="#c71"/>
<path d="M193 384.6v3.1M195 383.6v3" stroke="#c51"/>
<path d="M197 383.2v3" stroke="#b40"/>
<path d="M199 384v2.7" stroke="#e61"/>
<path d="M201 382.6v2.5" stroke="#c30"/>
<path d="M203 381.9v2.2" stroke="#e40"/>
<path d="M205 380.6v2.3" stroke="#c20"/>
<path d="M207 379.6v3.1" stroke="#d20"/>
<path d="M209 379.9v3.7" stroke="#a20"/>
<path d="M211 380.5v3.6" stroke="#e30"/>
<path d="M213 382v3.6" stroke="#930"/>
<path d="M215 384v2.7" stroke="#d51"/>
<path d="M217 386.5v2.2" stroke="#741"/>
<path d="M219 389.8v2.2" stroke="#a91"/>
<path d="M221 390.4v2.4" stroke="#771"/>
<path d="M223 392.4v2.4" stroke="#7a2"/>
<path d="M225 394.4v2.9" stroke="#6a3"/>
<path d="M227 397.6v3" stroke="#5a4"/>
<path d="M229 402.5v3.3" stroke="#4a8"/>
<path d="M231 404.2v3.2" stroke="#4b9dc2"/>
<path d="M233 404.7v3.1" stroke="#4c96c3"/>
<path d="M175 404.9v2.5" stroke="#51b3ca"/>
<path d="M177 403.9v3.3" stroke="#54d2c2"/>
<path d="M179 400.7v2.9" stroke="#7e9"/>
<path d="M181 398.9v2.8" stroke="#7e6"/>
<path d="M183 393.8v2.6" stroke="#9e3"/>
<path d="M185 388.8v3.8" stroke="#a81"/>
<path d="M187 389.4v3" stroke="#981"/>
<path d="M189 392.3v3.4" stroke="#792"/>
<path d="M191 389.1v3.8" stroke="#b91"/>
<path d="M193 387.3v3.1" stroke="#b71"/>
<path d="M195 386.2v3" stroke="#b61"/>
<path d="M197 385.7v3" stroke="#a51"/>
<path d="M199 386.3v2.7" stroke="#e61"/>
<path d="M201 384.7v2.5" stroke="#b40"/>
<path d="M203 383.7v2.2" stroke="#e40"/>
<path d="M205 382.5v2.3" stroke="#c30"/>
<path d="M207 382.3v3.1" stroke="#d30"/>
<path d="M209 383.2v3.7" stroke="#a30"/>
<path d="M211 383.7v3.6" stroke="#d40"/>
<path d="M213 385.2v3.6" stroke="#940"/>
<path d="M215 386.3v2.7" stroke="#d61"/>
<path d="M217 388.2v2.2" stroke="#741"/>
<path d="M219 391.5v2.2" stroke="#aa2"/>
<path d="M221 392.4v2.4" stroke="#782"/>
<path d="M223 394.4v2.4" stroke="#7b3"/>
<path d="M225 396.9v2.9" stroke="#6b3"/>
<path d="M227 400.2v3" stroke="#5a5"/>
<path d="M179 403.2v2.9" stroke="#6eb"/>
<path d="M181 401.3v2.8" stroke="#6d8"/>
<path d="M183 396.1v2.6" stroke="#9f4"/>
<path d="M185 392.3v3.8" stroke="#8b2"/>
<path d="M187 392v3" stroke="#892"/>
<path d="M189 395.4v3.4" stroke="#7b3"/>
<path d="M191 392.5v3.8" stroke="#9c3"/>
<path d="M193 390v3.1" stroke="#a81"/>
<path d="M195 388.8v3" stroke="#a71"/>
<path d="M197 388.3v3" stroke="#a61"/>
<path d="M217 390v2.2" stroke="#751"/>
<path d="M219 393.3v2.2" stroke="#9b2"/>
<path d="M221 394.3v2.4" stroke="#692"/>
<path d="M223 396.4v2.4" stroke="#7b3"/>
<path d="M183 398.3v2.6" stroke="#8f5"/>
<path d="M185 395.7v3.8" stroke="#7c3"/>
<path d="M187 394.5v3" stroke="#7b3"/>
<path d="M191 395.8v3.8" stroke="#8e4"/>
<path d="M193 392.6v3.1" stroke="#9a2"/>
<path d="M195 391.4v3" stroke="#991"/>
<path d="M197 390.9v3" stroke="#981"/>
<path d="M183 400.6v2.6" stroke="#7f8"/>
<path d="M185 399.2v3.8" stroke="#6d5"/>
<path d="M187 397.1v3" stroke="#6b3"/>
<path d="M175 407.1v3.4" stroke="#54a3cd"/>
<path d="M177 406.8v3.7" stroke="#53a5cc"/>
<path d="M179 405.7v2.5" stroke="#52c9c4"/>
<path d="M181 403.8v3.4" stroke="#5da"/>
<path d="M183 402.8v3.8" stroke="#5c8"/>
<path d="M185 402.6v3.7" stroke="#6d8"/>
<path d="M187 399.7v2.9" stroke="#8f6"/>
<path d="M189 398.4v2.9" stroke="#6b3"/>
<path d="M191 399.2v3.1" stroke="#8f5"/>
<path d="M193 395.3v3.4" stroke="#9e3"/>
<path d="M195 394.1v2.2" stroke="#9a2"/>
<path d="M197 393.5v1.8" stroke="#882"/>
<path d="M199 388.7v2.3" stroke="#e81"/>
<path d="M201 386.8v2.6" stroke="#a40"/>
<path d="M203 385.5v2.8M205 384.4v3" stroke="#c40"/>
<path d="M207 385v3.8" stroke="#b40"/>
<path d="M209 386.5v3.4" stroke="#b51"/>
<path d="M211 386.9v3" stroke="#e61"/>
<path d="M213 388.4v2.8" stroke="#741"/>
<path d="M215 388.6v3.6" stroke="#d81"/>
<path d="M217 391.8v2.3" stroke="#651"/>
<path d="M219 395.1v2.3" stroke="#9c3"/>
<path d="M221 396.3v2.5" stroke="#692"/>
<path d="M223 398.4v3.1" stroke="#7d4"/>
<path d="M225 399.4v3.6" stroke="#5b3"/>
<path d="M227 402.8v2.9" stroke="#5b7"/>
<path d="M229 405.3v2.5" stroke="#4a9"/>
<path d="M231 407.1v3.2" stroke="#4c9ac3"/>
<path d="M179 407.9v2.5" stroke="#52b1cd"/>
<path d="M181 406.8v3.4" stroke="#51c5c6"/>
<path d="M183 406.2v3.8" stroke="#4ebbb6"/>
<path d="M185 405.9v3.7" stroke="#52cdb2"/>
<path d="M187 402.2v2.9" stroke="#7f8"/>
<path d="M189 401v2.9" stroke="#6b4"/>
<path d="M191 401.8v3.1" stroke="#7f6"/>
<path d="M193 398.2v3.4" stroke="#9f4"/>
<path d="M195 395.9v2.2" stroke="#8a2"/>
<path d="M197 394.9v1.8" stroke="#892"/>
<path d="M199 390.5v2.3" stroke="#e91"/>
<path d="M201 389v2.6" stroke="#a41"/>
<path d="M203 387.8v2.8M205 387.1v3" stroke="#b51"/>
<path d="M207 388.3v3.8" stroke="#a51"/>
<path d="M209 389.4v3.4" stroke="#a61"/>
<path d="M211 389.5v3" stroke="#d71"/>
<path d="M213 390.8v2.8" stroke="#751"/>
<path d="M215 391.8v3.6" stroke="#ca2"/>
<path d="M217 393.6v2.3" stroke="#661"/>
<path d="M219 397v2.3" stroke="#8c3"/>
<path d="M221 398.3v2.5" stroke="#593"/>
<path d="M223 401.1v3.1" stroke="#7e5"/>
<path d="M225 402.5v3.6" stroke="#5a5"/>
<path d="M227 405.4v2.9" stroke="#4b8"/>
<path d="M229 407.4v2.5" stroke="#45a5ae"/>
<path d="M187 404.7v2.9" stroke="#7fa"/>
<path d="M189 403.5v2.9" stroke="#5b6"/>
<path d="M197 396.3v1.8" stroke="#7a2"/>
<path d="M199 392.4v2.3" stroke="#da2"/>
<path d="M203 390.2v2.8" stroke="#a61"/>
<path d="M205 389.7v3" stroke="#b61"/>
<path d="M207 391.7v3.8" stroke="#961"/>
<path d="M209 392.4v3.4" stroke="#971"/>
<path d="M213 393.3v2.8" stroke="#661"/>
<path d="M215 394.9v3.6" stroke="#bc2"/>
<path d="M217 395.5v2.3" stroke="#671"/>
<path d="M219 399v2.3" stroke="#8d4"/>
<path d="M221 400.4v2.5" stroke="#5a3"/>
<path d="M197 397.8v1.8" stroke="#7a2"/>
<path d="M199 394.3v2.3" stroke="#cc2"/>
<path d="M203 392.5v2.8" stroke="#a71"/>
<path d="M205 392.4v3" stroke="#a81"/>
<path d="M181 409.8v3.3" stroke="#549fcd"/>
<path d="M183 409.7v3.4" stroke="#53a0cc"/>
<path d="M185 409.3v3.5" stroke="#52aacb"/>
<path d="M187 407.2v2.9" stroke="#5db"/>
<path d="M189 406v3.3" stroke="#5c8"/>
<path d="M191 404.5v3.5" stroke="#7f9"/>
<path d="M193 401.2v3.1" stroke="#7e4"/>
<path d="M195 397.6v3.3" stroke="#8c3"/>
<path d="M197 399.2v3" stroke="#592"/>
<path d="M199 396.1v3.1" stroke="#bd3"/>
<path d="M201 391.2v3.8" stroke="#951"/>
<path d="M203 394.9v3.6" stroke="#781"/>
<path d="M205 395v3.5" stroke="#9a2"/>
<path d="M207 395v3.3" stroke="#881"/>
<path d="M209 395.3v4.1" stroke="#9a2"/>
<path d="M211 392.1v3.3" stroke="#a71"/>
<path d="M213 395.7v2.8" stroke="#671"/>
<path d="M215 398.1v3.4" stroke="#9e3"/>
<path d="M217 397.4v3.6" stroke="#692"/>
<path d="M219 400.9v3.3" stroke="#6b3"/>
<path d="M221 402.4v3.2" stroke="#6d5"/>
<path d="M223 403.8v4.2" stroke="#5b6"/>
<path d="M225 405.7v3.7" stroke="#5b8"/>
<path d="M227 407.9v2.7" stroke="#4ba"/>
<path d="M229 409.5v3.4" stroke="#4b9ec2"/>
<path d="M187 409.6v2.9" stroke="#54d1ce"/>
<path d="M189 409v3.3" stroke="#4cb8ae"/>
<path d="M191 407.6v3.5" stroke="#6eb"/>
<path d="M193 403.9v3.1" stroke="#7e6"/>
<path d="M195 400.5v3.3" stroke="#8d4"/>
<path d="M197 401.8v3" stroke="#5a3"/>
<path d="M199 398.8v3.1" stroke="#af4"/>
<path d="M201 394.6v3.8" stroke="#871"/>
<path d="M203 398.1v3.6" stroke="#692"/>
<path d="M205 398.1v3.5" stroke="#8c3"/>
<path d="M207 398v3.3" stroke="#792"/>
<path d="M209 399v4.1" stroke="#8c3"/>
<path d="M211 395v3.3" stroke="#991"/>
<path d="M213 398.1v2.8" stroke="#582"/>
<path d="M215 401.1v3.4" stroke="#8f4"/>
<path d="M217 400.6v3.6" stroke="#6a3"/>
<path d="M219 403.8v3.3" stroke="#5b5"/>
<path d="M221 405.3v3.2" stroke="#6c7"/>
<path d="M223 407.6v4.2" stroke="#4b8"/>
<path d="M225 409v3.7" stroke="#47b2a7"/>
<path d="M227 410.2v2.7" stroke="#48a4b9"/>
<path d="M193 406.6v3.1" stroke="#6d8"/>
<path d="M195 403.4v3.3" stroke="#7e5"/>
<path d="M197 404.5v3" stroke="#5a4"/>
<path d="M199 401.4v3.1" stroke="#9f5"/>
<path d="M201 397.9v3.8" stroke="#692"/>
<path d="M203 401.3v3.6" stroke="#6a3"/>
<path d="M205 401.2v3.5" stroke="#8d4"/>
<path d="M207 400.9v3.3" stroke="#6a3"/>
<path d="M209 402.8v4.1" stroke="#7e4"/>
<path d="M211 397.9v3.3" stroke="#8b2"/>
<path d="M213 400.5v2.8" stroke="#582"/>
<path d="M215 404.2v3.4" stroke="#8f6"/>
<path d="M217 403.8v3.6" stroke="#5a4"/>
<path d="M219 406.7v3.3" stroke="#5b7"/>
<path d="M221 408.1v3.2" stroke="#5c9"/>
<path d="M195 406.3v3.3" stroke="#6e8"/>
<path d="M197 407.1v3" stroke="#4a6"/>
<path d="M199 404.1v3.1" stroke="#8f7"/>
<path d="M201 401.3v3.8" stroke="#6a3"/>
<path d="M203 404.6v3.6" stroke="#5b5"/>
<path d="M205 404.3v3.5" stroke="#7e6"/>
<path d="M207 403.8v3.3" stroke="#6b4"/>
<path d="M211 400.9v3.3" stroke="#7c3"/>
<path d="M213 402.9v2.8" stroke="#593"/>
<path d="M199 406.7v3.1" stroke="#8fa"/>
<path d="M201 404.7v3.8" stroke="#5b5"/>
<path d="M211 403.8v3.3" stroke="#7d5"/>
<path d="M213 405.3v2.8" stroke="#494"/>
<path d="M185 412.4v3.3" stroke="#53a0cd"/>
<path d="M187 412.1v3.6" stroke="#52a3cb"/>
<path d="M189 411.9v3.6" stroke="#52a5ca"/>
<path d="M191 410.7v2.5" stroke="#54d4c0"/>
<path d="M193 409.4v3.1M195 409.2v3.3" stroke="#5c9"/>
<path d="M197 409.7v3.1" stroke="#5ca"/>
<path d="M199 409.4v3.2" stroke="#5da"/>
<path d="M201 408.1v3.7" stroke="#6d9"/>
<path d="M203 407.8v3.4M205 407.3v3.7" stroke="#6d8"/>
<path d="M207 406.8v3.9" stroke="#6d7"/>
<path d="M209 406.5v3.4" stroke="#6e7"/>
<path d="M211 406.7v3.1" stroke="#6c6"/>
<path d="M213 407.7v3" stroke="#5c7"/>
<path d="M215 407.2v2.7" stroke="#6d7"/>
<path d="M217 407.1v3" stroke="#5c7"/>
<path d="M219 409.5v3.1" stroke="#4b9"/>
<path d="M221 410.9v2.4" stroke="#4eb6bd"/>
<path d="M223 411.4v2.3" stroke="#4aacba"/>
<path d="M225 412.3v3.3" stroke="#4d9ac5"/>
<path d="M191 412.8v2.5" stroke="#51b8cc"/>
<path d="M193 412.1v3.1" stroke="#4fb5c0"/>
<path d="M195 412.1v3.3" stroke="#4db1bd"/>
<path d="M197 412.4v3.1" stroke="#4dacc0"/>
<path d="M199 412.2v3.2" stroke="#4fbac5"/>
<path d="M201 411.3v3.7" stroke="#52ceb9"/>
<path d="M203 410.8v3.4M205 410.6v3.7" stroke="#5ca"/>
<path d="M207 410.2v3.9" stroke="#5c9"/>
<path d="M209 409.5v3.4" stroke="#6d9"/>
<path d="M211 409.4v3.1" stroke="#5c8"/>
<path d="M213 410.4v3M215 409.5v2.7" stroke="#5c9"/>
<path d="M217 409.7v3" stroke="#5b8"/>
<path d="M219 412.3v3.1" stroke="#46a8b0"/>
<path d="M221 413v2.4" stroke="#4da4c5"/>
<path d="M223 413.2v2.3" stroke="#4b9fc1"/>
<path d="M215 411.8v2.7" stroke="#50c1b0"/>
<path d="M217 412.3v3" stroke="#48adb0"/>
<path d="M189 415.1v3.3" stroke="#539fcc"/>
<path d="M191 414.8v3.5" stroke="#52a0cb"/>
<path d="M193 414.8v3.6" stroke="#529fcb"/>
<path d="M195 414.9v3.4" stroke="#519eca"/>
<path d="M201 414.6v3.7" stroke="#50a6ca"/>
<path d="M203 413.9v2.4" stroke="#4fb2c4"/>
<path d="M205 413.8v2.3" stroke="#4daec0"/>
<path d="M207 413.7v2.3" stroke="#50b9c2"/>
<path d="M209 412.5v2.9" stroke="#5ca"/>
<path d="M211 412.1v3.1" stroke="#5c9"/>
<path d="M213 413v2.8" stroke="#4ebdaf"/>
<path d="M215 414.1v2.2" stroke="#4ba9bc"/>
<path d="M217 415v3.4" stroke="#4e9bc6"/>
<path d="M219 415v3.3" stroke="#4e99c7"/>
<path d="M221 415v3.4" stroke="#4e99c6"/>
<path d="M203 415.8v2.4" stroke="#50a4c9"/>
<path d="M205 415.8v2.3" stroke="#4fa1c6"/>
<path d="M207 415.6v2.3" stroke="#4faac8"/>
<path d="M209 415v2.9" stroke="#4fb6c5"/>
<path d="M211 414.9v3.1" stroke="#4bacbc"/>
<path d="M213 415.3v2.8" stroke="#4ca6c1"/>
<path d="M215 415.9v2.2" stroke="#4c9fc2"/>
<path d="M207 417.5v3.4" stroke="#509cc9"/>
<path d="M209 417.5v3.5" stroke="#509cc8"/>
<path d="M211 417.6v3.3" stroke="#509bc8"/>
<path d="M115 447v2.6" stroke="#5eb0db"/>
<path d="M117 446.9v2.8" stroke="#5cacd8"/>
<path d="M123 447v2.3" stroke="#5eb7dc"/>
<path d="M125 446.9v2.5" stroke="#57acd0"/>
<path d="M127 447v3.2" stroke="#5da9d9"/>
<path d="M129 447.1v3.2" stroke="#5daad9"/>
<path d="M131 447.1v3.2" stroke="#5ba9d7"/>
<path d="M133 447.1v2.7" stroke="#5dacda"/>
<path d="M135 447.1v2.5" stroke="#5ba9d6"/>
<path d="M109 449.5v2.9" stroke="#60acdd"/>
<path d="M111 449.5v3.2" stroke="#5facdc"/>
<path d="M113 449.5v2.3" stroke="#5fbcdf"/>
<path d="M115 449.2v2.4" stroke="#57b2d1"/>
<path d="M117 449.2v3.1" stroke="#5cabd7"/>
<path d="M121 449.4v1.7" stroke="#5ac1d7"/>
<path d="M123 448.9v1.3" stroke="#60d1d6"/>
<path d="M125 449v1.1" stroke="#50b8be"/>
<path d="M127 449.8v1.7" stroke="#4daac3"/>
<path d="M129 449.8v1.5" stroke="#74e9fc"/>
<path d="M131 449.9v1.5" stroke="#48a8ba"/>
<path d="M133 449.4v3.3" stroke="#5db0dc"/>
<path d="M135 449.2v2.5" stroke="#59b3d5"/>
<path d="M137 449.4v2.2" stroke="#56adcf"/>
<path d="M105 452v2.4" stroke="#5fb3dd"/>
<path d="M107 451.9v2.4" stroke="#5caed8"/>
<path d="M109 452v2.8" stroke="#60acdd"/>
<path d="M111 452.3v2" stroke="#5eb2dc"/>
<path d="M113 451.4v2.2" stroke="#63c4e1"/>
<path d="M115 451.2v2.2" stroke="#57b1cd"/>
<path d="M117 452v2.3" stroke="#57acd0"/>
<path d="M119 451.8v1.8" stroke="#84ffff"/>
<path d="M121 450.7v1.4" stroke="#53b7c5"/>
<path d="M123 449.8v2.7" stroke="#52babc"/>
<path d="M125 449.7v2.8" stroke="#54bfc0"/>
<path d="M127 451.1v1.9" stroke="#4eadc1"/>
<path d="M129 450.9v2.8" stroke="#86ffff"/>
<path d="M131 451v2.8" stroke="#46a5ae"/>
<path d="M133 452.3v1.1" stroke="#70e3f5"/>
<path d="M135 451.3v2.2" stroke="#4eb8c2"/>
<path d="M137 451.2v3.7" stroke="#54aacd"/>
<path d="M139 451.8v2.3" stroke="#5dbcdc"/>
<path d="M141 452v1.8" stroke="#54aecc"/>
<path d="M143 452.1v2.1" stroke="#5ba8d7"/>
<path d="M145 452v2.3" stroke="#5ba8d6"/>
<path d="M121 451.7v1.4" stroke="#4ebfb7"/>
<path d="M123 452.1v2.7" stroke="#59add2"/>
<path d="M125 452.1v2.8" stroke="#5aafd5"/>
<path d="M127 452.6v1.9" stroke="#57a9d0"/>
<path d="M101 454v2.8" stroke="#62b0df"/>
<path d="M103 454.1v2.7" stroke="#61addd"/>
<path d="M105 453.9v2.8" stroke="#62b8e0"/>
<path d="M107 453.9v2" stroke="#58b6d1"/>
<path d="M109 454.4v1.4" stroke="#57b4d1"/>
<path d="M111 453.8v1.7" stroke="#65d5e2"/>
<path d="M113 453.2v2.8" stroke="#4fb5c0"/>
<path d="M115 453v2.7" stroke="#57aecd"/>
<path d="M117 453.9v2.1" stroke="#59b1d6"/>
<path d="M119 453.1v2" stroke="#69e6e8"/>
<path d="M121 452.7v2.2" stroke="#49b6b2"/>
<path d="M123 454.4v3" stroke="#55a8ce"/>
<path d="M125 454.5v1.3" stroke="#bff"/>
<path d="M129 453.3v1.4" stroke="#4faebe"/>
<path d="M131 453.4v1.5" stroke="#5cbfd8"/>
<path d="M133 453v2" stroke="#4bb2ba"/>
<path d="M135 453.1v2.3" stroke="#52c1cb"/>
<path d="M137 454.5v1.2" stroke="#55b2ce"/>
<path d="M139 453.7v2.6" stroke="#57b5d2"/>
<path d="M141 453.3v3.6" stroke="#53aecb"/>
<path d="M143 453.8v2.9" stroke="#5baad7"/>
<path d="M145 453.8v3" stroke="#5aa8d4"/>
<path d="M115 455.2v2.7" stroke="#51a9cc"/>
<path d="M117 455.6v2.1" stroke="#54b2d5"/>
<path d="M119 454.7v2" stroke="#66c7e5"/>
<path d="M121 454.5v2.2" stroke="#55adca"/>
<path d="M129 454.2v1.4" stroke="#4ba"/>
<path d="M131 454.6v1.5" stroke="#5ad0d5"/>
<path d="M133 454.7v2" stroke="#49b0bb"/>
<path d="M135 454.9v2.3" stroke="#54b7d2"/>
<path d="M101 456.4v3.3" stroke="#62afdf"/>
<path d="M103 456.5v2.7" stroke="#5eb3dc"/>
<path d="M105 456.3v2.6" stroke="#5db1d9"/>
<path d="M107 455.5v2.6" stroke="#77f5f3"/>
<path d="M109 455.4v2.3" stroke="#4cb6b1"/>
<path d="M111 455.1v3.1" stroke="#63d4d9"/>
<path d="M113 455.6v2.1" stroke="#49a2b1"/>
<path d="M115 457.5v2" stroke="#51a7d2"/>
<path d="M117 457.3v3.2" stroke="#6acbf6"/>
<path d="M119 456.3v2.4" stroke="#58aad2"/>
<path d="M121 456.3v2.7" stroke="#5aafd8"/>
<path d="M123 457v2" stroke="#56abd5"/>
<path d="M125 455.4v2.1" stroke="#6ee"/>
<path d="M127 453.1v2.5" stroke="#7eb"/>
<path d="M129 455.2v2.2" stroke="#499"/>
<path d="M131 455.7v3.5" stroke="#9bffff"/>
<path d="M133 456.3v1.9" stroke="#46a8af"/>
<path d="M137 455.2v1.9" stroke="#4b9"/>
<path d="M139 455.9v3.6" stroke="#53a8c9"/>
<path d="M141 456.5v3.5" stroke="#59abd6"/>
<path d="M143 456.3v3.3" stroke="#5caad8"/>
<path d="M145 456.4v3" stroke="#5aa8d5"/>
<path d="M149 456.5v2.8" stroke="#5ba8d7"/>
<path d="M151 456.5v2.6" stroke="#5aa7d5"/>
<path d="M113 457.3v2.1" stroke="#4ba0b9"/>
<path d="M115 459.1v2" stroke="#4fa5d4"/>
<path d="M119 458.3v2.4" stroke="#4ba5ca"/>
<path d="M121 458.6v2.7" stroke="#4faddb"/>
<path d="M123 458.6v2" stroke="#51a9d4"/>
<path d="M125 457.1v2.1" stroke="#66caec"/>
<path d="M127 455.2v2.5" stroke="#65e2d4"/>
<path d="M129 457v2.2" stroke="#449dac"/>
<path d="M125 458.8v2.1" stroke="#66ccf6"/>
<path d="M127 457.3v2.5" stroke="#60cce3"/>
<path d="M103 458.7v2.8" stroke="#63b9e2"/>
<path d="M105 458.6v2.8" stroke="#5cafd6"/>
<path d="M107 457.7v3.1" stroke="#84ffff"/>
<path d="M109 457.4v3.6" stroke="#48adac"/>
<path d="M111 457.8v3.7" stroke="#5dc3d9"/>
<path d="M113 459.1v2.4" stroke="#4ea5c0"/>
<path d="M115 460.7v1.6" stroke="#52abd7"/>
<path d="M117 460.1v2.7" stroke="#58b2df"/>
<path d="M119 460.3v2.3" stroke="#4da8d1"/>
<path d="M121 461v1.2" stroke="#56b7e3"/>
<path d="M123 460.2v1.2" stroke="#60c2e6"/>
<path d="M125 460.4v1.5" stroke="#4ba3c6"/>
<path d="M127 459.5v1.9" stroke="#a6ffff"/>
<path d="M131 458.8v1" stroke="#50a9c3"/>
<path d="M133 457.7v2.5" stroke="#5dbcd9"/>
<path d="M135 456.4v2.9" stroke="#5cb"/>
<path d="M137 456.7v3.3" stroke="#4a9"/>
<path d="M139 459.1v2" stroke="#59aad6"/>
<path d="M141 459.6v2.4" stroke="#59aad7"/>
<path d="M143 459.2v2.7" stroke="#5daada"/>
<path d="M149 458.8v3" stroke="#5ba8d7"/>
<path d="M151 458.7v3.1" stroke="#5aa7d5"/>
<path d="M131 459.5v1" stroke="#4aa"/>
<path d="M133 459.8v2.5" stroke="#5cbcdd"/>
<path d="M135 458.9v2.9" stroke="#57b8d2"/>
<path d="M137 459.6v3.3" stroke="#4ea0c2"/>
<path d="M139 460.7v2" stroke="#53add4"/>
<path d="M103 461.1v3" stroke="#60b2de"/>
<path d="M105 460.9v3.2" stroke="#5eafda"/>
<path d="M107 460.4v2.2" stroke="#58bcd3"/>
<path d="M109 460.6v2.1" stroke="#53b1c9"/>
<path d="M111 461.1v3.5" stroke="#5dafda"/>
<path d="M113 461.1v3.5" stroke="#5cafd9"/>
<path d="M115 462v2.8" stroke="#57a9d3"/>
<path d="M117 462.4v3.1" stroke="#57acda"/>
<path d="M119 462.2v2.4" stroke="#5fb8e3"/>
<path d="M121 461.8v2.7" stroke="#5aacd7"/>
<path d="M123 461v2.3" stroke="#5cafd9"/>
<path d="M125 461.5v2" stroke="#58aad3"/>
<path d="M127 461v3.4" stroke="#72dbf8"/>
<path d="M129 458.4v2.8" stroke="#6eb"/>
<path d="M131 460.1v2.1" stroke="#499"/>
<path d="M133 461.9v1.8" stroke="#71d5f7"/>
<path d="M135 461.4v2" stroke="#56abce"/>
<path d="M137 462.5v.9" stroke="#54b1d4"/>
<path d="M139 462.2v1.3" stroke="#57b5d7"/>
<path d="M141 461.7v2.6" stroke="#5ba7d7"/>
<path d="M143 461.5v3" stroke="#5daad9"/>
<path d="M107 462.2v2.2" stroke="#60b1dd"/>
<path d="M109 462.3v2.1" stroke="#5eadd9"/>
<path d="M123 462.9v2.3" stroke="#5aaedb"/>
<path d="M125 463.1v2" stroke="#58a9d5"/>
<path d="M129 460.8v2.8" stroke="#63dbdc"/>
<path d="M131 461.8v2.1" stroke="#419aa6"/>
<path d="M107 463.9v2.8" stroke="#61adde"/>
<path d="M109 464v2.7" stroke="#61aedf"/>
<path d="M111 464.2v2.4" stroke="#5caed9"/>
<path d="M113 464.2v2.2" stroke="#5fb2de"/>
<path d="M115 464.4v1.7" stroke="#59afd5"/>
<path d="M117 465.1v.8" stroke="#59b2d9"/>
<path d="M119 464.3v1.4" stroke="#60bde0"/>
<path d="M121 464.1v2" stroke="#59abd2"/>
<path d="M123 464.8v1.8" stroke="#5aaed9"/>
<path d="M125 464.7v2.1" stroke="#5aadd9"/>
<path d="M127 464v3.2" stroke="#5badd9"/>
<path d="M129 463.3v3.2" stroke="#62bde1"/>
<path d="M131 463.5v2.3" stroke="#57adcf"/>
<path d="M133 463.3v2.8" stroke="#5cb7d9"/>
<path d="M135 463v3.3" stroke="#57adcf"/>
<path d="M137 463v3.4" stroke="#59b2d5"/>
<path d="M139 463.1v3.4" stroke="#56accf"/>
<path d="M141 463.9v2.7" stroke="#5ca8d7"/>
<path d="M143 464.1v2.5" stroke="#5ca9d8"/>
<path d="M115 465.7v3.3" stroke="#5fafdb"/>
<path d="M117 465.5v3.4" stroke="#5db0d8"/>
<path d="M119 465.3v3.7" stroke="#5bb0d6"/>
<path d="M121 465.7v3.3" stroke="#5aaed5"/>
<path d="M125 466.4v2.7" stroke="#60aadc"/>
<path d="M127 466.8v2.2" stroke="#5aacd8"/>
<path d="M129 466v3" stroke="#5fb9df"/>
<path d="M131 465.4v3.7" stroke="#57add1"/>
<path d="M133 465.8v3.4" stroke="#5dabd9"/>
<path d="M135 465.9v3.1" stroke="#5daad8"/>
</g></g>
<line x1="45.0" y1="436.3" x2="112.4" y2="479.3" stroke="#c8c8c8" stroke-width="0.8"/>
<line x1="208.2" y1="479.3" x2="309.2" y2="383.0" stroke="#c8c8c8" stroke-width="0.8"/>
<text x="50.6" y="475.0" font-size="8.2" font-weight="normal" fill="#e0e0e0" textLength="27.2" lengthAdjust="spacingAndGlyphs">46.9 um</text>
<text x="280.0" y="437.9" font-size="8.2" font-weight="normal" fill="#e0e0e0" textLength="15.3" lengthAdjust="spacingAndGlyphs">62.5</text>
<text x="49.5" y="272.2" font-size="20.5" fill="#fff">C</text>
<rect x="320.4" y="258.5" width="11.7" height="218.0" fill="url(#cbg)" stroke="#777" stroke-width="0.6"/>
<text x="321.0" y="255.0" font-size="6.0" font-weight="normal" fill="#333">um</text>
<line x1="332.7" y1="258.5" x2="335.1" y2="258.5" stroke="#666" stroke-width="0.9"/>
<text x="348.3" y="260.8" font-size="5.8" font-weight="normal" fill="#333" text-anchor="end">11.9</text>
<line x1="332.7" y1="280.9" x2="335.1" y2="280.9" stroke="#666" stroke-width="0.9"/>
<text x="348.3" y="283.2" font-size="5.8" font-weight="normal" fill="#333" text-anchor="end">10.0</text>
<line x1="332.7" y1="304.5" x2="335.1" y2="304.5" stroke="#666" stroke-width="0.9"/>
<text x="348.3" y="306.8" font-size="5.8" font-weight="normal" fill="#333" text-anchor="end">8.0</text>
<line x1="332.7" y1="328.0" x2="335.1" y2="328.0" stroke="#666" stroke-width="0.9"/>
<text x="348.3" y="330.3" font-size="5.8" font-weight="normal" fill="#333" text-anchor="end">6.0</text>
<line x1="332.7" y1="351.6" x2="335.1" y2="351.6" stroke="#666" stroke-width="0.9"/>
<text x="348.3" y="353.9" font-size="5.8" font-weight="normal" fill="#333" text-anchor="end">4.0</text>
<line x1="332.7" y1="375.2" x2="335.1" y2="375.2" stroke="#666" stroke-width="0.9"/>
<text x="348.3" y="377.5" font-size="5.8" font-weight="normal" fill="#333" text-anchor="end">2.0</text>
<line x1="332.7" y1="398.7" x2="335.1" y2="398.7" stroke="#666" stroke-width="0.9"/>
<text x="348.3" y="401.0" font-size="5.8" font-weight="normal" fill="#333" text-anchor="end">0.0</text>
<line x1="332.7" y1="422.3" x2="335.1" y2="422.3" stroke="#666" stroke-width="0.9"/>
<text x="348.3" y="424.6" font-size="5.8" font-weight="normal" fill="#333" text-anchor="end">-2.0</text>
<line x1="332.7" y1="445.9" x2="335.1" y2="445.9" stroke="#666" stroke-width="0.9"/>
<text x="348.3" y="448.2" font-size="5.8" font-weight="normal" fill="#333" text-anchor="end">-4.0</text>
<line x1="332.7" y1="476.5" x2="335.1" y2="476.5" stroke="#666" stroke-width="0.9"/>
<text x="348.3" y="478.8" font-size="5.8" font-weight="normal" fill="#333" text-anchor="end">-6.6</text>
<line x1="332.9" y1="269.1" x2="334.9" y2="269.1" stroke="#555" stroke-width="0.7"/>
<line x1="332.9" y1="292.7" x2="334.9" y2="292.7" stroke="#555" stroke-width="0.7"/>
<line x1="332.9" y1="316.2" x2="334.9" y2="316.2" stroke="#555" stroke-width="0.7"/>
<line x1="332.9" y1="339.8" x2="334.9" y2="339.8" stroke="#555" stroke-width="0.7"/>
<line x1="332.9" y1="363.4" x2="334.9" y2="363.4" stroke="#555" stroke-width="0.7"/>
<line x1="332.9" y1="386.9" x2="334.9" y2="386.9" stroke="#555" stroke-width="0.7"/>
<line x1="332.9" y1="410.5" x2="334.9" y2="410.5" stroke="#555" stroke-width="0.7"/>
<line x1="332.9" y1="434.1" x2="334.9" y2="434.1" stroke="#555" stroke-width="0.7"/>
<line x1="332.9" y1="457.6" x2="334.9" y2="457.6" stroke="#555" stroke-width="0.7"/>
<line x1="332.9" y1="469.4" x2="334.9" y2="469.4" stroke="#555" stroke-width="0.7"/>
<linearGradient id="pgD" gradientUnits="userSpaceOnUse" x1="385" y1="440" x2="644" y2="330"><stop offset="0" stop-color="#4040c0"/><stop offset="1" stop-color="#121288"/></linearGradient>
<rect x="385.0" y="250.3" width="259.6" height="230.7" fill="#000"/>
<line x1="385.0" y1="250.7" x2="644.6" y2="250.7" stroke="#555" stroke-width="0.8"/>
<polygon points="385.0,385.8 505.4,294.1 644.6,339.8 644.6,369.3 547.5,481.0 483.3,481.0 385.0,434.1" fill="url(#pgD)"/>
<clipPath id="cD"><rect x="385.0" y="250.3" width="259.6" height="230.7"/></clipPath>
<g clip-path="url(#cD)"><g stroke-width="2.35" fill="none">
<path d="M523 303v2.2" stroke="#2328a4"/>
<path d="M525 303v2.2" stroke="#2227a1"/>
<path d="M527 303v2.3" stroke="#2228a3"/>
<path d="M529 302.9v2.3" stroke="#2126a0"/>
<path d="M523 304.8v2.8" stroke="#2329a6"/>
<path d="M525 304.8v2.3" stroke="#2228a1"/>
<path d="M527 304.9v2.8" stroke="#2228a2"/>
<path d="M529 304.9v3.3" stroke="#2126a0"/>
<path d="M523 307.2v3.4" stroke="#2328a4"/>
<path d="M525 306.7v3.9" stroke="#2228a2"/>
<path d="M527 307.3v3.3" stroke="#2227a0"/>
<path d="M555 312.6v.7" stroke="#2640c7"/>
<path d="M557 312.6v.8" stroke="#2033a5"/>
<path d="M555 312.9v2.6" stroke="#2742c6"/>
<path d="M557 312.9v2.6" stroke="#2034a3"/>
<path d="M559 315v2.2" stroke="#1f25a0"/>
<path d="M561 315v2.2" stroke="#1e249d"/>
<path d="M555 315.2v2.6" stroke="#212dac"/>
<path d="M557 315.2v2.6" stroke="#1e269b"/>
<path d="M559 316.8v3.4" stroke="#1f25a0"/>
<path d="M561 316.8v3.4" stroke="#1e249c"/>
<path d="M591 329.3v2.5" stroke="#1b1e97"/>
<path d="M593 329.3v2.5" stroke="#1a1e96"/>
<path d="M601 329.4v2.3" stroke="#1a1e98"/>
<path d="M603 329.4v2" stroke="#191e96"/>
<path d="M609 329.4v2.3" stroke="#181c95"/>
<path d="M611 329.4v2.3" stroke="#181c93"/>
<path d="M587 331.7v2.4" stroke="#1c209a"/>
<path d="M589 331.7v2.4" stroke="#1b1f98"/>
<path d="M591 331.4v3.2" stroke="#1b1e97"/>
<path d="M593 331.4v2.2" stroke="#1d26a1"/>
<path d="M595 331.8v1.9" stroke="#1b249b"/>
<path d="M601 331.3v3.3" stroke="#1a1e98"/>
<path d="M603 331v3.6" stroke="#191e96"/>
<path d="M609 331.3v3.3" stroke="#181c95"/>
<path d="M611 331.3v3.3" stroke="#181c93"/>
<path d="M615 331.8v2.3" stroke="#181e97"/>
<path d="M617 331.8v2.2" stroke="#171c94"/>
<path d="M585 334.2v2.3M587 333.7v2.9" stroke="#1c2099"/>
<path d="M589 333.7v3.3" stroke="#1b1f98"/>
<path d="M593 333.2v3.1" stroke="#1d27a4"/>
<path d="M595 333.2v1.6" stroke="#1f2fa9"/>
<path d="M597 334.2v.9" stroke="#1d2ba1"/>
<path d="M615 333.6v3.4" stroke="#181e97"/>
<path d="M617 333.6v2" stroke="#1c2ba7"/>
<path d="M619 334.2v1.4" stroke="#1a269c"/>
<path d="M633 334.2v2.3" stroke="#151a92"/>
<path d="M635 334.2v2.3" stroke="#151990"/>
<path d="M567 336.2v2.4" stroke="#1f26a1"/>
<path d="M569 336.3v2.4" stroke="#1e249c"/>
<path d="M575 336.6v2.3" stroke="#1d219b"/>
<path d="M577 336.6v2.3" stroke="#1d219a"/>
<path d="M583 336.5v1.1" stroke="#2133b3"/>
<path d="M585 336.1v1.5" stroke="#1f2ea5"/>
<path d="M587 336.2v3" stroke="#1b1f97"/>
<path d="M593 335.9v3.5" stroke="#1b219b"/>
<path d="M595 334.5v2.7" stroke="#2031ad"/>
<path d="M597 334.7v2.3" stroke="#1e2da3"/>
<path d="M599 336v2.9" stroke="#1a1e96"/>
<path d="M617 335.2v2.3" stroke="#1d2ca9"/>
<path d="M619 335.2v2.3" stroke="#1a269b"/>
<path d="M629 336.4v2" stroke="#171d96"/>
<path d="M631 336.5v2.3" stroke="#161c93"/>
<path d="M633 336.1v3.1" stroke="#161a92"/>
<path d="M635 336.1v3.1" stroke="#151990"/>
<path d="M595 336.7v2.7" stroke="#1c239e"/>
<path d="M597 336.6v2.3" stroke="#1b2299"/>
<path d="M617 337.1v2.3" stroke="#19209b"/>
<path d="M619 337.1v2.3" stroke="#181d93"/>
<path d="M567 338.2v3.4" stroke="#1f26a1"/>
<path d="M569 338.3v3.4" stroke="#1e249d"/>
<path d="M575 338.5v3.3" stroke="#1d219b"/>
<path d="M577 338.5v3.3" stroke="#1d219a"/>
<path d="M583 337.2v2.5" stroke="#2233b2"/>
<path d="M585 337.2v2.5" stroke="#1e2da1"/>
<path d="M597 338.5v3.3" stroke="#1b1f99"/>
<path d="M599 338.5v3" stroke="#1a1f97"/>
<path d="M603 338.8v2.3" stroke="#1a219a"/>
<path d="M605 339v2.1" stroke="#1a1f97"/>
<path d="M629 338v3.5" stroke="#171d96"/>
<path d="M631 338.4v3.2" stroke="#161c92"/>
<path d="M583 339.3v2.5" stroke="#1e26a1"/>
<path d="M585 339.3v2.5" stroke="#1c2399"/>
<path d="M595 341.4v2.3" stroke="#1b1f99"/>
<path d="M597 341.4v2.3" stroke="#1a1f97"/>
<path d="M603 340.7v3.4" stroke="#1b219a"/>
<path d="M605 340.7v3.5" stroke="#1a1f97"/>
<path d="M613 341.4v2.3" stroke="#181d95"/>
<path d="M615 341.4v2.4" stroke="#181c94"/>
<path d="M513 345.7v2.4" stroke="#262ba6"/>
<path d="M515 345.7v2.3" stroke="#262aa5"/>
<path d="M517 345.6v2.6" stroke="#252aa5"/>
<path d="M527 345.6v2.4" stroke="#242ba6"/>
<path d="M529 345.6v2.3" stroke="#242aa4"/>
<path d="M531 345.7v2.4" stroke="#2428a3"/>
<path d="M533 345.7v2.5" stroke="#2328a2"/>
<path d="M439 348.4v2.1" stroke="#2d37b2"/>
<path d="M503 348.3v2.3" stroke="#282da9"/>
<path d="M505 348.3v2.2" stroke="#272ca8"/>
<path d="M507 348.3v2.2" stroke="#272da8"/>
<path d="M509 348.1v2.4" stroke="#272ca8"/>
<path d="M511 347.9v2.7" stroke="#272ca7"/>
<path d="M513 347.7v2" stroke="#2838b7"/>
<path d="M515 347.6v1.6" stroke="#2736b1"/>
<path d="M517 347.8v1.5" stroke="#2734af"/>
<path d="M519 348v1.1" stroke="#2736b2"/>
<path d="M521 348v.8" stroke="#2739b6"/>
<path d="M523 348.1v.7" stroke="#2738b3"/>
<path d="M525 348.1v1" stroke="#2636b1"/>
<path d="M527 347.7v.9" stroke="#2b45c7"/>
<path d="M529 347.5v.7" stroke="#283fb6"/>
<path d="M531 347.7v1.3" stroke="#2638b2"/>
<path d="M533 347.9v1.6" stroke="#2531ab"/>
<path d="M535 348.1v2" stroke="#242da7"/>
<path d="M537 348.2v2.5" stroke="#2328a2"/>
<path d="M543 348.3v2.5" stroke="#2226a1"/>
<path d="M545 348.3v2.6" stroke="#2226a0"/>
<path d="M439 350.1v3.6" stroke="#2d36b0"/>
<path d="M491 350.9v2.5" stroke="#292eaa"/>
<path d="M493 350.8v1.9" stroke="#2933b1"/>
<path d="M495 350.7v1.4" stroke="#2936b4"/>
<path d="M497 350.6v1.5" stroke="#2835b0"/>
<path d="M503 350.2v.9" stroke="#2c44c5"/>
<path d="M505 350.1v1.3" stroke="#283eb5"/>
<path d="M507 350v1.8" stroke="#2939b6"/>
<path d="M531 348.5v1" stroke="#3159d2"/>
<path d="M533 349.1v1" stroke="#2a4bbc"/>
<path d="M535 349.7v2.1" stroke="#2536ab"/>
<path d="M537 350.3v2.5" stroke="#242ba5"/>
<path d="M539 350.5v2.1" stroke="#242da9"/>
<path d="M541 350.6v2.2" stroke="#232ca6"/>
<path d="M543 350.4v2.4" stroke="#242eaa"/>
<path d="M545 350.5v2.3" stroke="#222ba5"/>
<path d="M547 350.8v2.2" stroke="#2229a3"/>
<path d="M549 350.9v2.2" stroke="#2228a2"/>
<path d="M551 350.9v2.5" stroke="#21259f"/>
<path d="M481 353.5v2.6" stroke="#2b2fab"/>
<path d="M483 353.5v2.3" stroke="#2a2fab"/>
<path d="M485 353.5v2.4" stroke="#2a2eaa"/>
<path d="M487 353.5v2.4" stroke="#2a2fac"/>
<path d="M489 353.3v1.7" stroke="#2a38b7"/>
<path d="M491 353v1.4M493 352.3v2.2" stroke="#2a39b6"/>
<path d="M495 351.7v2" stroke="#2f4ed0"/>
<path d="M505 350.9v1" stroke="#2d53bc"/>
<path d="M527 338.6v1.6" stroke="#5c8"/>
<path d="M539 352.3v1.2" stroke="#2843b8"/>
<path d="M549 352.7v1" stroke="#273cb8"/>
<path d="M551 353v.6" stroke="#263ab4"/>
<path d="M553 353.2v1.5" stroke="#2232a9"/>
<path d="M555 353.4v2.6" stroke="#21269f"/>
<path d="M527 339.8v1.6" stroke="#6c8"/>
<path d="M471 356.1v2.5" stroke="#2c31ae"/>
<path d="M473 356.1v2" stroke="#2c33b0"/>
<path d="M475 356.1v1.7" stroke="#2b34b1"/>
<path d="M477 356v1.4" stroke="#2b38b7"/>
<path d="M483 355.4v.8" stroke="#2b41bb"/>
<path d="M511 343.5v.8" stroke="#5b9"/>
<path d="M517 336.9v.8" stroke="#9f5"/>
<path d="M555 355.6v1.7" stroke="#2232a6"/>
<path d="M511 344v.8" stroke="#5b9"/>
<path d="M467 358.6v2.4" stroke="#2d33b0"/>
<path d="M469 358.6v2.3" stroke="#2c32ae"/>
<path d="M471 358.2v2.3" stroke="#2c37b6"/>
<path d="M473 357.7v1.9" stroke="#2d3fbe"/>
<path d="M479 354.4v1.9" stroke="#4187ff"/>
<path d="M517 337.3v1.5" stroke="#8d3"/>
<path d="M519 333.7v2.9" stroke="#ac3"/>
<path d="M521 334v1.8" stroke="#892"/>
<path d="M535 340v2.8" stroke="#493"/>
<path d="M537 342.8v3.1" stroke="#7f9"/>
<path d="M539 339.2v4" stroke="#8f5"/>
<path d="M549 345.8v2.2" stroke="#5b9"/>
<path d="M551 347.4v1" stroke="#4aa"/>
<path d="M553 352.1v1.1" stroke="#369"/>
<path d="M555 356.9v.6" stroke="#2a49bb"/>
<path d="M559 358.5v2" stroke="#212ca4"/>
<path d="M479 355.8v1.9" stroke="#3d77f9"/>
<path d="M517 338.3v1.5" stroke="#8c3"/>
<path d="M519 336.3v2.9" stroke="#9d3"/>
<path d="M465 361.1v2.5" stroke="#2d34b2"/>
<path d="M467 360.6v2.4" stroke="#2d35b3"/>
<path d="M469 360.5v1.7" stroke="#2d42c2"/>
<path d="M471 360.2v.5" stroke="#3152d4"/>
<path d="M487 347.1v.7" stroke="#5c8"/>
<path d="M489 342.8v2" stroke="#8f6"/>
<path d="M495 346.1v1.9" stroke="#7fa"/>
<path d="M497 344.3v2.5" stroke="#5c6"/>
<path d="M499 342v2.3" stroke="#8f5"/>
<path d="M503 341v.5" stroke="#8e4"/>
<path d="M505 338.8v2.2" stroke="#7b3"/>
<path d="M507 339.1v1.4" stroke="#9d3"/>
<path d="M509 337.3v2.9" stroke="#7a2"/>
<path d="M511 337v3.3" stroke="#8b2"/>
<path d="M513 336.1v2.8M515 336.5v3.4" stroke="#792"/>
<path d="M517 339.4v1.4" stroke="#7b3"/>
<path d="M519 338.8v1.2" stroke="#9d3"/>
<path d="M521 335.3v2.3" stroke="#782"/>
<path d="M523 335.7v2.6" stroke="#892"/>
<path d="M525 337.3v2.6" stroke="#7a2"/>
<path d="M527 337.1v2.6" stroke="#8c3"/>
<path d="M529 336.5v2.3" stroke="#8a2"/>
<path d="M531 336.7v3.2" stroke="#692"/>
<path d="M533 337.6v3.4" stroke="#7b3"/>
<path d="M557 358v1.7" stroke="#2d55c2"/>
<path d="M559 360v.9" stroke="#2541ac"/>
<path d="M561 361v2.1" stroke="#212ba3"/>
<path d="M487 347.4v.7" stroke="#5c7"/>
<path d="M489 344.4v2" stroke="#8f7"/>
<path d="M495 347.6v1.9" stroke="#7fa"/>
<path d="M497 346.4v2.5" stroke="#5c7"/>
<path d="M499 343.9v2.3" stroke="#8f6"/>
<path d="M503 341.1v.5" stroke="#8d4"/>
<path d="M505 340.6v2.2" stroke="#6b3"/>
<path d="M513 338.5v2.8" stroke="#7a2"/>
<path d="M515 339.5v3.4" stroke="#6a3"/>
<path d="M517 340.5v1.4" stroke="#7b3"/>
<path d="M521 337.2v2.3" stroke="#792"/>
<path d="M523 337.9v2.6" stroke="#7a2"/>
<path d="M525 339.5v2.6" stroke="#6a3"/>
<path d="M527 339.3v2.6" stroke="#8c3"/>
<path d="M529 338.5v2.3" stroke="#8b2"/>
<path d="M531 339.5v3.2" stroke="#692"/>
<path d="M533 340.5v3.4" stroke="#7c3"/>
<path d="M521 339.1v2.3" stroke="#692"/>
<path d="M523 340v2.6" stroke="#7b3"/>
<path d="M617 363.8v2.4" stroke="#191e97"/>
<path d="M619 363.8v1.6" stroke="#1a229c"/>
<path d="M621 363.7v2.1" stroke="#192098"/>
<path d="M461 363.8v2.6" stroke="#2e32b0"/>
<path d="M463 363.7v2.3" stroke="#2e34b1"/>
<path d="M465 363.2v1.5" stroke="#2f47cc"/>
<path d="M483 345.7v3.2" stroke="#8f6"/>
<path d="M485 343.9v2.4" stroke="#5a3"/>
<path d="M491 338.8v2.8" stroke="#ad3"/>
<path d="M501 340.8v2.5" stroke="#8c3"/>
<path d="M503 341.3v2" stroke="#7b3"/>
<path d="M505 342.5v1.8" stroke="#8d3"/>
<path d="M507 340.1v2.4" stroke="#8b3"/>
<path d="M509 339.8v2.2" stroke="#8b2"/>
<path d="M511 339.9v2.1" stroke="#7a2"/>
<path d="M513 340.9v1.5M515 342.5v.9" stroke="#7b3"/>
<path d="M517 341.5v2.4" stroke="#8d3"/>
<path d="M519 339.6v3.5" stroke="#8c3"/>
<path d="M521 341v1.2" stroke="#692"/>
<path d="M527 341.5v1.7" stroke="#7b3"/>
<path d="M529 340.4v2.9M535 341.8v1.8" stroke="#8c3"/>
<path d="M537 339.3v2.4" stroke="#9c3"/>
<path d="M539 340.3v2" stroke="#682"/>
<path d="M541 339v1.8" stroke="#ad3"/>
<path d="M543 336.8v2.3" stroke="#771"/>
<path d="M547 342.6v.5" stroke="#6b3"/>
<path d="M549 341.9v1.9" stroke="#7c3"/>
<path d="M551 340.9v3.1" stroke="#8d3"/>
<path d="M553 344.3v2.8" stroke="#493"/>
<path d="M559 360.5v1.8" stroke="#294ab5"/>
<path d="M561 362.7v2.2" stroke="#2233a6"/>
<path d="M563 363.6v2.6" stroke="#20269f"/>
<path d="M485 346v2.4" stroke="#5b4"/>
<path d="M491 341.2v2.8" stroke="#9e3"/>
<path d="M501 342.8v2.5" stroke="#7c4"/>
<path d="M503 342.9v2" stroke="#6b3"/>
<path d="M507 342.1v2.4" stroke="#8c3"/>
<path d="M509 341.6v2.2" stroke="#7b3"/>
<path d="M511 341.5v2.1" stroke="#7b2"/>
<path d="M513 342v1.5" stroke="#7a2"/>
<path d="M537 341.3v2.4" stroke="#8c3"/>
<path d="M539 341.9v2" stroke="#692"/>
<path d="M541 340.4v1.8" stroke="#ad3"/>
<path d="M543 338.7v2.3" stroke="#782"/>
<path d="M547 342.7v.5" stroke="#7a2"/>
<path d="M549 343.4v1.9" stroke="#7c3"/>
<path d="M559 361.9v1.8" stroke="#2741af"/>
<path d="M501 344.9v2.5" stroke="#7d4"/>
<path d="M503 344.5v2" stroke="#6b3"/>
<path d="M541 341.8v1.8" stroke="#9e3"/>
<path d="M543 340.5v2.3" stroke="#792"/>
<path d="M601 366.1v2.3" stroke="#1c229c"/>
<path d="M603 366.2v2.2" stroke="#1b2099"/>
<path d="M617 365.8v3.2" stroke="#191e97"/>
<path d="M619 365v3.9" stroke="#1a229b"/>
<path d="M621 365.4v3.6" stroke="#192098"/>
<path d="M459 366.3v2.6" stroke="#2e33b1"/>
<path d="M461 366v1.3" stroke="#2f48cd"/>
<path d="M479 345.2v1.6" stroke="#8d4"/>
<path d="M487 345v.8" stroke="#9f4"/>
<path d="M489 343.4v2.5" stroke="#582"/>
<path d="M491 343.6v2.9" stroke="#9e4"/>
<path d="M493 342.9v2.1" stroke="#682"/>
<path d="M505 343.9v1.4" stroke="#8c3"/>
<path d="M507 344v1" stroke="#7b3"/>
<path d="M509 343.3v1.8" stroke="#8c3"/>
<path d="M511 343.2v1.5" stroke="#7a2"/>
<path d="M513 343.1v1.9" stroke="#8b3"/>
<path d="M515 343v3" stroke="#7a2"/>
<path d="M517 343.5v2.3" stroke="#8c3"/>
<path d="M519 342.7v2.1" stroke="#8b3"/>
<path d="M521 341.8v2" stroke="#7a2"/>
<path d="M523 341.7v2" stroke="#8b2"/>
<path d="M525 341.7v2M527 342.8v1.7" stroke="#7a2"/>
<path d="M529 343v2.4" stroke="#8c3"/>
<path d="M531 341.1v3.9" stroke="#9b2"/>
<path d="M533 341.6v4.2" stroke="#682"/>
<path d="M535 343.2v3.4" stroke="#7c3"/>
<path d="M537 343.2v2" stroke="#8c3"/>
<path d="M539 343.4v1.7" stroke="#692"/>
<path d="M541 343.3v1.7" stroke="#9d3"/>
<path d="M543 342.4v2.2M545 341v2.5" stroke="#8a2"/>
<path d="M547 342.8v2.2" stroke="#682"/>
<path d="M549 345v2.6" stroke="#7c3"/>
<path d="M551 343.7v2.5" stroke="#7b3"/>
<path d="M553 346.7v2.7" stroke="#593"/>
<path d="M555 350v2" stroke="#7f8"/>
<path d="M561 364.5v1.9" stroke="#263bb0"/>
<path d="M563 365.8v1.7" stroke="#2234a8"/>
<path d="M565 366.3v2.7" stroke="#20259e"/>
<path d="M479 346.4v1.6" stroke="#8d4"/>
<path d="M487 345.5v.8" stroke="#9e4"/>
<path d="M489 345.5v2.5" stroke="#592"/>
<path d="M521 343.4v2" stroke="#7a2"/>
<path d="M523 343.3v2" stroke="#8b2"/>
<path d="M525 343.3v2M527 344.1v1.7" stroke="#7a2"/>
<path d="M539 344.7v1.7" stroke="#692"/>
<path d="M541 344.6v1.7" stroke="#9d3"/>
<path d="M545 343.1v2.5" stroke="#8b2"/>
<path d="M547 344.6v2.2" stroke="#592"/>
<path d="M551 345.8v2.5" stroke="#7c3"/>
<path d="M553 349v2.7" stroke="#494"/>
<path d="M601 368v3.4" stroke="#1c229c"/>
<path d="M603 368v2.4" stroke="#1d27a1"/>
<path d="M605 368.6v1.9" stroke="#1c249c"/>
<path d="M453 369v2.4" stroke="#2f34b2"/>
<path d="M455 369v1.8" stroke="#2e39b7"/>
<path d="M461 366.9v.9" stroke="#3966ef"/>
<path d="M473 347v.8" stroke="#7b3"/>
<path d="M475 344.9v2.6" stroke="#8c3"/>
<path d="M477 345.1v3.1" stroke="#692"/>
<path d="M479 347.7v1.1" stroke="#8d4"/>
<path d="M481 346.7v1.8" stroke="#7b3"/>
<path d="M483 343.5v3.4" stroke="#ad3"/>
<path d="M485 343.6v1.5" stroke="#8a2"/>
<path d="M491 346.1v.9" stroke="#9d3"/>
<path d="M493 344.7v2.3" stroke="#792"/>
<path d="M495 345v2.2" stroke="#8b3"/>
<path d="M497 345.2v2.1" stroke="#7a2"/>
<path d="M499 344.1v2.3" stroke="#8b2"/>
<path d="M501 343.9v2.4" stroke="#792"/>
<path d="M503 345.4v2.1M505 344.9v2.8M507 344.6v2.9" stroke="#8b2"/>
<path d="M509 344.7v2.5" stroke="#8a2"/>
<path d="M511 344.3v2.1" stroke="#7a2"/>
<path d="M513 344.6v1.8" stroke="#8b2"/>
<path d="M515 345.6v1.2" stroke="#7a2"/>
<path d="M517 345.5v2.4" stroke="#7b2"/>
<path d="M519 344.5v2.8" stroke="#9c3"/>
<path d="M521 345v2" stroke="#692"/>
<path d="M523 344.9v2" stroke="#8b3"/>
<path d="M525 344.9v2.1" stroke="#7a2"/>
<path d="M527 345.3v2.7" stroke="#8c3"/>
<path d="M529 345v3.2" stroke="#7a2"/>
<path d="M531 344.6v3.7" stroke="#8c3"/>
<path d="M533 345.4v2.9" stroke="#692"/>
<path d="M535 346.1v3M537 344.8v3.8" stroke="#8c3"/>
<path d="M539 346.1v1.8" stroke="#6a2"/>
<path d="M541 345.9v1.7" stroke="#9d3"/>
<path d="M543 344.3v3" stroke="#8a2"/>
<path d="M545 345.1v1.4" stroke="#8b2"/>
<path d="M547 346.3v1.7" stroke="#582"/>
<path d="M549 347.2v2.5" stroke="#7d4"/>
<path d="M551 347.8v.6" stroke="#8d3"/>
<path d="M555 351.6v1.2" stroke="#6d6"/>
<path d="M557 353.3v2" stroke="#496"/>
<path d="M563 367.1v1.5" stroke="#263dae"/>
<path d="M565 368.6v1.2" stroke="#2334aa"/>
<path d="M567 369v2.1" stroke="#2128a2"/>
<path d="M475 347.1v2.6" stroke="#8c3"/>
<path d="M477 347.8v3.1" stroke="#693"/>
<path d="M479 348.4v1.1" stroke="#8d3"/>
<path d="M481 348v1.8" stroke="#7b3"/>
<path d="M483 346.5v3.4" stroke="#9e3"/>
<path d="M485 344.6v1.5" stroke="#892"/>
<path d="M499 346v2.3" stroke="#8c3"/>
<path d="M501 345.9v2.4M511 346.1v2.1" stroke="#7a2"/>
<path d="M513 346v1.8" stroke="#8b2"/>
<path d="M523 346.6v2" stroke="#8c3"/>
<path d="M525 346.6v2.1" stroke="#7a2"/>
<path d="M547 347.7v1.7" stroke="#592"/>
<path d="M549 349.2v2.5" stroke="#7d4"/>
<path d="M555 352.5v1.2" stroke="#6d5"/>
<path d="M557 354.9v2" stroke="#496"/>
<path d="M603 370.1v2.1" stroke="#1e27a3"/>
<path d="M605 370.1v2.1" stroke="#1c249c"/>
<path d="M603 371.7v2.1" stroke="#1c209a"/>
<path d="M605 371.7v2.1" stroke="#1b1f97"/>
<path d="M451 371.3v1.8" stroke="#2f41c5"/>
<path d="M453 371v1.2" stroke="#2e40bc"/>
<path d="M455 370.4v1.2" stroke="#3250d4"/>
<path d="M465 355.2v1" stroke="#7f8"/>
<path d="M467 349.6v3" stroke="#9f4"/>
<path d="M469 348.5v.9" stroke="#8d3"/>
<path d="M471 347.5v1.2" stroke="#8b2"/>
<path d="M473 347.4v2.9" stroke="#692"/>
<path d="M475 349.3v1.2" stroke="#7b3"/>
<path d="M479 349.1v1.2" stroke="#8d3"/>
<path d="M481 349.4v.7" stroke="#6a3"/>
<path d="M485 345.7v3.3" stroke="#ab2"/>
<path d="M487 345.1v2.4" stroke="#781"/>
<path d="M489 346.6v2.3" stroke="#7a2"/>
<path d="M491 346.6v2.8" stroke="#9b2"/>
<path d="M493 346.6v2.4" stroke="#792"/>
<path d="M495 346.9v2.5" stroke="#8b2"/>
<path d="M497 346.9v2.2" stroke="#8a2"/>
<path d="M499 347.9v1.5" stroke="#7a2"/>
<path d="M501 347.8v2.4" stroke="#8b3"/>
<path d="M503 347.1v3.5" stroke="#8b2"/>
<path d="M505 347.3v3.7" stroke="#7a2"/>
<path d="M507 347.1v2.3" stroke="#8b2"/>
<path d="M509 346.8v2.4" stroke="#7a2"/>
<path d="M511 347.8v2.9" stroke="#7b2"/>
<path d="M513 347.5v2.8" stroke="#8c3"/>
<path d="M515 346.4v4.1" stroke="#7a2"/>
<path d="M517 347.5v2.2" stroke="#8a2"/>
<path d="M519 346.9v1.5" stroke="#8b2"/>
<path d="M521 346.7v2.4" stroke="#692"/>
<path d="M523 348.2v2.8M525 348.3v.9" stroke="#8c3"/>
<path d="M527 347.7v1.6" stroke="#8a2"/>
<path d="M529 347.8v3.1" stroke="#6a2"/>
<path d="M531 347.9v2.9" stroke="#8c3"/>
<path d="M533 348v2.2" stroke="#7a2"/>
<path d="M535 348.8v1.8" stroke="#7b3"/>
<path d="M537 348.2v2.7" stroke="#8c3"/>
<path d="M539 347.5v3.4" stroke="#7b3"/>
<path d="M541 347.2v3.6" stroke="#8b3"/>
<path d="M543 346.8v2.2" stroke="#7a2"/>
<path d="M545 346.1v2.4" stroke="#9b2"/>
<path d="M547 349v1.1" stroke="#692"/>
<path d="M551 348v2M553 348.3v2.1" stroke="#7b3"/>
<path d="M565 369.4v3.2" stroke="#2436a9"/>
<path d="M567 370.7v2.8" stroke="#2129a2"/>
<path d="M569 371.4v2.7" stroke="#20249d"/>
<path d="M465 355.8v1" stroke="#7f7"/>
<path d="M467 352.2v3" stroke="#8f5"/>
<path d="M469 349v.9" stroke="#9c3"/>
<path d="M479 349.9v1.2" stroke="#8d3"/>
<path d="M481 349.7v.7" stroke="#7a2"/>
<path d="M487 347.1v2.4" stroke="#782"/>
<path d="M489 348.4v2.3" stroke="#7a2"/>
<path d="M507 349v2.3M509 348.9v2.4" stroke="#7b3"/>
<path d="M519 348v1.5" stroke="#8b2"/>
<path d="M521 348.7v2.4" stroke="#692"/>
<path d="M543 348.6v2.2" stroke="#7b2"/>
<path d="M545 348.1v2.4" stroke="#8b3"/>
<path d="M551 349.6v2M553 350v2.1" stroke="#7b3"/>
<path d="M447 374.3v2" stroke="#2f3ab9"/>
<path d="M449 374.1v1.7" stroke="#2f39b6"/>
<path d="M451 372.7v1.9" stroke="#3454de"/>
<path d="M459 360.2v2.2" stroke="#6ec"/>
<path d="M469 349.5v3.3" stroke="#ad3"/>
<path d="M471 348.2v1.7" stroke="#892"/>
<path d="M485 348.6v1" stroke="#9a2"/>
<path d="M487 349.1v1.8" stroke="#782"/>
<path d="M489 350.3v1.7M491 349v2" stroke="#8b2"/>
<path d="M493 348.7v1.8M495 349v2.5M497 348.7v2.2M499 348.9v2.2" stroke="#8a2"/>
<path d="M501 349.8v2.9" stroke="#7a2"/>
<path d="M503 350.2v1.5" stroke="#8b3"/>
<path d="M505 350.5v.9" stroke="#7a2"/>
<path d="M507 350.9v1.2" stroke="#8b3"/>
<path d="M509 350.9v1.4M511 350.3v2.6" stroke="#7b3"/>
<path d="M513 349.9v3.2" stroke="#8b3"/>
<path d="M515 350.1v3.1" stroke="#7a2"/>
<path d="M517 349.3v2.7" stroke="#9c3"/>
<path d="M519 349.1v2.3" stroke="#792"/>
<path d="M521 350.7v2.6" stroke="#6a2"/>
<path d="M523 350.6v2.3" stroke="#9d3"/>
<path d="M525 348.9v1.8" stroke="#8a2"/>
<path d="M527 348.8v2.2" stroke="#792"/>
<path d="M529 350.5v2.6" stroke="#7a2"/>
<path d="M531 350.4v1.4" stroke="#9c3"/>
<path d="M533 349.8v2.2" stroke="#792"/>
<path d="M535 350.2v2.5" stroke="#8b3"/>
<path d="M537 350.5v2.4" stroke="#7b2"/>
<path d="M539 350.5v1.3" stroke="#9c3"/>
<path d="M545 350.2v1.2" stroke="#7a2"/>
<path d="M547 349.7v2" stroke="#8b2"/>
<path d="M549 349.1v2.7" stroke="#8a2"/>
<path d="M551 351.1v1.8" stroke="#692"/>
<path d="M557 350.9v1.3" stroke="#7b3"/>
<path d="M559 355.2v2" stroke="#493"/>
<path d="M569 373.8v1.7" stroke="#2231a7"/>
<path d="M571 374.1v2.7" stroke="#20249d"/>
<path d="M459 362v2.2" stroke="#6ec"/>
<path d="M491 350.6v2M493 350.1v1.8" stroke="#8b2"/>
<path d="M497 350.5v2.2" stroke="#8a2"/>
<path d="M499 350.7v2.2" stroke="#7a2"/>
<path d="M525 350.3v1.8" stroke="#8a2"/>
<path d="M527 350.7v2.2" stroke="#7a2"/>
<path d="M557 351.7v1.3" stroke="#7b3"/>
<path d="M559 356.8v2" stroke="#494"/>
<path d="M445 376.7v1.8" stroke="#303ec0"/>
<path d="M447 375.9v1" stroke="#324bcf"/>
<path d="M491 352.2v1.3" stroke="#8a2"/>
<path d="M493 351.5v1.7" stroke="#9b2"/>
<path d="M495 351.1v1.1M505 351.1v.5" stroke="#892"/>
<path d="M513 352.7v.5" stroke="#8a2"/>
<path d="M515 352.7v1.7" stroke="#7a2"/>
<path d="M517 351.6v2.4" stroke="#8b2"/>
<path d="M519 351v3" stroke="#792"/>
<path d="M521 352.9v1.8" stroke="#7b3"/>
<path d="M523 352.5v2.9" stroke="#8c3"/>
<path d="M525 351.6v3.2M527 352.5v2" stroke="#8a2"/>
<path d="M529 352.6v2.8" stroke="#7a2"/>
<path d="M531 351.5v2.4" stroke="#9b3"/>
<path d="M533 351.5v2.3" stroke="#792"/>
<path d="M535 352.3v2.8" stroke="#8c3"/>
<path d="M537 352.5v1.7" stroke="#7a2"/>
<path d="M539 351.4v1.7" stroke="#9b2"/>
<path d="M541 350.3v2.1" stroke="#892"/>
<path d="M543 350.3v3.1" stroke="#9a2"/>
<path d="M545 351v3" stroke="#792"/>
<path d="M547 351.3v2.4" stroke="#9b2"/>
<path d="M549 351.4v1.9" stroke="#792"/>
<path d="M551 352.5v1.1" stroke="#8b2"/>
<path d="M553 351.4v2" stroke="#7a2"/>
<path d="M555 350.4v2.4" stroke="#9b2"/>
<path d="M561 360v1.3" stroke="#6e7"/>
<path d="M563 362.7v1.5" stroke="#387"/>
<path d="M571 376.3v2" stroke="#212ba5"/>
<path d="M573 376.6v2.2" stroke="#2028a1"/>
<path d="M517 353.6v2.4" stroke="#8c3"/>
<path d="M519 353.6v3" stroke="#7a2"/>
<path d="M521 354.3v1.8" stroke="#7b3"/>
<path d="M531 353.5v2.4" stroke="#8c3"/>
<path d="M533 353.4v2.3" stroke="#7a2"/>
<path d="M539 352.7v1.7" stroke="#9b2"/>
<path d="M541 352v2.1" stroke="#8a2"/>
<path d="M553 353v2" stroke="#7a2"/>
<path d="M555 352.4v2.4" stroke="#9c2"/>
<path d="M561 360.9v1.3" stroke="#6e7"/>
<path d="M563 363.8v1.5" stroke="#386"/>
<path d="M443 379.3v2.5" stroke="#3138b8"/>
<path d="M445 378.2v2.5" stroke="#3141c3"/>
<path d="M447 376.5v1.7" stroke="#3d74fe"/>
<path d="M457 352.7v1.8" stroke="#782"/>
<path d="M463 348.6v1.5" stroke="#c71"/>
<path d="M465 346.5v1.8" stroke="#c61"/>
<path d="M467 345.2v1.8" stroke="#c51"/>
<path d="M469 344.5v1.9" stroke="#c40"/>
<path d="M471 344.5v1.9" stroke="#b40"/>
<path d="M473 344.3v2.2M475 344v1.9M477 343.9v1.4M479 344v1.3" stroke="#c40"/>
<path d="M481 344.6v1.2M483 345.1v2.1" stroke="#b40"/>
<path d="M485 346.2v2.6" stroke="#951"/>
<path d="M487 348.1v3.1" stroke="#851"/>
<path d="M489 351v3.3" stroke="#761"/>
<path d="M491 353.2v2.8" stroke="#892"/>
<path d="M493 352.8v2.3" stroke="#aa2"/>
<path d="M495 351.8v1" stroke="#a91"/>
<path d="M511 352v.7" stroke="#871"/>
<path d="M513 352.8v2.7" stroke="#782"/>
<path d="M515 354v3.4" stroke="#792"/>
<path d="M517 355.6v2.3M519 356.2v1.6M521 355.6v2.6M523 355v3.8" stroke="#7b3"/>
<path d="M525 354.5v2.5" stroke="#8b3"/>
<path d="M527 354.1v2.4" stroke="#8b2"/>
<path d="M529 355v2.6" stroke="#7a2"/>
<path d="M531 355.5v1.4" stroke="#8c3"/>
<path d="M533 355.2v1.6" stroke="#7a2"/>
<path d="M535 354.7v1.9" stroke="#8b2"/>
<path d="M537 353.8v1.9" stroke="#9b2"/>
<path d="M539 354v2.9" stroke="#792"/>
<path d="M541 353.7v3.4" stroke="#9b2"/>
<path d="M543 353v3.7M545 353.5v2.8M547 353.3v1.7" stroke="#8a2"/>
<path d="M549 352.9v1.8M551 353.2v1.9" stroke="#9a2"/>
<path d="M557 352.1v1.8" stroke="#881"/>
<path d="M559 356.1v1.6" stroke="#582"/>
<path d="M573 378.4v2.2" stroke="#2131a5"/>
<path d="M575 379.1v3" stroke="#1f239c"/>
<path d="M457 354.1v1.8" stroke="#782"/>
<path d="M525 356.6v2.5" stroke="#7c3"/>
<path d="M527 356v2.4" stroke="#8b3"/>
<path d="M535 356.2v1.9" stroke="#7b3"/>
<path d="M537 355.3v1.9" stroke="#9c3"/>
<path d="M547 354.6v1.7" stroke="#8a2"/>
<path d="M549 354.3v1.8" stroke="#9a2"/>
<path d="M557 353.5v1.8" stroke="#882"/>
<path d="M559 357.3v1.6" stroke="#582"/>
<path d="M443 381.4v2.5" stroke="#313fc2"/>
<path d="M455 357.8v.7" stroke="#ae3"/>
<path d="M457 355.4v.7" stroke="#892"/>
<path d="M461 351v3.3" stroke="#b81"/>
<path d="M463 349.7v2.2" stroke="#c71"/>
<path d="M465 347.9v1.8" stroke="#d51"/>
<path d="M467 346.6v2M469 346.1v2.5M471 346v2.5M473 346.2v2M475 345.6v2.9M477 344.9v3.5M479 344.9v3.3" stroke="#c40"/>
<path d="M481 345.5v2.8" stroke="#b40"/>
<path d="M483 346.8v2.2" stroke="#a40"/>
<path d="M485 348.4v2.5" stroke="#a41"/>
<path d="M487 350.8v2.7" stroke="#851"/>
<path d="M489 353.9v2.7" stroke="#771"/>
<path d="M491 355.5v3.1" stroke="#792"/>
<path d="M493 354.7v3.1" stroke="#ab2"/>
<path d="M495 352.5v2.7" stroke="#b91"/>
<path d="M497 351.2v2.9" stroke="#a71"/>
<path d="M499 350.8v2.6" stroke="#b71"/>
<path d="M501 350.3v3M503 350.4v3.1M505 350.8v2.7" stroke="#a61"/>
<path d="M507 350.6v3.2" stroke="#a71"/>
<path d="M509 350.6v3.2" stroke="#a61"/>
<path d="M511 352.3v2.9" stroke="#861"/>
<path d="M513 355.1v2.5" stroke="#781"/>
<path d="M515 357.1v2.1M517 357.5v3" stroke="#7a2"/>
<path d="M519 357.4v3.1" stroke="#8c3"/>
<path d="M521 357.8v2.3" stroke="#7a2"/>
<path d="M523 358.4v1.6" stroke="#8b3"/>
<path d="M525 358.7v1.5" stroke="#7b3"/>
<path d="M527 358v2.2" stroke="#8c3"/>
<path d="M529 357.2v2.5" stroke="#8b2"/>
<path d="M531 356.5v2.2M533 356.5v2" stroke="#8a2"/>
<path d="M535 357.6v1.4" stroke="#7a2"/>
<path d="M537 356.8v1.8" stroke="#9b2"/>
<path d="M539 356.5v2.7" stroke="#792"/>
<path d="M541 356.7v2.7" stroke="#9c3"/>
<path d="M543 356.3v2.1M545 355.9v2.6M547 355.9v2.6M549 355.6v1.6" stroke="#8a2"/>
<path d="M551 354.7v2.4M553 354.7v2.4" stroke="#892"/>
<path d="M555 354v2.3" stroke="#aa2"/>
<path d="M557 354.9v2.2" stroke="#881"/>
<path d="M561 358.3v1.4" stroke="#7b3"/>
<path d="M563 356.3v1.4" stroke="#ad3"/>
<path d="M565 359.8v.8" stroke="#582"/>
<path d="M569 373v.9" stroke="#379"/>
<path d="M571 375.6v2.5" stroke="#269"/>
<path d="M573 380.3v3" stroke="#2333a8"/>
<path d="M575 381.7v2.4" stroke="#2029a1"/>
<path d="M455 358.2v.7" stroke="#ad3"/>
<path d="M457 355.8v.7" stroke="#981"/>
<path d="M531 358.2v2.2" stroke="#7b2"/>
<path d="M533 358.1v2" stroke="#8b2"/>
<path d="M549 356.9v1.6M551 356.7v2.4M553 356.7v2.4" stroke="#8a2"/>
<path d="M555 355.9v2.3" stroke="#9a2"/>
<path d="M561 359.3v1.4" stroke="#7b3"/>
<path d="M563 357.4v1.4" stroke="#ad3"/>
<path d="M569 373.5v.9" stroke="#379"/>
<path d="M571 377.7v2.5" stroke="#259"/>
<path d="M569 374v.9" stroke="#379"/>
<path d="M571 379.7v2.5" stroke="#24429e"/>
<path d="M439 384.6v2.7" stroke="#3237b5"/>
<path d="M441 384.5v1.5" stroke="#303fc0"/>
<path d="M451 362.7v1.9" stroke="#9f5"/>
<path d="M453 360.4v1.4" stroke="#7b3"/>
<path d="M455 358.5v2.6" stroke="#8b2"/>
<path d="M457 356.1v2.4" stroke="#aa2"/>
<path d="M459 354.3v2.8" stroke="#981"/>
<path d="M461 353.9v2.1" stroke="#c91"/>
<path d="M463 351.4v2.4" stroke="#d61"/>
<path d="M465 349.3v3.3" stroke="#c51"/>
<path d="M467 348.2v3.7" stroke="#c40"/>
<path d="M469 348.1v3.3" stroke="#b40"/>
<path d="M471 348.1v3.2" stroke="#c40"/>
<path d="M473 347.7v3.7M475 348.1v3.7" stroke="#b40"/>
<path d="M477 348.1v2.2M479 347.8v2.1" stroke="#c40"/>
<path d="M481 347.8v2.1" stroke="#b40"/>
<path d="M483 348.6v2.2" stroke="#a40"/>
<path d="M485 350.5v3.5" stroke="#941"/>
<path d="M487 353.2v3.5" stroke="#851"/>
<path d="M489 356.2v3.8" stroke="#771"/>
<path d="M491 358.2v3.2" stroke="#892"/>
<path d="M493 357.3v2.8" stroke="#ab2"/>
<path d="M495 354.7v3.2" stroke="#b91"/>
<path d="M497 353.7v3.3" stroke="#a71"/>
<path d="M499 353v3.7" stroke="#b71"/>
<path d="M501 353v3.5" stroke="#961"/>
<path d="M503 353.1v3.7M505 353.1v3.6M507 353.4v2.9" stroke="#a71"/>
<path d="M509 353.4v3.6" stroke="#961"/>
<path d="M511 354.8v3.7" stroke="#871"/>
<path d="M513 357.2v3.3" stroke="#781"/>
<path d="M515 358.8v3.1" stroke="#8a2"/>
<path d="M517 360.1v1.6" stroke="#7a2"/>
<path d="M519 360.1v2.2M521 359.7v3.1" stroke="#7b3"/>
<path d="M523 359.6v2.5" stroke="#8b3"/>
<path d="M525 359.8v2.7" stroke="#7a2"/>
<path d="M527 359.8v3.1" stroke="#8c3"/>
<path d="M529 359.2v3" stroke="#8a2"/>
<path d="M531 360v2.3" stroke="#7a2"/>
<path d="M533 359.7v1.7" stroke="#9c3"/>
<path d="M535 358.7v2.7" stroke="#792"/>
<path d="M537 358.2v3.8" stroke="#8b2"/>
<path d="M539 358.8v2M541 359v1.2" stroke="#8a2"/>
<path d="M543 358v1.9" stroke="#892"/>
<path d="M545 358.2v1.8" stroke="#8a2"/>
<path d="M547 358.1v2.1" stroke="#9a2"/>
<path d="M549 358.1v1.8" stroke="#892"/>
<path d="M551 358.7v2.3" stroke="#792"/>
<path d="M553 358.7v2.2" stroke="#9b2"/>
<path d="M555 357.8v2" stroke="#9a2"/>
<path d="M557 356.7v2.1" stroke="#892"/>
<path d="M559 357.1v1.7" stroke="#992"/>
<path d="M561 360.2v1.1" stroke="#682"/>
<path d="M563 358.4v1.8" stroke="#ad3"/>
<path d="M565 360.2v2.4" stroke="#582"/>
<path d="M567 367.3v2.3" stroke="#5a6"/>
<path d="M575 383.7v.8" stroke="#233ea7"/>
<path d="M577 384.6v2.5" stroke="#20259f"/>
<path d="M451 364.2v1.9" stroke="#9f5"/>
<path d="M453 361.4v1.4" stroke="#7b3"/>
<path d="M455 360.7v2.6" stroke="#8c3"/>
<path d="M457 358.1v2.4" stroke="#9b2"/>
<path d="M459 356.7v2.8" stroke="#991"/>
<path d="M461 355.6v2.1" stroke="#c91"/>
<path d="M477 349.9v2.2M479 349.5v2.1" stroke="#c40"/>
<path d="M481 349.6v2.1" stroke="#b40"/>
<path d="M483 350.4v2.2" stroke="#a40"/>
<path d="M543 359.5v1.9M545 359.6v1.8" stroke="#8a2"/>
<path d="M557 358.4v2.1" stroke="#892"/>
<path d="M559 358.4v1.7" stroke="#9a2"/>
<path d="M563 359.8v1.8" stroke="#ad3"/>
<path d="M565 362.2v2.4" stroke="#582"/>
<path d="M567 369.2v2.3" stroke="#4a6"/>
<path d="M451 365.6v1.9" stroke="#9f5"/>
<path d="M457 360.1v2.4" stroke="#9b2"/>
<path d="M459 359v2.8" stroke="#8a2"/>
<path d="M439 386.9v3.3" stroke="#3237b5"/>
<path d="M441 385.6v3.9" stroke="#3141c3"/>
<path d="M443 383.4v1.3" stroke="#49f"/>
<path d="M447 369.9v1.2" stroke="#7f8"/>
<path d="M449 369.8v2" stroke="#4a5"/>
<path d="M451 367.1v1.6" stroke="#9f6"/>
<path d="M453 362.5v2" stroke="#7a2"/>
<path d="M455 362.8v2.4" stroke="#8c3"/>
<path d="M457 362.1v1.9M459 361.4v2.2" stroke="#8b2"/>
<path d="M461 357.2v2.9" stroke="#a91"/>
<path d="M463 353.4v4.1" stroke="#b71"/>
<path d="M465 352.2v3.6" stroke="#b61"/>
<path d="M467 351.5v3.5" stroke="#b51"/>
<path d="M469 351v3.8" stroke="#a41"/>
<path d="M471 350.9v3.7" stroke="#b51"/>
<path d="M473 351v3.7" stroke="#a40"/>
<path d="M475 351.4v3.8" stroke="#a51"/>
<path d="M477 351.7v3.6" stroke="#b51"/>
<path d="M479 351.3v3.8" stroke="#a51"/>
<path d="M481 351.3v4.1" stroke="#a41"/>
<path d="M483 352.1v3.9" stroke="#a51"/>
<path d="M485 353.6v3" stroke="#a61"/>
<path d="M487 356.3v2.9" stroke="#861"/>
<path d="M489 359.6v2.3" stroke="#781"/>
<path d="M491 361v3.9" stroke="#8a2"/>
<path d="M493 359.7v2.6" stroke="#9a2"/>
<path d="M495 357.5v3.4" stroke="#a91"/>
<path d="M497 356.6v4.1M499 356.3v3.1" stroke="#971"/>
<path d="M501 356.1v2.7" stroke="#a81"/>
<path d="M503 356.3v3.5M505 356.2v4M507 355.9v3.1M509 356.6v3" stroke="#971"/>
<path d="M511 358v3.7" stroke="#881"/>
<path d="M513 360.1v2.6" stroke="#892"/>
<path d="M515 361.5v2" stroke="#7a2"/>
<path d="M517 361.3v2" stroke="#8b2"/>
<path d="M519 362v3" stroke="#692"/>
<path d="M521 362.4v2.8" stroke="#8c3"/>
<path d="M523 361.7v2.3" stroke="#8b2"/>
<path d="M525 362.1v1.6" stroke="#7a2"/>
<path d="M527 362.5v2M529 361.9v3M531 361.9v2.1" stroke="#8b2"/>
<path d="M533 360.9v2.2" stroke="#9b2"/>
<path d="M535 361v2.1" stroke="#792"/>
<path d="M537 361.6v2.1" stroke="#8a2"/>
<path d="M539 360.3v3.4" stroke="#9b2"/>
<path d="M541 359.8v3.7" stroke="#892"/>
<path d="M543 361v2.5M545 361v2.5" stroke="#8a2"/>
<path d="M547 359.8v2.3M549 359.5v2.4" stroke="#892"/>
<path d="M551 360.6v2.4" stroke="#8a2"/>
<path d="M553 360.5v1.7" stroke="#9a2"/>
<path d="M555 359.4v3.3" stroke="#892"/>
<path d="M557 360.1v3.5" stroke="#792"/>
<path d="M559 359.7v3.8" stroke="#9b2"/>
<path d="M561 360.9v3" stroke="#682"/>
<path d="M563 361.2v1.9" stroke="#9c3"/>
<path d="M565 364.1v.8" stroke="#582"/>
<path d="M575 384v1" stroke="#294eaf"/>
<path d="M577 386.6v1.1" stroke="#2238a6"/>
<path d="M447 370.7v1.2" stroke="#7f7"/>
<path d="M449 371.4v2" stroke="#4a6"/>
<path d="M451 368.3v1.6" stroke="#9f6"/>
<path d="M453 364v2" stroke="#7a2"/>
<path d="M461 359.7v2.9" stroke="#9a2"/>
<path d="M463 357.1v4.1" stroke="#a91"/>
<path d="M465 355.5v3.6" stroke="#b71"/>
<path d="M467 354.6v3.5M469 354.3v3.8M471 354.2v3.7" stroke="#a61"/>
<path d="M473 354.3v3.7" stroke="#951"/>
<path d="M475 354.8v3.8" stroke="#961"/>
<path d="M477 354.9v3.6" stroke="#a61"/>
<path d="M479 354.7v3.8M481 355v4.1M483 355.6v3.9" stroke="#961"/>
<path d="M485 356.2v3" stroke="#971"/>
<path d="M487 358.8v2.9" stroke="#771"/>
<path d="M489 361.5v2.3" stroke="#782"/>
<path d="M493 361.9v2.6" stroke="#9b2"/>
<path d="M495 360.6v3.4" stroke="#9a2"/>
<path d="M497 360.2v4.1" stroke="#892"/>
<path d="M499 358.9v3.1M501 358.4v2.7" stroke="#991"/>
<path d="M503 359.4v3.5" stroke="#881"/>
<path d="M505 359.9v4" stroke="#892"/>
<path d="M507 358.6v3.1M509 359.1v3" stroke="#881"/>
<path d="M511 361.3v3.7" stroke="#792"/>
<path d="M513 362.3v2.6M515 363.1v2" stroke="#7a2"/>
<path d="M517 362.9v2" stroke="#8c3"/>
<path d="M547 361.7v2.3M549 361.6v2.4" stroke="#8a2"/>
<path d="M563 362.7v1.9" stroke="#9c3"/>
<path d="M565 364.5v.8" stroke="#582"/>
<path d="M461 362.2v2.9M463 360.8v4.1" stroke="#9b2"/>
<path d="M465 358.7v3.6" stroke="#a91"/>
<path d="M467 357.7v3.5M469 357.7v3.8M471 357.5v3.7" stroke="#971"/>
<path d="M473 357.6v3.7M475 358.2v3.8" stroke="#871"/>
<path d="M477 358.1v3.6" stroke="#981"/>
<path d="M479 358.2v3.8M481 358.7v4.1" stroke="#871"/>
<path d="M483 359.1v3.9" stroke="#881"/>
<path d="M485 358.9v3" stroke="#981"/>
<path d="M499 361.6v3.1" stroke="#8a2"/>
<path d="M501 360.7v2.7" stroke="#9a2"/>
<path d="M507 361.4v3.1M509 361.7v3" stroke="#792"/>
<path d="M441 389.1v2.5" stroke="#313fc1"/>
<path d="M443 384.3v1.9" stroke="#49f"/>
<path d="M445 375v2.4" stroke="#6ec"/>
<path d="M447 371.5v2.9" stroke="#5c7"/>
<path d="M449 373.1v3.2" stroke="#5c9"/>
<path d="M451 369.6v3.1" stroke="#7f6"/>
<path d="M453 365.6v4" stroke="#7b3"/>
<path d="M455 364.8v1.9" stroke="#af4"/>
<path d="M457 363.6v1.5" stroke="#682"/>
<path d="M459 363.2v2.8" stroke="#8b2"/>
<path d="M461 364.7v3" stroke="#6a2"/>
<path d="M463 364.4v3.1" stroke="#8d3"/>
<path d="M465 362v3.2" stroke="#ab2"/>
<path d="M467 360.8v3.3" stroke="#881"/>
<path d="M469 361v2.8" stroke="#992"/>
<path d="M471 360.8v2.8" stroke="#881"/>
<path d="M473 360.9v3.1" stroke="#891"/>
<path d="M475 361.6v2.4" stroke="#892"/>
<path d="M477 361.3v4.3" stroke="#9a2"/>
<path d="M479 361.6v3.9" stroke="#882"/>
<path d="M481 362.4v3.9" stroke="#892"/>
<path d="M483 362.6v3.2M485 361.5v1.9" stroke="#9a2"/>
<path d="M487 361.3v2.3" stroke="#881"/>
<path d="M489 363.4v2.9" stroke="#792"/>
<path d="M491 364.5v2.2" stroke="#7a2"/>
<path d="M493 364.2v3" stroke="#8b2"/>
<path d="M495 363.6v2.4" stroke="#9b2"/>
<path d="M497 363.9v1.4" stroke="#892"/>
<path d="M499 364.2v2.1" stroke="#7a2"/>
<path d="M501 363v3.6" stroke="#9b2"/>
<path d="M503 362.6v3.8" stroke="#792"/>
<path d="M505 363.5v3" stroke="#8a2"/>
<path d="M507 364.1v2.8" stroke="#7a2"/>
<path d="M509 364.3v2.8" stroke="#8b3"/>
<path d="M511 364.6v2.2" stroke="#7a2"/>
<path d="M513 364.5v2.4" stroke="#8b3"/>
<path d="M515 364.7v2.3" stroke="#7a2"/>
<path d="M517 364.5v1.7" stroke="#8b3"/>
<path d="M519 364.5v1.8" stroke="#7a2"/>
<path d="M521 364.9v2.8" stroke="#8c3"/>
<path d="M523 363.6v3.4" stroke="#8b2"/>
<path d="M525 363.4v2.2" stroke="#792"/>
<path d="M527 364v2.1" stroke="#7a2"/>
<path d="M529 364.5v1.6" stroke="#9c3"/>
<path d="M531 363.6v2M533 362.8v3.6M535 362.7v3.4" stroke="#8a2"/>
<path d="M537 363.3v3.1" stroke="#792"/>
<path d="M539 363.3v2.9" stroke="#8b2"/>
<path d="M541 363.2v3.3" stroke="#792"/>
<path d="M543 363.2v3.2" stroke="#9b2"/>
<path d="M545 363.1v1.4" stroke="#9a2"/>
<path d="M547 363.6v1.2" stroke="#782"/>
<path d="M549 363.6v1.8" stroke="#9b2"/>
<path d="M551 362.7v2" stroke="#9a2"/>
<path d="M553 361.8v2.2" stroke="#892"/>
<path d="M555 362.2v1.7" stroke="#9a2"/>
<path d="M557 363.2v1.3M559 363.1v2.6" stroke="#892"/>
<path d="M561 363.4v2.2M563 364.1v.9" stroke="#8a2"/>
<path d="M565 364.9v1.9" stroke="#692"/>
<path d="M567 365.7v2.5" stroke="#6a3"/>
<path d="M569 365.9v2.7" stroke="#592"/>
<path d="M571 368.5v2.4" stroke="#6c4"/>
<path d="M573 377.5v1.7" stroke="#387"/>
<path d="M575 384.7v1.4" stroke="#36a"/>
<path d="M577 387.4v2.9" stroke="#2239a1"/>
<path d="M579 389.7v2.3" stroke="#2026a0"/>
<path d="M443 385.8v1.9" stroke="#49f"/>
<path d="M445 377v2.4" stroke="#5dd"/>
<path d="M447 374v2.9" stroke="#5b8"/>
<path d="M449 375.9v3.2" stroke="#5ca"/>
<path d="M451 372.3v3.1" stroke="#7f9"/>
<path d="M453 369.2v4" stroke="#6c4"/>
<path d="M455 366.3v1.9" stroke="#9f4"/>
<path d="M457 364.7v1.5" stroke="#682"/>
<path d="M459 365.7v2.8" stroke="#7c3"/>
<path d="M461 367.3v3" stroke="#6a3"/>
<path d="M463 367.1v3.1" stroke="#8d4"/>
<path d="M465 364.8v3.2" stroke="#9c3"/>
<path d="M467 363.7v3.3" stroke="#792"/>
<path d="M469 363.4v2.8" stroke="#9a2"/>
<path d="M471 363.2v2.8M473 363.6v3.1" stroke="#892"/>
<path d="M475 363.7v2.4" stroke="#8a2"/>
<path d="M485 363v1.9" stroke="#9a2"/>
<path d="M487 363.2v2.3" stroke="#782"/>
<path d="M517 365.8v1.7" stroke="#8c3"/>
<path d="M519 366v1.8M525 365.2v2.2" stroke="#7a2"/>
<path d="M527 365.8v2.1" stroke="#7b3"/>
<path d="M553 363.6v2.2" stroke="#892"/>
<path d="M555 363.6v1.7" stroke="#9a2"/>
<path d="M567 367.8v2.5" stroke="#6a3"/>
<path d="M569 368.2v2.7" stroke="#593"/>
<path d="M571 370.5v2.4" stroke="#6c5"/>
<path d="M445 379.1v2.4" stroke="#5de"/>
<path d="M447 376.6v2.9" stroke="#4ba"/>
<path d="M449 378.6v3.2" stroke="#4bc"/>
<path d="M451 375v3.1" stroke="#6eb"/>
<path d="M453 372.9v4" stroke="#5c7"/>
<path d="M455 367.8v1.9" stroke="#9f4"/>
<path d="M457 365.8v1.5" stroke="#682"/>
<path d="M459 368.1v2.8" stroke="#7c4"/>
<path d="M569 370.5v2.7" stroke="#5a4"/>
<path d="M571 372.5v2.4" stroke="#5c6"/>
<path d="M445 381.1v2.4" stroke="#5cf"/>
<path d="M447 379.1v2.9" stroke="#4ab"/>
<path d="M451 377.7v3.1" stroke="#5dd"/>
<path d="M453 376.5v4" stroke="#4ba"/>
<path d="M455 369.4v1.9" stroke="#9f5"/>
<path d="M569 372.9v2.7" stroke="#495"/>
<path d="M571 374.5v2.4" stroke="#5b7"/>
<path d="M445 383.2v2.4" stroke="#5bf"/>
<path d="M447 381.6v2.9" stroke="#49c"/>
<path d="M441 391.1v2.2" stroke="#313ebf"/>
<path d="M443 387.3v2.5" stroke="#48f"/>
<path d="M445 385.2v2.8" stroke="#37c"/>
<path d="M447 384.1v2.9" stroke="#4af"/>
<path d="M449 381.4v2.6" stroke="#5cf"/>
<path d="M451 380.4v3.4" stroke="#49b"/>
<path d="M453 380.1v1.9" stroke="#5ee"/>
<path d="M455 370.9v1.9" stroke="#9f5"/>
<path d="M457 366.9v1.2" stroke="#692"/>
<path d="M463 369.8v1" stroke="#593"/>
<path d="M465 367.6v2.3" stroke="#9f4"/>
<path d="M467 366.6v1.6" stroke="#692"/>
<path d="M469 365.8v2.7" stroke="#9c3"/>
<path d="M471 365.6v2.1" stroke="#8a2"/>
<path d="M473 366.3v2.4" stroke="#8b2"/>
<path d="M475 365.7v2.8M477 365.2v3.6M479 365.2v3.3" stroke="#8a2"/>
<path d="M481 365.9v2.3" stroke="#892"/>
<path d="M483 365.4v2.7" stroke="#9b2"/>
<path d="M485 364.5v2.3" stroke="#892"/>
<path d="M487 365.1v2.2M489 365.9v2.8M491 366.3v2.1M493 366.7v1.3" stroke="#8a2"/>
<path d="M495 365.6v2.7" stroke="#9b2"/>
<path d="M497 364.9v3.1" stroke="#8a2"/>
<path d="M499 365.9v1.1" stroke="#892"/>
<path d="M501 366.2v.6" stroke="#9a2"/>
<path d="M503 366v2.4" stroke="#792"/>
<path d="M505 366v2.7" stroke="#9b2"/>
<path d="M507 366.5v2.6" stroke="#792"/>
<path d="M509 366.7v3" stroke="#8c3"/>
<path d="M511 366.4v2.6" stroke="#8a2"/>
<path d="M513 366.4v3.3" stroke="#7a2"/>
<path d="M515 366.6v3.2" stroke="#8b3"/>
<path d="M517 367.1v1.7M519 367.4v1.3M521 367.2v1.6" stroke="#8b2"/>
<path d="M523 366.6v2.9M525 367v3" stroke="#7a2"/>
<path d="M527 367.5v1.6" stroke="#8c3"/>
<path d="M529 365.7v2" stroke="#8b2"/>
<path d="M531 365.3v2.2" stroke="#892"/>
<path d="M533 365.9v1.7" stroke="#9b2"/>
<path d="M535 365.7v1" stroke="#892"/>
<path d="M545 364.1v.9" stroke="#a91"/>
<path d="M551 364.2v.7" stroke="#981"/>
<path d="M557 364v1.7" stroke="#881"/>
<path d="M559 365.4v1.3" stroke="#892"/>
<path d="M561 365.3v1.1" stroke="#9a2"/>
<path d="M563 364.6v1" stroke="#992"/>
<path d="M571 376.5v1.4" stroke="#5b8"/>
<path d="M573 378.8v1.8" stroke="#398"/>
<path d="M581 392.2v2.1" stroke="#2029a2"/>
<path d="M441 392.9v2.2" stroke="#323ab9"/>
<path d="M443 389.4v2.5" stroke="#3c6ffd"/>
<path d="M445 387.6v2.8" stroke="#3262c4"/>
<path d="M447 386.6v2.9" stroke="#49f"/>
<path d="M449 383.6v2.6" stroke="#5bf"/>
<path d="M451 383.4v3.4" stroke="#49b"/>
<path d="M453 381.6v1.9" stroke="#5de"/>
<path d="M455 372.4v1.9" stroke="#9f6"/>
<path d="M457 367.7v1.2" stroke="#692"/>
<path d="M463 370.4v1" stroke="#592"/>
<path d="M465 369.5v2.3" stroke="#9f4"/>
<path d="M467 367.8v1.6" stroke="#692"/>
<path d="M469 368.1v2.7" stroke="#8d3"/>
<path d="M471 367.3v2.1" stroke="#7a2"/>
<path d="M485 366.5v2.3" stroke="#792"/>
<path d="M487 366.9v2.2" stroke="#8a2"/>
<path d="M529 367.2v2" stroke="#8b2"/>
<path d="M531 367.1v2.2" stroke="#7a2"/>
<path d="M571 377.5v1.4" stroke="#5b7"/>
<path d="M573 380.2v1.8" stroke="#398"/>
<path d="M443 391.5v2.5" stroke="#3556e2"/>
<path d="M445 390v2.8" stroke="#304bbe"/>
<path d="M447 389.1v2.9" stroke="#3b71ef"/>
<path d="M449 385.9v2.6" stroke="#5af"/>
<path d="M455 373.9v1.9" stroke="#8f6"/>
<path d="M457 368.5v1.2" stroke="#692"/>
<path d="M443 393.5v2.4" stroke="#3140c1"/>
<path d="M445 392.4v2.8" stroke="#3142bf"/>
<path d="M447 391.6v3" stroke="#324dca"/>
<path d="M449 388.1v3.1" stroke="#49f"/>
<path d="M451 386.3v2.4" stroke="#4af"/>
<path d="M453 383.2v2.3" stroke="#5de"/>
<path d="M455 375.4v4" stroke="#8f8"/>
<path d="M457 369.3v3.5" stroke="#9f4"/>
<path d="M459 370.3v3" stroke="#582"/>
<path d="M461 369.8v3.1" stroke="#9f4"/>
<path d="M463 371v2.4" stroke="#582"/>
<path d="M465 371.5v2.4" stroke="#9f4"/>
<path d="M467 369v1.8" stroke="#792"/>
<path d="M469 370.4v1.5" stroke="#7b3"/>
<path d="M471 369v2.7" stroke="#8b3"/>
<path d="M473 368.2v2.7" stroke="#8b2"/>
<path d="M475 368v2.1" stroke="#9b2"/>
<path d="M477 368.3v2.7" stroke="#8a2"/>
<path d="M479 368.1v3" stroke="#8b2"/>
<path d="M481 367.8v2.6" stroke="#8a2"/>
<path d="M483 367.7v1.8" stroke="#892"/>
<path d="M485 368.4v1.5" stroke="#8a2"/>
<path d="M487 368.7v1.4" stroke="#9b2"/>
<path d="M489 368.3v2.4" stroke="#792"/>
<path d="M491 368.1v2.7" stroke="#9b2"/>
<path d="M493 367.6v2.8" stroke="#892"/>
<path d="M495 367.9v3.5" stroke="#792"/>
<path d="M497 367.5v3.3" stroke="#9b2"/>
<path d="M499 366.7v2M501 366.4v2.6" stroke="#892"/>
<path d="M503 368v2.2" stroke="#792"/>
<path d="M505 368.3v2.1" stroke="#9b2"/>
<path d="M507 368.7v1.7" stroke="#792"/>
<path d="M509 369.4v2.3" stroke="#8b3"/>
<path d="M511 368.6v3.8M513 369.3v3.3" stroke="#7a2"/>
<path d="M515 369.4v3.3" stroke="#8b3"/>
<path d="M517 368.4v2.4M519 368.4v1.8" stroke="#8b2"/>
<path d="M521 368.4v2.9M523 369v2.8" stroke="#7a2"/>
<path d="M525 369.6v1.5" stroke="#8b2"/>
<path d="M527 368.7v2.7" stroke="#8a2"/>
<path d="M529 368.8v2.5" stroke="#8b2"/>
<path d="M531 368.8v.9" stroke="#9b2"/>
<path d="M559 366.3v1" stroke="#871"/>
<path d="M561 365.9v3.1" stroke="#992"/>
<path d="M563 365.2v2.4" stroke="#981"/>
<path d="M565 365.2v2.1" stroke="#991"/>
<path d="M567 366.9v1.8" stroke="#771"/>
<path d="M569 371.5v1.7" stroke="#582"/>
<path d="M579 389.4v.7" stroke="#369"/>
<path d="M581 393.9v.6" stroke="#2442aa"/>
<path d="M583 394.5v2.4" stroke="#2027a1"/>
<path d="M443 395.5v2.4" stroke="#313aba"/>
<path d="M445 394.8v2.8" stroke="#313bb8"/>
<path d="M447 394.2v3" stroke="#303fbd"/>
<path d="M449 390.8v3.1" stroke="#3e7dff"/>
<path d="M451 388.3v2.4" stroke="#49f"/>
<path d="M453 385.1v2.3" stroke="#5cf"/>
<path d="M455 379v4" stroke="#7fb"/>
<path d="M457 372.4v3.5" stroke="#9f5"/>
<path d="M459 372.9v3" stroke="#583"/>
<path d="M461 372.5v3.1" stroke="#9f5"/>
<path d="M463 373v2.4" stroke="#593"/>
<path d="M465 373.5v2.4" stroke="#9f5"/>
<path d="M467 370.4v1.8" stroke="#692"/>
<path d="M469 371.5v1.5" stroke="#7b3"/>
<path d="M471 371.3v2.7" stroke="#7c3"/>
<path d="M473 370.5v2.7" stroke="#8b3"/>
<path d="M475 369.7v2.1" stroke="#8b2"/>
<path d="M483 369.1v1.8" stroke="#892"/>
<path d="M485 369.5v1.5" stroke="#8a2"/>
<path d="M499 368.3v2M501 368.6v2.6" stroke="#892"/>
<path d="M503 369.8v2.2" stroke="#692"/>
<path d="M505 370v2.1" stroke="#8c3"/>
<path d="M507 370v1.7" stroke="#792"/>
<path d="M517 370.4v2.4" stroke="#7b3"/>
<path d="M519 369.8v1.8" stroke="#8b2"/>
<path d="M563 367.1v2.4" stroke="#992"/>
<path d="M565 366.9v2.1" stroke="#991"/>
<path d="M567 368.3v1.8" stroke="#671"/>
<path d="M569 372.8v1.7" stroke="#582"/>
<path d="M449 393.6v3.1" stroke="#3555de"/>
<path d="M451 390.3v2.4" stroke="#49f"/>
<path d="M453 387v2.3" stroke="#5cf"/>
<path d="M455 382.5v4" stroke="#5ee"/>
<path d="M457 375.4v3.5" stroke="#8f6"/>
<path d="M459 375.5v3" stroke="#493"/>
<path d="M461 375.1v3.1" stroke="#8f6"/>
<path d="M463 374.9v2.4" stroke="#593"/>
<path d="M461 377.8v3.1" stroke="#7f8"/>
<path d="M463 376.9v2.4" stroke="#494"/>
<path d="M445 397.1v3.5M447 396.9v3.7" stroke="#3236b4"/>
<path d="M449 396.3v4" stroke="#303bba"/>
<path d="M451 392.3v2.7" stroke="#48f"/>
<path d="M453 388.9v3.4" stroke="#49d"/>
<path d="M455 386.1v4.1" stroke="#5df"/>
<path d="M457 378.5v2.9" stroke="#8f8"/>
<path d="M459 378.1v2.4" stroke="#5a4"/>
<path d="M461 380.5v2.7" stroke="#5c8"/>
<path d="M463 378.8v2.8" stroke="#7f8"/>
<path d="M465 375.5v2.9" stroke="#8f5"/>
<path d="M467 371.8v4" stroke="#7c3"/>
<path d="M469 372.6v2.3" stroke="#8d3"/>
<path d="M471 373.6v1.5" stroke="#8c3"/>
<path d="M473 372.9v2.2" stroke="#7b3"/>
<path d="M475 371.3v3.8" stroke="#8c3"/>
<path d="M477 370.6v2.8" stroke="#8b2"/>
<path d="M479 370.7v2.7" stroke="#792"/>
<path d="M481 370v3.6" stroke="#9b2"/>
<path d="M483 370.5v2.7" stroke="#792"/>
<path d="M485 370.5v3.1" stroke="#9b2"/>
<path d="M487 369.7v3.8" stroke="#8a2"/>
<path d="M489 370.3v3.6" stroke="#792"/>
<path d="M491 370.3v3.8" stroke="#8b2"/>
<path d="M493 370v4.1M495 371v2.4" stroke="#8a2"/>
<path d="M497 370.5v2.6" stroke="#9b2"/>
<path d="M499 369.9v3.7" stroke="#792"/>
<path d="M501 370.8v3.6" stroke="#7a2"/>
<path d="M503 371.6v2" stroke="#8b2"/>
<path d="M505 371.8v1.2" stroke="#8a2"/>
<path d="M507 371.3v2.3" stroke="#8b2"/>
<path d="M509 371.3v1.9" stroke="#8a2"/>
<path d="M511 371.9v2.2" stroke="#7a2"/>
<path d="M513 372.2v3.1" stroke="#7b3"/>
<path d="M515 372.2v2.4M517 372.5v.7" stroke="#8b3"/>
<path d="M519 371.2v1.3M521 370.9v1.5" stroke="#8a2"/>
<path d="M525 370.7v1.6" stroke="#892"/>
<path d="M527 371v1.9" stroke="#8a2"/>
<path d="M529 370.9v1.5" stroke="#9b2"/>
<path d="M531 369.4v2.2" stroke="#9a2"/>
<path d="M533 366.6v2.6" stroke="#c91"/>
<path d="M535 363.3v2.7" stroke="#c71"/>
<path d="M537 361.8v1.6" stroke="#d51"/>
<path d="M539 361v1.5" stroke="#c40"/>
<path d="M541 360.8v2M543 361v2.3" stroke="#b40"/>
<path d="M545 360.6v2.1M547 359.8v2.6" stroke="#c40"/>
<path d="M549 360v2.4M551 360.5v2.2M553 360.6v2.3" stroke="#b40"/>
<path d="M555 361.4v2.3" stroke="#a40"/>
<path d="M557 363.2v3.2" stroke="#851"/>
<path d="M559 366.8v2.3" stroke="#761"/>
<path d="M561 368.7v1.7" stroke="#881"/>
<path d="M563 369.1v3.1M565 368.6v2.8" stroke="#782"/>
<path d="M567 369.7v2.6" stroke="#792"/>
<path d="M569 374v2.6" stroke="#593"/>
<path d="M571 376.8v3.1" stroke="#5b4"/>
<path d="M573 378.6v2.9" stroke="#495"/>
<path d="M575 380.3v3.3" stroke="#5b8"/>
<path d="M577 384.5v2.8" stroke="#388"/>
<path d="M579 389.8v2.3" stroke="#37a"/>
<path d="M581 394v2.8" stroke="#2646a7"/>
<path d="M583 396.6v2.6" stroke="#212ea4"/>
<path d="M451 394.7v2.7" stroke="#3a6cf9"/>
<path d="M453 392v3.4" stroke="#3976dc"/>
<path d="M455 389.9v4.1" stroke="#5bf"/>
<path d="M457 381v2.9" stroke="#7fb"/>
<path d="M459 380.1v2.4" stroke="#495"/>
<path d="M461 382.8v2.7" stroke="#5b9"/>
<path d="M463 381.2v2.8" stroke="#6ea"/>
<path d="M465 378.1v2.9" stroke="#7f6"/>
<path d="M467 375.3v4" stroke="#7d4"/>
<path d="M469 374.5v2.3" stroke="#8d4"/>
<path d="M519 372.1v1.3M521 372v1.5" stroke="#8a2"/>
<path d="M561 370v1.7" stroke="#881"/>
<path d="M563 371.8v3.1" stroke="#692"/>
<path d="M565 370.9v2.8" stroke="#792"/>
<path d="M567 371.9v2.6" stroke="#6a2"/>
<path d="M569 376.2v2.6" stroke="#593"/>
<path d="M571 379.5v3.1" stroke="#5b6"/>
<path d="M573 381.1v2.9" stroke="#496"/>
<path d="M575 383.1v3.3" stroke="#4a9"/>
<path d="M577 386.9v2.8" stroke="#389"/>
<path d="M579 391.7v2.3" stroke="#36a"/>
<path d="M451 397v2.7" stroke="#334dd7"/>
<path d="M453 395v3.4" stroke="#3355cf"/>
<path d="M457 383.5v2.9" stroke="#6fd"/>
<path d="M459 382.1v2.4" stroke="#496"/>
<path d="M461 385.1v2.7" stroke="#4ba"/>
<path d="M463 383.5v2.8" stroke="#6eb"/>
<path d="M465 380.6v2.9" stroke="#7f8"/>
<path d="M467 378.9v4" stroke="#6d6"/>
<path d="M469 376.4v2.3" stroke="#8e4"/>
<path d="M565 373.3v2.8M567 374.2v2.6" stroke="#6a3"/>
<path d="M569 378.4v2.6" stroke="#593"/>
<path d="M571 382.1v3.1" stroke="#5a7"/>
<path d="M573 383.7v2.9" stroke="#387"/>
<path d="M575 386v3.3" stroke="#49a"/>
<path d="M577 389.2v2.8" stroke="#379"/>
<path d="M457 386.1v2.9" stroke="#5ee"/>
<path d="M459 384.2v2.4" stroke="#497"/>
<path d="M565 375.7v2.8M567 376.4v2.6" stroke="#6b3"/>
<path d="M573 386.2v2.9" stroke="#388"/>
<path d="M575 388.8v3.3" stroke="#49b"/>
<path d="M451 399.4v3.1" stroke="#3138b7"/>
<path d="M453 398v2.4" stroke="#3146c5"/>
<path d="M455 393.6v3.1" stroke="#49f"/>
<path d="M457 388.6v3.4" stroke="#4bd"/>
<path d="M459 386.2v3.7M461 387.3v2.8" stroke="#4bb"/>
<path d="M463 385.9v2.7" stroke="#5dc"/>
<path d="M465 383.2v1.7" stroke="#7fa"/>
<path d="M467 382.5v1.3" stroke="#5b6"/>
<path d="M469 378.2v3.4" stroke="#8f5"/>
<path d="M471 374.6v2.7" stroke="#7a3"/>
<path d="M473 374.6v1.8" stroke="#9d3"/>
<path d="M475 374.7v1.9" stroke="#692"/>
<path d="M477 373v2.7" stroke="#ad3"/>
<path d="M479 373v1.1" stroke="#9a2"/>
<path d="M481 373.2v1.3" stroke="#892"/>
<path d="M483 372.8v2.9" stroke="#8a2"/>
<path d="M485 373.2v3.1" stroke="#7a2"/>
<path d="M487 373.1v3.9M489 373.5v2.5" stroke="#8b2"/>
<path d="M491 373.8v2.6" stroke="#7a2"/>
<path d="M493 373.7v2.8" stroke="#8b2"/>
<path d="M495 373v2.9M497 372.7v3M499 373.2v2.3" stroke="#8a2"/>
<path d="M501 374v1.8" stroke="#7a2"/>
<path d="M503 373.1v2.7" stroke="#9b2"/>
<path d="M505 372.6v3" stroke="#892"/>
<path d="M507 373.2v2.2M509 372.8v2.9" stroke="#8a2"/>
<path d="M511 373.7v2.8" stroke="#792"/>
<path d="M513 374.9v1.4" stroke="#8c3"/>
<path d="M515 374.3v.7" stroke="#8b2"/>
<path d="M517 372.8v1.6" stroke="#8a2"/>
<path d="M519 373v1.7" stroke="#792"/>
<path d="M521 373.2v2.5" stroke="#8b2"/>
<path d="M523 371.5v3.9" stroke="#9a2"/>
<path d="M525 371.9v3.8" stroke="#782"/>
<path d="M527 372.6v2.9" stroke="#9b2"/>
<path d="M529 372v3.1" stroke="#892"/>
<path d="M531 371.2v3" stroke="#aa2"/>
<path d="M533 368.8v2.5" stroke="#c91"/>
<path d="M535 365.6v2.7" stroke="#d71"/>
<path d="M537 363.1v3" stroke="#d51"/>
<path d="M539 362v3.6" stroke="#b40"/>
<path d="M541 362.4v2.6" stroke="#c40"/>
<path d="M543 362.8v1.9" stroke="#b40"/>
<path d="M545 362.4v3.1M547 362v3.1M549 362.1v2.6" stroke="#c40"/>
<path d="M551 362.3v2.7M553 362.5v3.2" stroke="#b40"/>
<path d="M555 363.3v3.4" stroke="#a40"/>
<path d="M557 366v3.7" stroke="#851"/>
<path d="M559 368.8v2.7" stroke="#761"/>
<path d="M561 371.4v1.8" stroke="#892"/>
<path d="M563 374.4v1.6" stroke="#582"/>
<path d="M567 378.7v.9" stroke="#5a3"/>
<path d="M569 380.6v2.9" stroke="#494"/>
<path d="M571 384.8v3.2" stroke="#498"/>
<path d="M573 388.7v3" stroke="#379"/>
<path d="M575 391.7v2.8M577 391.6v3.7" stroke="#37b"/>
<path d="M579 393.6v3.3" stroke="#36b"/>
<path d="M581 396.4v3.4" stroke="#2643b0"/>
<path d="M583 398.8v2.3" stroke="#212ea4"/>
<path d="M453 400v2.4" stroke="#303dbc"/>
<path d="M455 396.3v3.1" stroke="#3e7cff"/>
<path d="M457 391.5v3.4" stroke="#4ae"/>
<path d="M459 389.5v3.7" stroke="#49c"/>
<path d="M461 389.7v2.8" stroke="#4ac"/>
<path d="M463 388.2v2.7" stroke="#5cd"/>
<path d="M465 384.5v1.7" stroke="#7fb"/>
<path d="M467 383.4v1.3" stroke="#5b6"/>
<path d="M469 381.2v3.4" stroke="#8f7"/>
<path d="M471 376.9v2.7" stroke="#6b3"/>
<path d="M473 376v1.8" stroke="#9e3"/>
<path d="M475 376.2v1.9" stroke="#692"/>
<path d="M477 375.3v2.7" stroke="#9e3"/>
<path d="M517 373.9v1.6" stroke="#8a2"/>
<path d="M519 374.3v1.7" stroke="#792"/>
<path d="M559 371.1v2.7" stroke="#771"/>
<path d="M561 372.8v1.8" stroke="#892"/>
<path d="M563 375.6v1.6" stroke="#582"/>
<path d="M567 379.1v.9" stroke="#593"/>
<path d="M569 383.1v2.9" stroke="#495"/>
<path d="M571 387.5v3.2" stroke="#389"/>
<path d="M573 391.3v3" stroke="#37a"/>
<path d="M575 394.1v2.8" stroke="#326ebe"/>
<path d="M577 394.9v3.7" stroke="#2e5eba"/>
<path d="M579 396.4v3.3" stroke="#2849b1"/>
<path d="M581 399.4v3.4" stroke="#212fa3"/>
<path d="M583 400.7v2.3" stroke="#20279f"/>
<path d="M455 398.9v3.1" stroke="#3455df"/>
<path d="M457 394.5v3.4" stroke="#48e"/>
<path d="M459 392.9v3.7" stroke="#48d"/>
<path d="M461 392.1v2.8" stroke="#49d"/>
<path d="M463 390.5v2.7" stroke="#4be"/>
<path d="M465 385.8v1.7" stroke="#7fc"/>
<path d="M471 379.1v2.7" stroke="#6b4"/>
<path d="M473 377.3v1.8" stroke="#9e4"/>
<path d="M567 379.6v.9" stroke="#593"/>
<path d="M569 385.6v2.9" stroke="#486"/>
<path d="M571 390.3v3.2" stroke="#389"/>
<path d="M573 393.9v3" stroke="#36a"/>
<path d="M575 396.5v2.8" stroke="#2d5aba"/>
<path d="M577 398.1v3.7" stroke="#253dac"/>
<path d="M579 399.3v3.3" stroke="#2131a3"/>
<path d="M457 397.5v3.4" stroke="#3661e2"/>
<path d="M459 396.2v3.7" stroke="#3463cf"/>
<path d="M461 394.4v2.8" stroke="#48d"/>
<path d="M463 392.8v2.7" stroke="#4ae"/>
<path d="M465 387.1v1.7" stroke="#6fd"/>
<path d="M451 402.1v3.7" stroke="#3137b4"/>
<path d="M453 401.9v3.8" stroke="#3136b4"/>
<path d="M455 401.6v4" stroke="#303ab8"/>
<path d="M457 400.4v2.5" stroke="#3145c5"/>
<path d="M459 399.6v2.1" stroke="#334ccb"/>
<path d="M461 396.8v2.1" stroke="#49f"/>
<path d="M463 395.1v2.4" stroke="#37c"/>
<path d="M465 388.4v2.5" stroke="#6fe"/>
<path d="M467 384.3v2.7" stroke="#4a6"/>
<path d="M469 384.1v3.1" stroke="#7f9"/>
<path d="M471 381.4v2.7" stroke="#7e5"/>
<path d="M473 378.7v2.2" stroke="#8e4"/>
<path d="M475 377.6v1.6" stroke="#8d3"/>
<path d="M479 373.6v2.2" stroke="#9a2"/>
<path d="M481 374.1v2.3" stroke="#782"/>
<path d="M483 375.4v3.2" stroke="#8b2"/>
<path d="M485 375.9v1.3" stroke="#8a2"/>
<path d="M487 376.6v.8" stroke="#7a2"/>
<path d="M489 375.6v2.4" stroke="#9b2"/>
<path d="M491 375.9v2.4" stroke="#792"/>
<path d="M493 376.1v3" stroke="#8b3"/>
<path d="M495 375.5v3.2" stroke="#8a2"/>
<path d="M497 375.3v3.1" stroke="#8b2"/>
<path d="M499 375.1v2.8M501 375.3v2.8M503 375.4v2.6" stroke="#8a2"/>
<path d="M505 375.2v1.9" stroke="#792"/>
<path d="M507 375v2.4" stroke="#8a2"/>
<path d="M509 375.3v3" stroke="#8b2"/>
<path d="M511 376.2v1.6" stroke="#7a2"/>
<path d="M513 375.9v1.6" stroke="#8b2"/>
<path d="M515 374.6v1.7" stroke="#9b2"/>
<path d="M517 375.1v2.1" stroke="#782"/>
<path d="M519 375.6v2.7" stroke="#8b2"/>
<path d="M521 375.3v2.8" stroke="#8a2"/>
<path d="M523 375v2.4" stroke="#9a2"/>
<path d="M525 375.2v1.7" stroke="#892"/>
<path d="M527 375v2.4" stroke="#9a2"/>
<path d="M529 374.8v2.5" stroke="#8a2"/>
<path d="M531 373.8v1.8" stroke="#aa2"/>
<path d="M533 370.9v2" stroke="#c81"/>
<path d="M535 367.9v3" stroke="#c61"/>
<path d="M537 365.7v3.6" stroke="#c51"/>
<path d="M539 365.2v2.9M541 364.5v2" stroke="#c40"/>
<path d="M543 364.3v2.4M545 365.1v3.8M547 364.7v2.5M549 364.3v2.9M551 364.7v2.5" stroke="#b40"/>
<path d="M553 365.3v4" stroke="#a40"/>
<path d="M555 366.3v2.7" stroke="#941"/>
<path d="M557 369.2v3" stroke="#751"/>
<path d="M559 373.4v2.6" stroke="#671"/>
<path d="M561 374.2v3.3" stroke="#782"/>
<path d="M563 376.8v3.3" stroke="#582"/>
<path d="M565 377.4v3.1" stroke="#7c3"/>
<path d="M567 380.1v3" stroke="#593"/>
<path d="M569 388v4.3" stroke="#388"/>
<path d="M571 393v3.7" stroke="#379"/>
<path d="M573 396.5v3.6" stroke="#2e5fb7"/>
<path d="M575 398.9v3.1" stroke="#2848b2"/>
<path d="M577 401.4v3.6" stroke="#222da4"/>
<path d="M579 402.2v3.3" stroke="#20259e"/>
<path d="M581 402.4v3.4" stroke="#20249d"/>
<path d="M457 402.5v2.5" stroke="#303dbd"/>
<path d="M459 401.3v2.1" stroke="#324bcb"/>
<path d="M461 398.6v2.1" stroke="#49f"/>
<path d="M463 397.1v2.4" stroke="#37c"/>
<path d="M465 390.4v2.5" stroke="#6ef"/>
<path d="M467 386.6v2.7" stroke="#497"/>
<path d="M469 386.8v3.1" stroke="#6fb"/>
<path d="M471 383.7v2.7" stroke="#7e7"/>
<path d="M473 380.5v2.2" stroke="#8e4"/>
<path d="M475 378.8v1.6" stroke="#8d3"/>
<path d="M479 375.4v2.2" stroke="#9a2"/>
<path d="M481 376v2.3" stroke="#782"/>
<path d="M505 376.7v1.9" stroke="#7a2"/>
<path d="M507 377.1v2.4" stroke="#8a2"/>
<path d="M513 377v1.6" stroke="#8b2"/>
<path d="M515 375.9v1.7" stroke="#9b2"/>
<path d="M541 366.1v2" stroke="#c40"/>
<path d="M543 366.3v2.4" stroke="#a40"/>
<path d="M547 366.8v2.5M549 366.8v2.9M551 366.7v2.5" stroke="#b51"/>
<path d="M555 368.6v2.7" stroke="#951"/>
<path d="M557 371.8v3" stroke="#761"/>
<path d="M559 375.6v2.6" stroke="#672"/>
<path d="M561 377.1v3.3" stroke="#692"/>
<path d="M563 379.8v3.3" stroke="#593"/>
<path d="M565 380.1v3.1" stroke="#7d4"/>
<path d="M567 382.7v3" stroke="#494"/>
<path d="M569 391.9v4.3" stroke="#379"/>
<path d="M571 396.4v3.7" stroke="#369"/>
<path d="M573 399.7v3.6" stroke="#2745b0"/>
<path d="M575 401.5v3.1" stroke="#2334a6"/>
<path d="M465 392.5v2.5" stroke="#5df"/>
<path d="M467 388.9v2.7" stroke="#498"/>
<path d="M469 389.5v3.1" stroke="#6ed"/>
<path d="M471 386.1v2.7" stroke="#6e8"/>
<path d="M473 382.4v2.2" stroke="#8f5"/>
<path d="M475 380v1.6" stroke="#8d4"/>
<path d="M559 377.8v2.6" stroke="#582"/>
<path d="M561 380v3.3" stroke="#6a3"/>
<path d="M563 382.7v3.3" stroke="#594"/>
<path d="M565 382.7v3.1" stroke="#6d5"/>
<path d="M567 385.4v3" stroke="#495"/>
<path d="M465 394.6v2.5" stroke="#5cf"/>
<path d="M467 391.2v2.7" stroke="#389"/>
<path d="M473 384.2v2.2" stroke="#7f6"/>
<path d="M475 381.2v1.6" stroke="#8d4"/>
<path d="M561 382.9v3.3" stroke="#5b4"/>
<path d="M563 385.6v3.3" stroke="#495"/>
<path d="M565 385.4v3.1" stroke="#6d7"/>
<path d="M567 388v3" stroke="#386"/>
<path d="M565 388.1v3.1" stroke="#5c9"/>
<path d="M567 390.6v3" stroke="#388"/>
<path d="M457 404.6v3.4" stroke="#3038b6"/>
<path d="M459 403v2.7" stroke="#3046c6"/>
<path d="M461 400.3v2.9" stroke="#396ee7"/>
<path d="M463 399.1v3" stroke="#366dd1"/>
<path d="M465 396.7v3.4" stroke="#4af"/>
<path d="M467 393.4v3.2" stroke="#5ce"/>
<path d="M469 392.2v3" stroke="#5cd"/>
<path d="M471 388.4v1.9" stroke="#7fb"/>
<path d="M475 382.4v1.3" stroke="#7d4"/>
<path d="M477 377.4v3.3" stroke="#9c3"/>
<path d="M479 377.3v3M481 377.9v2.5" stroke="#8a2"/>
<path d="M483 378.2v3.1" stroke="#8b2"/>
<path d="M485 376.9v3.2" stroke="#9b2"/>
<path d="M487 377v2.8" stroke="#782"/>
<path d="M489 377.6v1.8" stroke="#8a2"/>
<path d="M491 378v2" stroke="#792"/>
<path d="M493 378.7v.9" stroke="#9c2"/>
<path d="M495 378.3v1.2" stroke="#792"/>
<path d="M497 378v2.7" stroke="#8b2"/>
<path d="M499 377.5v2.4" stroke="#8a2"/>
<path d="M501 377.8v2.4" stroke="#792"/>
<path d="M503 377.7v3" stroke="#8a2"/>
<path d="M505 378.2v2.9" stroke="#792"/>
<path d="M507 379.1v2.2" stroke="#8b2"/>
<path d="M509 378v1.7" stroke="#9b2"/>
<path d="M511 377.4v2.5" stroke="#782"/>
<path d="M513 378.2v2.6" stroke="#8a2"/>
<path d="M515 377.2v2.5" stroke="#ab2"/>
<path d="M517 376.8v2.4" stroke="#882"/>
<path d="M519 377.8v2M521 377.7v2.4" stroke="#8a2"/>
<path d="M523 377v2" stroke="#9a2"/>
<path d="M525 376.5v2.7" stroke="#882"/>
<path d="M527 377.1v3.3" stroke="#892"/>
<path d="M529 376.9v3.9" stroke="#8a2"/>
<path d="M531 375.2v2.9" stroke="#aa2"/>
<path d="M533 372.5v2.7" stroke="#b81"/>
<path d="M535 370.4v3.2" stroke="#a61"/>
<path d="M537 368.9v3.8" stroke="#a51"/>
<path d="M539 367.8v4.1" stroke="#b51"/>
<path d="M541 367.8v4.2" stroke="#a41"/>
<path d="M543 368.2v3.8" stroke="#b51"/>
<path d="M545 368.4v3.4" stroke="#a51"/>
<path d="M547 368.8v3.5" stroke="#841"/>
<path d="M549 369.3v3.7" stroke="#b61"/>
<path d="M551 368.8v3.1" stroke="#941"/>
<path d="M553 368.9v3.3" stroke="#a51"/>
<path d="M555 370.9v2.8" stroke="#a61"/>
<path d="M557 374.4v3.8" stroke="#661"/>
<path d="M559 380v2.1" stroke="#692"/>
<path d="M561 385.8v1.8" stroke="#494"/>
<path d="M563 388.5v3.8" stroke="#4a8"/>
<path d="M565 390.7v4.1" stroke="#388"/>
<path d="M567 393.2v3.2" stroke="#38a"/>
<path d="M569 395.8v3.2" stroke="#37a"/>
<path d="M571 399.7v3.4" stroke="#2c5cb2"/>
<path d="M573 402.9v2.5" stroke="#2336a6"/>
<path d="M575 404.2v4.1" stroke="#2228a2"/>
<path d="M577 404.6v3.7" stroke="#2127a1"/>
<path d="M459 405.3v2.7" stroke="#303bba"/>
<path d="M461 402.7v2.9" stroke="#3352d3"/>
<path d="M463 401.7v3" stroke="#3250c7"/>
<path d="M465 399.7v3.4" stroke="#49f"/>
<path d="M467 396.2v3.2" stroke="#5bf"/>
<path d="M469 394.8v3" stroke="#5bd"/>
<path d="M471 389.9v1.9" stroke="#7fb"/>
<path d="M475 383.3v1.3" stroke="#7d4"/>
<path d="M477 380.3v3.3" stroke="#9e4"/>
<path d="M479 379.9v3M481 380v2.5" stroke="#7b2"/>
<path d="M489 379v1.8" stroke="#8a2"/>
<path d="M491 379.5v2" stroke="#7a2"/>
<path d="M531 377.6v2.9" stroke="#9a2"/>
<path d="M533 374.8v2.7" stroke="#a91"/>
<path d="M535 373.3v3.2M537 372.3v3.8" stroke="#a71"/>
<path d="M539 371.5v4.1" stroke="#a61"/>
<path d="M541 371.5v4.2" stroke="#961"/>
<path d="M543 371.6v3.8" stroke="#a71"/>
<path d="M545 371.5v3.4" stroke="#961"/>
<path d="M547 371.9v3.5" stroke="#751"/>
<path d="M549 372.6v3.7" stroke="#a81"/>
<path d="M551 371.5v3.1" stroke="#851"/>
<path d="M553 371.8v3.3" stroke="#961"/>
<path d="M555 373.3v2.8" stroke="#971"/>
<path d="M557 377.8v3.8" stroke="#671"/>
<path d="M559 381.7v2.1" stroke="#692"/>
<path d="M561 387.2v1.8" stroke="#494"/>
<path d="M563 391.9v3.8" stroke="#4a9"/>
<path d="M565 394.4v4.1" stroke="#389"/>
<path d="M567 396.1v3.2" stroke="#38a"/>
<path d="M569 398.6v3.2" stroke="#36a"/>
<path d="M571 402.7v3.4" stroke="#2541a9"/>
<path d="M573 405v2.5" stroke="#222ea2"/>
<path d="M461 405.2v2.9" stroke="#303fc0"/>
<path d="M463 404.3v3" stroke="#2f40bb"/>
<path d="M465 402.6v3.4" stroke="#3968f1"/>
<path d="M467 399v3.2" stroke="#4af"/>
<path d="M475 384.2v1.3" stroke="#7d4"/>
<path d="M477 383.1v3.3" stroke="#8f4"/>
<path d="M533 377.1v2.7" stroke="#9a2"/>
<path d="M535 376.1v3.2" stroke="#991"/>
<path d="M537 375.7v3.8M539 375.2v4.1" stroke="#981"/>
<path d="M541 375.3v4.2" stroke="#871"/>
<path d="M543 375v3.8" stroke="#981"/>
<path d="M545 374.5v3.4" stroke="#971"/>
<path d="M547 375.1v3.5" stroke="#761"/>
<path d="M549 375.9v3.7" stroke="#9a2"/>
<path d="M551 374.3v3.1" stroke="#761"/>
<path d="M553 374.8v3.3M555 375.6v2.8" stroke="#981"/>
<path d="M567 398.9v3.2" stroke="#37a"/>
<path d="M569 401.4v3.2" stroke="#2a53ab"/>
<path d="M547 378.2v3.5" stroke="#672"/>
<path d="M549 379.2v3.7" stroke="#8b3"/>
<path d="M551 377v3.1" stroke="#781"/>
<path d="M553 377.7v3.3M555 378v2.8" stroke="#892"/>
<path d="M551 379.7v3.1" stroke="#692"/>
<path d="M553 380.6v3.3" stroke="#7b3"/>
<path d="M457 407.6v3.4" stroke="#3135b3"/>
<path d="M459 407.6v3.4" stroke="#3135b2"/>
<path d="M463 407v3.5" stroke="#3039b9"/>
<path d="M465 405.6v3.1" stroke="#324bce"/>
<path d="M467 401.8v2.2" stroke="#49f"/>
<path d="M469 397.4v2.7" stroke="#5bf"/>
<path d="M471 391.4v2.6" stroke="#7fc"/>
<path d="M473 383.9v3" stroke="#8e4"/>
<path d="M475 385.1v1.1" stroke="#7d4"/>
<path d="M477 386v1.2" stroke="#5a3"/>
<path d="M479 382.5v3.3" stroke="#8e4"/>
<path d="M481 382.1v2.2" stroke="#9d3"/>
<path d="M483 380.9v3.1" stroke="#8b2"/>
<path d="M485 379.6v3" stroke="#8a2"/>
<path d="M487 379.4v2.9" stroke="#792"/>
<path d="M489 380.4v1.9" stroke="#9c3"/>
<path d="M491 381.1v2.5" stroke="#7a2"/>
<path d="M493 379.2v3.7" stroke="#ac2"/>
<path d="M495 379.1v3.2" stroke="#781"/>
<path d="M497 380.3v3.5M499 379.5v4.1M501 379.8v2.5" stroke="#8a2"/>
<path d="M503 380.3v2.2" stroke="#792"/>
<path d="M505 380.7v2.8M507 380.8v2.8" stroke="#8a2"/>
<path d="M509 379.2v2.2" stroke="#9b2"/>
<path d="M511 379.5v1.5" stroke="#892"/>
<path d="M513 380.4v1.4" stroke="#9a2"/>
<path d="M515 379.2v2.8" stroke="#8a2"/>
<path d="M517 378.8v3.2" stroke="#9a2"/>
<path d="M519 379.4v1.7" stroke="#892"/>
<path d="M523 378.6v1.1" stroke="#881"/>
<path d="M525 378.8v1.9" stroke="#892"/>
<path d="M527 380v2.9" stroke="#792"/>
<path d="M529 380.3v2.6" stroke="#8b2"/>
<path d="M531 380.1v2" stroke="#8a2"/>
<path d="M533 379.5v2" stroke="#892"/>
<path d="M535 379v2.6" stroke="#8a2"/>
<path d="M537 379.1v2.5" stroke="#892"/>
<path d="M539 379v2.4" stroke="#9a2"/>
<path d="M541 379.1v4.1" stroke="#892"/>
<path d="M543 378.3v3" stroke="#9a2"/>
<path d="M545 377.5v2.9" stroke="#781"/>
<path d="M547 381.3v2.6" stroke="#582"/>
<path d="M549 382.5v2.9" stroke="#8d3"/>
<path d="M551 382.5v3" stroke="#6a3"/>
<path d="M553 383.5v1.4" stroke="#9f4"/>
<path d="M555 380.4v1.9" stroke="#682"/>
<path d="M557 381.2v3" stroke="#692"/>
<path d="M559 383.4v3.5" stroke="#6b3"/>
<path d="M561 388.6v3.7" stroke="#495"/>
<path d="M563 395.2v2.6" stroke="#4ab"/>
<path d="M565 398.1v3.3" stroke="#379"/>
<path d="M567 401.7v3.2" stroke="#36b"/>
<path d="M569 404.3v2.4" stroke="#2741b0"/>
<path d="M571 405.7v2.5" stroke="#2433a8"/>
<path d="M573 407.1v2.1" stroke="#222aa3"/>
<path d="M467 403.6v2.2" stroke="#49f"/>
<path d="M469 399.7v2.7" stroke="#5bf"/>
<path d="M471 393.6v2.6" stroke="#6fd"/>
<path d="M473 386.5v3" stroke="#7f5"/>
<path d="M475 385.8v1.1" stroke="#7d4"/>
<path d="M477 386.7v1.2" stroke="#5a3"/>
<path d="M479 385.4v3.3" stroke="#8f5"/>
<path d="M481 383.9v2.2" stroke="#8d3"/>
<path d="M485 382.2v3" stroke="#7a2"/>
<path d="M487 381.9v2.9" stroke="#692"/>
<path d="M489 381.9v1.9" stroke="#8c3"/>
<path d="M509 381.1v2.2" stroke="#9b2"/>
<path d="M511 380.6v1.5" stroke="#892"/>
<path d="M523 379.4v1.1" stroke="#881"/>
<path d="M525 380.3v1.9M533 381.1v2" stroke="#892"/>
<path d="M535 381.2v2.6" stroke="#8a2"/>
<path d="M537 381.2v2.5" stroke="#7a2"/>
<path d="M539 381v2.4M543 381v3" stroke="#8b2"/>
<path d="M545 380.1v2.9" stroke="#792"/>
<path d="M547 383.6v2.6" stroke="#582"/>
<path d="M549 385v2.9" stroke="#7d4"/>
<path d="M551 385v3" stroke="#6a3"/>
<path d="M553 384.5v1.4" stroke="#9f4"/>
<path d="M555 381.9v1.9" stroke="#692"/>
<path d="M557 383.7v3" stroke="#593"/>
<path d="M559 386.5v3.5" stroke="#6b4"/>
<path d="M561 391.9v3.7" stroke="#386"/>
<path d="M563 397.4v2.6" stroke="#4ac"/>
<path d="M565 401.1v3.3" stroke="#369"/>
<path d="M567 404.5v3.2" stroke="#2a4bb4"/>
<path d="M569 406.3v2.4" stroke="#253aab"/>
<path d="M571 407.7v2.5" stroke="#222da4"/>
<path d="M573 408.8v2.1" stroke="#21269f"/>
<path d="M473 389.1v3" stroke="#7f6"/>
<path d="M475 386.5v1.1" stroke="#7d4"/>
<path d="M477 387.5v1.2" stroke="#5a3"/>
<path d="M479 388.3v3.3" stroke="#7f6"/>
<path d="M487 384.3v2.9" stroke="#6a3"/>
<path d="M489 383.5v1.9" stroke="#8d3"/>
<path d="M545 382.6v2.9" stroke="#692"/>
<path d="M547 385.8v2.6" stroke="#593"/>
<path d="M549 387.6v2.9" stroke="#7e5"/>
<path d="M551 387.6v3" stroke="#5b4"/>
<path d="M555 383.4v1.9" stroke="#692"/>
<path d="M557 386.3v3" stroke="#5a3"/>
<path d="M559 389.6v3.5" stroke="#5b6"/>
<path d="M561 395.2v3.7" stroke="#377"/>
<path d="M563 399.7v2.6" stroke="#49c"/>
<path d="M555 384.9v1.9" stroke="#592"/>
<path d="M557 388.9v3" stroke="#5a4"/>
<path d="M463 410.1v3.3" stroke="#3036b5"/>
<path d="M465 408.3v3.9" stroke="#3149cd"/>
<path d="M467 405.4v3.4" stroke="#4288ff"/>
<path d="M469 402v3" stroke="#5bf"/>
<path d="M471 395.8v2.3" stroke="#5ed"/>
<path d="M473 391.7v3.4" stroke="#5c7"/>
<path d="M475 387.2v3.2" stroke="#8f5"/>
<path d="M477 388.3v2.2" stroke="#6c4"/>
<path d="M479 391.2v1.8" stroke="#6d7"/>
<path d="M481 385.7v4" stroke="#8e4"/>
<path d="M483 383.6v3.4" stroke="#8c3"/>
<path d="M485 384.8v1" stroke="#9d3"/>
<path d="M489 385v2.4" stroke="#9e4"/>
<path d="M491 383.1v1.8" stroke="#792"/>
<path d="M493 382.6v1.9" stroke="#8a2"/>
<path d="M495 382v1.7" stroke="#9a2"/>
<path d="M497 383.3v1.5" stroke="#792"/>
<path d="M499 383.2v3" stroke="#8b2"/>
<path d="M501 381.9v2.2" stroke="#8a2"/>
<path d="M503 382.1v2" stroke="#892"/>
<path d="M505 383.1v1.3" stroke="#9b2"/>
<path d="M535 383.4v1.7" stroke="#792"/>
<path d="M537 383.2v1.9" stroke="#8b3"/>
<path d="M539 383v1.8" stroke="#9b2"/>
<path d="M541 382.8v1.9" stroke="#792"/>
<path d="M543 383.6v2.9" stroke="#582"/>
<path d="M545 385.1v3.8" stroke="#6a3"/>
<path d="M547 388v2" stroke="#7e4"/>
<path d="M549 390.1v1.9" stroke="#5a4"/>
<path d="M551 390.2v2.8" stroke="#5a5"/>
<path d="M553 385.5v3.5" stroke="#9f4"/>
<path d="M555 386.3v3.6" stroke="#583"/>
<path d="M557 391.4v3.7" stroke="#6d8"/>
<path d="M559 392.7v3.8" stroke="#496"/>
<path d="M561 398.6v2.6" stroke="#389"/>
<path d="M563 401.9v2.4" stroke="#48c"/>
<path d="M565 404v2.5" stroke="#25a"/>
<path d="M567 407.4v2.6" stroke="#273bb2"/>
<path d="M569 408.3v2.4" stroke="#2435aa"/>
<path d="M571 409.8v3.3" stroke="#2229a3"/>
<path d="M471 397.7v2.3" stroke="#5de"/>
<path d="M473 394.7v3.4" stroke="#5b9"/>
<path d="M475 390v3.2" stroke="#7f7"/>
<path d="M477 390v2.2" stroke="#6c5"/>
<path d="M479 392.6v1.8" stroke="#6d7"/>
<path d="M481 389.3v4" stroke="#8f6"/>
<path d="M483 386.6v3.4" stroke="#8d4"/>
<path d="M485 385.4v1" stroke="#9d3"/>
<path d="M493 384v1.9" stroke="#8b2"/>
<path d="M495 383.3v1.7" stroke="#9a2"/>
<path d="M501 383.7v2.2" stroke="#8b2"/>
<path d="M503 383.7v2" stroke="#8a2"/>
<path d="M535 384.6v1.7" stroke="#7a2"/>
<path d="M537 384.7v1.9" stroke="#8b3"/>
<path d="M541 384.3v1.9" stroke="#792"/>
<path d="M543 386.1v2.9" stroke="#592"/>
<path d="M545 388.6v3.8" stroke="#5b4"/>
<path d="M547 389.6v2" stroke="#7e5"/>
<path d="M549 391.6v1.9" stroke="#5a4"/>
<path d="M551 392.6v2.8" stroke="#4a6"/>
<path d="M553 388.7v3.5" stroke="#8f6"/>
<path d="M555 389.5v3.6" stroke="#494"/>
<path d="M557 394.7v3.7" stroke="#5ca"/>
<path d="M559 396v3.8" stroke="#388"/>
<path d="M561 400.8v2.6" stroke="#37a"/>
<path d="M563 403.8v2.4" stroke="#38c"/>
<path d="M565 406.1v2.5" stroke="#25a"/>
<path d="M567 409.5v2.6" stroke="#2533ac"/>
<path d="M569 410.3v2.4" stroke="#232ea5"/>
<path d="M471 399.6v2.3" stroke="#5de"/>
<path d="M473 397.6v3.4" stroke="#4aa"/>
<path d="M475 392.8v3.2" stroke="#7f9"/>
<path d="M477 391.8v2.2" stroke="#5c6"/>
<path d="M479 394v1.8" stroke="#6d8"/>
<path d="M481 392.8v4" stroke="#7f9"/>
<path d="M483 389.5v3.4" stroke="#7e5"/>
<path d="M543 388.7v2.9" stroke="#593"/>
<path d="M545 392v3.8" stroke="#5b5"/>
<path d="M547 391.3v2" stroke="#7e5"/>
<path d="M551 395v2.8" stroke="#497"/>
<path d="M553 391.8v3.5" stroke="#7f9"/>
<path d="M555 392.7v3.6" stroke="#495"/>
<path d="M557 398v3.7" stroke="#4bb"/>
<path d="M559 399.4v3.8" stroke="#379"/>
<path d="M561 403v2.6" stroke="#37a"/>
<path d="M563 405.8v2.4" stroke="#3570cc"/>
<path d="M565 408.3v2.5" stroke="#2441a0"/>
<path d="M471 401.5v2.3" stroke="#5cf"/>
<path d="M473 400.6v3.4" stroke="#49b"/>
<path d="M475 395.6v3.2" stroke="#6eb"/>
<path d="M477 393.6v2.2" stroke="#5c7"/>
<path d="M551 397.4v2.8" stroke="#398"/>
<path d="M553 394.9v3.5" stroke="#6fc"/>
<path d="M555 395.9v3.6" stroke="#387"/>
<path d="M557 401.3v3.7" stroke="#4ac"/>
<path d="M559 402.7v3.8" stroke="#369"/>
<path d="M561 405.2v2.6" stroke="#2d63a8"/>
<path d="M475 398.4v3.2" stroke="#5dd"/>
<path d="M477 395.4v2.2" stroke="#5b8"/>
<path d="M553 398v3.5" stroke="#5ee"/>
<path d="M555 399.1v3.6" stroke="#378"/>
<path d="M475 401.2v3.2" stroke="#5be"/>
<path d="M477 397.1v2.2" stroke="#4b9"/>
<path d="M465 411.8v2.1" stroke="#303ebf"/>
<path d="M467 408.4v2.5" stroke="#3b75f6"/>
<path d="M469 404.6v3.6" stroke="#49e"/>
<path d="M471 403.4v3.6M473 403.5v3.1" stroke="#49d"/>
<path d="M475 404v4.1" stroke="#37b"/>
<path d="M477 398.9v3.3" stroke="#6ef"/>
<path d="M479 395.3v2.7" stroke="#5b7"/>
<path d="M485 386.1v2.4" stroke="#8c3"/>
<path d="M487 385.8v2" stroke="#7b2"/>
<path d="M489 387v1.7" stroke="#6a2"/>
<path d="M491 384.5v2.2" stroke="#ad3"/>
<path d="M493 385.5v1.9" stroke="#572"/>
<path d="M495 384.6v2.9" stroke="#ad3"/>
<path d="M497 384.5v2.7" stroke="#792"/>
<path d="M499 385.8v3.6M501 385.6v3.1" stroke="#8b2"/>
<path d="M503 385.3v2.6" stroke="#8a2"/>
<path d="M505 384v2.8" stroke="#9b2"/>
<path d="M507 382v2.7" stroke="#b91"/>
<path d="M509 379.7v2" stroke="#c81"/>
<path d="M511 378.1v1.3M513 377.3v1" stroke="#c61"/>
<path d="M517 376.9v.5M519 376.8v.6M521 376.8v.6M523 376.7v.7M525 376.9v.7M527 377.2v.7" stroke="#b51"/>
<path d="M529 377.9v1" stroke="#a51"/>
<path d="M531 379.3v2.2" stroke="#851"/>
<path d="M533 382.1v2.7" stroke="#761"/>
<path d="M535 385.9v2" stroke="#682"/>
<path d="M537 386.2v1.7" stroke="#9c3"/>
<path d="M539 384.4v2.2" stroke="#671"/>
<path d="M541 385.7v2.2" stroke="#9d3"/>
<path d="M547 392.9v2.2" stroke="#7f7"/>
<path d="M549 393.1v3.7" stroke="#495"/>
<path d="M551 399.8v3.1" stroke="#388"/>
<path d="M553 401.2v3.1" stroke="#4bd"/>
<path d="M555 402.3v2.8" stroke="#37a"/>
<path d="M557 404.6v2.5" stroke="#48c"/>
<path d="M559 406.1v2.8" stroke="#36a"/>
<path d="M561 407.4v3.8" stroke="#3870e4"/>
<path d="M563 407.7v3.7" stroke="#2c56b6"/>
<path d="M565 410.4v2.7" stroke="#253aac"/>
<path d="M567 411.7v4.1" stroke="#232ca6"/>
<path d="M569 412.3v3.7" stroke="#2229a2"/>
<path d="M571 412.7v3.5" stroke="#2226a0"/>
<path d="M465 413.5v2.1" stroke="#303aba"/>
<path d="M467 410.5v2.5" stroke="#355ae0"/>
<path d="M469 407.8v3.6" stroke="#3b79e9"/>
<path d="M471 406.6v3.6" stroke="#397ad5"/>
<path d="M473 406.2v3.1" stroke="#48d"/>
<path d="M475 407.7v4.1" stroke="#3166be"/>
<path d="M477 401.8v3.3" stroke="#5df"/>
<path d="M479 397.6v2.7" stroke="#4a8"/>
<path d="M485 388.1v2.4" stroke="#8d3"/>
<path d="M487 387.4v2" stroke="#7b3"/>
<path d="M489 388.3v1.7" stroke="#6a3"/>
<path d="M491 386.4v2.2" stroke="#ad3"/>
<path d="M493 387v1.9" stroke="#582"/>
<path d="M495 387.2v2.9" stroke="#9e3"/>
<path d="M497 386.8v2.7" stroke="#792"/>
<path d="M539 386.2v2.2" stroke="#582"/>
<path d="M541 387.5v2.2" stroke="#9e4"/>
<path d="M547 394.7v2.2" stroke="#7f8"/>
<path d="M549 396.4v3.7" stroke="#486"/>
<path d="M551 402.5v3.1" stroke="#379"/>
<path d="M553 403.9v3.1" stroke="#4ae"/>
<path d="M555 404.7v2.8" stroke="#37a"/>
<path d="M557 406.7v2.5" stroke="#377acd"/>
<path d="M559 408.5v2.8" stroke="#2954a8"/>
<path d="M561 410.8v3.8" stroke="#2c49c7"/>
<path d="M563 411v3.7" stroke="#253baa"/>
<path d="M565 412.7v2.7" stroke="#232fa5"/>
<path d="M467 412.6v2.5" stroke="#3146ca"/>
<path d="M469 411v3.6" stroke="#3251d0"/>
<path d="M471 409.8v3.6" stroke="#3257cb"/>
<path d="M473 408.9v3.1" stroke="#376dda"/>
<path d="M477 404.8v3.3" stroke="#5cf"/>
<path d="M479 400v2.7" stroke="#4a9"/>
<path d="M485 390.1v2.4" stroke="#8d4"/>
<path d="M487 389v2" stroke="#7b3"/>
<path d="M489 389.7v1.7" stroke="#6a3"/>
<path d="M491 388.2v2.2" stroke="#9e3"/>
<path d="M493 388.5v1.9" stroke="#582"/>
<path d="M495 389.7v2.9" stroke="#9f4"/>
<path d="M539 388v2.2" stroke="#582"/>
<path d="M541 389.2v2.2" stroke="#8e4"/>
<path d="M547 396.5v2.2" stroke="#6e9"/>
<path d="M549 399.6v3.7" stroke="#387"/>
<path d="M551 405.2v3.1" stroke="#37a"/>
<path d="M553 406.5v3.1" stroke="#49e"/>
<path d="M555 407.1v2.8" stroke="#36a"/>
<path d="M557 408.8v2.5" stroke="#3267c8"/>
<path d="M559 411v2.8" stroke="#253fa3"/>
<path d="M539 389.7v2.2" stroke="#582"/>
<path d="M541 391v2.2" stroke="#8f5"/>
<path d="M539 391.5v2.2" stroke="#593"/>
<path d="M541 392.8v2.2" stroke="#8f5"/>
<path d="M465 415.3v3.6" stroke="#3035b3"/>
<path d="M467 414.7v3.9" stroke="#3037b5"/>
<path d="M469 414.2v4" stroke="#2f3ab8"/>
<path d="M471 413v4.2" stroke="#3148c9"/>
<path d="M473 411.5v2.8" stroke="#3253cc"/>
<path d="M475 411.5v2.2" stroke="#3559d3"/>
<path d="M477 407.7v2.2" stroke="#5af"/>
<path d="M479 402.3v3.2" stroke="#5dd"/>
<path d="M481 394.4v3.3" stroke="#8f7"/>
<path d="M483 388.9v1.5" stroke="#7b2"/>
<path d="M485 392.1v2.2" stroke="#593"/>
<path d="M487 390.5v3.5" stroke="#9f4"/>
<path d="M489 391v2.6" stroke="#582"/>
<path d="M491 390v2.5" stroke="#8e4"/>
<path d="M493 390.1v1.7" stroke="#7b3"/>
<path d="M497 389.1v.6M499 388.9v3.2" stroke="#7a2"/>
<path d="M501 388.2v3.7" stroke="#8c3"/>
<path d="M503 387.4v3.6" stroke="#8a2"/>
<path d="M505 386.4v3.1" stroke="#ab2"/>
<path d="M507 384.3v2.2" stroke="#b91"/>
<path d="M509 381.3v1.9" stroke="#d81"/>
<path d="M511 379v2.3M513 377.9v2.4" stroke="#b51"/>
<path d="M515 377v2.8" stroke="#c51"/>
<path d="M517 377v2.6" stroke="#b40"/>
<path d="M519 377v2.7" stroke="#b51"/>
<path d="M521 377v3" stroke="#a40"/>
<path d="M523 377v2.7" stroke="#c51"/>
<path d="M525 377.1v2.6" stroke="#a40"/>
<path d="M527 377.5v2.8" stroke="#940"/>
<path d="M529 378.5v3.6" stroke="#951"/>
<path d="M531 381v3.9" stroke="#751"/>
<path d="M533 384.4v2.2" stroke="#aa2"/>
<path d="M535 387.5v2.4" stroke="#572"/>
<path d="M537 387.5v4.3" stroke="#9d3"/>
<path d="M539 393.3v2" stroke="#493"/>
<path d="M541 394.5v2" stroke="#8f6"/>
<path d="M543 390.2v4.1" stroke="#593"/>
<path d="M545 394.9v3.5" stroke="#5a5"/>
<path d="M547 398.4v3.5" stroke="#497"/>
<path d="M549 402.9v3.5" stroke="#378"/>
<path d="M551 407.9v3.1" stroke="#37c"/>
<path d="M553 409.2v3.9" stroke="#3265c5"/>
<path d="M555 409.5v3.8" stroke="#3364cc"/>
<path d="M557 410.9v3.3" stroke="#2b51b7"/>
<path d="M559 413.4v2.5" stroke="#2536a9"/>
<path d="M561 414.2v2.5" stroke="#252faa"/>
<path d="M563 414.3v2.4" stroke="#242ea8"/>
<path d="M565 415v3.8" stroke="#2329a3"/>
<path d="M473 414v2.8" stroke="#3044c0"/>
<path d="M475 413.3v2.2" stroke="#3354d2"/>
<path d="M477 409.6v2.2" stroke="#4af"/>
<path d="M479 405v3.2" stroke="#5ce"/>
<path d="M481 397.3v3.3" stroke="#8f9"/>
<path d="M483 390v1.5" stroke="#7b2"/>
<path d="M485 393.9v2.2" stroke="#593"/>
<path d="M487 393.7v3.5" stroke="#9f5"/>
<path d="M489 393.2v2.6" stroke="#593"/>
<path d="M491 392.1v2.5" stroke="#8e4"/>
<path d="M493 391.4v1.7" stroke="#7c3"/>
<path d="M513 379.9v2.4M515 379.4v2.8M517 379.2v2.6M519 379.3v2.7" stroke="#b51"/>
<path d="M521 379.5v3" stroke="#a51"/>
<path d="M523 379.3v2.7" stroke="#c51"/>
<path d="M525 379.3v2.6" stroke="#a51"/>
<path d="M527 379.9v2.8" stroke="#951"/>
<path d="M529 381.7v3.6" stroke="#861"/>
<path d="M531 384.5v3.9" stroke="#761"/>
<path d="M533 386.3v2.2" stroke="#aa2"/>
<path d="M535 389.5v2.4" stroke="#582"/>
<path d="M537 391.4v4.3" stroke="#8e4"/>
<path d="M539 394.9v2" stroke="#493"/>
<path d="M541 396.1v2" stroke="#7f7"/>
<path d="M543 393.9v4.1" stroke="#594"/>
<path d="M545 398v3.5" stroke="#496"/>
<path d="M547 401.5v3.5" stroke="#388"/>
<path d="M549 406v3.5" stroke="#379"/>
<path d="M551 410.6v3.1" stroke="#2f5ec0"/>
<path d="M553 412.7v3.9" stroke="#2a46b8"/>
<path d="M555 412.9v3.8" stroke="#2a44bb"/>
<path d="M557 413.7v3.3" stroke="#263cac"/>
<path d="M559 415.5v2.5" stroke="#232fa5"/>
<path d="M561 416.2v2.5" stroke="#2429a4"/>
<path d="M563 416.3v2.4" stroke="#2328a2"/>
<path d="M477 411.4v2.2" stroke="#4697ff"/>
<path d="M479 407.8v3.2" stroke="#5bf"/>
<path d="M491 394.1v2.5" stroke="#8f5"/>
<path d="M493 392.8v1.7" stroke="#7c4"/>
<path d="M527 382.3v2.8" stroke="#851"/>
<path d="M529 384.9v3.6" stroke="#771"/>
<path d="M531 388v3.9" stroke="#682"/>
<path d="M533 388.1v2.2" stroke="#9b2"/>
<path d="M541 397.8v2" stroke="#7f9"/>
<path d="M543 397.6v4.1" stroke="#496"/>
<path d="M545 401.1v3.5" stroke="#398"/>
<path d="M547 404.6v3.5" stroke="#379"/>
<path d="M549 409.1v3.5" stroke="#369"/>
<path d="M551 413.3v3.1" stroke="#2943b4"/>
<path d="M491 396.2v2.5" stroke="#7f6"/>
<path d="M493 394.1v1.7" stroke="#7c4"/>
<path d="M541 399.4v2" stroke="#7fa"/>
<path d="M543 401.3v4.1" stroke="#387"/>
<path d="M545 404.2v3.5" stroke="#389"/>
<path d="M547 407.7v3.5" stroke="#37a"/>
<path d="M549 412.2v3.5" stroke="#264b9e"/>
<path d="M491 398.3v2.5" stroke="#7f8"/>
<path d="M493 395.4v1.7" stroke="#6d4"/>
<path d="M469 417.8v3.7" stroke="#3035b2"/>
<path d="M471 416.8v2.4" stroke="#2f3cbb"/>
<path d="M473 416.4v2.6" stroke="#2e3ab5"/>
<path d="M475 415.1v3.2" stroke="#3151d3"/>
<path d="M477 413.2v3.8" stroke="#345cd4"/>
<path d="M479 410.6v3.3" stroke="#49f"/>
<path d="M481 400.2v3.2" stroke="#7fb"/>
<path d="M483 391.1v3.5" stroke="#9e4"/>
<path d="M485 395.7v2.7" stroke="#593"/>
<path d="M487 396.8v3" stroke="#8f7"/>
<path d="M489 395.5v3.6" stroke="#593"/>
<path d="M491 400.4v1.3" stroke="#7f9"/>
<path d="M493 396.8v1.9" stroke="#6c5"/>
<path d="M495 389.7v4.2" stroke="#8c3"/>
<path d="M497 389.3v3.1" stroke="#9c3"/>
<path d="M499 391.7v2.8" stroke="#7c3"/>
<path d="M501 391.6v2.4" stroke="#6a2"/>
<path d="M503 390.6v2.8" stroke="#8c3"/>
<path d="M505 389.1v2.4" stroke="#ac2"/>
<path d="M507 386.1v2.7" stroke="#a91"/>
<path d="M509 382.8v3.1" stroke="#d81"/>
<path d="M511 380.9v3.2" stroke="#a51"/>
<path d="M513 381.8v2.4" stroke="#b61"/>
<path d="M515 381.8v2.6" stroke="#a51"/>
<path d="M517 381.4v3.4" stroke="#a61"/>
<path d="M519 381.6v3.6" stroke="#a51"/>
<path d="M521 382.1v3.3" stroke="#a61"/>
<path d="M523 381.6v2.6" stroke="#a51"/>
<path d="M525 381.5v3.2" stroke="#841"/>
<path d="M527 384.7v2.5" stroke="#a71"/>
<path d="M529 388v1.9" stroke="#981"/>
<path d="M531 391.5v1.7" stroke="#582"/>
<path d="M533 390v2.5" stroke="#9d3"/>
<path d="M535 391.5v3.7" stroke="#582"/>
<path d="M537 395.3v3.7" stroke="#8f5"/>
<path d="M539 396.6v3.2" stroke="#494"/>
<path d="M541 401.1v3.7" stroke="#497"/>
<path d="M543 404.9v3.5" stroke="#389"/>
<path d="M545 407.3v3.9" stroke="#49c"/>
<path d="M547 410.9v3.1" stroke="#369"/>
<path d="M549 415.2v3" stroke="#273eb1"/>
<path d="M551 416v2.7" stroke="#2735af"/>
<path d="M553 416.1v2.8" stroke="#2634ad"/>
<path d="M555 416.4v2.6" stroke="#2632ac"/>
<path d="M557 416.6v2.5" stroke="#2530aa"/>
<path d="M559 417.6v3.8" stroke="#242ba5"/>
<path d="M471 418.9v2.4" stroke="#2f36b5"/>
<path d="M473 418.6v2.6" stroke="#2f35b1"/>
<path d="M475 418v3.2" stroke="#2f3dbf"/>
<path d="M477 416.6v3.8" stroke="#2f44c2"/>
<path d="M479 413.4v3.3" stroke="#3c7af3"/>
<path d="M481 403.1v3.2" stroke="#6fe"/>
<path d="M483 394.2v3.5" stroke="#9f5"/>
<path d="M485 398v2.7" stroke="#494"/>
<path d="M487 399.3v3" stroke="#7f9"/>
<path d="M489 398.7v3.6" stroke="#495"/>
<path d="M491 401.3v1.3" stroke="#7f9"/>
<path d="M493 398.3v1.9" stroke="#6c5"/>
<path d="M495 393.5v4.2" stroke="#7d4"/>
<path d="M497 392v3.1" stroke="#8d3"/>
<path d="M499 394.1v2.8" stroke="#7c3"/>
<path d="M501 393.5v2.4" stroke="#6a3"/>
<path d="M503 392.9v2.8" stroke="#8d3"/>
<path d="M505 391.1v2.4" stroke="#9c3"/>
<path d="M507 388.5v2.7" stroke="#aa2"/>
<path d="M509 385.5v3.1" stroke="#c91"/>
<path d="M511 383.7v3.2" stroke="#a61"/>
<path d="M513 383.8v2.4" stroke="#b61"/>
<path d="M515 384v2.6" stroke="#961"/>
<path d="M517 384.4v3.4" stroke="#a61"/>
<path d="M519 384.8v3.6" stroke="#961"/>
<path d="M521 385v3.3" stroke="#a71"/>
<path d="M523 383.7v2.6" stroke="#a61"/>
<path d="M525 384.3v3.2" stroke="#751"/>
<path d="M527 386.8v2.5" stroke="#981"/>
<path d="M533 392v2.5" stroke="#9e3"/>
<path d="M535 394.8v3.7" stroke="#583"/>
<path d="M537 398.6v3.7" stroke="#7f8"/>
<path d="M539 399.3v3.2" stroke="#495"/>
<path d="M541 404.4v3.7" stroke="#388"/>
<path d="M543 408v3.5" stroke="#37a"/>
<path d="M545 410.9v3.9" stroke="#37c"/>
<path d="M547 413.6v3.1" stroke="#259"/>
<path d="M549 417.8v3" stroke="#2531a9"/>
<path d="M551 418.3v2.7" stroke="#252da7"/>
<path d="M553 418.5v2.8" stroke="#252ca6"/>
<path d="M555 418.6v2.6" stroke="#252ba6"/>
<path d="M557 418.7v2.5" stroke="#242aa4"/>
<path d="M479 416.3v3.3" stroke="#3353d6"/>
<path d="M481 405.9v3.2" stroke="#5ef"/>
<path d="M483 397.3v3.5" stroke="#8f7"/>
<path d="M485 400.3v2.7" stroke="#495"/>
<path d="M487 401.9v3" stroke="#7fb"/>
<path d="M489 401.9v3.6" stroke="#496"/>
<path d="M491 402.2v1.3" stroke="#7f9"/>
<path d="M493 399.8v1.9" stroke="#6c6"/>
<path d="M495 397.3v4.2" stroke="#7e6"/>
<path d="M497 394.8v3.1" stroke="#8e4"/>
<path d="M501 395.5v2.4" stroke="#6b3"/>
<path d="M503 395.3v2.8" stroke="#8e4"/>
<path d="M523 385.9v2.6" stroke="#971"/>
<path d="M525 387.1v3.2" stroke="#761"/>
<path d="M527 389v2.5" stroke="#892"/>
<path d="M533 394.1v2.5" stroke="#9e4"/>
<path d="M535 398.1v3.7" stroke="#494"/>
<path d="M537 402v3.7" stroke="#6ea"/>
<path d="M539 402.1v3.2" stroke="#486"/>
<path d="M541 407.6v3.7" stroke="#379"/>
<path d="M543 411.1v3.5" stroke="#36a"/>
<path d="M545 414.4v3.9" stroke="#2e55c3"/>
<path d="M547 416.3v3.1" stroke="#233d9e"/>
<path d="M481 408.7v3.2" stroke="#5cf"/>
<path d="M483 400.4v3.5" stroke="#7fa"/>
<path d="M485 402.6v2.7" stroke="#486"/>
<path d="M493 401.3v1.9" stroke="#5c7"/>
<path d="M495 401.2v4.2" stroke="#6d9"/>
<path d="M497 397.5v3.1" stroke="#7f5"/>
<path d="M525 389.9v3.2" stroke="#671"/>
<path d="M527 391.1v2.5" stroke="#8a2"/>
<path d="M539 404.9v3.2" stroke="#387"/>
<path d="M541 410.9v3.7" stroke="#36a"/>
<path d="M543 414.2v3.5" stroke="#2953a7"/>
<path d="M481 411.6v3.2" stroke="#5bf"/>
<path d="M483 403.4v3.5" stroke="#6fc"/>
<path d="M493 402.8v1.9" stroke="#5c8"/>
<path d="M495 405v4.2" stroke="#5cc"/>
<path d="M497 400.3v3.1" stroke="#7e8"/>
<path d="M481 414.4v3.2" stroke="#49f"/>
<path d="M483 406.5v3.5" stroke="#5de"/>
<path d="M477 420v2.2" stroke="#2e37b6"/>
<path d="M479 419.2v2.5" stroke="#2e3ab7"/>
<path d="M481 417.2v2.5" stroke="#3760e9"/>
<path d="M483 409.6v2.7" stroke="#5df"/>
<path d="M485 404.9v3.8" stroke="#498"/>
<path d="M487 404.5v3.5" stroke="#5ba"/>
<path d="M489 405.1v3.3" stroke="#499"/>
<path d="M491 403.1v3.1" stroke="#6ea"/>
<path d="M493 404.2v2.9" stroke="#387"/>
<path d="M495 408.8v3.5" stroke="#4bd"/>
<path d="M497 403v3.7" stroke="#7fb"/>
<path d="M499 396.5v3.6M501 397.5v2.6" stroke="#7d4"/>
<path d="M503 397.7v2.5" stroke="#6b4"/>
<path d="M505 393.1v3.9" stroke="#9e3"/>
<path d="M507 390.8v3.7" stroke="#8a2"/>
<path d="M509 388.2v2.9" stroke="#cb2"/>
<path d="M511 386.5v3.4" stroke="#761"/>
<path d="M513 385.8v3.4" stroke="#a71"/>
<path d="M515 386.2v3.4" stroke="#861"/>
<path d="M517 387.4v3.4" stroke="#871"/>
<path d="M519 388v4" stroke="#761"/>
<path d="M521 387.9v3.4" stroke="#ca2"/>
<path d="M523 388.1v3.1" stroke="#771"/>
<path d="M525 392.7v2" stroke="#682"/>
<path d="M527 393.3v2.6" stroke="#9d3"/>
<path d="M529 389.6v3.1" stroke="#992"/>
<path d="M531 392.8v2.7" stroke="#582"/>
<path d="M533 396.2v2.6" stroke="#593"/>
<path d="M535 401.4v2.8" stroke="#495"/>
<path d="M537 405.3v3.3" stroke="#4ba"/>
<path d="M539 407.7v3.2" stroke="#388"/>
<path d="M541 414.2v2.9" stroke="#36b"/>
<path d="M543 417.3v2.2" stroke="#2840ac"/>
<path d="M545 417.9v2.8" stroke="#293cb5"/>
<path d="M547 419v2.5" stroke="#2535aa"/>
<path d="M549 420.4v3.7" stroke="#252aa4"/>
<path d="M477 421.8v2.2" stroke="#2f34b2"/>
<path d="M479 421.2v2.5" stroke="#2e36b3"/>
<path d="M481 419.4v2.5" stroke="#3353db"/>
<path d="M483 411.9v2.7" stroke="#5cf"/>
<path d="M485 408.3v3.8" stroke="#389"/>
<path d="M487 407.6v3.5" stroke="#4ab"/>
<path d="M489 408.1v3.3" stroke="#399"/>
<path d="M491 405.8v3.1" stroke="#5dc"/>
<path d="M493 406.7v2.9" stroke="#388"/>
<path d="M495 411.8v3.5" stroke="#4ae"/>
<path d="M497 406.3v3.7" stroke="#6fe"/>
<path d="M499 399.7v3.6" stroke="#6d6"/>
<path d="M501 399.6v2.6" stroke="#6d5"/>
<path d="M503 399.8v2.5" stroke="#6b4"/>
<path d="M505 396.6v3.9" stroke="#8f5"/>
<path d="M507 394.1v3.7" stroke="#7b3"/>
<path d="M509 390.7v2.9" stroke="#bc2"/>
<path d="M511 389.5v3.4" stroke="#771"/>
<path d="M513 388.7v3.4" stroke="#a91"/>
<path d="M515 389.1v3.4" stroke="#771"/>
<path d="M517 390.5v3.4" stroke="#882"/>
<path d="M519 391.7v4" stroke="#682"/>
<path d="M521 390.9v3.4" stroke="#ac2"/>
<path d="M523 390.8v3.1" stroke="#771"/>
<path d="M525 394.3v2" stroke="#692"/>
<path d="M527 395.5v2.6" stroke="#8d3"/>
<path d="M529 392.2v3.1" stroke="#8b2"/>
<path d="M531 395.1v2.7" stroke="#582"/>
<path d="M533 398.4v2.6" stroke="#593"/>
<path d="M535 403.9v2.8" stroke="#486"/>
<path d="M537 408.2v3.3" stroke="#4ab"/>
<path d="M539 410.5v3.2" stroke="#379"/>
<path d="M541 416.8v2.9" stroke="#2c56b6"/>
<path d="M543 419.1v2.2" stroke="#273daa"/>
<path d="M545 420.4v2.8" stroke="#2731ac"/>
<path d="M547 421.1v2.5" stroke="#252ea5"/>
<path d="M483 414.2v2.7" stroke="#5af"/>
<path d="M485 411.7v3.8" stroke="#37a"/>
<path d="M487 410.7v3.5" stroke="#49c"/>
<path d="M489 411v3.3" stroke="#38a"/>
<path d="M491 408.5v3.1" stroke="#5ce"/>
<path d="M493 409.2v2.9" stroke="#378"/>
<path d="M495 414.9v3.5" stroke="#48e"/>
<path d="M497 409.7v3.7" stroke="#5df"/>
<path d="M499 402.9v3.6" stroke="#6d8"/>
<path d="M501 401.8v2.6" stroke="#6d6"/>
<path d="M503 401.9v2.5" stroke="#5b6"/>
<path d="M505 400v3.9" stroke="#7f6"/>
<path d="M507 397.3v3.7" stroke="#7c4"/>
<path d="M509 393.2v2.9" stroke="#ad3"/>
<path d="M511 392.5v3.4" stroke="#682"/>
<path d="M513 391.7v3.4" stroke="#9a2"/>
<path d="M515 392.1v3.4" stroke="#682"/>
<path d="M517 393.5v3.4" stroke="#7a2"/>
<path d="M519 395.3v4" stroke="#592"/>
<path d="M521 393.9v3.4" stroke="#9e3"/>
<path d="M523 393.5v3.1" stroke="#682"/>
<path d="M525 395.8v2" stroke="#692"/>
<path d="M529 394.9v3.1" stroke="#8c3"/>
<path d="M531 397.4v2.7" stroke="#582"/>
<path d="M533 400.6v2.6" stroke="#494"/>
<path d="M535 406.3v2.8" stroke="#387"/>
<path d="M537 411v3.3" stroke="#49c"/>
<path d="M539 413.3v3.2" stroke="#369"/>
<path d="M483 416.6v2.7" stroke="#49f"/>
<path d="M485 415.2v3.8" stroke="#36a"/>
<path d="M487 413.8v3.5" stroke="#38d"/>
<path d="M489 414v3.3" stroke="#37b"/>
<path d="M491 411.2v3.1" stroke="#5bf"/>
<path d="M493 411.7v2.9" stroke="#379"/>
<path d="M499 406.2v3.6" stroke="#5ca"/>
<path d="M501 404v2.6" stroke="#6d8"/>
<path d="M503 404v2.5" stroke="#5b7"/>
<path d="M505 403.5v3.9" stroke="#7f9"/>
<path d="M507 400.6v3.7" stroke="#6c5"/>
<path d="M509 395.7v2.9" stroke="#9f4"/>
<path d="M513 394.6v3.4" stroke="#8c3"/>
<path d="M515 395.1v3.4" stroke="#692"/>
<path d="M517 396.6v3.4" stroke="#6b3"/>
<path d="M519 398.9v4" stroke="#5a3"/>
<path d="M521 396.9v3.4" stroke="#9f4"/>
<path d="M533 402.8v2.6" stroke="#495"/>
<path d="M535 408.7v2.8" stroke="#378"/>
<path d="M537 413.9v3.3" stroke="#38c"/>
<path d="M539 416.1v3.2" stroke="#259"/>
<path d="M487 416.9v3.5" stroke="#3360cc"/>
<path d="M489 416.9v3.3" stroke="#2d53b2"/>
<path d="M491 413.9v3.1" stroke="#4af"/>
<path d="M493 414.1v2.9" stroke="#369"/>
<path d="M533 405v2.6" stroke="#496"/>
<path d="M535 411.2v2.8" stroke="#378"/>
<path d="M491 416.6v3.1" stroke="#4083fa"/>
<path d="M493 416.6v2.9" stroke="#28519d"/>
<path d="M481 421.5v2.6" stroke="#2f44c5"/>
<path d="M483 418.9v2.7" stroke="#345dd8"/>
<path d="M485 418.6v2.8" stroke="#2f54c1"/>
<path d="M487 420v2.9" stroke="#2f48c1"/>
<path d="M489 419.9v2.8" stroke="#304cc7"/>
<path d="M491 419.3v2.7" stroke="#3250cc"/>
<path d="M493 419.1v4" stroke="#3253cd"/>
<path d="M495 418v4" stroke="#3a71e7"/>
<path d="M497 413v2.8" stroke="#5bf"/>
<path d="M499 409.4v3.8" stroke="#4aa"/>
<path d="M501 406.2v3.3" stroke="#5da"/>
<path d="M503 406.1v3.5" stroke="#497"/>
<path d="M505 407v3.7" stroke="#5dc"/>
<path d="M507 403.9v2.6" stroke="#7f9"/>
<path d="M509 398.1v2.5" stroke="#7c3"/>
<path d="M511 395.5v3.1" stroke="#7a2"/>
<path d="M513 397.6v3.3" stroke="#593"/>
<path d="M515 398v3.7" stroke="#6b3"/>
<path d="M517 399.6v3.1" stroke="#7e4"/>
<path d="M519 402.6v3.2" stroke="#494"/>
<path d="M521 399.8v3.1" stroke="#7e5"/>
<path d="M523 396.2v3.7M525 397.4v3.9" stroke="#6a3"/>
<path d="M527 397.7v3.8M529 397.6v3.6" stroke="#6b3"/>
<path d="M531 399.7v4" stroke="#493"/>
<path d="M533 407.2v3.5" stroke="#387"/>
<path d="M535 413.6v3.5" stroke="#48c"/>
<path d="M537 416.8v3.3" stroke="#36b"/>
<path d="M539 418.9v2.8" stroke="#2c4bba"/>
<path d="M541 419.3v3.2" stroke="#2c46bb"/>
<path d="M543 421v2.7" stroke="#263bab"/>
<path d="M545 422.8v3.5" stroke="#262ba6"/>
<path d="M547 423.3v3.2" stroke="#262aa4"/>
<path d="M481 423.8v2.6" stroke="#2e39b9"/>
<path d="M483 421.2v2.7" stroke="#3049c7"/>
<path d="M485 421v2.8" stroke="#2d43b8"/>
<path d="M487 422.5v2.9" stroke="#2d3bb6"/>
<path d="M489 422.3v2.8" stroke="#2e3fbb"/>
<path d="M491 421.6v2.7" stroke="#2f47c4"/>
<path d="M497 415.4v2.8" stroke="#5bf"/>
<path d="M499 412.8v3.8" stroke="#49b"/>
<path d="M501 409.1v3.3" stroke="#5cc"/>
<path d="M503 409.2v3.5" stroke="#388"/>
<path d="M505 410.3v3.7" stroke="#5cd"/>
<path d="M507 406.1v2.6" stroke="#7fb"/>
<path d="M509 400.2v2.5" stroke="#7d4"/>
<path d="M511 398.2v3.1" stroke="#6b3"/>
<path d="M513 400.5v3.3" stroke="#5a3"/>
<path d="M515 401.3v3.7" stroke="#6c5"/>
<path d="M517 402.3v3.1" stroke="#7e6"/>
<path d="M519 405.3v3.2" stroke="#496"/>
<path d="M521 402.6v3.1" stroke="#7e7"/>
<path d="M523 399.4v3.7" stroke="#6b4"/>
<path d="M525 400.9v3.9" stroke="#5b4"/>
<path d="M527 401.1v3.8M529 400.8v3.6" stroke="#6c4"/>
<path d="M531 403.3v4" stroke="#495"/>
<path d="M533 410.3v3.5" stroke="#378"/>
<path d="M535 416.7v3.5" stroke="#37c"/>
<path d="M537 419.6v3.3" stroke="#2b50b2"/>
<path d="M539 421.4v2.8" stroke="#2940b3"/>
<path d="M541 422.1v3.2" stroke="#2838b0"/>
<path d="M543 423.3v2.7" stroke="#2530a6"/>
<path d="M483 423.6v2.7" stroke="#2e3ab9"/>
<path d="M485 423.4v2.8" stroke="#2c37b0"/>
<path d="M497 417.9v2.8" stroke="#49f"/>
<path d="M499 416.3v3.8" stroke="#38c"/>
<path d="M501 411.9v3.3" stroke="#4bd"/>
<path d="M503 412.2v3.5" stroke="#379"/>
<path d="M505 413.5v3.7" stroke="#5bf"/>
<path d="M507 408.3v2.6" stroke="#6fc"/>
<path d="M509 402.3v2.5" stroke="#6d5"/>
<path d="M511 400.9v3.1" stroke="#6c4"/>
<path d="M513 403.5v3.3" stroke="#4a5"/>
<path d="M515 404.6v3.7" stroke="#5c7"/>
<path d="M517 404.9v3.1" stroke="#6e8"/>
<path d="M519 408.1v3.2" stroke="#487"/>
<path d="M521 405.3v3.1" stroke="#6e9"/>
<path d="M523 402.7v3.7" stroke="#6c5"/>
<path d="M525 404.4v3.9" stroke="#5b6"/>
<path d="M527 404.5v3.8" stroke="#5c7"/>
<path d="M529 404v3.6" stroke="#5c6"/>
<path d="M531 407v4" stroke="#386"/>
<path d="M533 413.5v3.5" stroke="#379"/>
<path d="M535 419.7v3.5" stroke="#2e53bf"/>
<path d="M501 414.8v3.3" stroke="#4ae"/>
<path d="M503 415.3v3.5" stroke="#37a"/>
<path d="M505 416.8v3.7" stroke="#49f"/>
<path d="M507 410.6v2.6" stroke="#5ee"/>
<path d="M509 404.4v2.5" stroke="#6d7"/>
<path d="M511 403.6v3.1" stroke="#6c6"/>
<path d="M513 406.4v3.3" stroke="#496"/>
<path d="M515 407.9v3.7" stroke="#4b9"/>
<path d="M517 407.6v3.1" stroke="#6da"/>
<path d="M521 408v3.1" stroke="#5db"/>
<path d="M523 406v3.7" stroke="#5b8"/>
<path d="M525 407.9v3.9" stroke="#4a8"/>
<path d="M527 407.9v3.8" stroke="#4b9"/>
<path d="M529 407.3v3.6" stroke="#5b8"/>
<path d="M531 410.6v4" stroke="#378"/>
<path d="M533 416.6v3.5" stroke="#269"/>
<path d="M501 417.7v3.3" stroke="#48e"/>
<path d="M503 418.3v3.5" stroke="#2b5ca5"/>
<path d="M509 406.5v2.5" stroke="#6c8"/>
<path d="M511 406.3v3.1" stroke="#5c7"/>
<path d="M513 409.3v3.3" stroke="#398"/>
<path d="M515 411.2v3.7" stroke="#4ab"/>
<path d="M521 410.7v3.1" stroke="#5cc"/>
<path d="M523 409.3v3.7" stroke="#4aa"/>
<path d="M525 411.4v3.9" stroke="#39a"/>
<path d="M527 411.4v3.8" stroke="#4ab"/>
<path d="M529 410.5v3.6" stroke="#4aa"/>
<path d="M531 414.2v4" stroke="#369"/>
<path d="M533 419.8v3.5" stroke="#254b9a"/>
<path d="M509 408.6v2.5" stroke="#5c9"/>
<path d="M511 409v3.1" stroke="#4b9"/>
<path d="M521 413.4v3.1" stroke="#5bd"/>
<path d="M523 412.6v3.7" stroke="#49b"/>
<path d="M487 425v3.6" stroke="#2e37b6"/>
<path d="M489 424.6v3.8" stroke="#2d36b2"/>
<path d="M491 423.9v2.3" stroke="#2f42c1"/>
<path d="M493 422.7v2.8" stroke="#2f45bf"/>
<path d="M495 421.5v3.3" stroke="#3359d5"/>
<path d="M497 420.3v3.5" stroke="#3666d8"/>
<path d="M499 419.7v3.4" stroke="#376dd5"/>
<path d="M501 420.6v3.3" stroke="#2e57b9"/>
<path d="M503 421.4v2.8" stroke="#3459d2"/>
<path d="M505 420v2.8" stroke="#3b79e8"/>
<path d="M507 412.8v3" stroke="#5df"/>
<path d="M509 410.7v3.2" stroke="#388"/>
<path d="M511 411.7v3.3" stroke="#4bc"/>
<path d="M513 412.3v2.5" stroke="#4ab"/>
<path d="M515 414.5v2" stroke="#49b"/>
<path d="M517 410.3v3.8" stroke="#5ed"/>
<path d="M519 410.9v3.3" stroke="#388"/>
<path d="M521 416.1v2.6" stroke="#38b"/>
<path d="M523 415.9v2.8" stroke="#49c"/>
<path d="M525 414.9v3.9" stroke="#38b"/>
<path d="M527 414.8v3.6" stroke="#4ae"/>
<path d="M529 413.7v3.4" stroke="#38a"/>
<path d="M531 417.9v3" stroke="#36a"/>
<path d="M533 422.9v3.2" stroke="#293fb3"/>
<path d="M535 422.8v3.3" stroke="#2c47c4"/>
<path d="M537 422.5v3.4" stroke="#2a42b7"/>
<path d="M539 423.8v2.7" stroke="#2838b0"/>
<path d="M541 424.9v3.9" stroke="#262fa9"/>
<path d="M543 425.7v3.4" stroke="#272ba6"/>
<path d="M491 425.8v2.3" stroke="#2e3bba"/>
<path d="M493 425.1v2.8" stroke="#2d3bb6"/>
<path d="M495 424.5v3.3" stroke="#2e44c2"/>
<path d="M497 423.4v3.5" stroke="#304dc9"/>
<path d="M499 422.7v3.4" stroke="#3152ca"/>
<path d="M501 423.4v3.3" stroke="#2b45b3"/>
<path d="M503 423.8v2.8" stroke="#304bc9"/>
<path d="M505 422.5v2.8" stroke="#3661dc"/>
<path d="M507 415.4v3" stroke="#5cf"/>
<path d="M509 413.5v3.2" stroke="#389"/>
<path d="M511 414.5v3.3" stroke="#4bd"/>
<path d="M513 414.4v2.5" stroke="#4ab"/>
<path d="M515 416.2v2" stroke="#49b"/>
<path d="M517 413.7v3.8" stroke="#5ce"/>
<path d="M519 413.7v3.3" stroke="#389"/>
<path d="M521 418.3v2.6" stroke="#37b"/>
<path d="M523 418.3v2.8" stroke="#38c"/>
<path d="M525 418.4v3.9" stroke="#37b"/>
<path d="M527 417.9v3.6" stroke="#49e"/>
<path d="M529 416.7v3.4" stroke="#37a"/>
<path d="M531 420.4v3" stroke="#25a"/>
<path d="M533 425.7v3.2" stroke="#2732aa"/>
<path d="M535 425.7v3.3" stroke="#2835b3"/>
<path d="M537 425.5v3.4" stroke="#2732ab"/>
<path d="M539 426.1v2.7" stroke="#272fa9"/>
<path d="M507 418v3" stroke="#5bf"/>
<path d="M509 416.3v3.2" stroke="#379"/>
<path d="M511 417.4v3.3" stroke="#4ae"/>
<path d="M513 416.5v2.5M515 417.8v2" stroke="#49c"/>
<path d="M517 417.1v3.8" stroke="#5bf"/>
<path d="M519 416.6v3.3" stroke="#379"/>
<path d="M523 420.7v2.8" stroke="#3778d0"/>
<path d="M525 421.9v3.9" stroke="#2e56bb"/>
<path d="M527 421.1v3.6" stroke="#3d81ef"/>
<path d="M529 419.7v3.4" stroke="#36a"/>
<path d="M531 423v3" stroke="#2544a2"/>
<path d="M507 420.6v3" stroke="#4af"/>
<path d="M509 419.2v3.2" stroke="#36a"/>
<path d="M511 420.3v3.3" stroke="#3e89e9"/>
<path d="M513 418.6v2.5" stroke="#48c"/>
<path d="M529 422.6v3.4" stroke="#2a51ae"/>
<path d="M531 425.5v3" stroke="#24339f"/>
<path d="M487 428.3v3.6M489 428.1v3.8" stroke="#2e32af"/>
<path d="M491 427.7v2.3" stroke="#2d35b2"/>
<path d="M493 427.6v2.3" stroke="#2d34b1"/>
<path d="M495 427.4v4" stroke="#2d36b3"/>
<path d="M497 426.6v2.6" stroke="#2d3cb9"/>
<path d="M499 425.7v3.1" stroke="#2d40bb"/>
<path d="M501 426.3v2.8" stroke="#2b3cb4"/>
<path d="M503 426.3v2.8" stroke="#2d40bd"/>
<path d="M505 424.9v3.5" stroke="#2e49c4"/>
<path d="M507 423.2v3" stroke="#3668dc"/>
<path d="M509 422v3.1" stroke="#3770d7"/>
<path d="M511 423.2v3.6" stroke="#2e58bc"/>
<path d="M513 420.7v2.7" stroke="#49f"/>
<path d="M515 419.4v2.7" stroke="#37b"/>
<path d="M517 420.5v3M519 419.5v3.3" stroke="#48d"/>
<path d="M521 420.4v3" stroke="#37b"/>
<path d="M523 423.1v2.4" stroke="#2d5db6"/>
<path d="M525 425.4v2.5" stroke="#2b3fb7"/>
<path d="M527 424.3v2.5" stroke="#3054cb"/>
<path d="M529 425.6v2.3" stroke="#2742ad"/>
<path d="M531 428.1v3.8" stroke="#282da8"/>
<path d="M491 429.6v2.3" stroke="#2e32af"/>
<path d="M493 429.4v2.3" stroke="#2e31ae"/>
<path d="M497 428.8v2.6" stroke="#2d35b2"/>
<path d="M499 428.4v3.1" stroke="#2c35b2"/>
<path d="M501 428.7v2.8" stroke="#2b34ae"/>
<path d="M503 428.7v2.8" stroke="#2c35b3"/>
<path d="M505 428v3.5" stroke="#2b38b5"/>
<path d="M507 425.8v3" stroke="#2f4dca"/>
<path d="M509 424.7v3.1" stroke="#3154cc"/>
<path d="M511 426.4v3.6" stroke="#2a40b2"/>
<path d="M513 423v2.7" stroke="#48f"/>
<path d="M515 421.7v2.7" stroke="#37b"/>
<path d="M517 423.1v3" stroke="#3770d8"/>
<path d="M519 422.4v3.3" stroke="#3772d2"/>
<path d="M521 423v3" stroke="#3062be"/>
<path d="M523 425.1v2.4" stroke="#2a4ab2"/>
<path d="M525 427.5v2.5" stroke="#2a39b2"/>
<path d="M527 426.4v2.5" stroke="#2b41bc"/>
<path d="M529 427.5v2.3" stroke="#2636a8"/>
<path d="M507 428.4v3" stroke="#2c3ab8"/>
<path d="M509 427.4v3.1" stroke="#2c41bc"/>
<path d="M513 425.3v2.7" stroke="#3a6ef6"/>
<path d="M515 424.1v2.7" stroke="#2e59b9"/>
<path d="M517 425.7v3" stroke="#304fc7"/>
<path d="M519 425.3v3.3" stroke="#3054c8"/>
<path d="M521 425.6v3" stroke="#2c4cb8"/>
<path d="M523 427.2v2.4" stroke="#283cac"/>
<path d="M527 428.5v2.5" stroke="#2934b0"/>
<path d="M529 429.4v2.3" stroke="#272ea5"/>
<path d="M513 427.5v2.7" stroke="#314dd4"/>
<path d="M515 426.4v2.7" stroke="#2b43b2"/>
<path d="M509 430.2v3.8" stroke="#2b36b4"/>
<path d="M511 429.7v4.2M513 429.8v4" stroke="#2b34b0"/>
<path d="M515 428.7v2.8" stroke="#2c42bf"/>
<path d="M517 428.4v3" stroke="#2a3eb5"/>
<path d="M519 428.3v2.9" stroke="#2d45c3"/>
<path d="M521 428.3v3" stroke="#2a3eb3"/>
<path d="M523 429.2v2.7" stroke="#2a36b1"/>
<path d="M525 429.6v2.5" stroke="#2934ae"/>
<path d="M527 430.7v2.1" stroke="#282faa"/>
<path d="M515 431v2.8" stroke="#2b36b3"/>
<path d="M517 431v3" stroke="#2933ad"/>
<path d="M519 430.8v2.9" stroke="#2b38b7"/>
<path d="M521 430.8v3" stroke="#2834ac"/>
<path d="M523 431.4v2.7" stroke="#2930ac"/>
<path d="M525 431.7v2.5" stroke="#292faa"/>
<path d="M527 432.4v2.1" stroke="#292ca7"/>
<path d="M513 433.4v3.6" stroke="#2b30ac"/>
<path d="M515 433.4v3.5" stroke="#2b2fab"/>
<path d="M519 433.3v3.8" stroke="#2a2fab"/>
<path d="M521 433.4v3.7" stroke="#2a2eaa"/>
</g></g>
<line x1="385.0" y1="435.5" x2="479.8" y2="481.0" stroke="#c8c8c8" stroke-width="0.8"/>
<line x1="549.5" y1="481.0" x2="644.6" y2="371.0" stroke="#c8c8c8" stroke-width="0.8"/>
<text x="407.5" y="475.0" font-size="8.6" font-weight="bold" fill="#f0f0f0" textLength="25.2" lengthAdjust="spacingAndGlyphs">46.9 um</text>
<text x="622.0" y="425.6" font-size="8.6" font-weight="bold" fill="#f0f0f0" textLength="13.8" lengthAdjust="spacingAndGlyphs">62.5</text>
<text x="390.3" y="272.2" font-size="20.5" fill="#fff">D</text>
<rect x="657.0" y="258.5" width="11.4" height="220.0" fill="url(#cbg)" stroke="#777" stroke-width="0.6"/>
<text x="657.4" y="255.3" font-size="5.2" font-weight="bold" fill="#333">um</text>
<line x1="669.0" y1="258.5" x2="671.4" y2="258.5" stroke="#666" stroke-width="0.9"/>
<text x="684.8" y="261.6" font-size="5.5" font-weight="bold" fill="#333" text-anchor="end">26.6</text>
<line x1="669.0" y1="304.4" x2="671.4" y2="304.4" stroke="#666" stroke-width="0.9"/>
<text x="684.8" y="307.5" font-size="5.5" font-weight="bold" fill="#333" text-anchor="end">20.0</text>
<line x1="669.0" y1="339.3" x2="671.4" y2="339.3" stroke="#666" stroke-width="0.9"/>
<text x="684.8" y="342.4" font-size="5.5" font-weight="bold" fill="#333" text-anchor="end">15.0</text>
<line x1="669.0" y1="374.1" x2="671.4" y2="374.1" stroke="#666" stroke-width="0.9"/>
<text x="684.8" y="377.2" font-size="5.5" font-weight="bold" fill="#333" text-anchor="end">10.0</text>
<line x1="669.0" y1="408.9" x2="671.4" y2="408.9" stroke="#666" stroke-width="0.9"/>
<text x="684.8" y="412.0" font-size="5.5" font-weight="bold" fill="#333" text-anchor="end">5.0</text>
<line x1="669.0" y1="443.7" x2="671.4" y2="443.7" stroke="#666" stroke-width="0.9"/>
<text x="684.8" y="446.8" font-size="5.5" font-weight="bold" fill="#333" text-anchor="end">0.0</text>
<line x1="669.0" y1="478.5" x2="671.4" y2="478.5" stroke="#666" stroke-width="0.9"/>
<text x="684.8" y="481.6" font-size="5.5" font-weight="bold" fill="#333" text-anchor="end">-5.0</text>
<line x1="669.2" y1="269.6" x2="671.2" y2="269.6" stroke="#555" stroke-width="0.7"/>
<rect x="46.5" y="514.6" width="618.0" height="188.4" fill="#fff" stroke="#a6a6a6" stroke-width="1.3"/>
<text x="50.3" y="533.0" font-size="20" fill="#1a1a1a">A</text>
<line x1="90.2" y1="545.7" x2="650.0" y2="545.7" stroke="#b4cdf0" stroke-width="1"/>
<line x1="90.2" y1="573.1" x2="650.0" y2="573.1" stroke="#b4cdf0" stroke-width="1"/>
<line x1="90.2" y1="600.5" x2="650.0" y2="600.5" stroke="#b4cdf0" stroke-width="1"/>
<line x1="90.2" y1="655.3" x2="650.0" y2="655.3" stroke="#b4cdf0" stroke-width="1"/>
<line x1="90.2" y1="682.7" x2="650.0" y2="682.7" stroke="#b4cdf0" stroke-width="1"/>
<line x1="90.2" y1="545.7" x2="90.2" y2="682.7" stroke="#6a9ee6" stroke-width="1.3"/>
<line x1="90.2" y1="627.9" x2="650.0" y2="627.9" stroke="#6a9ee6" stroke-width="1.3"/>
<line x1="90.2" y1="627.9" x2="90.2" y2="631.4" stroke="#6a9ee6" stroke-width="1.2"/>
<line x1="160.2" y1="627.9" x2="160.2" y2="631.4" stroke="#6a9ee6" stroke-width="1.2"/>
<line x1="230.2" y1="627.9" x2="230.2" y2="631.4" stroke="#6a9ee6" stroke-width="1.2"/>
<line x1="300.1" y1="627.9" x2="300.1" y2="631.4" stroke="#6a9ee6" stroke-width="1.2"/>
<line x1="370.1" y1="627.9" x2="370.1" y2="631.4" stroke="#6a9ee6" stroke-width="1.2"/>
<line x1="440.1" y1="627.9" x2="440.1" y2="631.4" stroke="#6a9ee6" stroke-width="1.2"/>
<line x1="510.1" y1="627.9" x2="510.1" y2="631.4" stroke="#6a9ee6" stroke-width="1.2"/>
<line x1="580.1" y1="627.9" x2="580.1" y2="631.4" stroke="#6a9ee6" stroke-width="1.2"/>
<line x1="650.0" y1="627.9" x2="650.0" y2="631.4" stroke="#6a9ee6" stroke-width="1.2"/>
<text x="79.6" y="549.3" font-size="10.8" font-weight="bold" fill="#1a1a1a" text-anchor="end" textLength="12.8" lengthAdjust="spacingAndGlyphs">15</text>
<text x="79.6" y="576.7" font-size="10.8" font-weight="bold" fill="#1a1a1a" text-anchor="end" textLength="12.8" lengthAdjust="spacingAndGlyphs">10</text>
<text x="79.6" y="604.1" font-size="10.8" font-weight="bold" fill="#1a1a1a" text-anchor="end" textLength="6.4" lengthAdjust="spacingAndGlyphs">5</text>
<text x="79.6" y="631.5" font-size="10.8" font-weight="bold" fill="#1a1a1a" text-anchor="end" textLength="6.4" lengthAdjust="spacingAndGlyphs">0</text>
<text x="79.6" y="658.9" font-size="10.8" font-weight="bold" fill="#1a1a1a" text-anchor="end" textLength="10.4" lengthAdjust="spacingAndGlyphs">-5</text>
<text x="79.6" y="686.3" font-size="10.8" font-weight="bold" fill="#1a1a1a" text-anchor="end" textLength="16.8" lengthAdjust="spacingAndGlyphs">-10</text>
<text x="90.2" y="648.3" font-size="10.8" font-weight="bold" fill="#1a1a1a" text-anchor="middle" textLength="12.8" lengthAdjust="spacingAndGlyphs">24</text>
<text x="160.2" y="648.3" font-size="10.8" font-weight="bold" fill="#1a1a1a" text-anchor="middle" textLength="12.8" lengthAdjust="spacingAndGlyphs">26</text>
<text x="230.2" y="648.3" font-size="10.8" font-weight="bold" fill="#1a1a1a" text-anchor="middle" textLength="12.8" lengthAdjust="spacingAndGlyphs">28</text>
<text x="300.1" y="648.3" font-size="10.8" font-weight="bold" fill="#1a1a1a" text-anchor="middle" textLength="12.8" lengthAdjust="spacingAndGlyphs">30</text>
<text x="370.1" y="648.3" font-size="10.8" font-weight="bold" fill="#1a1a1a" text-anchor="middle" textLength="12.8" lengthAdjust="spacingAndGlyphs">32</text>
<text x="440.1" y="648.3" font-size="10.8" font-weight="bold" fill="#1a1a1a" text-anchor="middle" textLength="12.8" lengthAdjust="spacingAndGlyphs">34</text>
<text x="510.1" y="648.3" font-size="10.8" font-weight="bold" fill="#1a1a1a" text-anchor="middle" textLength="12.8" lengthAdjust="spacingAndGlyphs">36</text>
<text x="580.1" y="648.3" font-size="10.8" font-weight="bold" fill="#1a1a1a" text-anchor="middle" textLength="12.8" lengthAdjust="spacingAndGlyphs">38</text>
<text x="650.0" y="648.3" font-size="10.8" font-weight="bold" fill="#1a1a1a" text-anchor="middle" textLength="12.8" lengthAdjust="spacingAndGlyphs">40</text>
<text x="370.0" y="697.0" font-size="10" font-weight="bold" fill="#1a1a1a" text-anchor="middle">µm</text>
<text transform="translate(62.3 605.6) rotate(-90)" font-size="10" font-weight="bold" fill="#1a1a1a" text-anchor="middle">µm</text>
<path d="M90.2 628.2C105.2 628.2 163.3 628.2 180.0 628.2C196.7 628.2 187.9 628.5 190.5 627.9C193.1 627.3 193.7 626.0 195.7 624.5C197.7 623.0 200.6 621.2 202.3 619.2C204.1 617.2 204.9 615.5 206.2 612.7C207.5 609.9 208.9 605.7 210.2 602.2C211.5 598.7 212.8 594.3 214.1 591.7C215.4 589.1 216.7 587.5 218.0 586.4C219.3 585.3 220.2 585.2 222.0 585.1C223.8 585.0 226.3 585.1 228.5 585.6C230.7 586.1 232.9 587.8 235.1 588.3C237.3 588.8 239.3 587.6 241.7 588.3C244.1 589.0 246.7 592.4 249.5 592.5C252.3 592.6 254.8 590.7 258.7 589.0C262.6 587.3 269.7 583.4 273.2 582.5C276.7 581.6 277.7 582.2 279.7 583.8C281.7 585.4 283.5 591.6 285.0 592.2C286.5 592.8 287.7 587.2 288.9 587.2C290.1 587.2 291.2 592.3 292.3 592.2C293.4 592.1 294.3 587.2 295.5 586.4C296.7 585.6 298.2 587.9 299.4 587.2C300.6 586.6 301.4 581.5 302.5 582.5C303.6 583.5 304.6 592.4 306.0 593.0C307.4 593.6 309.5 586.6 311.2 586.4C312.9 586.2 314.9 589.7 316.4 591.7C317.9 593.8 319.2 598.1 320.4 598.7C321.6 599.3 322.8 595.8 323.8 595.1C324.8 594.4 325.4 596.0 326.4 594.3C327.4 592.5 328.5 585.7 329.6 584.6C330.7 583.5 331.7 588.5 333.0 587.7C334.3 586.9 334.9 582.2 337.4 579.9C339.9 577.6 345.3 575.0 347.9 574.1C350.5 573.2 351.8 574.3 353.2 574.6C354.6 574.9 354.7 575.6 356.6 575.9C358.5 576.2 362.2 576.1 364.4 576.4C366.6 576.7 366.4 577.6 369.7 577.8C373.0 578.0 381.1 577.6 384.1 577.8C387.2 578.0 385.6 578.9 388.0 579.1C390.4 579.3 395.9 578.6 398.5 579.1C401.1 579.6 401.9 580.8 403.8 582.0C405.7 583.2 408.1 585.8 409.8 586.4C411.6 587.0 412.7 586.3 414.3 585.9C415.9 585.5 417.1 584.1 419.5 583.8C421.9 583.5 426.1 583.7 428.7 584.3C431.3 584.9 433.1 585.8 435.3 587.2C437.5 588.7 439.8 591.1 441.8 593.0C443.8 594.9 445.1 596.8 447.1 598.7C449.1 600.6 451.8 602.8 453.6 604.3C455.4 605.8 456.6 607.5 458.1 607.4C459.6 607.3 461.1 604.8 462.8 603.5C464.5 602.2 466.7 599.7 468.1 599.5C469.5 599.3 470.1 599.8 471.2 602.2C472.3 604.6 473.4 609.4 474.6 614.0C475.8 618.6 477.3 625.3 478.6 629.7C479.9 634.1 481.2 637.5 482.5 640.2C483.8 642.9 484.6 645.0 486.4 646.0C488.1 647.0 490.8 646.6 493.0 646.2C495.2 645.8 497.4 644.8 499.6 643.4C501.8 642.0 504.1 639.7 506.1 637.6C508.1 635.5 509.9 632.6 511.4 631.0C512.9 629.4 512.2 628.4 515.3 627.9C518.4 627.4 507.6 628.1 530.0 628.2C552.5 628.3 630.0 628.4 650.0 628.4" fill="none" stroke="#c00000" stroke-width="2.8" stroke-linejoin="round" stroke-linecap="round"/>
<rect x="47.0" y="716.5" width="617.3" height="188.2" fill="#fff" stroke="#a6a6a6" stroke-width="1.3"/>
<text x="50.3" y="733.3" font-size="20" fill="#1a1a1a">B</text>
<line x1="90.0" y1="745.4" x2="650.0" y2="745.4" stroke="#b4cdf0" stroke-width="1"/>
<line x1="90.0" y1="772.8" x2="650.0" y2="772.8" stroke="#b4cdf0" stroke-width="1"/>
<line x1="90.0" y1="800.3" x2="650.0" y2="800.3" stroke="#b4cdf0" stroke-width="1"/>
<line x1="90.0" y1="855.1" x2="650.0" y2="855.1" stroke="#b4cdf0" stroke-width="1"/>
<line x1="90.0" y1="882.6" x2="650.0" y2="882.6" stroke="#b4cdf0" stroke-width="1"/>
<line x1="90.0" y1="745.4" x2="90.0" y2="882.6" stroke="#6a9ee6" stroke-width="1.3"/>
<line x1="90.0" y1="827.7" x2="650.0" y2="827.7" stroke="#6a9ee6" stroke-width="1.3"/>
<line x1="90.0" y1="827.7" x2="90.0" y2="831.2" stroke="#6a9ee6" stroke-width="1.2"/>
<line x1="183.4" y1="827.7" x2="183.4" y2="831.2" stroke="#6a9ee6" stroke-width="1.2"/>
<line x1="276.7" y1="827.7" x2="276.7" y2="831.2" stroke="#6a9ee6" stroke-width="1.2"/>
<line x1="370.1" y1="827.7" x2="370.1" y2="831.2" stroke="#6a9ee6" stroke-width="1.2"/>
<line x1="463.4" y1="827.7" x2="463.4" y2="831.2" stroke="#6a9ee6" stroke-width="1.2"/>
<line x1="556.8" y1="827.7" x2="556.8" y2="831.2" stroke="#6a9ee6" stroke-width="1.2"/>
<line x1="650.1" y1="827.7" x2="650.1" y2="831.2" stroke="#6a9ee6" stroke-width="1.2"/>
<text x="79.6" y="749.0" font-size="10.8" font-weight="bold" fill="#1a1a1a" text-anchor="end" textLength="12.8" lengthAdjust="spacingAndGlyphs">15</text>
<text x="79.6" y="776.4" font-size="10.8" font-weight="bold" fill="#1a1a1a" text-anchor="end" textLength="12.8" lengthAdjust="spacingAndGlyphs">10</text>
<text x="79.6" y="803.9" font-size="10.8" font-weight="bold" fill="#1a1a1a" text-anchor="end" textLength="6.4" lengthAdjust="spacingAndGlyphs">5</text>
<text x="79.6" y="831.3" font-size="10.8" font-weight="bold" fill="#1a1a1a" text-anchor="end" textLength="6.4" lengthAdjust="spacingAndGlyphs">0</text>
<text x="79.6" y="858.7" font-size="10.8" font-weight="bold" fill="#1a1a1a" text-anchor="end" textLength="10.4" lengthAdjust="spacingAndGlyphs">-5</text>
<text x="79.6" y="886.2" font-size="10.8" font-weight="bold" fill="#1a1a1a" text-anchor="end" textLength="16.8" lengthAdjust="spacingAndGlyphs">-10</text>
<text x="90.0" y="848.1" font-size="10.8" font-weight="bold" fill="#1a1a1a" text-anchor="middle" textLength="6.4" lengthAdjust="spacingAndGlyphs">0</text>
<text x="183.4" y="848.1" font-size="10.8" font-weight="bold" fill="#1a1a1a" text-anchor="middle" textLength="6.4" lengthAdjust="spacingAndGlyphs">5</text>
<text x="276.7" y="848.1" font-size="10.8" font-weight="bold" fill="#1a1a1a" text-anchor="middle" textLength="12.8" lengthAdjust="spacingAndGlyphs">10</text>
<text x="370.1" y="848.1" font-size="10.8" font-weight="bold" fill="#1a1a1a" text-anchor="middle" textLength="12.8" lengthAdjust="spacingAndGlyphs">15</text>
<text x="463.4" y="848.1" font-size="10.8" font-weight="bold" fill="#1a1a1a" text-anchor="middle" textLength="12.8" lengthAdjust="spacingAndGlyphs">20</text>
<text x="556.8" y="848.1" font-size="10.8" font-weight="bold" fill="#1a1a1a" text-anchor="middle" textLength="12.8" lengthAdjust="spacingAndGlyphs">25</text>
<text x="650.1" y="848.1" font-size="10.8" font-weight="bold" fill="#1a1a1a" text-anchor="middle" textLength="12.8" lengthAdjust="spacingAndGlyphs">30</text>
<text x="370.0" y="896.0" font-size="10" font-weight="bold" fill="#1a1a1a" text-anchor="middle">µm</text>
<text transform="translate(63.0 800.0) rotate(-90)" font-size="10" font-weight="bold" fill="#1a1a1a" text-anchor="middle">µm</text>
<path d="M90.0 839.5C100.0 839.4 131.7 839.1 150.0 839.0C168.3 838.9 189.9 838.8 200.0 838.9C210.1 839.0 207.8 839.3 210.5 839.6C213.2 839.9 214.6 840.9 216.3 840.8C218.1 840.6 219.6 839.2 221.0 838.7C222.4 838.2 223.5 838.8 224.5 837.8C225.5 836.8 226.0 833.8 226.8 832.6C227.6 831.4 228.6 834.3 229.2 830.8C229.8 827.3 229.7 819.4 230.3 811.6C230.9 803.8 231.9 787.4 232.7 784.1C233.5 780.8 234.3 788.4 235.0 791.8C235.7 795.2 236.3 801.3 236.9 804.6C237.5 807.9 238.0 806.5 238.5 811.6C239.0 816.7 239.6 829.4 240.1 835.0C240.6 840.6 240.9 843.8 241.5 845.5C242.1 847.2 243.1 851.5 243.8 845.5C244.5 839.5 245.0 814.2 245.5 809.3C246.0 804.4 246.1 809.3 246.6 816.3C247.1 823.3 248.0 847.4 248.5 851.3C249.0 855.2 249.3 845.4 249.7 839.6C250.1 833.8 250.5 816.3 250.8 816.3C251.2 816.3 251.2 839.6 251.8 839.6C252.4 839.6 253.4 816.3 254.1 816.3C254.8 816.3 255.4 834.2 256.0 839.6C256.6 845.0 257.2 848.5 257.8 848.9C258.4 849.3 258.8 850.7 259.5 842.0C260.2 833.3 261.2 798.1 261.8 796.5C262.4 794.9 262.6 832.0 263.4 832.6C264.2 833.2 265.6 810.1 266.5 800.0C267.4 789.9 268.1 772.8 268.8 772.0C269.5 771.2 269.8 796.3 270.7 795.3C271.6 794.3 272.0 771.1 274.2 766.2C276.4 761.4 280.8 766.2 284.0 766.2C287.2 766.2 290.6 766.8 293.3 766.2C296.0 765.6 297.8 763.3 300.3 762.7C302.8 762.1 306.8 756.5 308.5 762.7C310.2 768.9 310.0 788.0 310.8 800.0C311.6 812.0 312.3 831.1 313.1 835.0C313.9 838.9 314.7 836.3 315.5 823.3C316.3 810.3 317.0 767.1 317.8 756.8C318.6 746.5 319.1 761.0 320.1 761.5C321.1 762.0 321.9 759.3 323.6 759.9C325.4 760.5 329.0 765.3 330.6 765.0C332.2 764.7 332.6 758.0 333.4 758.0C334.2 758.0 334.6 754.1 335.3 765.0C336.0 775.9 336.8 815.1 337.6 823.3C338.4 831.5 339.3 822.8 339.9 814.0C340.5 805.2 340.5 779.9 341.1 770.8C341.7 761.7 342.6 759.8 343.4 759.2C344.2 758.6 344.9 757.4 345.8 767.3C346.7 777.2 347.8 820.1 348.8 818.6C349.8 817.1 350.9 768.2 351.6 758.0C352.3 747.8 352.1 757.3 352.8 757.5C353.5 757.7 354.7 759.4 355.8 759.2C356.9 759.0 357.6 756.8 359.3 756.1C361.1 755.4 362.8 755.0 366.3 755.0C369.8 755.0 377.2 756.5 380.3 756.4C383.4 756.3 383.4 754.3 385.0 754.3C386.6 754.3 386.5 755.7 389.6 756.4C392.7 757.1 398.9 758.1 403.6 758.5C408.3 758.9 413.9 758.6 417.6 758.5C421.3 758.4 424.2 756.5 425.8 758.0C427.4 759.5 426.8 760.7 427.4 767.3C428.0 773.9 428.6 796.8 429.3 797.6C430.0 798.4 430.9 778.4 431.6 772.0C432.3 765.6 432.7 760.8 433.3 759.2C433.9 757.7 434.5 761.4 435.1 762.7C435.7 764.0 435.6 766.3 436.8 766.9C438.0 767.5 440.6 765.9 442.1 766.2C443.6 766.5 444.7 767.2 445.6 768.5C446.5 769.8 446.9 773.3 447.5 773.8C448.1 774.3 448.2 772.0 449.1 771.5C450.0 771.0 450.9 771.0 452.6 770.8C454.4 770.6 457.3 769.7 459.6 770.1C461.9 770.5 465.0 776.9 466.6 773.1C468.2 769.3 468.6 747.7 469.4 747.5C470.2 747.3 470.7 762.1 471.3 772.0C471.9 781.9 472.5 803.9 473.1 807.0C473.7 810.1 474.2 795.5 474.8 790.6C475.4 785.7 475.6 780.2 476.6 777.8C477.6 775.4 479.4 776.2 480.6 776.2C481.9 776.2 482.7 777.3 484.1 777.8C485.5 778.3 487.8 778.3 488.8 779.0C489.9 779.7 489.8 784.2 490.4 781.8C491.0 779.4 491.8 760.1 492.6 764.5C493.4 768.9 494.1 806.8 495.1 808.4C496.1 810.0 497.7 776.6 498.7 774.0C499.7 771.4 500.4 781.2 501.3 792.9C502.2 804.6 503.5 832.6 504.3 844.3C505.1 856.0 505.6 862.9 506.3 862.9C507.0 862.9 508.0 850.5 508.6 844.3C509.2 838.1 509.3 832.6 510.0 825.7C510.7 818.8 512.1 804.6 512.9 802.9C513.7 801.2 514.3 811.9 514.9 815.7C515.5 819.5 515.8 829.0 516.6 825.7C517.5 822.4 519.0 797.1 520.0 795.7C521.0 794.3 521.9 812.6 522.9 817.1C523.9 821.6 524.8 821.2 525.7 822.9C526.7 824.6 527.5 824.6 528.6 827.1C529.7 829.6 529.2 836.2 532.3 838.0C535.4 839.8 535.1 838.0 547.1 838.0C559.1 838.0 587.2 838.1 604.3 838.0C621.3 837.9 641.9 837.2 649.4 837.1" fill="none" stroke="#c00000" stroke-width="2.8" stroke-linejoin="round" stroke-linecap="round"/>
<rect x="46.5" y="918.5" width="617.3" height="188.5" fill="#fff" stroke="#a6a6a6" stroke-width="1.3"/>
<text x="49.5" y="936.5" font-size="20" fill="#1a1a1a">C</text>
<line x1="90.0" y1="948.6" x2="650.0" y2="948.6" stroke="#b4cdf0" stroke-width="1"/>
<line x1="90.0" y1="976.2" x2="650.0" y2="976.2" stroke="#b4cdf0" stroke-width="1"/>
<line x1="90.0" y1="1003.7" x2="650.0" y2="1003.7" stroke="#b4cdf0" stroke-width="1"/>
<line x1="90.0" y1="1058.9" x2="650.0" y2="1058.9" stroke="#b4cdf0" stroke-width="1"/>
<line x1="90.0" y1="1086.4" x2="650.0" y2="1086.4" stroke="#b4cdf0" stroke-width="1"/>
<line x1="90.0" y1="948.6" x2="90.0" y2="1086.4" stroke="#6a9ee6" stroke-width="1.3"/>
<line x1="90.0" y1="1031.3" x2="650.0" y2="1031.3" stroke="#6a9ee6" stroke-width="1.3"/>
<line x1="90.0" y1="1031.3" x2="90.0" y2="1034.8" stroke="#6a9ee6" stroke-width="1.2"/>
<line x1="146.0" y1="1031.3" x2="146.0" y2="1034.8" stroke="#6a9ee6" stroke-width="1.2"/>
<line x1="202.0" y1="1031.3" x2="202.0" y2="1034.8" stroke="#6a9ee6" stroke-width="1.2"/>
<line x1="258.0" y1="1031.3" x2="258.0" y2="1034.8" stroke="#6a9ee6" stroke-width="1.2"/>
<line x1="314.0" y1="1031.3" x2="314.0" y2="1034.8" stroke="#6a9ee6" stroke-width="1.2"/>
<line x1="370.0" y1="1031.3" x2="370.0" y2="1034.8" stroke="#6a9ee6" stroke-width="1.2"/>
<line x1="426.0" y1="1031.3" x2="426.0" y2="1034.8" stroke="#6a9ee6" stroke-width="1.2"/>
<line x1="482.0" y1="1031.3" x2="482.0" y2="1034.8" stroke="#6a9ee6" stroke-width="1.2"/>
<line x1="538.0" y1="1031.3" x2="538.0" y2="1034.8" stroke="#6a9ee6" stroke-width="1.2"/>
<line x1="594.0" y1="1031.3" x2="594.0" y2="1034.8" stroke="#6a9ee6" stroke-width="1.2"/>
<line x1="650.0" y1="1031.3" x2="650.0" y2="1034.8" stroke="#6a9ee6" stroke-width="1.2"/>
<text x="79.6" y="952.2" font-size="10.8" font-weight="bold" fill="#1a1a1a" text-anchor="end" textLength="12.8" lengthAdjust="spacingAndGlyphs">15</text>
<text x="79.6" y="979.8" font-size="10.8" font-weight="bold" fill="#1a1a1a" text-anchor="end" textLength="12.8" lengthAdjust="spacingAndGlyphs">10</text>
<text x="79.6" y="1007.3" font-size="10.8" font-weight="bold" fill="#1a1a1a" text-anchor="end" textLength="6.4" lengthAdjust="spacingAndGlyphs">5</text>
<text x="79.6" y="1034.9" font-size="10.8" font-weight="bold" fill="#1a1a1a" text-anchor="end" textLength="6.4" lengthAdjust="spacingAndGlyphs">0</text>
<text x="79.6" y="1062.5" font-size="10.8" font-weight="bold" fill="#1a1a1a" text-anchor="end" textLength="10.4" lengthAdjust="spacingAndGlyphs">-5</text>
<text x="79.6" y="1090.0" font-size="10.8" font-weight="bold" fill="#1a1a1a" text-anchor="end" textLength="16.8" lengthAdjust="spacingAndGlyphs">-10</text>
<text x="90.0" y="1051.6" font-size="10.8" font-weight="bold" fill="#1a1a1a" text-anchor="middle" textLength="12.8" lengthAdjust="spacingAndGlyphs">20</text>
<text x="146.0" y="1051.6" font-size="10.8" font-weight="bold" fill="#1a1a1a" text-anchor="middle" textLength="12.8" lengthAdjust="spacingAndGlyphs">22</text>
<text x="202.0" y="1051.6" font-size="10.8" font-weight="bold" fill="#1a1a1a" text-anchor="middle" textLength="12.8" lengthAdjust="spacingAndGlyphs">24</text>
<text x="258.0" y="1051.6" font-size="10.8" font-weight="bold" fill="#1a1a1a" text-anchor="middle" textLength="12.8" lengthAdjust="spacingAndGlyphs">26</text>
<text x="314.0" y="1051.6" font-size="10.8" font-weight="bold" fill="#1a1a1a" text-anchor="middle" textLength="12.8" lengthAdjust="spacingAndGlyphs">28</text>
<text x="370.0" y="1051.6" font-size="10.8" font-weight="bold" fill="#1a1a1a" text-anchor="middle" textLength="12.8" lengthAdjust="spacingAndGlyphs">30</text>
<text x="426.0" y="1051.6" font-size="10.8" font-weight="bold" fill="#1a1a1a" text-anchor="middle" textLength="12.8" lengthAdjust="spacingAndGlyphs">32</text>
<text x="482.0" y="1051.6" font-size="10.8" font-weight="bold" fill="#1a1a1a" text-anchor="middle" textLength="12.8" lengthAdjust="spacingAndGlyphs">34</text>
<text x="538.0" y="1051.6" font-size="10.8" font-weight="bold" fill="#1a1a1a" text-anchor="middle" textLength="12.8" lengthAdjust="spacingAndGlyphs">36</text>
<text x="594.0" y="1051.6" font-size="10.8" font-weight="bold" fill="#1a1a1a" text-anchor="middle" textLength="12.8" lengthAdjust="spacingAndGlyphs">38</text>
<text x="650.0" y="1051.6" font-size="10.8" font-weight="bold" fill="#1a1a1a" text-anchor="middle" textLength="12.8" lengthAdjust="spacingAndGlyphs">40</text>
<text x="357.7" y="1100.0" font-size="10" font-weight="bold" fill="#1a1a1a" text-anchor="middle">µm</text>
<text transform="translate(62.3 1004.0) rotate(-90)" font-size="10" font-weight="bold" fill="#1a1a1a" text-anchor="middle">µm</text>
<path d="M90.1 1034.4C94.6 1034.4 107.8 1034.7 117.0 1034.4C126.2 1034.1 138.8 1033.1 145.0 1032.8C151.2 1032.5 152.2 1033.7 154.3 1032.8C156.4 1031.9 156.6 1030.8 157.8 1027.4C159.0 1024.0 160.1 1015.7 161.3 1012.3C162.5 1008.9 162.9 1008.4 164.8 1006.9C166.8 1005.4 170.1 1003.8 173.0 1003.4C175.9 1003.0 179.8 1005.3 182.3 1004.8C184.8 1004.3 186.3 1001.4 188.1 1000.2C189.8 999.0 191.3 997.9 192.8 997.6C194.3 997.3 195.7 997.9 197.0 998.3C198.3 998.7 198.8 999.2 200.5 1000.1C202.2 1001.0 205.6 1003.0 207.5 1003.6C209.4 1004.2 210.2 1003.8 212.2 1003.6C214.1 1003.4 216.7 1002.3 219.2 1002.2C221.7 1002.1 225.2 1002.4 227.3 1002.9C229.4 1003.4 230.2 1004.3 232.0 1005.5C233.8 1006.7 236.1 1008.5 237.8 1010.2C239.6 1012.0 241.3 1013.1 242.5 1016.0C243.7 1018.9 244.0 1022.9 244.8 1027.6C245.6 1032.3 246.3 1040.3 247.1 1044.0C247.9 1047.7 248.6 1049.2 249.5 1049.8C250.4 1050.4 251.5 1051.2 252.5 1047.5C253.5 1043.8 254.4 1033.8 255.3 1027.6C256.2 1021.4 257.1 1013.3 258.1 1010.2C259.1 1007.1 260.1 1006.5 261.1 1009.0C262.1 1011.5 263.3 1019.7 264.2 1025.3C265.1 1030.9 265.9 1039.1 266.5 1042.8C267.1 1046.5 267.4 1047.9 268.1 1047.5C268.8 1047.1 269.8 1040.9 270.5 1040.5C271.2 1040.1 271.5 1043.3 272.1 1045.1C272.7 1046.8 273.3 1050.8 274.0 1051.0C274.7 1051.2 275.4 1049.1 276.3 1046.3C277.2 1043.5 278.2 1034.4 279.1 1034.2C280.0 1034.0 280.4 1041.3 281.4 1045.1C282.4 1048.9 284.1 1055.6 285.2 1056.8C286.3 1058.0 287.1 1055.4 288.0 1052.1C288.9 1048.8 289.5 1045.3 290.3 1037.0C291.1 1028.7 291.6 1010.6 292.6 1002.0C293.6 993.4 295.1 987.2 296.1 985.2C297.1 983.2 297.6 988.7 298.5 990.3C299.4 991.9 300.3 995.2 301.3 995.0C302.3 994.8 303.2 991.2 304.3 989.2C305.4 987.2 306.6 983.9 307.8 982.9C309.0 981.9 309.6 982.2 311.3 983.3C313.1 984.3 316.2 988.3 318.3 989.2C320.4 990.1 322.4 988.1 324.1 988.5C325.9 988.9 327.2 990.2 328.8 991.5C330.4 992.8 332.2 993.7 333.4 996.2C334.6 998.7 334.8 999.4 335.8 1006.6C336.8 1013.8 338.3 1032.4 339.3 1039.3C340.3 1046.2 340.8 1049.8 341.6 1048.2C342.4 1046.7 343.3 1038.9 344.2 1030.0C345.1 1021.1 345.9 1002.6 347.0 995.0C348.1 987.4 349.4 984.9 350.5 984.5C351.6 984.1 352.5 988.4 353.5 992.7C354.5 997.0 355.5 1005.7 356.3 1010.2C357.1 1014.7 357.5 1021.6 358.2 1019.5C358.9 1017.4 359.6 1002.9 360.5 997.3C361.4 991.7 362.2 987.8 363.3 985.7C364.4 983.6 365.6 984.6 366.8 984.5C368.0 984.4 368.9 985.4 370.3 985.2C371.7 985.0 373.2 984.0 375.0 983.3C376.8 982.6 378.9 981.3 380.8 981.0C382.7 980.7 385.1 980.0 386.6 981.5C388.2 983.0 388.9 986.1 390.1 990.3C391.3 994.5 392.3 1002.6 393.6 1006.6C394.9 1010.6 396.6 1013.5 397.8 1014.1C399.1 1014.7 399.9 1013.7 401.1 1010.1C402.4 1006.5 403.8 997.1 405.3 992.7C406.8 988.3 408.1 985.3 410.0 983.8C411.9 982.3 415.1 982.9 417.0 983.8C418.9 984.7 419.9 988.4 421.6 989.2C423.4 990.0 425.6 989.2 427.5 988.5C429.4 987.8 431.2 986.4 433.3 985.2C435.4 984.0 438.0 982.1 440.3 981.5C442.6 980.9 444.8 981.2 447.3 981.5C449.8 981.8 453.4 982.3 455.5 983.3C457.6 984.3 458.6 984.4 460.1 987.5C461.7 990.6 463.6 996.7 464.8 1002.0C466.0 1007.3 466.3 1014.9 467.1 1019.5C467.9 1024.1 468.2 1027.3 469.4 1029.5C470.6 1031.7 472.3 1032.3 474.1 1032.8C475.9 1033.3 477.3 1031.9 480.0 1032.3C482.7 1032.7 486.5 1035.0 490.5 1035.1C494.5 1035.2 500.5 1033.3 504.0 1032.7C507.5 1032.1 509.4 1031.7 511.5 1031.2C513.6 1030.8 514.9 1029.7 516.6 1030.0C518.4 1030.3 519.9 1032.2 522.0 1033.0C524.1 1033.8 524.5 1034.1 529.5 1034.5C534.5 1034.9 532.0 1035.4 552.0 1035.4C572.0 1035.4 633.4 1034.7 649.7 1034.5" fill="none" stroke="#c00000" stroke-width="2.8" stroke-linejoin="round" stroke-linecap="round"/>
<rect x="46.4" y="1119.8" width="617.6" height="188.8" fill="#fff" stroke="#a6a6a6" stroke-width="1.3"/>
<text x="48.3" y="1137.0" font-size="20" fill="#1a1a1a">D</text>
<line x1="90.0" y1="1148.6" x2="650.0" y2="1148.6" stroke="#b4cdf0" stroke-width="1"/>
<line x1="90.0" y1="1168.3" x2="650.0" y2="1168.3" stroke="#b4cdf0" stroke-width="1"/>
<line x1="90.0" y1="1187.9" x2="650.0" y2="1187.9" stroke="#b4cdf0" stroke-width="1"/>
<line x1="90.0" y1="1207.6" x2="650.0" y2="1207.6" stroke="#b4cdf0" stroke-width="1"/>
<line x1="90.0" y1="1227.3" x2="650.0" y2="1227.3" stroke="#b4cdf0" stroke-width="1"/>
<line x1="90.0" y1="1266.7" x2="650.0" y2="1266.7" stroke="#b4cdf0" stroke-width="1"/>
<line x1="90.0" y1="1286.4" x2="650.0" y2="1286.4" stroke="#b4cdf0" stroke-width="1"/>
<line x1="90.0" y1="1148.6" x2="90.0" y2="1286.4" stroke="#6a9ee6" stroke-width="1.3"/>
<line x1="90.0" y1="1247.0" x2="650.0" y2="1247.0" stroke="#6a9ee6" stroke-width="1.3"/>
<line x1="90.0" y1="1247.0" x2="90.0" y2="1250.5" stroke="#6a9ee6" stroke-width="1.2"/>
<line x1="160.0" y1="1247.0" x2="160.0" y2="1250.5" stroke="#6a9ee6" stroke-width="1.2"/>
<line x1="230.0" y1="1247.0" x2="230.0" y2="1250.5" stroke="#6a9ee6" stroke-width="1.2"/>
<line x1="300.0" y1="1247.0" x2="300.0" y2="1250.5" stroke="#6a9ee6" stroke-width="1.2"/>
<line x1="370.0" y1="1247.0" x2="370.0" y2="1250.5" stroke="#6a9ee6" stroke-width="1.2"/>
<line x1="440.0" y1="1247.0" x2="440.0" y2="1250.5" stroke="#6a9ee6" stroke-width="1.2"/>
<line x1="510.0" y1="1247.0" x2="510.0" y2="1250.5" stroke="#6a9ee6" stroke-width="1.2"/>
<line x1="580.0" y1="1247.0" x2="580.0" y2="1250.5" stroke="#6a9ee6" stroke-width="1.2"/>
<line x1="650.0" y1="1247.0" x2="650.0" y2="1250.5" stroke="#6a9ee6" stroke-width="1.2"/>
<text x="79.6" y="1152.2" font-size="10.8" font-weight="bold" fill="#1a1a1a" text-anchor="end" textLength="12.8" lengthAdjust="spacingAndGlyphs">25</text>
<text x="79.6" y="1171.9" font-size="10.8" font-weight="bold" fill="#1a1a1a" text-anchor="end" textLength="12.8" lengthAdjust="spacingAndGlyphs">20</text>
<text x="79.6" y="1191.5" font-size="10.8" font-weight="bold" fill="#1a1a1a" text-anchor="end" textLength="12.8" lengthAdjust="spacingAndGlyphs">15</text>
<text x="79.6" y="1211.2" font-size="10.8" font-weight="bold" fill="#1a1a1a" text-anchor="end" textLength="12.8" lengthAdjust="spacingAndGlyphs">10</text>
<text x="79.6" y="1230.9" font-size="10.8" font-weight="bold" fill="#1a1a1a" text-anchor="end" textLength="6.4" lengthAdjust="spacingAndGlyphs">5</text>
<text x="79.6" y="1250.6" font-size="10.8" font-weight="bold" fill="#1a1a1a" text-anchor="end" textLength="6.4" lengthAdjust="spacingAndGlyphs">0</text>
<text x="79.6" y="1270.3" font-size="10.8" font-weight="bold" fill="#1a1a1a" text-anchor="end" textLength="10.4" lengthAdjust="spacingAndGlyphs">-5</text>
<text x="79.6" y="1290.0" font-size="10.8" font-weight="bold" fill="#1a1a1a" text-anchor="end" textLength="16.8" lengthAdjust="spacingAndGlyphs">-10</text>
<text x="90.0" y="1267.6" font-size="10.8" font-weight="bold" fill="#1a1a1a" text-anchor="middle" textLength="12.8" lengthAdjust="spacingAndGlyphs">10</text>
<text x="160.0" y="1267.6" font-size="10.8" font-weight="bold" fill="#1a1a1a" text-anchor="middle" textLength="12.8" lengthAdjust="spacingAndGlyphs">15</text>
<text x="230.0" y="1267.6" font-size="10.8" font-weight="bold" fill="#1a1a1a" text-anchor="middle" textLength="12.8" lengthAdjust="spacingAndGlyphs">20</text>
<text x="300.0" y="1267.6" font-size="10.8" font-weight="bold" fill="#1a1a1a" text-anchor="middle" textLength="12.8" lengthAdjust="spacingAndGlyphs">25</text>
<text x="370.0" y="1267.6" font-size="10.8" font-weight="bold" fill="#1a1a1a" text-anchor="middle" textLength="12.8" lengthAdjust="spacingAndGlyphs">30</text>
<text x="440.0" y="1267.6" font-size="10.8" font-weight="bold" fill="#1a1a1a" text-anchor="middle" textLength="12.8" lengthAdjust="spacingAndGlyphs">35</text>
<text x="510.0" y="1267.6" font-size="10.8" font-weight="bold" fill="#1a1a1a" text-anchor="middle" textLength="12.8" lengthAdjust="spacingAndGlyphs">40</text>
<text x="580.0" y="1267.6" font-size="10.8" font-weight="bold" fill="#1a1a1a" text-anchor="middle" textLength="12.8" lengthAdjust="spacingAndGlyphs">45</text>
<text x="650.0" y="1267.6" font-size="10.8" font-weight="bold" fill="#1a1a1a" text-anchor="middle" textLength="12.8" lengthAdjust="spacingAndGlyphs">50</text>
<text x="370.0" y="1301.0" font-size="10" font-weight="bold" fill="#1a1a1a" text-anchor="middle">µm</text>
<text transform="translate(62.3 1207.0) rotate(-90)" font-size="10" font-weight="bold" fill="#1a1a1a" text-anchor="middle">µm</text>
<path d="M90.1 1258.9C92.4 1258.7 97.9 1257.7 104.1 1257.7C110.3 1257.8 114.8 1259.0 127.5 1259.2C140.2 1259.4 168.8 1258.8 180.0 1258.9C191.2 1259.0 190.6 1259.6 194.5 1259.8C198.4 1260.0 201.5 1262.6 203.3 1260.3C205.2 1258.0 204.9 1254.0 205.6 1245.8C206.3 1237.5 207.0 1218.6 207.6 1210.8C208.2 1203.0 207.9 1201.2 209.1 1199.1C210.3 1197.0 213.4 1198.8 214.9 1198.3C216.4 1197.8 216.8 1196.2 217.8 1196.2C218.8 1196.2 218.9 1198.2 220.8 1198.3C222.8 1198.4 227.1 1197.1 229.5 1197.1C231.9 1197.1 233.1 1198.4 235.0 1198.2C236.9 1198.0 239.3 1196.1 241.2 1195.8C243.0 1195.5 244.4 1196.5 246.1 1196.5C247.8 1196.5 249.4 1195.6 251.1 1195.8C252.8 1196.0 253.7 1197.4 256.0 1197.7C258.3 1198.0 262.2 1197.9 264.7 1197.7C267.2 1197.5 268.8 1197.1 270.9 1196.5C273.0 1195.9 275.0 1194.3 277.1 1194.0C279.2 1193.7 281.6 1193.9 283.3 1194.5C285.0 1195.1 286.3 1194.5 287.5 1197.5C288.7 1200.5 289.8 1210.2 290.7 1212.4C291.6 1214.6 292.4 1213.0 293.2 1210.6C294.0 1208.2 295.0 1200.4 295.7 1198.2C296.4 1196.0 296.9 1195.8 297.4 1197.5C297.9 1199.2 298.1 1208.5 298.9 1208.2C299.6 1207.9 301.0 1198.1 301.9 1195.8C302.8 1193.5 303.4 1193.3 304.3 1194.5C305.2 1195.7 306.4 1201.1 307.3 1203.2C308.2 1205.3 309.0 1208.1 309.8 1206.9C310.6 1205.7 311.2 1198.3 312.3 1195.8C313.4 1193.3 315.1 1188.9 316.2 1192.0C317.3 1195.1 317.9 1213.9 318.7 1214.3C319.5 1214.7 320.1 1198.1 321.2 1194.5C322.3 1190.9 323.9 1192.9 325.4 1192.5C326.9 1192.1 329.0 1192.7 330.4 1192.0C331.8 1191.3 332.6 1189.5 333.6 1188.3C334.6 1187.1 335.8 1184.4 336.6 1184.6C337.4 1184.8 337.7 1184.4 338.3 1189.6C338.9 1194.8 339.7 1213.5 340.3 1215.6C340.9 1217.7 341.3 1206.3 342.0 1202.0C342.7 1197.7 343.4 1191.2 344.5 1189.6C345.6 1188.0 347.1 1191.1 348.5 1192.5C349.9 1193.9 351.6 1197.4 352.7 1198.2C353.8 1199.0 354.4 1199.2 355.2 1197.5C356.0 1195.8 356.7 1189.6 357.6 1188.3C358.6 1187.0 359.9 1191.1 360.9 1189.6C361.9 1188.1 363.0 1180.0 363.8 1179.2C364.6 1178.4 365.1 1178.5 365.8 1184.6C366.6 1190.7 367.5 1212.3 368.3 1215.6C369.1 1218.9 369.9 1207.3 370.8 1204.4C371.7 1201.5 372.7 1200.1 373.7 1198.2C374.7 1196.3 375.7 1194.3 376.7 1193.3C377.7 1192.3 378.9 1192.4 379.9 1192.0C380.8 1191.6 381.6 1191.8 382.4 1190.8C383.2 1189.8 383.9 1182.1 384.9 1185.8C385.9 1189.5 387.6 1211.4 388.6 1213.1C389.6 1214.8 390.5 1198.8 391.1 1195.8C391.7 1192.8 391.4 1194.0 392.0 1195.0C392.6 1196.0 393.7 1198.7 394.5 1201.5C395.3 1204.3 396.1 1212.5 396.9 1211.9C397.7 1211.4 398.5 1200.7 399.4 1198.2C400.3 1195.7 401.7 1197.0 402.4 1197.0C403.1 1197.0 403.1 1203.0 403.6 1198.2C404.1 1193.5 404.8 1168.5 405.4 1168.5C405.9 1168.5 406.5 1192.7 406.9 1198.2C407.3 1203.7 406.9 1201.6 407.8 1201.5C408.7 1201.4 410.8 1197.8 412.3 1197.5C413.8 1197.2 415.6 1200.0 416.8 1200.0C418.0 1200.0 418.6 1197.7 419.7 1197.5C420.8 1197.3 422.1 1199.0 423.5 1199.0C424.9 1199.0 427.2 1198.9 428.4 1197.5C429.6 1196.1 430.1 1192.6 430.9 1190.8C431.7 1189.0 432.6 1186.4 433.4 1186.6C434.2 1186.8 435.0 1189.4 435.8 1192.0C436.6 1194.6 437.3 1199.7 438.3 1202.0C439.3 1204.3 441.1 1204.7 442.0 1205.7C442.9 1206.7 443.4 1208.0 444.0 1208.2C444.6 1208.4 445.2 1206.1 445.8 1206.9C446.4 1207.7 446.9 1215.4 447.5 1213.1C448.1 1210.8 448.8 1197.9 449.5 1193.3C450.2 1188.7 451.3 1185.0 452.0 1185.4C452.7 1185.8 453.3 1191.4 453.9 1195.8C454.5 1200.2 454.8 1209.6 455.7 1211.9C456.6 1214.2 457.9 1210.2 459.4 1209.4C460.8 1208.6 463.2 1209.8 464.4 1206.9C465.5 1204.0 465.7 1193.5 466.3 1192.0C466.9 1190.5 467.4 1195.8 468.1 1198.2C468.8 1200.6 469.5 1205.4 470.5 1206.4C471.5 1207.4 473.3 1205.9 474.3 1204.4C475.3 1203.0 475.9 1198.1 476.7 1197.7C477.5 1197.3 478.2 1201.1 479.2 1202.0C480.2 1202.9 481.0 1202.0 482.9 1203.2C484.8 1204.4 488.5 1209.2 490.4 1209.4C492.3 1209.6 492.9 1206.1 494.1 1204.4C495.3 1202.8 496.6 1200.3 497.8 1199.5C499.0 1198.7 500.6 1198.9 501.5 1199.5C502.4 1200.1 502.7 1203.3 503.5 1203.2C504.3 1203.1 504.8 1199.3 506.5 1198.7C508.2 1198.1 511.8 1199.5 513.9 1199.5C516.0 1199.5 517.9 1199.0 518.9 1198.7C519.9 1198.4 519.4 1197.0 520.0 1197.4C520.6 1197.8 521.4 1200.3 522.4 1201.1C523.4 1201.9 524.8 1201.0 526.0 1202.3C527.2 1203.6 528.5 1208.4 529.7 1209.0C530.9 1209.6 532.1 1206.8 533.3 1205.9C534.5 1205.0 535.7 1203.4 536.9 1203.5C538.1 1203.6 539.4 1205.7 540.6 1206.6C541.8 1207.5 543.2 1208.1 544.2 1209.0C545.2 1209.9 545.8 1212.8 546.6 1212.0C547.4 1211.2 548.2 1205.2 549.0 1204.2C549.8 1203.2 550.3 1205.9 551.5 1205.9C552.7 1205.9 555.1 1203.8 556.3 1204.2C557.5 1204.6 558.0 1205.2 558.7 1208.3C559.4 1211.4 560.1 1221.2 560.7 1222.8C561.3 1224.4 561.8 1220.1 562.3 1218.0C562.8 1215.9 563.2 1209.0 563.6 1210.0C564.0 1211.0 564.4 1222.6 564.8 1224.1C565.2 1225.6 565.5 1219.3 566.0 1219.2C566.5 1219.1 567.3 1224.0 567.9 1223.6C568.5 1223.2 569.0 1217.7 569.6 1216.8C570.2 1215.9 570.6 1215.8 571.3 1218.0C572.0 1220.2 573.0 1229.5 573.7 1230.1C574.4 1230.7 575.1 1224.1 575.7 1221.6C576.4 1219.1 576.8 1215.6 577.6 1214.9C578.4 1214.2 579.5 1217.2 580.5 1217.3C581.5 1217.4 582.2 1216.1 583.4 1215.6C584.6 1215.1 586.3 1214.6 587.8 1214.4C589.3 1214.2 591.3 1214.6 592.6 1214.4C593.9 1214.2 594.7 1212.9 595.7 1213.2C596.7 1213.5 597.7 1215.3 598.6 1216.3C599.5 1217.3 600.3 1218.3 601.1 1219.2C601.9 1220.1 602.9 1218.0 603.5 1221.6C604.1 1225.2 604.2 1235.5 604.7 1241.0C605.2 1246.5 605.7 1250.9 606.6 1254.3C607.5 1257.7 608.5 1260.6 610.0 1261.6C611.5 1262.6 613.2 1260.3 615.6 1260.4C618.0 1260.5 621.7 1261.9 624.1 1262.0C626.5 1262.1 627.3 1261.2 630.1 1261.1C632.9 1261.0 637.6 1261.6 641.0 1261.6C644.4 1261.5 649.1 1260.9 650.7 1260.8" fill="none" stroke="#c00000" stroke-width="2.8" stroke-linejoin="round" stroke-linecap="round"/>
</svg>
</body></html>
